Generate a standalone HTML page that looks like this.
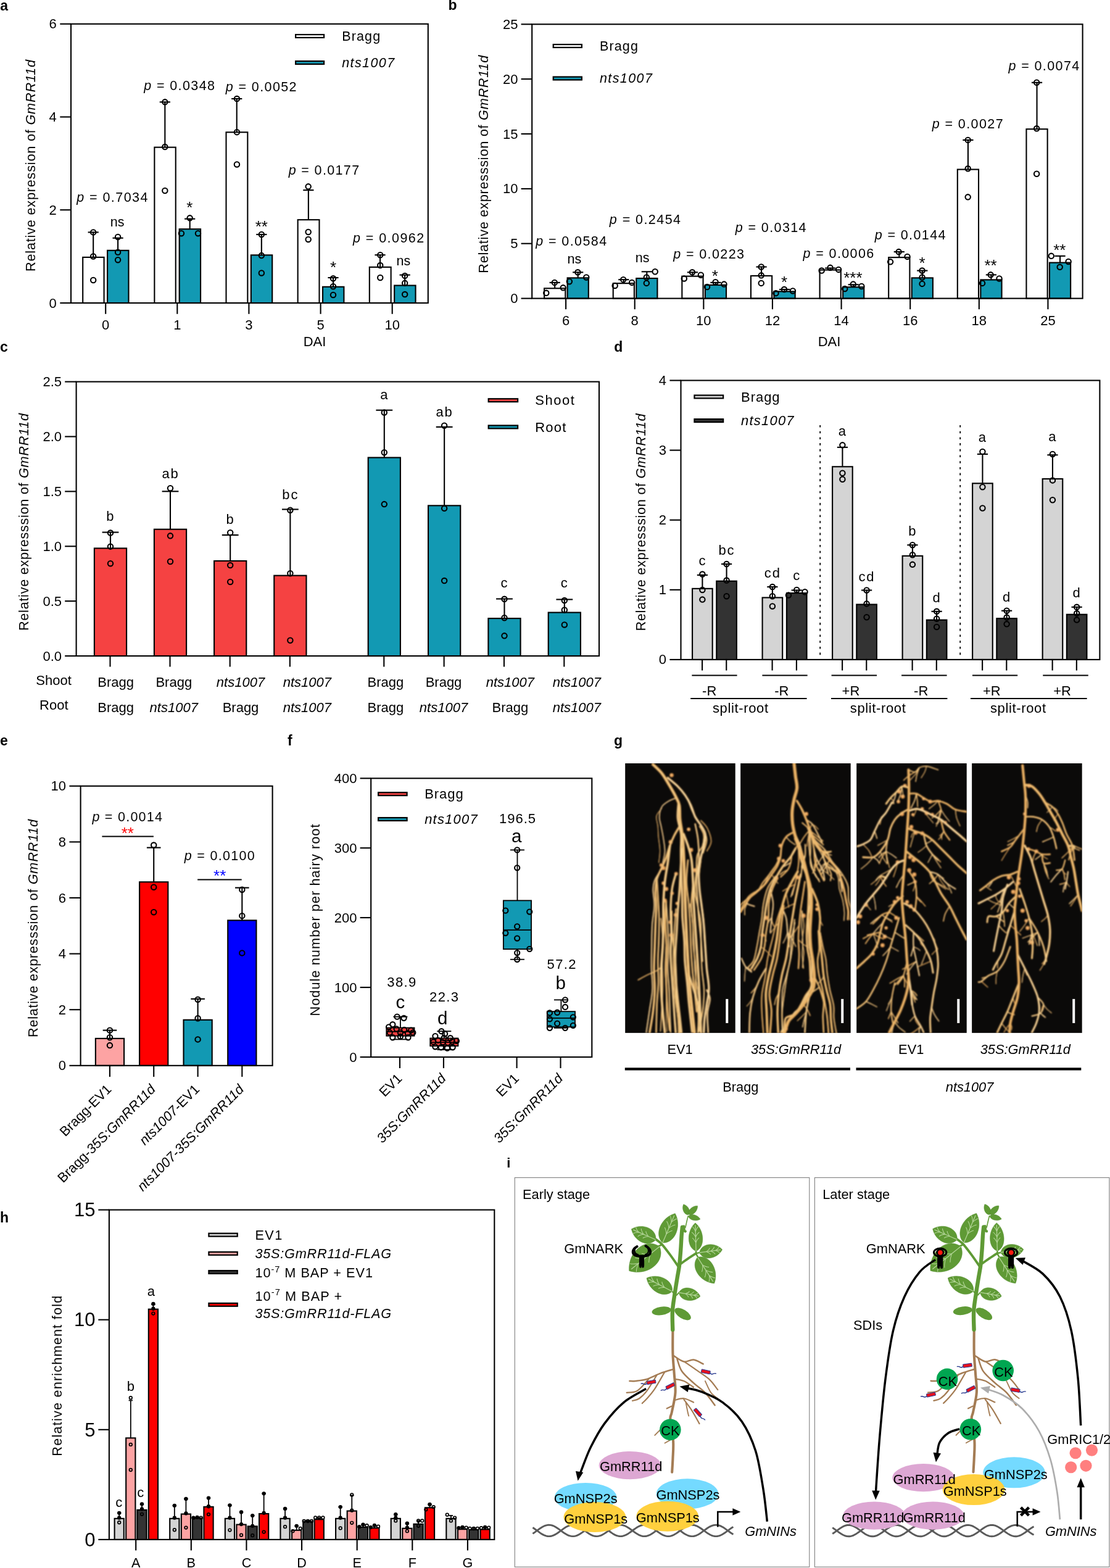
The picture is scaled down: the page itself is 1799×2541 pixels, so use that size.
<!DOCTYPE html>
<html lang="en"><head><meta charset="utf-8"><title>Figure</title>
<style>
html,body{margin:0;padding:0;background:#fff;}
body{width:1799px;height:2541px;overflow:hidden;}
svg{display:block;font-family:"Liberation Sans",Arial,Helvetica,sans-serif;}
svg text{white-space:pre;}
</style></head><body>
<svg width="1799" height="2541" viewBox="0 0 1799 2541">
<rect width="1799" height="2541" fill="#fff"/>
<text x="0.3" y="16.6" font-size="23" font-weight="bold">a</text>
<line x1="151.18" y1="416.31" x2="151.18" y2="376.4" stroke="#000" stroke-width="2.1" />
<line x1="142.58" y1="376.4" x2="159.78" y2="376.4" stroke="#000" stroke-width="2.1" />
<rect x="134.19" y="416.91" width="34.38" height="74.09" fill="#fff" stroke="#000" stroke-width="2.1" />
<line x1="191.08" y1="405.22" x2="191.08" y2="385.71" stroke="#000" stroke-width="2.1" />
<line x1="182.48" y1="385.71" x2="199.68" y2="385.71" stroke="#000" stroke-width="2.1" />
<rect x="174.09" y="405.82" width="34.38" height="85.18" fill="#1299B3" stroke="#000" stroke-width="2.1" />
<line x1="267.34" y1="238.08" x2="267.34" y2="165.37" stroke="#000" stroke-width="2.1" />
<line x1="258.74" y1="165.37" x2="275.94" y2="165.37" stroke="#000" stroke-width="2.1" />
<rect x="250.35" y="238.68" width="34.38" height="252.32" fill="#fff" stroke="#000" stroke-width="2.1" />
<line x1="307.68" y1="370.64" x2="307.68" y2="354.68" stroke="#000" stroke-width="2.1" />
<line x1="299.08" y1="354.68" x2="316.28" y2="354.68" stroke="#000" stroke-width="2.1" />
<rect x="290.69" y="371.24" width="34.38" height="119.76" fill="#1299B3" stroke="#000" stroke-width="2.1" />
<line x1="383.72" y1="213.69" x2="383.72" y2="160.05" stroke="#000" stroke-width="2.1" />
<line x1="375.12" y1="160.05" x2="392.32" y2="160.05" stroke="#000" stroke-width="2.1" />
<rect x="366.51" y="214.29" width="34.82" height="276.71" fill="#fff" stroke="#000" stroke-width="2.1" />
<line x1="423.84" y1="412.76" x2="423.84" y2="379.95" stroke="#000" stroke-width="2.1" />
<line x1="415.24" y1="379.95" x2="432.44" y2="379.95" stroke="#000" stroke-width="2.1" />
<rect x="406.85" y="413.36" width="34.38" height="77.64" fill="#1299B3" stroke="#000" stroke-width="2.1" />
<line x1="499.88" y1="355.57" x2="499.88" y2="308.13" stroke="#000" stroke-width="2.1" />
<line x1="491.28" y1="308.13" x2="508.48" y2="308.13" stroke="#000" stroke-width="2.1" />
<rect x="482.66" y="356.17" width="34.82" height="134.83" fill="#fff" stroke="#000" stroke-width="2.1" />
<line x1="540" y1="464.19" x2="540" y2="450" stroke="#000" stroke-width="2.1" />
<line x1="531.4" y1="450" x2="548.6" y2="450" stroke="#000" stroke-width="2.1" />
<rect x="523.01" y="464.79" width="34.38" height="26.21" fill="#1299B3" stroke="#000" stroke-width="2.1" />
<line x1="616.03" y1="432.27" x2="616.03" y2="413.2" stroke="#000" stroke-width="2.1" />
<line x1="607.43" y1="413.2" x2="624.63" y2="413.2" stroke="#000" stroke-width="2.1" />
<rect x="598.82" y="432.87" width="34.82" height="58.13" fill="#fff" stroke="#000" stroke-width="2.1" />
<line x1="656.16" y1="461.97" x2="656.16" y2="445.57" stroke="#000" stroke-width="2.1" />
<line x1="647.56" y1="445.57" x2="664.76" y2="445.57" stroke="#000" stroke-width="2.1" />
<rect x="639.17" y="462.57" width="34.38" height="28.43" fill="#1299B3" stroke="#000" stroke-width="2.1" />
<circle cx="151.18" cy="376.4" r="4.2" fill="none" stroke="#000" stroke-width="2.1"/>
<circle cx="151.18" cy="415.42" r="4.2" fill="none" stroke="#000" stroke-width="2.1"/>
<circle cx="151.18" cy="453.99" r="4.2" fill="none" stroke="#000" stroke-width="2.1"/>
<circle cx="191.08" cy="383.94" r="4.2" fill="none" stroke="#000" stroke-width="2.1"/>
<circle cx="191.08" cy="408.77" r="4.2" fill="none" stroke="#000" stroke-width="2.1"/>
<circle cx="191.08" cy="421.18" r="4.2" fill="none" stroke="#000" stroke-width="2.1"/>
<circle cx="267.34" cy="165.37" r="4.2" fill="none" stroke="#000" stroke-width="2.1"/>
<circle cx="267.34" cy="238.08" r="4.2" fill="none" stroke="#000" stroke-width="2.1"/>
<circle cx="267.34" cy="309.01" r="4.2" fill="none" stroke="#000" stroke-width="2.1"/>
<circle cx="307.68" cy="353.35" r="4.2" fill="none" stroke="#000" stroke-width="2.1"/>
<circle cx="293.94" cy="378.18" r="4.2" fill="none" stroke="#000" stroke-width="2.1"/>
<circle cx="320.99" cy="378.18" r="4.2" fill="none" stroke="#000" stroke-width="2.1"/>
<circle cx="383.94" cy="160.05" r="4.2" fill="none" stroke="#000" stroke-width="2.1"/>
<circle cx="383.94" cy="214.14" r="4.2" fill="none" stroke="#000" stroke-width="2.1"/>
<circle cx="383.94" cy="266.45" r="4.2" fill="none" stroke="#000" stroke-width="2.1"/>
<circle cx="423.84" cy="379.95" r="4.2" fill="none" stroke="#000" stroke-width="2.1"/>
<circle cx="423.84" cy="414.09" r="4.2" fill="none" stroke="#000" stroke-width="2.1"/>
<circle cx="423.84" cy="442.46" r="4.2" fill="none" stroke="#000" stroke-width="2.1"/>
<circle cx="499.66" cy="302.36" r="4.2" fill="none" stroke="#000" stroke-width="2.1"/>
<circle cx="499.66" cy="375.96" r="4.2" fill="none" stroke="#000" stroke-width="2.1"/>
<circle cx="499.66" cy="387.93" r="4.2" fill="none" stroke="#000" stroke-width="2.1"/>
<circle cx="540" cy="451.33" r="4.2" fill="none" stroke="#000" stroke-width="2.1"/>
<circle cx="540" cy="464.19" r="4.2" fill="none" stroke="#000" stroke-width="2.1"/>
<circle cx="540" cy="477.93" r="4.2" fill="none" stroke="#000" stroke-width="2.1"/>
<circle cx="616.26" cy="413.2" r="4.2" fill="none" stroke="#000" stroke-width="2.1"/>
<circle cx="616.26" cy="430.05" r="4.2" fill="none" stroke="#000" stroke-width="2.1"/>
<circle cx="616.26" cy="450" r="4.2" fill="none" stroke="#000" stroke-width="2.1"/>
<circle cx="656.16" cy="446.9" r="4.2" fill="none" stroke="#000" stroke-width="2.1"/>
<circle cx="656.16" cy="458.87" r="4.2" fill="none" stroke="#000" stroke-width="2.1"/>
<circle cx="656.16" cy="477.04" r="4.2" fill="none" stroke="#000" stroke-width="2.1"/>
<rect x="115" y="38.8" width="578.8" height="452.2" fill="none" stroke="#000" stroke-width="2.1" />
<line x1="97.3" y1="38.8" x2="115" y2="38.8" stroke="#000" stroke-width="2.1" />
<text x="91.8" y="46.39" font-size="22" text-anchor="end">6</text>
<line x1="97.3" y1="189.5" x2="115" y2="189.5" stroke="#000" stroke-width="2.1" />
<text x="91.8" y="197.09" font-size="22" text-anchor="end">4</text>
<line x1="97.3" y1="340.2" x2="115" y2="340.2" stroke="#000" stroke-width="2.1" />
<text x="91.8" y="347.79" font-size="22" text-anchor="end">2</text>
<line x1="97.3" y1="491" x2="115" y2="491" stroke="#000" stroke-width="2.1" />
<text x="91.8" y="498.59" font-size="22" text-anchor="end">0</text>
<line x1="171.2" y1="491" x2="171.2" y2="508.8" stroke="#000" stroke-width="2.1" />
<text x="171.2" y="533.89" font-size="22" text-anchor="middle">0</text>
<line x1="287.3" y1="491" x2="287.3" y2="508.8" stroke="#000" stroke-width="2.1" />
<text x="287.3" y="533.89" font-size="22" text-anchor="middle">1</text>
<line x1="403.4" y1="491" x2="403.4" y2="508.8" stroke="#000" stroke-width="2.1" />
<text x="403.4" y="533.89" font-size="22" text-anchor="middle">3</text>
<line x1="519.6" y1="491" x2="519.6" y2="508.8" stroke="#000" stroke-width="2.1" />
<text x="519.6" y="533.89" font-size="22" text-anchor="middle">5</text>
<line x1="635.7" y1="491" x2="635.7" y2="508.8" stroke="#000" stroke-width="2.1" />
<text x="635.7" y="533.89" font-size="22" text-anchor="middle">10</text>
<text x="510" y="561.09" font-size="22" text-anchor="middle">DAI</text>
<text font-size="21.7" text-anchor="middle" textLength="343" lengthAdjust="spacing" transform="translate(57.3 268.5) rotate(-90)">Relative expression of <tspan font-style="italic">GmRR11d</tspan></text>
<text x="124.14" y="327.22" font-size="21.5" textLength="115.27" lengthAdjust="spacing"><tspan font-style="italic">p</tspan> = 0.7034</text>
<text x="233.2" y="145.89" font-size="21.5" textLength="114.83" lengthAdjust="spacing"><tspan font-style="italic">p</tspan> = 0.0348</text>
<text x="365.76" y="148.1" font-size="21.5" textLength="114.83" lengthAdjust="spacing"><tspan font-style="italic">p</tspan> = 0.0052</text>
<text x="467.73" y="282.88" font-size="21.5" textLength="114.38" lengthAdjust="spacing"><tspan font-style="italic">p</tspan> = 0.0177</text>
<text x="571.92" y="392.83" font-size="21.5" textLength="115.27" lengthAdjust="spacing"><tspan font-style="italic">p</tspan> = 0.0962</text>
<text x="190.2" y="367.03" font-size="21.5" text-anchor="middle">ns</text>
<text x="653.94" y="430.43" font-size="21.5" text-anchor="middle">ns</text>
<text x="307.24" y="344.81" font-size="26" text-anchor="middle">*</text>
<text x="423.84" y="375.85" font-size="26" text-anchor="middle">**</text>
<text x="540" y="442.35" font-size="26" text-anchor="middle">*</text>
<rect x="479.12" y="56.07" width="45.95" height="4.9" fill="#fff" stroke="#000" stroke-width="2.2" />
<text x="554.19" y="65.94" font-size="21.5" textLength="62" lengthAdjust="spacing">Bragg</text>
<rect x="479.12" y="99.08" width="45.95" height="4.9" fill="#1299B3" stroke="#000" stroke-width="2.2" />
<text x="554.19" y="108.94" font-size="21.5" textLength="85" lengthAdjust="spacing"><tspan font-style="italic">nts1007</tspan></text>
<text x="726.5" y="16.3" font-size="23" font-weight="bold">b</text>
<line x1="899.2" y1="466.69" x2="899.2" y2="457.88" stroke="#000" stroke-width="2.1" />
<line x1="890.6" y1="457.88" x2="907.8" y2="457.88" stroke="#000" stroke-width="2.1" />
<rect x="882.1" y="467.29" width="34.2" height="16.31" fill="#fff" stroke="#000" stroke-width="2.1" />
<line x1="936.7" y1="449.75" x2="936.7" y2="441.29" stroke="#000" stroke-width="2.1" />
<line x1="928.1" y1="441.29" x2="945.3" y2="441.29" stroke="#000" stroke-width="2.1" />
<rect x="919.6" y="450.35" width="34.2" height="33.25" fill="#1299B3" stroke="#000" stroke-width="2.1" />
<line x1="1010.82" y1="458.56" x2="1010.82" y2="453.14" stroke="#000" stroke-width="2.1" />
<line x1="1002.22" y1="453.14" x2="1019.42" y2="453.14" stroke="#000" stroke-width="2.1" />
<rect x="993.72" y="459.16" width="34.2" height="24.44" fill="#fff" stroke="#000" stroke-width="2.1" />
<line x1="1048.32" y1="450.43" x2="1048.32" y2="440.27" stroke="#000" stroke-width="2.1" />
<line x1="1039.72" y1="440.27" x2="1056.92" y2="440.27" stroke="#000" stroke-width="2.1" />
<rect x="1031.22" y="451.03" width="34.2" height="32.57" fill="#1299B3" stroke="#000" stroke-width="2.1" />
<line x1="1122.44" y1="447.04" x2="1122.44" y2="441.29" stroke="#000" stroke-width="2.1" />
<line x1="1113.84" y1="441.29" x2="1131.04" y2="441.29" stroke="#000" stroke-width="2.1" />
<rect x="1105.34" y="447.64" width="34.2" height="35.96" fill="#fff" stroke="#000" stroke-width="2.1" />
<line x1="1159.94" y1="461.27" x2="1159.94" y2="457.88" stroke="#000" stroke-width="2.1" />
<line x1="1151.34" y1="457.88" x2="1168.54" y2="457.88" stroke="#000" stroke-width="2.1" />
<rect x="1142.84" y="461.87" width="34.2" height="21.73" fill="#1299B3" stroke="#000" stroke-width="2.1" />
<line x1="1234.06" y1="446.37" x2="1234.06" y2="432.48" stroke="#000" stroke-width="2.1" />
<line x1="1225.46" y1="432.48" x2="1242.66" y2="432.48" stroke="#000" stroke-width="2.1" />
<rect x="1216.96" y="446.97" width="34.2" height="36.63" fill="#fff" stroke="#000" stroke-width="2.1" />
<line x1="1271.56" y1="471.77" x2="1271.56" y2="469.06" stroke="#000" stroke-width="2.1" />
<line x1="1262.96" y1="469.06" x2="1280.16" y2="469.06" stroke="#000" stroke-width="2.1" />
<rect x="1254.46" y="472.37" width="34.2" height="11.23" fill="#1299B3" stroke="#000" stroke-width="2.1" />
<line x1="1345.68" y1="436.88" x2="1345.68" y2="434.51" stroke="#000" stroke-width="2.1" />
<line x1="1337.08" y1="434.51" x2="1354.28" y2="434.51" stroke="#000" stroke-width="2.1" />
<rect x="1328.58" y="437.48" width="34.2" height="46.12" fill="#fff" stroke="#000" stroke-width="2.1" />
<line x1="1383.18" y1="464.66" x2="1383.18" y2="461.27" stroke="#000" stroke-width="2.1" />
<line x1="1374.58" y1="461.27" x2="1391.78" y2="461.27" stroke="#000" stroke-width="2.1" />
<rect x="1366.08" y="465.26" width="34.2" height="18.34" fill="#1299B3" stroke="#000" stroke-width="2.1" />
<line x1="1457.3" y1="416.56" x2="1457.3" y2="408.1" stroke="#000" stroke-width="2.1" />
<line x1="1448.7" y1="408.1" x2="1465.9" y2="408.1" stroke="#000" stroke-width="2.1" />
<rect x="1440.2" y="417.16" width="34.2" height="66.44" fill="#fff" stroke="#000" stroke-width="2.1" />
<line x1="1494.8" y1="449.75" x2="1494.8" y2="438.58" stroke="#000" stroke-width="2.1" />
<line x1="1486.2" y1="438.58" x2="1503.4" y2="438.58" stroke="#000" stroke-width="2.1" />
<rect x="1477.7" y="450.35" width="34.2" height="33.25" fill="#1299B3" stroke="#000" stroke-width="2.1" />
<line x1="1568.92" y1="273.98" x2="1568.92" y2="226.91" stroke="#000" stroke-width="2.1" />
<line x1="1560.32" y1="226.91" x2="1577.52" y2="226.91" stroke="#000" stroke-width="2.1" />
<rect x="1551.82" y="274.58" width="34.2" height="209.02" fill="#fff" stroke="#000" stroke-width="2.1" />
<line x1="1606.42" y1="452.8" x2="1606.42" y2="445.35" stroke="#000" stroke-width="2.1" />
<line x1="1597.82" y1="445.35" x2="1615.02" y2="445.35" stroke="#000" stroke-width="2.1" />
<rect x="1589.32" y="453.4" width="34.2" height="30.2" fill="#1299B3" stroke="#000" stroke-width="2.1" />
<line x1="1680.54" y1="208.62" x2="1680.54" y2="133.77" stroke="#000" stroke-width="2.1" />
<line x1="1671.94" y1="133.77" x2="1689.14" y2="133.77" stroke="#000" stroke-width="2.1" />
<rect x="1663.44" y="209.22" width="34.2" height="274.38" fill="#fff" stroke="#000" stroke-width="2.1" />
<line x1="1718.04" y1="425.03" x2="1718.04" y2="414.87" stroke="#000" stroke-width="2.1" />
<line x1="1709.44" y1="414.87" x2="1726.64" y2="414.87" stroke="#000" stroke-width="2.1" />
<rect x="1700.94" y="425.63" width="34.2" height="57.97" fill="#1299B3" stroke="#000" stroke-width="2.1" />
<circle cx="885.25" cy="474.82" r="4.2" fill="none" stroke="#000" stroke-width="2.1"/>
<circle cx="898.8" cy="457.88" r="4.2" fill="none" stroke="#000" stroke-width="2.1"/>
<circle cx="912.68" cy="466.35" r="4.2" fill="none" stroke="#000" stroke-width="2.1"/>
<circle cx="922.84" cy="456.19" r="4.2" fill="none" stroke="#000" stroke-width="2.1"/>
<circle cx="936.39" cy="441.29" r="4.2" fill="none" stroke="#000" stroke-width="2.1"/>
<circle cx="950.28" cy="449.42" r="4.2" fill="none" stroke="#000" stroke-width="2.1"/>
<circle cx="996.67" cy="462.96" r="4.2" fill="none" stroke="#000" stroke-width="2.1"/>
<circle cx="1010.22" cy="453.14" r="4.2" fill="none" stroke="#000" stroke-width="2.1"/>
<circle cx="1024.11" cy="457.88" r="4.2" fill="none" stroke="#000" stroke-width="2.1"/>
<circle cx="1047.81" cy="449.42" r="4.2" fill="none" stroke="#000" stroke-width="2.1"/>
<circle cx="1047.81" cy="458.9" r="4.2" fill="none" stroke="#000" stroke-width="2.1"/>
<circle cx="1061.7" cy="440.27" r="4.2" fill="none" stroke="#000" stroke-width="2.1"/>
<circle cx="1108.77" cy="451.45" r="4.2" fill="none" stroke="#000" stroke-width="2.1"/>
<circle cx="1121.98" cy="441.29" r="4.2" fill="none" stroke="#000" stroke-width="2.1"/>
<circle cx="1135.87" cy="445.69" r="4.2" fill="none" stroke="#000" stroke-width="2.1"/>
<circle cx="1146.03" cy="464.99" r="4.2" fill="none" stroke="#000" stroke-width="2.1"/>
<circle cx="1159.58" cy="457.2" r="4.2" fill="none" stroke="#000" stroke-width="2.1"/>
<circle cx="1173.46" cy="460.59" r="4.2" fill="none" stroke="#000" stroke-width="2.1"/>
<circle cx="1233.74" cy="432.48" r="4.2" fill="none" stroke="#000" stroke-width="2.1"/>
<circle cx="1233.74" cy="446.37" r="4.2" fill="none" stroke="#000" stroke-width="2.1"/>
<circle cx="1233.74" cy="458.9" r="4.2" fill="none" stroke="#000" stroke-width="2.1"/>
<circle cx="1257.47" cy="475.15" r="4.2" fill="none" stroke="#000" stroke-width="2.1"/>
<circle cx="1271.01" cy="469.06" r="4.2" fill="none" stroke="#000" stroke-width="2.1"/>
<circle cx="1284.9" cy="471.43" r="4.2" fill="none" stroke="#000" stroke-width="2.1"/>
<circle cx="1331.64" cy="438.58" r="4.2" fill="none" stroke="#000" stroke-width="2.1"/>
<circle cx="1345.52" cy="433.84" r="4.2" fill="none" stroke="#000" stroke-width="2.1"/>
<circle cx="1359.07" cy="436.88" r="4.2" fill="none" stroke="#000" stroke-width="2.1"/>
<circle cx="1369.23" cy="468.04" r="4.2" fill="none" stroke="#000" stroke-width="2.1"/>
<circle cx="1382.77" cy="460.59" r="4.2" fill="none" stroke="#000" stroke-width="2.1"/>
<circle cx="1396.32" cy="463.98" r="4.2" fill="none" stroke="#000" stroke-width="2.1"/>
<circle cx="1443.06" cy="424.35" r="4.2" fill="none" stroke="#000" stroke-width="2.1"/>
<circle cx="1456.6" cy="408.1" r="4.2" fill="none" stroke="#000" stroke-width="2.1"/>
<circle cx="1470.49" cy="415.89" r="4.2" fill="none" stroke="#000" stroke-width="2.1"/>
<circle cx="1494.54" cy="438.58" r="4.2" fill="none" stroke="#000" stroke-width="2.1"/>
<circle cx="1494.54" cy="449.42" r="4.2" fill="none" stroke="#000" stroke-width="2.1"/>
<circle cx="1494.54" cy="459.91" r="4.2" fill="none" stroke="#000" stroke-width="2.1"/>
<circle cx="1568.7" cy="226.91" r="4.2" fill="none" stroke="#000" stroke-width="2.1"/>
<circle cx="1568.7" cy="273.31" r="4.2" fill="none" stroke="#000" stroke-width="2.1"/>
<circle cx="1568.7" cy="319.37" r="4.2" fill="none" stroke="#000" stroke-width="2.1"/>
<circle cx="1592.07" cy="458.9" r="4.2" fill="none" stroke="#000" stroke-width="2.1"/>
<circle cx="1605.62" cy="445.35" r="4.2" fill="none" stroke="#000" stroke-width="2.1"/>
<circle cx="1619.5" cy="451.45" r="4.2" fill="none" stroke="#000" stroke-width="2.1"/>
<circle cx="1680.13" cy="133.77" r="4.2" fill="none" stroke="#000" stroke-width="2.1"/>
<circle cx="1680.13" cy="208.28" r="4.2" fill="none" stroke="#000" stroke-width="2.1"/>
<circle cx="1680.13" cy="281.77" r="4.2" fill="none" stroke="#000" stroke-width="2.1"/>
<circle cx="1703.83" cy="414.87" r="4.2" fill="none" stroke="#000" stroke-width="2.1"/>
<circle cx="1717.72" cy="432.82" r="4.2" fill="none" stroke="#000" stroke-width="2.1"/>
<circle cx="1731.6" cy="424.01" r="4.2" fill="none" stroke="#000" stroke-width="2.1"/>
<rect x="862.2" y="39.3" width="892.4" height="444.3" fill="none" stroke="#000" stroke-width="2.1" />
<line x1="844.6" y1="39.3" x2="862.2" y2="39.3" stroke="#000" stroke-width="2.1" />
<text x="839.5" y="46.89" font-size="22" text-anchor="end">25</text>
<line x1="844.6" y1="128.1" x2="862.2" y2="128.1" stroke="#000" stroke-width="2.1" />
<text x="839.5" y="135.69" font-size="22" text-anchor="end">20</text>
<line x1="844.6" y1="217" x2="862.2" y2="217" stroke="#000" stroke-width="2.1" />
<text x="839.5" y="224.59" font-size="22" text-anchor="end">15</text>
<line x1="844.6" y1="305.9" x2="862.2" y2="305.9" stroke="#000" stroke-width="2.1" />
<text x="839.5" y="313.49" font-size="22" text-anchor="end">10</text>
<line x1="844.6" y1="394.7" x2="862.2" y2="394.7" stroke="#000" stroke-width="2.1" />
<text x="839.5" y="402.29" font-size="22" text-anchor="end">5</text>
<line x1="844.6" y1="483.6" x2="862.2" y2="483.6" stroke="#000" stroke-width="2.1" />
<text x="839.5" y="491.19" font-size="22" text-anchor="end">0</text>
<line x1="917.1" y1="483.6" x2="917.1" y2="501.2" stroke="#000" stroke-width="2.1" />
<text x="917.1" y="527.39" font-size="22" text-anchor="middle">6</text>
<line x1="1028.72" y1="483.6" x2="1028.72" y2="501.2" stroke="#000" stroke-width="2.1" />
<text x="1028.72" y="527.39" font-size="22" text-anchor="middle">8</text>
<line x1="1140.34" y1="483.6" x2="1140.34" y2="501.2" stroke="#000" stroke-width="2.1" />
<text x="1140.34" y="527.39" font-size="22" text-anchor="middle">10</text>
<line x1="1251.96" y1="483.6" x2="1251.96" y2="501.2" stroke="#000" stroke-width="2.1" />
<text x="1251.96" y="527.39" font-size="22" text-anchor="middle">12</text>
<line x1="1363.58" y1="483.6" x2="1363.58" y2="501.2" stroke="#000" stroke-width="2.1" />
<text x="1363.58" y="527.39" font-size="22" text-anchor="middle">14</text>
<line x1="1475.2" y1="483.6" x2="1475.2" y2="501.2" stroke="#000" stroke-width="2.1" />
<text x="1475.2" y="527.39" font-size="22" text-anchor="middle">16</text>
<line x1="1586.82" y1="483.6" x2="1586.82" y2="501.2" stroke="#000" stroke-width="2.1" />
<text x="1586.82" y="527.39" font-size="22" text-anchor="middle">18</text>
<line x1="1698.44" y1="483.6" x2="1698.44" y2="501.2" stroke="#000" stroke-width="2.1" />
<text x="1698.44" y="527.39" font-size="22" text-anchor="middle">25</text>
<text x="1344" y="561.09" font-size="22" text-anchor="middle">DAI</text>
<text font-size="21.7" text-anchor="middle" textLength="353" lengthAdjust="spacing" transform="translate(791.3 266.2) rotate(-90)">Relative expresssion of <tspan font-style="italic">GmRR11d</tspan></text>
<text x="868.32" y="397.6" font-size="21.5" textLength="114.81" lengthAdjust="spacing"><tspan font-style="italic">p</tspan> = 0.0584</text>
<text x="987.87" y="362.72" font-size="21.5" textLength="115.15" lengthAdjust="spacing"><tspan font-style="italic">p</tspan> = 0.2454</text>
<text x="1091.16" y="419.28" font-size="21.5" textLength="114.81" lengthAdjust="spacing"><tspan font-style="italic">p</tspan> = 0.0223</text>
<text x="1191.75" y="375.59" font-size="21.5" textLength="114.83" lengthAdjust="spacing"><tspan font-style="italic">p</tspan> = 0.0314</text>
<text x="1301.49" y="417.59" font-size="21.5" textLength="114.81" lengthAdjust="spacing"><tspan font-style="italic">p</tspan> = 0.0006</text>
<text x="1417.66" y="388.12" font-size="21.5" textLength="114.81" lengthAdjust="spacing"><tspan font-style="italic">p</tspan> = 0.0144</text>
<text x="1510.79" y="207.95" font-size="21.5" textLength="114.81" lengthAdjust="spacing"><tspan font-style="italic">p</tspan> = 0.0027</text>
<text x="1634.41" y="114.14" font-size="21.5" textLength="114.81" lengthAdjust="spacing"><tspan font-style="italic">p</tspan> = 0.0074</text>
<text x="930.97" y="426.66" font-size="21.5" text-anchor="middle">ns</text>
<text x="1041.04" y="424.97" font-size="21.5" text-anchor="middle">ns</text>
<text x="1158.9" y="455.96" font-size="26" text-anchor="middle">*</text>
<text x="1271.01" y="466.12" font-size="26" text-anchor="middle">*</text>
<text x="1382.44" y="459.34" font-size="26" text-anchor="middle">***</text>
<text x="1494.54" y="434.62" font-size="26" text-anchor="middle">*</text>
<text x="1605.62" y="439.02" font-size="26" text-anchor="middle">**</text>
<text x="1717.38" y="414.3" font-size="26" text-anchor="middle">**</text>
<rect x="896.73" y="72.06" width="46.14" height="4.9" fill="#fff" stroke="#000" stroke-width="2.2" />
<text x="971.95" y="81.92" font-size="21.5" textLength="62" lengthAdjust="spacing">Bragg</text>
<rect x="896.73" y="124.55" width="46.14" height="4.9" fill="#1299B3" stroke="#000" stroke-width="2.2" />
<text x="971.95" y="134.42" font-size="21.5" textLength="85" lengthAdjust="spacing"><tspan font-style="italic">nts1007</tspan></text>
<text x="0" y="570" font-size="23" font-weight="bold">c</text>
<line x1="178.99" y1="887.88" x2="178.99" y2="862.59" stroke="#000" stroke-width="2.1" />
<line x1="165.59" y1="862.59" x2="192.39" y2="862.59" stroke="#000" stroke-width="2.1" />
<rect x="152.89" y="888.48" width="52.2" height="174.52" fill="#F54242" stroke="#000" stroke-width="2.1" />
<circle cx="178.99" cy="863.55" r="4.2" fill="none" stroke="#000" stroke-width="2.1"/>
<circle cx="178.99" cy="885.64" r="4.2" fill="none" stroke="#000" stroke-width="2.1"/>
<circle cx="178.99" cy="913.18" r="4.2" fill="none" stroke="#000" stroke-width="2.1"/>
<text x="178.49" y="844" font-size="22" text-anchor="middle">b</text>
<line x1="178.49" y1="1063" x2="178.49" y2="1080.5" stroke="#000" stroke-width="2.1" />
<line x1="276.01" y1="857.14" x2="276.01" y2="796.31" stroke="#000" stroke-width="2.1" />
<line x1="262.61" y1="796.31" x2="289.41" y2="796.31" stroke="#000" stroke-width="2.1" />
<rect x="249.91" y="857.74" width="52.2" height="205.26" fill="#F54242" stroke="#000" stroke-width="2.1" />
<circle cx="276.01" cy="791.18" r="4.2" fill="none" stroke="#000" stroke-width="2.1"/>
<circle cx="276.01" cy="868.35" r="4.2" fill="none" stroke="#000" stroke-width="2.1"/>
<circle cx="276.01" cy="909.98" r="4.2" fill="none" stroke="#000" stroke-width="2.1"/>
<text x="275.51" y="775.16" font-size="22" text-anchor="middle" textLength="26.27" lengthAdjust="spacing">ab</text>
<line x1="275.51" y1="1063" x2="275.51" y2="1080.5" stroke="#000" stroke-width="2.1" />
<line x1="373.19" y1="908.37" x2="373.19" y2="867.07" stroke="#000" stroke-width="2.1" />
<line x1="359.79" y1="867.07" x2="386.59" y2="867.07" stroke="#000" stroke-width="2.1" />
<rect x="347.09" y="908.97" width="52.2" height="154.03" fill="#F54242" stroke="#000" stroke-width="2.1" />
<circle cx="373.19" cy="863.23" r="4.2" fill="none" stroke="#000" stroke-width="2.1"/>
<circle cx="373.19" cy="916.06" r="4.2" fill="none" stroke="#000" stroke-width="2.1"/>
<circle cx="373.19" cy="942.96" r="4.2" fill="none" stroke="#000" stroke-width="2.1"/>
<text x="372.69" y="848.8" font-size="22" text-anchor="middle">b</text>
<line x1="372.69" y1="1063" x2="372.69" y2="1080.5" stroke="#000" stroke-width="2.1" />
<line x1="470.37" y1="932.07" x2="470.37" y2="825.44" stroke="#000" stroke-width="2.1" />
<line x1="456.97" y1="825.44" x2="483.77" y2="825.44" stroke="#000" stroke-width="2.1" />
<rect x="444.27" y="932.67" width="52.2" height="130.33" fill="#F54242" stroke="#000" stroke-width="2.1" />
<circle cx="470.37" cy="826.72" r="4.2" fill="none" stroke="#000" stroke-width="2.1"/>
<circle cx="470.37" cy="929.19" r="4.2" fill="none" stroke="#000" stroke-width="2.1"/>
<circle cx="470.37" cy="1037.73" r="4.2" fill="none" stroke="#000" stroke-width="2.1"/>
<text x="469.87" y="809.42" font-size="22" text-anchor="middle" textLength="25.04" lengthAdjust="spacing">bc</text>
<line x1="469.87" y1="1063" x2="469.87" y2="1080.5" stroke="#000" stroke-width="2.1" />
<line x1="622.8" y1="740.91" x2="622.8" y2="664.7" stroke="#000" stroke-width="2.1" />
<line x1="609.4" y1="664.7" x2="636.2" y2="664.7" stroke="#000" stroke-width="2.1" />
<rect x="596.7" y="741.51" width="52.2" height="321.49" fill="#1299B3" stroke="#000" stroke-width="2.1" />
<circle cx="622.8" cy="668.55" r="4.2" fill="none" stroke="#000" stroke-width="2.1"/>
<circle cx="622.8" cy="733.23" r="4.2" fill="none" stroke="#000" stroke-width="2.1"/>
<circle cx="622.8" cy="817.12" r="4.2" fill="none" stroke="#000" stroke-width="2.1"/>
<text x="622.3" y="647.48" font-size="22" text-anchor="middle">a</text>
<line x1="622.3" y1="1063" x2="622.3" y2="1080.5" stroke="#000" stroke-width="2.1" />
<line x1="720.14" y1="818.72" x2="720.14" y2="691.92" stroke="#000" stroke-width="2.1" />
<line x1="706.74" y1="691.92" x2="733.54" y2="691.92" stroke="#000" stroke-width="2.1" />
<rect x="694.04" y="819.32" width="52.2" height="243.68" fill="#1299B3" stroke="#000" stroke-width="2.1" />
<circle cx="720.14" cy="689.68" r="4.2" fill="none" stroke="#000" stroke-width="2.1"/>
<circle cx="720.14" cy="823.84" r="4.2" fill="none" stroke="#000" stroke-width="2.1"/>
<circle cx="720.14" cy="941.03" r="4.2" fill="none" stroke="#000" stroke-width="2.1"/>
<text x="719.64" y="675.26" font-size="22" text-anchor="middle" textLength="26.27" lengthAdjust="spacing">ab</text>
<line x1="719.64" y1="1063" x2="719.64" y2="1080.5" stroke="#000" stroke-width="2.1" />
<line x1="817.48" y1="1001.55" x2="817.48" y2="970.49" stroke="#000" stroke-width="2.1" />
<line x1="804.08" y1="970.49" x2="830.88" y2="970.49" stroke="#000" stroke-width="2.1" />
<rect x="791.38" y="1002.15" width="52.2" height="60.85" fill="#1299B3" stroke="#000" stroke-width="2.1" />
<circle cx="817.48" cy="970.81" r="4.2" fill="none" stroke="#000" stroke-width="2.1"/>
<circle cx="817.48" cy="1001.23" r="4.2" fill="none" stroke="#000" stroke-width="2.1"/>
<circle cx="817.48" cy="1030.37" r="4.2" fill="none" stroke="#000" stroke-width="2.1"/>
<text x="816.98" y="952.31" font-size="22" text-anchor="middle">c</text>
<line x1="816.98" y1="1063" x2="816.98" y2="1080.5" stroke="#000" stroke-width="2.1" />
<line x1="914.82" y1="991.95" x2="914.82" y2="971.45" stroke="#000" stroke-width="2.1" />
<line x1="901.42" y1="971.45" x2="928.22" y2="971.45" stroke="#000" stroke-width="2.1" />
<rect x="888.72" y="992.55" width="52.2" height="70.45" fill="#1299B3" stroke="#000" stroke-width="2.1" />
<circle cx="914.82" cy="973.05" r="4.2" fill="none" stroke="#000" stroke-width="2.1"/>
<circle cx="914.82" cy="988.42" r="4.2" fill="none" stroke="#000" stroke-width="2.1"/>
<circle cx="914.82" cy="1012.44" r="4.2" fill="none" stroke="#000" stroke-width="2.1"/>
<text x="914.32" y="952.31" font-size="22" text-anchor="middle">c</text>
<line x1="914.32" y1="1063" x2="914.32" y2="1080.5" stroke="#000" stroke-width="2.1" />
<rect x="123.6" y="618.6" width="847.4" height="444.4" fill="none" stroke="#000" stroke-width="2.1" />
<line x1="105.2" y1="618.6" x2="123.6" y2="618.6" stroke="#000" stroke-width="2.1" />
<text x="100" y="626.19" font-size="22" text-anchor="end">2.5</text>
<line x1="105.2" y1="707.5" x2="123.6" y2="707.5" stroke="#000" stroke-width="2.1" />
<text x="100" y="715.09" font-size="22" text-anchor="end">2.0</text>
<line x1="105.2" y1="796.4" x2="123.6" y2="796.4" stroke="#000" stroke-width="2.1" />
<text x="100" y="803.99" font-size="22" text-anchor="end">1.5</text>
<line x1="105.2" y1="885.3" x2="123.6" y2="885.3" stroke="#000" stroke-width="2.1" />
<text x="100" y="892.89" font-size="22" text-anchor="end">1.0</text>
<line x1="105.2" y1="974.1" x2="123.6" y2="974.1" stroke="#000" stroke-width="2.1" />
<text x="100" y="981.69" font-size="22" text-anchor="end">0.5</text>
<line x1="105.2" y1="1063" x2="123.6" y2="1063" stroke="#000" stroke-width="2.1" />
<text x="100" y="1070.59" font-size="22" text-anchor="end">0.0</text>
<text font-size="21.7" text-anchor="middle" textLength="352" lengthAdjust="spacing" transform="translate(46.3 846) rotate(-90)">Relative expresssion of <tspan font-style="italic">GmRR11d</tspan></text>
<text x="58.28" y="1110.32" font-size="22">Shoot</text>
<text x="64.04" y="1150.35" font-size="22">Root</text>
<text x="187.64" y="1112.89" font-size="22" text-anchor="middle">Bragg</text>
<text x="281.77" y="1112.89" font-size="22" text-anchor="middle">Bragg</text>
<text x="390" y="1112.89" font-size="22" text-anchor="middle"><tspan font-style="italic">nts1007</tspan></text>
<text x="497.91" y="1112.89" font-size="22" text-anchor="middle"><tspan font-style="italic">nts1007</tspan></text>
<text x="624.88" y="1112.89" font-size="22" text-anchor="middle">Bragg</text>
<text x="719.01" y="1112.89" font-size="22" text-anchor="middle">Bragg</text>
<text x="826.92" y="1112.89" font-size="22" text-anchor="middle"><tspan font-style="italic">nts1007</tspan></text>
<text x="934.83" y="1112.89" font-size="22" text-anchor="middle"><tspan font-style="italic">nts1007</tspan></text>
<text x="187.64" y="1153.55" font-size="22" text-anchor="middle">Bragg</text>
<text x="281.77" y="1153.55" font-size="22" text-anchor="middle"><tspan font-style="italic">nts1007</tspan></text>
<text x="390" y="1153.55" font-size="22" text-anchor="middle">Bragg</text>
<text x="497.91" y="1153.55" font-size="22" text-anchor="middle"><tspan font-style="italic">nts1007</tspan></text>
<text x="624.88" y="1153.55" font-size="22" text-anchor="middle">Bragg</text>
<text x="719.01" y="1153.55" font-size="22" text-anchor="middle"><tspan font-style="italic">nts1007</tspan></text>
<text x="826.92" y="1153.55" font-size="22" text-anchor="middle">Bragg</text>
<text x="934.83" y="1153.55" font-size="22" text-anchor="middle"><tspan font-style="italic">nts1007</tspan></text>
<rect x="791.68" y="646.24" width="47.43" height="4.9" fill="#F54242" stroke="#000" stroke-width="2.2" />
<text x="867.27" y="656.28" font-size="22" textLength="63.5" lengthAdjust="spacing">Shoot</text>
<rect x="791.68" y="689.47" width="47.43" height="4.9" fill="#1299B3" stroke="#000" stroke-width="2.2" />
<text x="867.27" y="699.51" font-size="22" textLength="50" lengthAdjust="spacing">Root</text>
<text x="995.3" y="570" font-size="23" font-weight="bold">d</text>
<line x1="1138.38" y1="953.24" x2="1138.38" y2="931.89" stroke="#000" stroke-width="2.1" />
<line x1="1129.78" y1="931.89" x2="1146.98" y2="931.89" stroke="#000" stroke-width="2.1" />
<rect x="1122.08" y="953.84" width="32.6" height="115.06" fill="#D4D4D4" stroke="#000" stroke-width="2.1" />
<circle cx="1138.38" cy="930.54" r="4.2" fill="none" stroke="#000" stroke-width="2.1"/>
<circle cx="1138.38" cy="955.95" r="4.2" fill="none" stroke="#000" stroke-width="2.1"/>
<circle cx="1138.38" cy="971.62" r="4.2" fill="none" stroke="#000" stroke-width="2.1"/>
<text x="1137.88" y="916.37" font-size="22" text-anchor="middle">c</text>
<line x1="1138.08" y1="1068.9" x2="1138.08" y2="1086.5" stroke="#000" stroke-width="2.1" />
<line x1="1177.57" y1="941.08" x2="1177.57" y2="914.05" stroke="#000" stroke-width="2.1" />
<line x1="1168.97" y1="914.05" x2="1186.17" y2="914.05" stroke="#000" stroke-width="2.1" />
<rect x="1161.27" y="941.68" width="32.6" height="127.22" fill="#333333" stroke="#000" stroke-width="2.1" />
<circle cx="1177.57" cy="914.05" r="4.2" fill="none" stroke="#000" stroke-width="2.1"/>
<circle cx="1177.57" cy="940.54" r="4.2" fill="none" stroke="#000" stroke-width="2.1"/>
<circle cx="1177.57" cy="966.22" r="4.2" fill="none" stroke="#000" stroke-width="2.1"/>
<text x="1177.07" y="898.92" font-size="22" text-anchor="middle" textLength="25.04" lengthAdjust="spacing">bc</text>
<line x1="1177.27" y1="1068.9" x2="1177.27" y2="1086.5" stroke="#000" stroke-width="2.1" />
<line x1="1251.89" y1="967.84" x2="1251.89" y2="951.08" stroke="#000" stroke-width="2.1" />
<line x1="1243.29" y1="951.08" x2="1260.49" y2="951.08" stroke="#000" stroke-width="2.1" />
<rect x="1235.59" y="968.44" width="32.6" height="100.46" fill="#D4D4D4" stroke="#000" stroke-width="2.1" />
<circle cx="1251.89" cy="951.08" r="4.2" fill="none" stroke="#000" stroke-width="2.1"/>
<circle cx="1251.89" cy="966.22" r="4.2" fill="none" stroke="#000" stroke-width="2.1"/>
<circle cx="1251.89" cy="982.43" r="4.2" fill="none" stroke="#000" stroke-width="2.1"/>
<text x="1251.39" y="935.95" font-size="22" text-anchor="middle" textLength="25.04" lengthAdjust="spacing">cd</text>
<line x1="1251.59" y1="1068.9" x2="1251.59" y2="1086.5" stroke="#000" stroke-width="2.1" />
<line x1="1291.22" y1="960.54" x2="1291.22" y2="956.49" stroke="#000" stroke-width="2.1" />
<line x1="1282.62" y1="956.49" x2="1299.82" y2="956.49" stroke="#000" stroke-width="2.1" />
<rect x="1274.92" y="961.14" width="32.6" height="107.76" fill="#333333" stroke="#000" stroke-width="2.1" />
<circle cx="1277.97" cy="964.59" r="4.2" fill="none" stroke="#000" stroke-width="2.1"/>
<circle cx="1291.22" cy="955.95" r="4.2" fill="none" stroke="#000" stroke-width="2.1"/>
<circle cx="1304.46" cy="959.19" r="4.2" fill="none" stroke="#000" stroke-width="2.1"/>
<text x="1290.72" y="940.15" font-size="22" text-anchor="middle">c</text>
<line x1="1290.92" y1="1068.9" x2="1290.92" y2="1086.5" stroke="#000" stroke-width="2.1" />
<line x1="1365.41" y1="755.68" x2="1365.41" y2="724.86" stroke="#000" stroke-width="2.1" />
<line x1="1356.81" y1="724.86" x2="1374.01" y2="724.86" stroke="#000" stroke-width="2.1" />
<rect x="1349.11" y="756.28" width="32.6" height="312.62" fill="#D4D4D4" stroke="#000" stroke-width="2.1" />
<circle cx="1365.41" cy="721.35" r="4.2" fill="none" stroke="#000" stroke-width="2.1"/>
<circle cx="1365.41" cy="766.76" r="4.2" fill="none" stroke="#000" stroke-width="2.1"/>
<circle cx="1365.41" cy="776.76" r="4.2" fill="none" stroke="#000" stroke-width="2.1"/>
<text x="1364.91" y="705.56" font-size="22" text-anchor="middle">a</text>
<line x1="1365.11" y1="1068.9" x2="1365.11" y2="1086.5" stroke="#000" stroke-width="2.1" />
<line x1="1404.59" y1="978.92" x2="1404.59" y2="956.49" stroke="#000" stroke-width="2.1" />
<line x1="1395.99" y1="956.49" x2="1413.19" y2="956.49" stroke="#000" stroke-width="2.1" />
<rect x="1388.29" y="979.52" width="32.6" height="89.38" fill="#333333" stroke="#000" stroke-width="2.1" />
<circle cx="1404.59" cy="956.49" r="4.2" fill="none" stroke="#000" stroke-width="2.1"/>
<circle cx="1404.59" cy="978.38" r="4.2" fill="none" stroke="#000" stroke-width="2.1"/>
<circle cx="1404.59" cy="1000.27" r="4.2" fill="none" stroke="#000" stroke-width="2.1"/>
<text x="1404.09" y="942.17" font-size="22" text-anchor="middle" textLength="25.04" lengthAdjust="spacing">cd</text>
<line x1="1404.29" y1="1068.9" x2="1404.29" y2="1086.5" stroke="#000" stroke-width="2.1" />
<line x1="1478.92" y1="900.27" x2="1478.92" y2="883.24" stroke="#000" stroke-width="2.1" />
<line x1="1470.32" y1="883.24" x2="1487.52" y2="883.24" stroke="#000" stroke-width="2.1" />
<rect x="1462.62" y="900.87" width="32.6" height="168.03" fill="#D4D4D4" stroke="#000" stroke-width="2.1" />
<circle cx="1478.92" cy="883.24" r="4.2" fill="none" stroke="#000" stroke-width="2.1"/>
<circle cx="1478.92" cy="899.19" r="4.2" fill="none" stroke="#000" stroke-width="2.1"/>
<circle cx="1478.92" cy="914.86" r="4.2" fill="none" stroke="#000" stroke-width="2.1"/>
<text x="1478.42" y="868.38" font-size="22" text-anchor="middle">b</text>
<line x1="1478.62" y1="1068.9" x2="1478.62" y2="1086.5" stroke="#000" stroke-width="2.1" />
<line x1="1518.11" y1="1004.05" x2="1518.11" y2="990.81" stroke="#000" stroke-width="2.1" />
<line x1="1509.51" y1="990.81" x2="1526.71" y2="990.81" stroke="#000" stroke-width="2.1" />
<rect x="1501.81" y="1004.65" width="32.6" height="64.25" fill="#333333" stroke="#000" stroke-width="2.1" />
<circle cx="1518.11" cy="990.81" r="4.2" fill="none" stroke="#000" stroke-width="2.1"/>
<circle cx="1518.11" cy="1002.7" r="4.2" fill="none" stroke="#000" stroke-width="2.1"/>
<circle cx="1518.11" cy="1015.95" r="4.2" fill="none" stroke="#000" stroke-width="2.1"/>
<text x="1517.61" y="976.49" font-size="22" text-anchor="middle">d</text>
<line x1="1517.81" y1="1068.9" x2="1517.81" y2="1086.5" stroke="#000" stroke-width="2.1" />
<line x1="1592.43" y1="782.7" x2="1592.43" y2="735.95" stroke="#000" stroke-width="2.1" />
<line x1="1583.83" y1="735.95" x2="1601.03" y2="735.95" stroke="#000" stroke-width="2.1" />
<rect x="1576.13" y="783.3" width="32.6" height="285.6" fill="#D4D4D4" stroke="#000" stroke-width="2.1" />
<circle cx="1592.43" cy="731.89" r="4.2" fill="none" stroke="#000" stroke-width="2.1"/>
<circle cx="1592.43" cy="789.19" r="4.2" fill="none" stroke="#000" stroke-width="2.1"/>
<circle cx="1592.43" cy="823.51" r="4.2" fill="none" stroke="#000" stroke-width="2.1"/>
<text x="1591.93" y="716.37" font-size="22" text-anchor="middle">a</text>
<line x1="1592.13" y1="1068.9" x2="1592.13" y2="1086.5" stroke="#000" stroke-width="2.1" />
<line x1="1631.62" y1="1001.62" x2="1631.62" y2="989.73" stroke="#000" stroke-width="2.1" />
<line x1="1623.02" y1="989.73" x2="1640.22" y2="989.73" stroke="#000" stroke-width="2.1" />
<rect x="1615.32" y="1002.22" width="32.6" height="66.68" fill="#333333" stroke="#000" stroke-width="2.1" />
<circle cx="1631.62" cy="989.73" r="4.2" fill="none" stroke="#000" stroke-width="2.1"/>
<circle cx="1631.62" cy="1000.54" r="4.2" fill="none" stroke="#000" stroke-width="2.1"/>
<circle cx="1631.62" cy="1011.35" r="4.2" fill="none" stroke="#000" stroke-width="2.1"/>
<text x="1631.12" y="975.14" font-size="22" text-anchor="middle">d</text>
<line x1="1631.32" y1="1068.9" x2="1631.32" y2="1086.5" stroke="#000" stroke-width="2.1" />
<line x1="1705.95" y1="775.41" x2="1705.95" y2="737.3" stroke="#000" stroke-width="2.1" />
<line x1="1697.35" y1="737.3" x2="1714.55" y2="737.3" stroke="#000" stroke-width="2.1" />
<rect x="1689.65" y="776.01" width="32.6" height="292.89" fill="#D4D4D4" stroke="#000" stroke-width="2.1" />
<circle cx="1705.95" cy="735.95" r="4.2" fill="none" stroke="#000" stroke-width="2.1"/>
<circle cx="1705.95" cy="778.38" r="4.2" fill="none" stroke="#000" stroke-width="2.1"/>
<circle cx="1705.95" cy="810.27" r="4.2" fill="none" stroke="#000" stroke-width="2.1"/>
<text x="1705.45" y="715.02" font-size="22" text-anchor="middle">a</text>
<line x1="1705.65" y1="1068.9" x2="1705.65" y2="1086.5" stroke="#000" stroke-width="2.1" />
<line x1="1745.14" y1="995.14" x2="1745.14" y2="983.78" stroke="#000" stroke-width="2.1" />
<line x1="1736.54" y1="983.78" x2="1753.74" y2="983.78" stroke="#000" stroke-width="2.1" />
<rect x="1728.84" y="995.74" width="32.6" height="73.16" fill="#333333" stroke="#000" stroke-width="2.1" />
<circle cx="1745.14" cy="983.78" r="4.2" fill="none" stroke="#000" stroke-width="2.1"/>
<circle cx="1745.14" cy="994.05" r="4.2" fill="none" stroke="#000" stroke-width="2.1"/>
<circle cx="1745.14" cy="1004.59" r="4.2" fill="none" stroke="#000" stroke-width="2.1"/>
<text x="1744.64" y="968.38" font-size="22" text-anchor="middle">d</text>
<line x1="1744.84" y1="1068.9" x2="1744.84" y2="1086.5" stroke="#000" stroke-width="2.1" />
<line x1="1329.2" y1="689" x2="1329.2" y2="1067" stroke="#000" stroke-width="1.8" stroke-dasharray="3.6 6.1"/>
<line x1="1556.2" y1="689" x2="1556.2" y2="1067" stroke="#000" stroke-width="1.8" stroke-dasharray="3.6 6.1"/>
<rect x="1103.5" y="616.5" width="678.9" height="452.4" fill="none" stroke="#000" stroke-width="2.1" />
<line x1="1085.4" y1="616.5" x2="1103.5" y2="616.5" stroke="#000" stroke-width="2.1" />
<text x="1080" y="624.09" font-size="22" text-anchor="end">4</text>
<line x1="1085.4" y1="729.6" x2="1103.5" y2="729.6" stroke="#000" stroke-width="2.1" />
<text x="1080" y="737.19" font-size="22" text-anchor="end">3</text>
<line x1="1085.4" y1="842.7" x2="1103.5" y2="842.7" stroke="#000" stroke-width="2.1" />
<text x="1080" y="850.29" font-size="22" text-anchor="end">2</text>
<line x1="1085.4" y1="955.8" x2="1103.5" y2="955.8" stroke="#000" stroke-width="2.1" />
<text x="1080" y="963.39" font-size="22" text-anchor="end">1</text>
<line x1="1085.4" y1="1068.9" x2="1103.5" y2="1068.9" stroke="#000" stroke-width="2.1" />
<text x="1080" y="1076.49" font-size="22" text-anchor="end">0</text>
<text font-size="21.7" text-anchor="middle" textLength="352" lengthAdjust="spacing" transform="translate(1046.4 846.5) rotate(-90)">Relative expresssion of <tspan font-style="italic">GmRR11d</tspan></text>
<line x1="1121.35" y1="1094.6" x2="1194.59" y2="1094.6" stroke="#000" stroke-width="2" />
<text x="1149.73" y="1126.51" font-size="22" text-anchor="middle">-R</text>
<line x1="1235.41" y1="1094.6" x2="1308.65" y2="1094.6" stroke="#000" stroke-width="2" />
<text x="1266.76" y="1126.51" font-size="22" text-anchor="middle">-R</text>
<line x1="1347.57" y1="1094.6" x2="1421.08" y2="1094.6" stroke="#000" stroke-width="2" />
<text x="1378.92" y="1126.51" font-size="22" text-anchor="middle">+R</text>
<line x1="1461.08" y1="1094.6" x2="1534.59" y2="1094.6" stroke="#000" stroke-width="2" />
<text x="1492.7" y="1126.51" font-size="22" text-anchor="middle">-R</text>
<line x1="1575.95" y1="1094.6" x2="1649.19" y2="1094.6" stroke="#000" stroke-width="2" />
<text x="1607.3" y="1126.51" font-size="22" text-anchor="middle">+R</text>
<line x1="1690.27" y1="1094.6" x2="1763.78" y2="1094.6" stroke="#000" stroke-width="2" />
<text x="1721.62" y="1126.51" font-size="22" text-anchor="middle">+R</text>
<line x1="1119.19" y1="1131.9" x2="1307.57" y2="1131.9" stroke="#000" stroke-width="2" />
<text x="1200" y="1154.62" font-size="22" text-anchor="middle" textLength="90" lengthAdjust="spacing">split-root</text>
<line x1="1347.03" y1="1131.9" x2="1535.41" y2="1131.9" stroke="#000" stroke-width="2" />
<text x="1422.8" y="1154.62" font-size="22" text-anchor="middle" textLength="90" lengthAdjust="spacing">split-root</text>
<line x1="1572.97" y1="1131.9" x2="1761.62" y2="1131.9" stroke="#000" stroke-width="2" />
<text x="1650" y="1154.62" font-size="22" text-anchor="middle" textLength="90" lengthAdjust="spacing">split-root</text>
<rect x="1125.44" y="640.52" width="46.7" height="4.9" fill="#D4D4D4" stroke="#000" stroke-width="2.2" />
<text x="1201.08" y="650.56" font-size="22" textLength="62.5" lengthAdjust="spacing">Bragg</text>
<rect x="1125.44" y="679.17" width="46.7" height="4.9" fill="#333333" stroke="#000" stroke-width="2.2" />
<text x="1201.08" y="689.21" font-size="22" textLength="85.5" lengthAdjust="spacing"><tspan font-style="italic">nts1007</tspan></text>
<text x="0" y="1208" font-size="23" font-weight="bold">e</text>
<line x1="177.96" y1="1682.49" x2="177.96" y2="1669.63" stroke="#000" stroke-width="2.1" />
<line x1="166.66" y1="1669.63" x2="189.26" y2="1669.63" stroke="#000" stroke-width="2.1" />
<rect x="154.86" y="1682.89" width="46.2" height="43.91" fill="#FDA3A3" stroke="#000" stroke-width="2.1" />
<circle cx="177.96" cy="1669.63" r="4.2" fill="none" stroke="#000" stroke-width="2.1"/>
<circle cx="177.96" cy="1681.24" r="4.2" fill="none" stroke="#000" stroke-width="2.1"/>
<circle cx="177.96" cy="1694.11" r="4.2" fill="none" stroke="#000" stroke-width="2.1"/>
<line x1="177.96" y1="1726.8" x2="177.96" y2="1745" stroke="#000" stroke-width="2.1" />
<line x1="249.21" y1="1428.89" x2="249.21" y2="1373.65" stroke="#000" stroke-width="2.1" />
<line x1="237.91" y1="1373.65" x2="260.51" y2="1373.65" stroke="#000" stroke-width="2.1" />
<rect x="226.11" y="1429.29" width="46.2" height="297.51" fill="#FF0000" stroke="#000" stroke-width="2.1" />
<circle cx="249.21" cy="1369.57" r="4.2" fill="none" stroke="#000" stroke-width="2.1"/>
<circle cx="249.21" cy="1437.68" r="4.2" fill="none" stroke="#000" stroke-width="2.1"/>
<circle cx="249.21" cy="1478.17" r="4.2" fill="none" stroke="#000" stroke-width="2.1"/>
<line x1="249.21" y1="1726.8" x2="249.21" y2="1745" stroke="#000" stroke-width="2.1" />
<line x1="320.61" y1="1652.36" x2="320.61" y2="1618.78" stroke="#000" stroke-width="2.1" />
<line x1="309.31" y1="1618.78" x2="331.91" y2="1618.78" stroke="#000" stroke-width="2.1" />
<rect x="297.51" y="1652.76" width="46.2" height="74.04" fill="#1299B3" stroke="#000" stroke-width="2.1" />
<circle cx="320.61" cy="1619.72" r="4.2" fill="none" stroke="#000" stroke-width="2.1"/>
<circle cx="320.61" cy="1650.17" r="4.2" fill="none" stroke="#000" stroke-width="2.1"/>
<circle cx="320.61" cy="1684.38" r="4.2" fill="none" stroke="#000" stroke-width="2.1"/>
<line x1="320.61" y1="1726.8" x2="320.61" y2="1745" stroke="#000" stroke-width="2.1" />
<line x1="392.33" y1="1491.04" x2="392.33" y2="1438.62" stroke="#000" stroke-width="2.1" />
<line x1="381.03" y1="1438.62" x2="403.63" y2="1438.62" stroke="#000" stroke-width="2.1" />
<rect x="369.23" y="1491.44" width="46.2" height="235.36" fill="#0000FF" stroke="#000" stroke-width="2.1" />
<circle cx="392.33" cy="1441.76" r="4.2" fill="none" stroke="#000" stroke-width="2.1"/>
<circle cx="392.33" cy="1484.13" r="4.2" fill="none" stroke="#000" stroke-width="2.1"/>
<circle cx="392.33" cy="1544.39" r="4.2" fill="none" stroke="#000" stroke-width="2.1"/>
<line x1="392.33" y1="1726.8" x2="392.33" y2="1745" stroke="#000" stroke-width="2.1" />
<rect x="130.6" y="1273.8" width="311" height="453" fill="none" stroke="#000" stroke-width="2.1" />
<line x1="112.4" y1="1273.8" x2="130.6" y2="1273.8" stroke="#000" stroke-width="2.1" />
<text x="107" y="1281.39" font-size="22" text-anchor="end">10</text>
<line x1="112.4" y1="1364.4" x2="130.6" y2="1364.4" stroke="#000" stroke-width="2.1" />
<text x="107" y="1371.99" font-size="22" text-anchor="end">8</text>
<line x1="112.4" y1="1455" x2="130.6" y2="1455" stroke="#000" stroke-width="2.1" />
<text x="107" y="1462.59" font-size="22" text-anchor="end">6</text>
<line x1="112.4" y1="1545.6" x2="130.6" y2="1545.6" stroke="#000" stroke-width="2.1" />
<text x="107" y="1553.19" font-size="22" text-anchor="end">4</text>
<line x1="112.4" y1="1636.2" x2="130.6" y2="1636.2" stroke="#000" stroke-width="2.1" />
<text x="107" y="1643.79" font-size="22" text-anchor="end">2</text>
<line x1="112.4" y1="1726.8" x2="130.6" y2="1726.8" stroke="#000" stroke-width="2.1" />
<text x="107" y="1734.39" font-size="22" text-anchor="end">0</text>
<text font-size="21.7" text-anchor="middle" textLength="353" lengthAdjust="spacing" transform="translate(60.5 1504.5) rotate(-90)">Relative expresssion of <tspan font-style="italic">GmRR11d</tspan></text>
<text x="149.4" y="1330.67" font-size="21.5" textLength="113.62" lengthAdjust="spacing"><tspan font-style="italic">p</tspan> = 0.0014</text>
<text x="298.8" y="1394.07" font-size="21.5" textLength="113.93" lengthAdjust="spacing"><tspan font-style="italic">p</tspan> = 0.0100</text>
<text x="206.84" y="1358.91" font-size="26" text-anchor="middle" fill="#FF0000">**</text>
<text x="356.23" y="1428.27" font-size="26" text-anchor="middle" fill="#0000FF">**</text>
<line x1="165.41" y1="1355.54" x2="248.89" y2="1355.54" stroke="#000" stroke-width="2.1" />
<line x1="320.14" y1="1425.53" x2="391.7" y2="1425.53" stroke="#000" stroke-width="2.1" />
<text font-size="22" text-anchor="end" transform="translate(181.96 1766.7) rotate(-45)">Bragg-EV1</text>
<text font-size="22" text-anchor="end" transform="translate(253.21 1766.7) rotate(-45)">Bragg-<tspan font-style="italic">35S:GmRR11d</tspan></text>
<text font-size="22" text-anchor="end" transform="translate(324.61 1766.7) rotate(-45)"><tspan font-style="italic">nts1007</tspan>-EV1</text>
<text font-size="22" text-anchor="end" transform="translate(396.33 1766.7) rotate(-45)"><tspan font-style="italic">nts1007-35S:GmRR11d</tspan></text>
<text x="466" y="1208" font-size="23" font-weight="bold">f</text>
<line x1="648.9" y1="1647.65" x2="648.9" y2="1665.54" stroke="#000" stroke-width="1.8" />
<line x1="648.9" y1="1678.73" x2="648.9" y2="1684.38" stroke="#000" stroke-width="1.8" />
<line x1="637.4" y1="1647.65" x2="660.4" y2="1647.65" stroke="#000" stroke-width="1.8" />
<line x1="637.4" y1="1684.38" x2="660.4" y2="1684.38" stroke="#000" stroke-width="1.8" />
<rect x="626.3" y="1665.54" width="45.2" height="13.18" fill="#F54242" stroke="#000" stroke-width="1.8" />
<line x1="626.3" y1="1671.82" x2="671.5" y2="1671.82" stroke="#000" stroke-width="1.8" />
<line x1="648" y1="1713" x2="648" y2="1731" stroke="#000" stroke-width="2.1" />
<line x1="719.83" y1="1671.19" x2="719.83" y2="1682.49" stroke="#000" stroke-width="1.8" />
<line x1="719.83" y1="1695.05" x2="719.83" y2="1701.01" stroke="#000" stroke-width="1.8" />
<line x1="708.33" y1="1671.19" x2="731.33" y2="1671.19" stroke="#000" stroke-width="1.8" />
<line x1="708.33" y1="1701.01" x2="731.33" y2="1701.01" stroke="#000" stroke-width="1.8" />
<rect x="697.23" y="1682.49" width="45.2" height="12.55" fill="#F54242" stroke="#000" stroke-width="1.8" />
<line x1="697.23" y1="1689.08" x2="742.43" y2="1689.08" stroke="#000" stroke-width="1.8" />
<line x1="718.93" y1="1713" x2="718.93" y2="1731" stroke="#000" stroke-width="2.1" />
<line x1="838.47" y1="1377.42" x2="838.47" y2="1459.34" stroke="#000" stroke-width="1.8" />
<line x1="838.47" y1="1538.12" x2="838.47" y2="1554.75" stroke="#000" stroke-width="1.8" />
<line x1="826.97" y1="1377.42" x2="849.97" y2="1377.42" stroke="#000" stroke-width="1.8" />
<line x1="826.97" y1="1554.75" x2="849.97" y2="1554.75" stroke="#000" stroke-width="1.8" />
<rect x="815.87" y="1459.34" width="45.2" height="78.78" fill="#1299B3" stroke="#000" stroke-width="1.8" />
<line x1="815.87" y1="1507.04" x2="861.07" y2="1507.04" stroke="#000" stroke-width="1.8" />
<line x1="837.57" y1="1713" x2="837.57" y2="1731" stroke="#000" stroke-width="2.1" />
<line x1="909.41" y1="1620.35" x2="909.41" y2="1639.18" stroke="#000" stroke-width="1.8" />
<line x1="909.41" y1="1664.29" x2="909.41" y2="1665.86" stroke="#000" stroke-width="1.8" />
<line x1="897.91" y1="1620.35" x2="920.91" y2="1620.35" stroke="#000" stroke-width="1.8" />
<line x1="897.91" y1="1665.86" x2="920.91" y2="1665.86" stroke="#000" stroke-width="1.8" />
<rect x="886.81" y="1639.18" width="45.2" height="25.11" fill="#1299B3" stroke="#000" stroke-width="1.8" />
<line x1="886.81" y1="1649.85" x2="932.01" y2="1649.85" stroke="#000" stroke-width="1.8" />
<line x1="908.51" y1="1713" x2="908.51" y2="1731" stroke="#000" stroke-width="2.1" />
<circle cx="643.57" cy="1647.65" r="4.1" fill="none" stroke="#000" stroke-width="2.1"/>
<circle cx="654.55" cy="1649.85" r="4.1" fill="none" stroke="#000" stroke-width="2.1"/>
<circle cx="636.35" cy="1660.21" r="4.1" fill="none" stroke="#000" stroke-width="2.1"/>
<circle cx="630.07" cy="1664.29" r="4.1" fill="none" stroke="#000" stroke-width="2.1"/>
<circle cx="642.62" cy="1667.43" r="4.1" fill="none" stroke="#000" stroke-width="2.1"/>
<circle cx="655.18" cy="1669" r="4.1" fill="none" stroke="#000" stroke-width="2.1"/>
<circle cx="666.16" cy="1669.63" r="4.1" fill="none" stroke="#000" stroke-width="2.1"/>
<circle cx="631.64" cy="1673.39" r="4.1" fill="none" stroke="#000" stroke-width="2.1"/>
<circle cx="648.9" cy="1673.39" r="4.1" fill="none" stroke="#000" stroke-width="2.1"/>
<circle cx="660.83" cy="1674.33" r="4.1" fill="none" stroke="#000" stroke-width="2.1"/>
<circle cx="669.3" cy="1673.39" r="4.1" fill="none" stroke="#000" stroke-width="2.1"/>
<circle cx="636.35" cy="1681.24" r="4.1" fill="none" stroke="#000" stroke-width="2.1"/>
<circle cx="648.9" cy="1679.67" r="4.1" fill="none" stroke="#000" stroke-width="2.1"/>
<circle cx="661.46" cy="1681.24" r="4.1" fill="none" stroke="#000" stroke-width="2.1"/>
<circle cx="715.44" cy="1671.19" r="4.1" fill="none" stroke="#000" stroke-width="2.1"/>
<circle cx="721.09" cy="1675.27" r="4.1" fill="none" stroke="#000" stroke-width="2.1"/>
<circle cx="705.4" cy="1679.04" r="4.1" fill="none" stroke="#000" stroke-width="2.1"/>
<circle cx="729.88" cy="1682.18" r="4.1" fill="none" stroke="#000" stroke-width="2.1"/>
<circle cx="702.26" cy="1688.46" r="4.1" fill="none" stroke="#000" stroke-width="2.1"/>
<circle cx="710.1" cy="1685.95" r="4.1" fill="none" stroke="#000" stroke-width="2.1"/>
<circle cx="717.95" cy="1689.08" r="4.1" fill="none" stroke="#000" stroke-width="2.1"/>
<circle cx="725.8" cy="1690.03" r="4.1" fill="none" stroke="#000" stroke-width="2.1"/>
<circle cx="733.02" cy="1687.83" r="4.1" fill="none" stroke="#000" stroke-width="2.1"/>
<circle cx="739.92" cy="1686.89" r="4.1" fill="none" stroke="#000" stroke-width="2.1"/>
<circle cx="705.4" cy="1696.3" r="4.1" fill="none" stroke="#000" stroke-width="2.1"/>
<circle cx="714.81" cy="1697.24" r="4.1" fill="none" stroke="#000" stroke-width="2.1"/>
<circle cx="724.86" cy="1698.5" r="4.1" fill="none" stroke="#000" stroke-width="2.1"/>
<circle cx="733.64" cy="1697.24" r="4.1" fill="none" stroke="#000" stroke-width="2.1"/>
<circle cx="719.52" cy="1682.18" r="4.1" fill="none" stroke="#000" stroke-width="2.1"/>
<circle cx="838.16" cy="1377.42" r="4.1" fill="none" stroke="#000" stroke-width="2.1"/>
<circle cx="838.16" cy="1406.29" r="4.1" fill="none" stroke="#000" stroke-width="2.1"/>
<circle cx="819.33" cy="1475.66" r="4.1" fill="none" stroke="#000" stroke-width="2.1"/>
<circle cx="858.25" cy="1477.54" r="4.1" fill="none" stroke="#000" stroke-width="2.1"/>
<circle cx="838.16" cy="1501.39" r="4.1" fill="none" stroke="#000" stroke-width="2.1"/>
<circle cx="819.33" cy="1512.07" r="4.1" fill="none" stroke="#000" stroke-width="2.1"/>
<circle cx="838.16" cy="1520.54" r="4.1" fill="none" stroke="#000" stroke-width="2.1"/>
<circle cx="858.25" cy="1537.8" r="4.1" fill="none" stroke="#000" stroke-width="2.1"/>
<circle cx="838.16" cy="1544.08" r="4.1" fill="none" stroke="#000" stroke-width="2.1"/>
<circle cx="838.16" cy="1554.75" r="4.1" fill="none" stroke="#000" stroke-width="2.1"/>
<circle cx="916" cy="1620.35" r="4.1" fill="none" stroke="#000" stroke-width="2.1"/>
<circle cx="916" cy="1631.96" r="4.1" fill="none" stroke="#000" stroke-width="2.1"/>
<circle cx="890.89" cy="1641.38" r="4.1" fill="none" stroke="#000" stroke-width="2.1"/>
<circle cx="903.13" cy="1640.75" r="4.1" fill="none" stroke="#000" stroke-width="2.1"/>
<circle cx="928.87" cy="1648.28" r="4.1" fill="none" stroke="#000" stroke-width="2.1"/>
<circle cx="890.89" cy="1651.42" r="4.1" fill="none" stroke="#000" stroke-width="2.1"/>
<circle cx="903.13" cy="1658.64" r="4.1" fill="none" stroke="#000" stroke-width="2.1"/>
<circle cx="928.87" cy="1661.78" r="4.1" fill="none" stroke="#000" stroke-width="2.1"/>
<circle cx="890.89" cy="1665.86" r="4.1" fill="none" stroke="#000" stroke-width="2.1"/>
<circle cx="916" cy="1665.86" r="4.1" fill="none" stroke="#000" stroke-width="2.1"/>
<rect x="601.2" y="1261.3" width="358.1" height="451.7" fill="none" stroke="#000" stroke-width="2.1" />
<line x1="583.6" y1="1261.3" x2="601.2" y2="1261.3" stroke="#000" stroke-width="2.1" />
<text x="578.5" y="1268.89" font-size="22" text-anchor="end">400</text>
<line x1="583.6" y1="1374.2" x2="601.2" y2="1374.2" stroke="#000" stroke-width="2.1" />
<text x="578.5" y="1381.79" font-size="22" text-anchor="end">300</text>
<line x1="583.6" y1="1487.1" x2="601.2" y2="1487.1" stroke="#000" stroke-width="2.1" />
<text x="578.5" y="1494.69" font-size="22" text-anchor="end">200</text>
<line x1="583.6" y1="1600.1" x2="601.2" y2="1600.1" stroke="#000" stroke-width="2.1" />
<text x="578.5" y="1607.69" font-size="22" text-anchor="end">100</text>
<line x1="583.6" y1="1713" x2="601.2" y2="1713" stroke="#000" stroke-width="2.1" />
<text x="578.5" y="1720.59" font-size="22" text-anchor="end">0</text>
<text font-size="21.7" text-anchor="middle" textLength="311" lengthAdjust="spacing" transform="translate(517.5 1491) rotate(-90)">Nodule number per hairy root</text>
<text x="650.78" y="1599.38" font-size="22" text-anchor="middle" textLength="46.82" lengthAdjust="spacing">38.9</text>
<text x="719.52" y="1622.92" font-size="22" text-anchor="middle" textLength="46.82" lengthAdjust="spacing">22.3</text>
<text x="838.47" y="1333.85" font-size="22" text-anchor="middle" textLength="59.05" lengthAdjust="spacing">196.5</text>
<text x="910.03" y="1569.87" font-size="22" text-anchor="middle" textLength="46.82" lengthAdjust="spacing">57.2</text>
<text x="648.9" y="1633.5" font-size="29.5" text-anchor="middle">c</text>
<text x="837.22" y="1365.15" font-size="29.5" text-anchor="middle">a</text>
<text x="717.32" y="1659.61" font-size="29.5" text-anchor="middle">d</text>
<text x="908.78" y="1603.12" font-size="29.5" text-anchor="middle">b</text>
<rect x="613.11" y="1284.26" width="46.48" height="4.9" fill="#F54242" stroke="#000" stroke-width="2.2" />
<text x="688.13" y="1294.3" font-size="22" textLength="62.5" lengthAdjust="spacing">Bragg</text>
<rect x="613.11" y="1325.07" width="46.48" height="4.9" fill="#1299B3" stroke="#000" stroke-width="2.2" />
<text x="688.13" y="1335.11" font-size="22" textLength="85.5" lengthAdjust="spacing"><tspan font-style="italic">nts1007</tspan></text>
<text font-size="22" text-anchor="end" transform="translate(652.9 1749.2) rotate(-45)">EV1</text>
<text font-size="22" text-anchor="end" transform="translate(723.83 1749.2) rotate(-45)"><tspan font-style="italic">35S:GmRR11d</tspan></text>
<text font-size="22" text-anchor="end" transform="translate(842.47 1749.2) rotate(-45)">EV1</text>
<text font-size="22" text-anchor="end" transform="translate(913.41 1749.2) rotate(-45)"><tspan font-style="italic">35S:GmRR11d</tspan></text>
<text x="995" y="1208" font-size="23" font-weight="bold">g</text>
<defs><filter id="soft" x="-5%" y="-5%" width="110%" height="110%"><feGaussianBlur stdDeviation="0.85"/></filter></defs>
<clipPath id="cp1"><rect x="1013.19" y="1237.02" width="178.53" height="436.86"/></clipPath>
<rect x="1013.19" y="1237.02" width="178.53" height="436.86" fill="#0b0a09"  />
<g clip-path="url(#cp1)" filter="url(#soft)" fill="none" stroke-linecap="round" stroke-linejoin="round">
<path d="M1079.25 1533.93 C1079 1540.29 1077.69 1560.87 1077.76 1572.13 C1077.83 1583.4 1079.35 1589.87 1079.67 1601.53 C1079.98 1613.18 1079.43 1630.35 1079.65 1642.05 C1079.87 1653.74 1080.76 1666.74 1080.99 1671.68" stroke="#CF9148" stroke-width="1.03"/>
<path d="M1072.38 1310.12 C1070.98 1312.18 1065.01 1317.76 1063.97 1322.5 C1062.94 1327.24 1065.64 1333.05 1066.16 1338.54 C1066.68 1344.03 1066.52 1348.79 1067.09 1355.42 C1067.66 1362.05 1069.45 1371.26 1069.56 1378.34 C1069.67 1385.42 1068.04 1394.63 1067.74 1397.89" stroke="#C98840" stroke-width="1.21"/>
<path d="M1118.46 1464.67 C1119.18 1470.25 1121.65 1486.23 1122.77 1498.16 C1123.88 1510.09 1124.61 1524.21 1125.15 1536.25 C1125.69 1548.28 1125.05 1558.44 1126.02 1570.37 C1127 1582.3 1129.5 1595.99 1131 1607.85 C1132.5 1619.7 1134.36 1635.88 1135.03 1641.49" stroke="#D4984E" stroke-width="1.33"/>
<path d="M1136.02 1329.65 C1137.75 1331.75 1143.62 1336.62 1146.39 1342.24 C1149.16 1347.87 1152.72 1357.27 1152.62 1363.41 C1152.52 1369.55 1146.93 1376.46 1145.8 1379.07" stroke="#CF9148" stroke-width="1.57"/>
<path d="M1071.26 1488.26 C1071.77 1494.54 1073.99 1513.97 1074.35 1525.9 C1074.7 1537.84 1073.41 1548.16 1073.36 1559.87 C1073.31 1571.58 1074.09 1585.14 1074.04 1596.16 C1073.99 1607.18 1073.66 1613.49 1073.07 1625.99 C1072.47 1638.49 1070.88 1663.64 1070.45 1671.17" stroke="#C98840" stroke-width="1.67"/>
<path d="M1096.26 1293.18 C1094.31 1293.96 1088.46 1295.52 1084.56 1297.86 C1080.66 1300.2 1075.51 1302.93 1072.86 1307.22 C1070.21 1311.51 1068.84 1318.14 1068.65 1323.6 C1068.45 1329.06 1070.6 1334.13 1071.69 1339.98 C1072.78 1345.83 1074.22 1352.06 1075.2 1358.69 C1076.17 1365.32 1077.73 1373.12 1077.54 1379.75 C1077.34 1386.38 1074.61 1395.35 1074.03 1398.47" stroke="#C98840" stroke-width="1.78"/>
<path d="M1034.25 1588 C1036.78 1586.64 1044.78 1582.16 1049.46 1579.82 C1054.14 1577.48 1058.43 1576.11 1062.33 1573.97 C1066.23 1571.82 1071.1 1568.12 1072.86 1566.95" stroke="#C98840" stroke-width="1.78"/>
<path d="M1135.83 1395.78 C1135.28 1400.92 1132.6 1416.98 1132.5 1426.64 C1132.41 1436.29 1133.92 1443.19 1135.25 1453.72 C1136.57 1464.25 1139.4 1478.61 1140.44 1489.83 C1141.49 1501.04 1140.77 1509.32 1141.53 1521.02 C1142.29 1532.71 1144.42 1553.5 1145 1559.99" stroke="#CF9148" stroke-width="1.84"/>
<path d="M1072.16 1408.83 C1070.35 1411.7 1063.6 1420.58 1061.31 1426.08 C1059.01 1431.59 1058.54 1434.94 1058.4 1441.85 C1058.25 1448.77 1060.66 1458.1 1060.43 1467.56 C1060.21 1477.02 1057.76 1487.64 1057.04 1498.64 C1056.32 1509.64 1056.32 1521.88 1056.1 1533.56 C1055.88 1545.23 1055.51 1557.15 1055.73 1568.71 C1055.95 1580.27 1057.93 1591.59 1057.44 1602.9 C1056.94 1614.21 1054.45 1624.87 1052.78 1636.57 C1051.11 1648.27 1048.33 1667 1047.44 1673.09" stroke="#CF9148" stroke-width="2.05"/>
<path d="M1114.98 1295.52 C1116.15 1298.64 1119.27 1308.39 1122 1314.24 C1124.72 1320.09 1128.43 1325.94 1131.35 1330.62 C1134.28 1335.3 1137.2 1337.25 1139.54 1342.32 C1141.88 1347.39 1145.39 1354.4 1145.39 1361.03 C1145.39 1367.66 1140.52 1378.58 1139.54 1382.09" stroke="#C98840" stroke-width="2.22"/>
<path d="M1079.88 1463.99 C1080.27 1469.84 1081.63 1487.39 1082.22 1499.09 C1082.8 1510.79 1083.39 1522.49 1083.39 1534.19 C1083.39 1545.89 1082.02 1557.59 1082.22 1569.29 C1082.41 1580.99 1083.97 1592.68 1084.56 1604.38 C1085.14 1616.08 1085.34 1628.06 1085.73 1639.48 C1086.12 1650.91 1086.7 1667.37 1086.9 1672.94" stroke="#D4984E" stroke-width="2.22"/>
<path d="M1095.5 1472.96 C1095.1 1478.69 1093.74 1494.68 1093.07 1507.31 C1092.4 1519.94 1091.63 1536.08 1091.48 1548.74 C1091.33 1561.4 1091.61 1571.51 1092.15 1583.3 C1092.69 1595.08 1093.49 1608.01 1094.72 1619.44 C1095.95 1630.88 1098.29 1642.89 1099.52 1651.89 C1100.76 1660.88 1101.69 1669.84 1102.13 1673.43" stroke="#C98840" stroke-width="2.22"/>
<path d="M1133.94 1338.98 C1135.04 1341.27 1139.72 1347.39 1140.5 1352.73 C1141.28 1358.06 1140.35 1365.41 1138.61 1370.97 C1136.86 1376.52 1131.72 1379.14 1130.02 1386.06 C1128.33 1392.97 1129.1 1402.82 1128.46 1412.43 C1127.82 1422.04 1125.74 1434.08 1126.18 1443.72 C1126.62 1453.36 1129.53 1461.3 1131.13 1470.28 C1132.73 1479.25 1134.94 1486.49 1135.77 1497.58 C1136.61 1508.68 1135.83 1524.58 1136.15 1536.84 C1136.46 1549.1 1136.85 1560.05 1137.66 1571.14 C1138.47 1582.23 1140.68 1593.41 1141.03 1603.38 C1141.38 1613.35 1140.49 1622.97 1139.78 1630.94 C1139.08 1638.91 1137.9 1644.62 1136.8 1651.21 C1135.71 1657.8 1133.81 1667.27 1133.21 1670.49" stroke="#D4984E" stroke-width="2.26"/>
<path d="M1123.69 1428.48 C1123.13 1434.52 1120.43 1452.99 1120.31 1464.73 C1120.19 1476.47 1122.42 1487.77 1122.97 1498.9 C1123.52 1510.03 1122.85 1519.86 1123.61 1531.53 C1124.38 1543.21 1126.86 1556.88 1127.55 1568.95 C1128.23 1581.02 1127.04 1591.95 1127.72 1603.96 C1128.4 1615.97 1130.92 1629.62 1131.6 1641 C1132.28 1652.37 1131.78 1667 1131.82 1672.2" stroke="#CF9148" stroke-width="2.31"/>
<path d="M1088.67 1476.72 C1088.76 1482.53 1088.41 1499.77 1089.23 1511.58 C1090.05 1523.39 1092.44 1535.46 1093.59 1547.59 C1094.74 1559.73 1095.74 1573.19 1096.11 1584.37 C1096.48 1595.54 1095.27 1602.96 1095.81 1614.65 C1096.35 1626.35 1098.61 1644.3 1099.36 1654.53 C1100.12 1664.76 1100.17 1672.46 1100.33 1676.04" stroke="#D4984E" stroke-width="2.66"/>
<path d="M1126.67 1335.3 C1127.45 1339.59 1130.38 1351.28 1131.35 1361.03 C1132.33 1370.78 1132.91 1383.26 1132.52 1393.79 C1132.13 1404.32 1129.4 1414.07 1129.01 1424.21 C1128.62 1434.35 1129.6 1444.1 1130.18 1454.63 C1130.77 1465.16 1131.55 1476.08 1132.52 1487.39 C1133.5 1498.7 1135.06 1510.79 1136.03 1522.49 C1137.01 1534.19 1137.98 1551.74 1138.37 1557.59" stroke="#C98840" stroke-width="2.67"/>
<path d="M1145.39 1604.38 C1146.25 1606.72 1150.35 1612.18 1150.54 1618.42 C1150.74 1624.66 1147.03 1632.74 1146.56 1641.82 C1146.1 1650.91 1147.54 1667.76 1147.73 1672.94" stroke="#C98840" stroke-width="2.67"/>
<path d="M1064.67 1424.21 C1064.94 1428.89 1065.72 1441.76 1066.31 1452.29 C1066.89 1462.82 1067.94 1475.69 1068.18 1487.39 C1068.41 1499.09 1068.02 1510.79 1067.71 1522.49 C1067.4 1534.19 1066.42 1545.89 1066.31 1557.59 C1066.19 1569.29 1067.28 1580.99 1067.01 1592.68 C1066.73 1604.38 1065.25 1614.41 1064.67 1627.78 C1064.08 1641.16 1063.69 1665.42 1063.5 1672.94" stroke="#D4984E" stroke-width="2.67"/>
<path d="M1114.98 1393.79 C1114.59 1399.64 1112.44 1417.19 1112.64 1428.89 C1112.83 1440.59 1115.17 1452.29 1116.15 1463.99 C1117.12 1475.69 1117.9 1487.39 1118.49 1499.09 C1119.07 1510.79 1119.07 1522.49 1119.66 1534.19 C1120.24 1545.89 1121.02 1557.59 1122 1569.29 C1122.97 1580.99 1124.33 1592.68 1125.5 1604.38 C1126.67 1616.08 1128.43 1633.63 1129.01 1639.48" stroke="#CF9148" stroke-width="2.67"/>
<path d="M1117.32 1580.99 C1118.49 1584.89 1122 1596.58 1124.33 1604.38 C1126.67 1612.18 1129.99 1619.98 1131.35 1627.78 C1132.72 1635.58 1132.52 1643.66 1132.52 1651.18 C1132.52 1658.71 1131.55 1669.32 1131.35 1672.94" stroke="#D4984E" stroke-width="3.11"/>
<path d="M1079.63 1460.92 C1079.4 1466.86 1078.13 1484.27 1078.22 1496.56 C1078.31 1508.86 1080.03 1522.76 1080.19 1534.7 C1080.35 1546.65 1079.22 1557.21 1079.19 1568.24 C1079.16 1579.27 1079.57 1589.36 1080.02 1600.9 C1080.47 1612.43 1080.95 1625.99 1081.87 1637.45 C1082.79 1648.91 1084.92 1664.3 1085.53 1669.67" stroke="#C98840" stroke-width="3.15"/>
<path d="M1082.22 1260.42 C1084.95 1262.76 1093.92 1269.78 1098.6 1274.46 C1103.28 1279.14 1106.79 1283.43 1110.3 1288.5 C1113.81 1293.57 1116.93 1299.03 1119.66 1304.88 C1122.39 1310.73 1123.94 1318.14 1126.67 1323.6 C1129.4 1329.06 1133.3 1332.96 1136.03 1337.64 C1138.76 1342.32 1142.27 1346.22 1143.05 1351.67 C1143.83 1357.13 1141.88 1364.15 1140.71 1370.39 C1139.54 1376.63 1137.4 1382.09 1136.03 1389.11 C1134.67 1396.13 1132.91 1403.93 1132.52 1412.51 C1132.13 1421.09 1132.91 1431.23 1133.69 1440.59 C1134.47 1449.95 1136.03 1458.92 1137.2 1468.67 C1138.37 1478.42 1139.74 1488.17 1140.71 1499.09 C1141.69 1510.01 1142.27 1522.49 1143.05 1534.19 C1143.83 1545.89 1144.42 1557.98 1145.39 1569.29 C1146.37 1580.6 1148.9 1592.29 1148.9 1602.04 C1148.9 1611.79 1146.56 1619.59 1145.39 1627.78 C1144.22 1635.97 1142.66 1643.66 1141.88 1651.18 C1141.1 1658.71 1140.91 1669.32 1140.71 1672.94" stroke="#D4984E" stroke-width="3.56"/>
<path d="M1100.94 1339.98 C1099.57 1342.32 1095.28 1348.94 1092.75 1354.01 C1090.21 1359.08 1087.87 1364.54 1085.73 1370.39 C1083.58 1376.24 1082.02 1383.26 1079.88 1389.11 C1077.73 1394.96 1075.39 1399.64 1072.86 1405.49 C1070.32 1411.34 1066.42 1417.58 1064.67 1424.21 C1062.91 1430.84 1062.52 1437.86 1062.33 1445.27 C1062.13 1452.68 1063.5 1459.7 1063.5 1468.67 C1063.5 1477.64 1062.72 1488.17 1062.33 1499.09 C1061.94 1510.01 1061.55 1522.49 1061.16 1534.19 C1060.77 1545.89 1059.99 1557.59 1059.99 1569.29 C1059.99 1580.99 1061.43 1592.68 1061.16 1604.38 C1060.88 1616.08 1059.71 1628.06 1058.35 1639.48 C1056.98 1650.91 1053.86 1667.37 1052.97 1672.94" stroke="#D2934A" stroke-width="3.56"/>
<path d="M1105.62 1375.07 C1105.23 1380.14 1103.98 1394.57 1103.28 1405.49 C1102.57 1416.41 1102.18 1428.89 1101.4 1440.59 C1100.62 1452.29 1099.38 1463.99 1098.6 1475.69 C1097.82 1487.39 1097.39 1499.09 1096.72 1510.79 C1096.06 1522.49 1094.89 1534.19 1094.62 1545.89 C1094.35 1557.59 1094.5 1569.29 1095.09 1580.99 C1095.67 1592.68 1096.96 1604.38 1098.13 1616.08 C1099.3 1627.78 1101.05 1641.71 1102.11 1651.18 C1103.16 1660.66 1104.06 1669.32 1104.45 1672.94" stroke="#CF9148" stroke-width="3.56"/>
<path d="M1095.09 1417.19 C1094.11 1421.09 1090.6 1430.84 1089.24 1440.59 C1087.87 1450.34 1087.09 1463.99 1086.9 1475.69 C1086.7 1487.39 1088.07 1499.09 1088.07 1510.79 C1088.07 1522.49 1086.78 1534.19 1086.9 1545.89 C1087.01 1557.59 1088.07 1569.29 1088.77 1580.99 C1089.47 1592.68 1090.33 1604.38 1091.11 1616.08 C1091.89 1627.78 1092.79 1641.71 1093.45 1651.18 C1094.11 1660.66 1094.81 1669.32 1095.09 1672.94" stroke="#D4984E" stroke-width="3.56"/>
<path d="M1099.47 1302.72 C1099.29 1306.56 1097.68 1317.56 1098.39 1325.73 C1099.11 1333.89 1102.91 1342.87 1103.78 1351.72 C1104.64 1360.56 1103.53 1368.01 1103.58 1378.8 C1103.63 1389.58 1103.74 1403.71 1104.07 1416.42 C1104.4 1429.14 1105.22 1443.27 1105.56 1455.08 C1105.9 1466.89 1105.51 1475.81 1106.09 1487.28 C1106.68 1498.75 1108.41 1512.21 1109.06 1523.9 C1109.72 1535.59 1109.24 1545.68 1110.04 1557.41 C1110.84 1569.13 1112.78 1583.01 1113.85 1594.27 C1114.91 1605.53 1115.12 1611.98 1116.43 1624.96 C1117.73 1637.93 1120.8 1664.28 1121.67 1672.15" stroke="#C98840" stroke-width="3.62"/>
<path d="M1085.73 1370.39 C1085.14 1375.07 1083.58 1388.72 1082.22 1398.47 C1080.85 1408.22 1078.71 1417.97 1077.54 1428.89 C1076.37 1439.81 1075.59 1452.29 1075.2 1463.99 C1074.81 1475.69 1075.39 1487.39 1075.2 1499.09 C1075 1510.79 1074.61 1522.49 1074.03 1534.19 C1073.44 1545.89 1072.08 1557.59 1071.69 1569.29 C1071.3 1580.99 1071.3 1592.68 1071.69 1604.38 C1072.08 1616.08 1073.05 1628.06 1074.03 1639.48 C1075 1650.91 1076.95 1667.37 1077.54 1672.94" stroke="#D2934A" stroke-width="4"/>
<path d="M1107.96 1351.67 C1109.13 1354.79 1112.83 1363.37 1114.98 1370.39 C1117.12 1377.41 1119.46 1384.04 1120.83 1393.79 C1122.19 1403.54 1122.58 1417.19 1123.17 1428.89 C1123.75 1440.59 1123.75 1452.29 1124.33 1463.99 C1124.92 1475.69 1125.89 1487.39 1126.67 1499.09 C1127.45 1510.79 1128.23 1522.49 1129.01 1534.19 C1129.79 1545.89 1130.65 1557.59 1131.35 1569.29 C1132.06 1580.99 1132.64 1592.68 1133.23 1604.38 C1133.81 1616.08 1134.4 1628.06 1134.86 1639.48 C1135.33 1650.91 1135.84 1667.37 1136.03 1672.94" stroke="#D4984E" stroke-width="4"/>
<path d="M1058.35 1238.89 C1060.77 1241.31 1068.49 1247.86 1072.86 1253.4 C1077.22 1258.94 1080.85 1265.88 1084.56 1272.12 C1088.26 1278.36 1092.36 1285.38 1095.09 1290.84 C1097.82 1296.3 1099.77 1298.64 1100.94 1304.88 C1102.11 1311.12 1101.33 1320.48 1102.11 1328.28 C1102.89 1336.08 1104.64 1342.71 1105.62 1351.67 C1106.59 1360.64 1107.37 1371.17 1107.96 1382.09 C1108.54 1393.01 1108.74 1405.49 1109.13 1417.19 C1109.52 1428.89 1109.91 1440.59 1110.3 1452.29 C1110.69 1463.99 1111 1475.69 1111.47 1487.39 C1111.93 1499.09 1112.52 1510.79 1113.1 1522.49 C1113.69 1534.19 1114.27 1545.89 1114.98 1557.59 C1115.68 1569.29 1116.34 1580.99 1117.32 1592.68 C1118.29 1604.38 1119.46 1614.41 1120.83 1627.78 C1122.19 1641.16 1124.72 1665.42 1125.5 1672.94" stroke="#D2934A" stroke-width="4.89"/>
<circle cx="1088.53" cy="1256.21" r="3.29" fill="#E39A50" stroke="none"/>
<circle cx="1116.15" cy="1343.95" r="3.05" fill="#E39A50" stroke="none"/>
<circle cx="1086.9" cy="1364.54" r="3.27" fill="#E39A50" stroke="none"/>
<circle cx="1071.69" cy="1401.98" r="2.89" fill="#E39A50" stroke="none"/>
<circle cx="1075.2" cy="1406.66" r="3.41" fill="#E39A50" stroke="none"/>
<circle cx="1095.79" cy="1416.02" r="3.04" fill="#E39A50" stroke="none"/>
<circle cx="1120.12" cy="1377.41" r="3.29" fill="#E39A50" stroke="none"/>
<circle cx="1079.88" cy="1440.59" r="3.34" fill="#E39A50" stroke="none"/>
<circle cx="1089.24" cy="1447.61" r="2.97" fill="#E39A50" stroke="none"/>
<circle cx="1095.09" cy="1482.71" r="3.16" fill="#E39A50" stroke="none"/>
<circle cx="1086.9" cy="1494.41" r="3.31" fill="#E39A50" stroke="none"/>
<circle cx="1088.07" cy="1515.47" r="3.47" fill="#E39A50" stroke="none"/>
<circle cx="1077.54" cy="1459.31" r="3.33" fill="#E39A50" stroke="none"/>
<circle cx="1126.67" cy="1410.17" r="3.38" fill="#E39A50" stroke="none"/>
<circle cx="1097.43" cy="1463.99" r="2.79" fill="#E39A50" stroke="none"/>
<circle cx="1075.2" cy="1431.23" r="2.87" fill="#E39A50" stroke="none"/>
<path d="M1079.25 1533.93 C1079 1540.29 1077.69 1560.87 1077.76 1572.13 C1077.83 1583.4 1079.35 1589.87 1079.67 1601.53 C1079.98 1613.18 1079.43 1630.35 1079.65 1642.05 C1079.87 1653.74 1080.76 1666.74 1080.99 1671.68" stroke="#F7D494" stroke-width="0.68"/>
<path d="M1072.38 1310.12 C1070.98 1312.18 1065.01 1317.76 1063.97 1322.5 C1062.94 1327.24 1065.64 1333.05 1066.16 1338.54 C1066.68 1344.03 1066.52 1348.79 1067.09 1355.42 C1067.66 1362.05 1069.45 1371.26 1069.56 1378.34 C1069.67 1385.42 1068.04 1394.63 1067.74 1397.89" stroke="#F2C67E" stroke-width="0.8"/>
<path d="M1118.46 1464.67 C1119.18 1470.25 1121.65 1486.23 1122.77 1498.16 C1123.88 1510.09 1124.61 1524.21 1125.15 1536.25 C1125.69 1548.28 1125.05 1558.44 1126.02 1570.37 C1127 1582.3 1129.5 1595.99 1131 1607.85 C1132.5 1619.7 1134.36 1635.88 1135.03 1641.49" stroke="#F9DCA4" stroke-width="0.88"/>
<path d="M1136.02 1329.65 C1137.75 1331.75 1143.62 1336.62 1146.39 1342.24 C1149.16 1347.87 1152.72 1357.27 1152.62 1363.41 C1152.52 1369.55 1146.93 1376.46 1145.8 1379.07" stroke="#EAB468" stroke-width="1.04"/>
<path d="M1071.26 1488.26 C1071.77 1494.54 1073.99 1513.97 1074.35 1525.9 C1074.7 1537.84 1073.41 1548.16 1073.36 1559.87 C1073.31 1571.58 1074.09 1585.14 1074.04 1596.16 C1073.99 1607.18 1073.66 1613.49 1073.07 1625.99 C1072.47 1638.49 1070.88 1663.64 1070.45 1671.17" stroke="#F7D494" stroke-width="1.1"/>
<path d="M1096.26 1293.18 C1094.31 1293.96 1088.46 1295.52 1084.56 1297.86 C1080.66 1300.2 1075.51 1302.93 1072.86 1307.22 C1070.21 1311.51 1068.84 1318.14 1068.65 1323.6 C1068.45 1329.06 1070.6 1334.13 1071.69 1339.98 C1072.78 1345.83 1074.22 1352.06 1075.2 1358.69 C1076.17 1365.32 1077.73 1373.12 1077.54 1379.75 C1077.34 1386.38 1074.61 1395.35 1074.03 1398.47" stroke="#F9DCA4" stroke-width="1.17"/>
<path d="M1034.25 1588 C1036.78 1586.64 1044.78 1582.16 1049.46 1579.82 C1054.14 1577.48 1058.43 1576.11 1062.33 1573.97 C1066.23 1571.82 1071.1 1568.12 1072.86 1566.95" stroke="#EDBD72" stroke-width="1.17"/>
<path d="M1135.83 1395.78 C1135.28 1400.92 1132.6 1416.98 1132.5 1426.64 C1132.41 1436.29 1133.92 1443.19 1135.25 1453.72 C1136.57 1464.25 1139.4 1478.61 1140.44 1489.83 C1141.49 1501.04 1140.77 1509.32 1141.53 1521.02 C1142.29 1532.71 1144.42 1553.5 1145 1559.99" stroke="#EAB468" stroke-width="1.21"/>
<path d="M1072.16 1408.83 C1070.35 1411.7 1063.6 1420.58 1061.31 1426.08 C1059.01 1431.59 1058.54 1434.94 1058.4 1441.85 C1058.25 1448.77 1060.66 1458.1 1060.43 1467.56 C1060.21 1477.02 1057.76 1487.64 1057.04 1498.64 C1056.32 1509.64 1056.32 1521.88 1056.1 1533.56 C1055.88 1545.23 1055.51 1557.15 1055.73 1568.71 C1055.95 1580.27 1057.93 1591.59 1057.44 1602.9 C1056.94 1614.21 1054.45 1624.87 1052.78 1636.57 C1051.11 1648.27 1048.33 1667 1047.44 1673.09" stroke="#F9DCA4" stroke-width="1.35"/>
<path d="M1114.98 1295.52 C1116.15 1298.64 1119.27 1308.39 1122 1314.24 C1124.72 1320.09 1128.43 1325.94 1131.35 1330.62 C1134.28 1335.3 1137.2 1337.25 1139.54 1342.32 C1141.88 1347.39 1145.39 1354.4 1145.39 1361.03 C1145.39 1367.66 1140.52 1378.58 1139.54 1382.09" stroke="#F4CD88" stroke-width="1.47"/>
<path d="M1079.88 1463.99 C1080.27 1469.84 1081.63 1487.39 1082.22 1499.09 C1082.8 1510.79 1083.39 1522.49 1083.39 1534.19 C1083.39 1545.89 1082.02 1557.59 1082.22 1569.29 C1082.41 1580.99 1083.97 1592.68 1084.56 1604.38 C1085.14 1616.08 1085.34 1628.06 1085.73 1639.48 C1086.12 1650.91 1086.7 1667.37 1086.9 1672.94" stroke="#F7D494" stroke-width="1.47"/>
<path d="M1095.5 1472.96 C1095.1 1478.69 1093.74 1494.68 1093.07 1507.31 C1092.4 1519.94 1091.63 1536.08 1091.48 1548.74 C1091.33 1561.4 1091.61 1571.51 1092.15 1583.3 C1092.69 1595.08 1093.49 1608.01 1094.72 1619.44 C1095.95 1630.88 1098.29 1642.89 1099.52 1651.89 C1100.76 1660.88 1101.69 1669.84 1102.13 1673.43" stroke="#F4CD88" stroke-width="1.47"/>
<path d="M1133.94 1338.98 C1135.04 1341.27 1139.72 1347.39 1140.5 1352.73 C1141.28 1358.06 1140.35 1365.41 1138.61 1370.97 C1136.86 1376.52 1131.72 1379.14 1130.02 1386.06 C1128.33 1392.97 1129.1 1402.82 1128.46 1412.43 C1127.82 1422.04 1125.74 1434.08 1126.18 1443.72 C1126.62 1453.36 1129.53 1461.3 1131.13 1470.28 C1132.73 1479.25 1134.94 1486.49 1135.77 1497.58 C1136.61 1508.68 1135.83 1524.58 1136.15 1536.84 C1136.46 1549.1 1136.85 1560.05 1137.66 1571.14 C1138.47 1582.23 1140.68 1593.41 1141.03 1603.38 C1141.38 1613.35 1140.49 1622.97 1139.78 1630.94 C1139.08 1638.91 1137.9 1644.62 1136.8 1651.21 C1135.71 1657.8 1133.81 1667.27 1133.21 1670.49" stroke="#F4CD88" stroke-width="1.49"/>
<path d="M1123.69 1428.48 C1123.13 1434.52 1120.43 1452.99 1120.31 1464.73 C1120.19 1476.47 1122.42 1487.77 1122.97 1498.9 C1123.52 1510.03 1122.85 1519.86 1123.61 1531.53 C1124.38 1543.21 1126.86 1556.88 1127.55 1568.95 C1128.23 1581.02 1127.04 1591.95 1127.72 1603.96 C1128.4 1615.97 1130.92 1629.62 1131.6 1641 C1132.28 1652.37 1131.78 1667 1131.82 1672.2" stroke="#F2C67E" stroke-width="1.52"/>
<path d="M1088.67 1476.72 C1088.76 1482.53 1088.41 1499.77 1089.23 1511.58 C1090.05 1523.39 1092.44 1535.46 1093.59 1547.59 C1094.74 1559.73 1095.74 1573.19 1096.11 1584.37 C1096.48 1595.54 1095.27 1602.96 1095.81 1614.65 C1096.35 1626.35 1098.61 1644.3 1099.36 1654.53 C1100.12 1664.76 1100.17 1672.46 1100.33 1676.04" stroke="#F2C67E" stroke-width="1.76"/>
<path d="M1126.67 1335.3 C1127.45 1339.59 1130.38 1351.28 1131.35 1361.03 C1132.33 1370.78 1132.91 1383.26 1132.52 1393.79 C1132.13 1404.32 1129.4 1414.07 1129.01 1424.21 C1128.62 1434.35 1129.6 1444.1 1130.18 1454.63 C1130.77 1465.16 1131.55 1476.08 1132.52 1487.39 C1133.5 1498.7 1135.06 1510.79 1136.03 1522.49 C1137.01 1534.19 1137.98 1551.74 1138.37 1557.59" stroke="#F7D494" stroke-width="1.76"/>
<path d="M1145.39 1604.38 C1146.25 1606.72 1150.35 1612.18 1150.54 1618.42 C1150.74 1624.66 1147.03 1632.74 1146.56 1641.82 C1146.1 1650.91 1147.54 1667.76 1147.73 1672.94" stroke="#F9DCA4" stroke-width="1.76"/>
<path d="M1064.67 1424.21 C1064.94 1428.89 1065.72 1441.76 1066.31 1452.29 C1066.89 1462.82 1067.94 1475.69 1068.18 1487.39 C1068.41 1499.09 1068.02 1510.79 1067.71 1522.49 C1067.4 1534.19 1066.42 1545.89 1066.31 1557.59 C1066.19 1569.29 1067.28 1580.99 1067.01 1592.68 C1066.73 1604.38 1065.25 1614.41 1064.67 1627.78 C1064.08 1641.16 1063.69 1665.42 1063.5 1672.94" stroke="#F2C67E" stroke-width="1.76"/>
<path d="M1114.98 1393.79 C1114.59 1399.64 1112.44 1417.19 1112.64 1428.89 C1112.83 1440.59 1115.17 1452.29 1116.15 1463.99 C1117.12 1475.69 1117.9 1487.39 1118.49 1499.09 C1119.07 1510.79 1119.07 1522.49 1119.66 1534.19 C1120.24 1545.89 1121.02 1557.59 1122 1569.29 C1122.97 1580.99 1124.33 1592.68 1125.5 1604.38 C1126.67 1616.08 1128.43 1633.63 1129.01 1639.48" stroke="#F2C67E" stroke-width="1.76"/>
<path d="M1117.32 1580.99 C1118.49 1584.89 1122 1596.58 1124.33 1604.38 C1126.67 1612.18 1129.99 1619.98 1131.35 1627.78 C1132.72 1635.58 1132.52 1643.66 1132.52 1651.18 C1132.52 1658.71 1131.55 1669.32 1131.35 1672.94" stroke="#F7D494" stroke-width="2.05"/>
<path d="M1079.63 1460.92 C1079.4 1466.86 1078.13 1484.27 1078.22 1496.56 C1078.31 1508.86 1080.03 1522.76 1080.19 1534.7 C1080.35 1546.65 1079.22 1557.21 1079.19 1568.24 C1079.16 1579.27 1079.57 1589.36 1080.02 1600.9 C1080.47 1612.43 1080.95 1625.99 1081.87 1637.45 C1082.79 1648.91 1084.92 1664.3 1085.53 1669.67" stroke="#EDBD72" stroke-width="2.08"/>
<path d="M1082.22 1260.42 C1084.95 1262.76 1093.92 1269.78 1098.6 1274.46 C1103.28 1279.14 1106.79 1283.43 1110.3 1288.5 C1113.81 1293.57 1116.93 1299.03 1119.66 1304.88 C1122.39 1310.73 1123.94 1318.14 1126.67 1323.6 C1129.4 1329.06 1133.3 1332.96 1136.03 1337.64 C1138.76 1342.32 1142.27 1346.22 1143.05 1351.67 C1143.83 1357.13 1141.88 1364.15 1140.71 1370.39 C1139.54 1376.63 1137.4 1382.09 1136.03 1389.11 C1134.67 1396.13 1132.91 1403.93 1132.52 1412.51 C1132.13 1421.09 1132.91 1431.23 1133.69 1440.59 C1134.47 1449.95 1136.03 1458.92 1137.2 1468.67 C1138.37 1478.42 1139.74 1488.17 1140.71 1499.09 C1141.69 1510.01 1142.27 1522.49 1143.05 1534.19 C1143.83 1545.89 1144.42 1557.98 1145.39 1569.29 C1146.37 1580.6 1148.9 1592.29 1148.9 1602.04 C1148.9 1611.79 1146.56 1619.59 1145.39 1627.78 C1144.22 1635.97 1142.66 1643.66 1141.88 1651.18 C1141.1 1658.71 1140.91 1669.32 1140.71 1672.94" stroke="#F9DCA4" stroke-width="2.35"/>
<path d="M1100.94 1339.98 C1099.57 1342.32 1095.28 1348.94 1092.75 1354.01 C1090.21 1359.08 1087.87 1364.54 1085.73 1370.39 C1083.58 1376.24 1082.02 1383.26 1079.88 1389.11 C1077.73 1394.96 1075.39 1399.64 1072.86 1405.49 C1070.32 1411.34 1066.42 1417.58 1064.67 1424.21 C1062.91 1430.84 1062.52 1437.86 1062.33 1445.27 C1062.13 1452.68 1063.5 1459.7 1063.5 1468.67 C1063.5 1477.64 1062.72 1488.17 1062.33 1499.09 C1061.94 1510.01 1061.55 1522.49 1061.16 1534.19 C1060.77 1545.89 1059.99 1557.59 1059.99 1569.29 C1059.99 1580.99 1061.43 1592.68 1061.16 1604.38 C1060.88 1616.08 1059.71 1628.06 1058.35 1639.48 C1056.98 1650.91 1053.86 1667.37 1052.97 1672.94" stroke="#F2C67E" stroke-width="2.35"/>
<path d="M1105.62 1375.07 C1105.23 1380.14 1103.98 1394.57 1103.28 1405.49 C1102.57 1416.41 1102.18 1428.89 1101.4 1440.59 C1100.62 1452.29 1099.38 1463.99 1098.6 1475.69 C1097.82 1487.39 1097.39 1499.09 1096.72 1510.79 C1096.06 1522.49 1094.89 1534.19 1094.62 1545.89 C1094.35 1557.59 1094.5 1569.29 1095.09 1580.99 C1095.67 1592.68 1096.96 1604.38 1098.13 1616.08 C1099.3 1627.78 1101.05 1641.71 1102.11 1651.18 C1103.16 1660.66 1104.06 1669.32 1104.45 1672.94" stroke="#F7D494" stroke-width="2.35"/>
<path d="M1095.09 1417.19 C1094.11 1421.09 1090.6 1430.84 1089.24 1440.59 C1087.87 1450.34 1087.09 1463.99 1086.9 1475.69 C1086.7 1487.39 1088.07 1499.09 1088.07 1510.79 C1088.07 1522.49 1086.78 1534.19 1086.9 1545.89 C1087.01 1557.59 1088.07 1569.29 1088.77 1580.99 C1089.47 1592.68 1090.33 1604.38 1091.11 1616.08 C1091.89 1627.78 1092.79 1641.71 1093.45 1651.18 C1094.11 1660.66 1094.81 1669.32 1095.09 1672.94" stroke="#F7D494" stroke-width="2.35"/>
<path d="M1099.47 1302.72 C1099.29 1306.56 1097.68 1317.56 1098.39 1325.73 C1099.11 1333.89 1102.91 1342.87 1103.78 1351.72 C1104.64 1360.56 1103.53 1368.01 1103.58 1378.8 C1103.63 1389.58 1103.74 1403.71 1104.07 1416.42 C1104.4 1429.14 1105.22 1443.27 1105.56 1455.08 C1105.9 1466.89 1105.51 1475.81 1106.09 1487.28 C1106.68 1498.75 1108.41 1512.21 1109.06 1523.9 C1109.72 1535.59 1109.24 1545.68 1110.04 1557.41 C1110.84 1569.13 1112.78 1583.01 1113.85 1594.27 C1114.91 1605.53 1115.12 1611.98 1116.43 1624.96 C1117.73 1637.93 1120.8 1664.28 1121.67 1672.15" stroke="#F7D494" stroke-width="2.39"/>
<path d="M1085.73 1370.39 C1085.14 1375.07 1083.58 1388.72 1082.22 1398.47 C1080.85 1408.22 1078.71 1417.97 1077.54 1428.89 C1076.37 1439.81 1075.59 1452.29 1075.2 1463.99 C1074.81 1475.69 1075.39 1487.39 1075.2 1499.09 C1075 1510.79 1074.61 1522.49 1074.03 1534.19 C1073.44 1545.89 1072.08 1557.59 1071.69 1569.29 C1071.3 1580.99 1071.3 1592.68 1071.69 1604.38 C1072.08 1616.08 1073.05 1628.06 1074.03 1639.48 C1075 1650.91 1076.95 1667.37 1077.54 1672.94" stroke="#F7D494" stroke-width="2.64"/>
<path d="M1107.96 1351.67 C1109.13 1354.79 1112.83 1363.37 1114.98 1370.39 C1117.12 1377.41 1119.46 1384.04 1120.83 1393.79 C1122.19 1403.54 1122.58 1417.19 1123.17 1428.89 C1123.75 1440.59 1123.75 1452.29 1124.33 1463.99 C1124.92 1475.69 1125.89 1487.39 1126.67 1499.09 C1127.45 1510.79 1128.23 1522.49 1129.01 1534.19 C1129.79 1545.89 1130.65 1557.59 1131.35 1569.29 C1132.06 1580.99 1132.64 1592.68 1133.23 1604.38 C1133.81 1616.08 1134.4 1628.06 1134.86 1639.48 C1135.33 1650.91 1135.84 1667.37 1136.03 1672.94" stroke="#F7D494" stroke-width="2.64"/>
<path d="M1058.35 1238.89 C1060.77 1241.31 1068.49 1247.86 1072.86 1253.4 C1077.22 1258.94 1080.85 1265.88 1084.56 1272.12 C1088.26 1278.36 1092.36 1285.38 1095.09 1290.84 C1097.82 1296.3 1099.77 1298.64 1100.94 1304.88 C1102.11 1311.12 1101.33 1320.48 1102.11 1328.28 C1102.89 1336.08 1104.64 1342.71 1105.62 1351.67 C1106.59 1360.64 1107.37 1371.17 1107.96 1382.09 C1108.54 1393.01 1108.74 1405.49 1109.13 1417.19 C1109.52 1428.89 1109.91 1440.59 1110.3 1452.29 C1110.69 1463.99 1111 1475.69 1111.47 1487.39 C1111.93 1499.09 1112.52 1510.79 1113.1 1522.49 C1113.69 1534.19 1114.27 1545.89 1114.98 1557.59 C1115.68 1569.29 1116.34 1580.99 1117.32 1592.68 C1118.29 1604.38 1119.46 1614.41 1120.83 1627.78 C1122.19 1641.16 1124.72 1665.42 1125.5 1672.94" stroke="#F2C67E" stroke-width="3.23"/>
<circle cx="1088.13" cy="1255.81" r="1.5" fill="#F2BC7A" stroke="none"/>
<circle cx="1115.75" cy="1343.55" r="1.5" fill="#F2BC7A" stroke="none"/>
<circle cx="1086.5" cy="1364.14" r="1.5" fill="#F2BC7A" stroke="none"/>
<circle cx="1071.29" cy="1401.58" r="1.5" fill="#F2BC7A" stroke="none"/>
<circle cx="1074.8" cy="1406.26" r="1.5" fill="#F2BC7A" stroke="none"/>
<circle cx="1095.39" cy="1415.62" r="1.5" fill="#F2BC7A" stroke="none"/>
<circle cx="1119.72" cy="1377.01" r="1.5" fill="#F2BC7A" stroke="none"/>
<circle cx="1079.48" cy="1440.19" r="1.5" fill="#F2BC7A" stroke="none"/>
<circle cx="1088.84" cy="1447.21" r="1.5" fill="#F2BC7A" stroke="none"/>
<circle cx="1094.69" cy="1482.31" r="1.5" fill="#F2BC7A" stroke="none"/>
<circle cx="1086.5" cy="1494.01" r="1.5" fill="#F2BC7A" stroke="none"/>
<circle cx="1087.67" cy="1515.07" r="1.5" fill="#F2BC7A" stroke="none"/>
<circle cx="1077.14" cy="1458.91" r="1.5" fill="#F2BC7A" stroke="none"/>
<circle cx="1126.27" cy="1409.77" r="1.5" fill="#F2BC7A" stroke="none"/>
<circle cx="1097.03" cy="1463.59" r="1.5" fill="#F2BC7A" stroke="none"/>
<circle cx="1074.8" cy="1430.83" r="1.5" fill="#F2BC7A" stroke="none"/>
</g>
<rect x="1176.28" y="1618.89" width="3.98" height="39.08" fill="#fff"  />
<clipPath id="cp2"><rect x="1200.15" y="1237.02" width="178.53" height="436.86"/></clipPath>
<rect x="1200.15" y="1237.02" width="178.53" height="436.86" fill="#0b0a09"  />
<g clip-path="url(#cp2)" filter="url(#soft)" fill="none" stroke-linecap="round" stroke-linejoin="round">
<path d="M1220.27 1616.08 C1219.6 1617.29 1217.89 1620.89 1216.22 1623.29 C1214.56 1625.7 1211.26 1629.3 1210.27 1630.51" stroke="#D4984E" stroke-width="1.18"/>
<path d="M1329.08 1487.39 C1329.29 1488.42 1329.63 1491.5 1330.34 1493.56 C1331.05 1495.61 1332.82 1498.7 1333.32 1499.73" stroke="#D4984E" stroke-width="1.2"/>
<path d="M1362.3 1427.02 C1362.64 1428.09 1363.9 1431.28 1364.36 1433.42 C1364.81 1435.55 1364.91 1438.75 1365.02 1439.81" stroke="#CF9148" stroke-width="1.21"/>
<path d="M1337.27 1398.47 C1336.24 1399.41 1332.58 1402.23 1331.14 1404.11 C1329.7 1405.99 1329.06 1408.81 1328.64 1409.75" stroke="#D4984E" stroke-width="1.21"/>
<path d="M1262.39 1494.41 C1261.22 1495.93 1257.68 1500.49 1255.37 1503.53 C1253.06 1506.57 1249.66 1511.14 1248.52 1512.66" stroke="#D4984E" stroke-width="1.21"/>
<path d="M1334.93 1580.99 C1334.48 1582.02 1333.74 1585.13 1332.28 1587.2 C1330.81 1589.27 1327.16 1592.37 1326.14 1593.41" stroke="#D4984E" stroke-width="1.26"/>
<path d="M1312 1345.12 C1311.6 1347.31 1310.35 1353.88 1309.63 1358.26 C1308.91 1362.64 1308 1369.21 1307.68 1371.4" stroke="#D2934A" stroke-width="1.26"/>
<path d="M1235.48 1510.79 C1236.24 1511.98 1238.98 1515.54 1240.03 1517.92 C1241.08 1520.3 1241.48 1523.86 1241.77 1525.05" stroke="#D4984E" stroke-width="1.26"/>
<path d="M1208.57 1566.95 C1208.36 1568.87 1207.6 1574.65 1207.28 1578.51 C1206.95 1582.36 1206.74 1588.14 1206.63 1590.07" stroke="#C98840" stroke-width="1.26"/>
<path d="M1288.13 1463.99 C1286.51 1464.75 1281.38 1467.03 1278.4 1468.55 C1275.42 1470.08 1271.62 1472.36 1270.27 1473.12" stroke="#D4984E" stroke-width="1.27"/>
<path d="M1274.09 1447.61 C1274.48 1449.52 1275.76 1455.23 1276.47 1459.04 C1277.17 1462.86 1278.02 1468.57 1278.33 1470.48" stroke="#D2934A" stroke-width="1.28"/>
<path d="M1306.85 1639.48 C1305.73 1640.7 1302.56 1644.37 1300.12 1646.81 C1297.69 1649.25 1293.57 1652.91 1292.26 1654.13" stroke="#D4984E" stroke-width="1.28"/>
<path d="M1250.69 1417.19 C1251.5 1418.39 1253.87 1421.98 1255.57 1424.37 C1257.27 1426.76 1260.01 1430.35 1260.9 1431.55" stroke="#CF9148" stroke-width="1.29"/>
<path d="M1293.98 1522.49 C1295.06 1523.59 1297.76 1526.89 1300.44 1529.09 C1303.13 1531.29 1308.48 1534.6 1310.09 1535.7" stroke="#CF9148" stroke-width="1.32"/>
<path d="M1233.14 1534.19 C1234.78 1535.49 1240.16 1539.41 1243 1542.02 C1245.84 1544.63 1249 1548.55 1250.19 1549.86" stroke="#C98840" stroke-width="1.33"/>
<path d="M1316.21 1335.3 C1317.21 1336.01 1320.54 1338.15 1322.2 1339.58 C1323.86 1341 1325.5 1343.14 1326.16 1343.86" stroke="#D4984E" stroke-width="1.33"/>
<path d="M1319.72 1580.99 C1319.23 1582.48 1317 1586.95 1316.77 1589.93 C1316.54 1592.92 1318.07 1597.39 1318.33 1598.88" stroke="#CF9148" stroke-width="1.33"/>
<path d="M1316.21 1335.3 C1315.7 1336.41 1314.15 1339.74 1313.19 1341.96 C1312.23 1344.18 1310.9 1347.51 1310.44 1348.62" stroke="#D2934A" stroke-width="1.34"/>
<path d="M1333.05 1409.47 C1334.79 1410.8 1340.37 1414.78 1343.48 1417.44 C1346.6 1420.09 1350.37 1424.07 1351.75 1425.4" stroke="#D4984E" stroke-width="1.36"/>
<path d="M1288.6 1432.87 C1286.85 1433.8 1281.45 1436.6 1278.09 1438.46 C1274.74 1440.33 1270.08 1443.12 1268.48 1444.05" stroke="#C98840" stroke-width="1.36"/>
<path d="M1327.91 1599.7 C1328.49 1601.77 1330.2 1607.95 1331.39 1612.08 C1332.58 1616.2 1334.44 1622.38 1335.05 1624.45" stroke="#CF9148" stroke-width="1.37"/>
<path d="M1276.43 1510.79 C1275.94 1512.25 1274.69 1516.64 1273.49 1519.57 C1272.28 1522.49 1269.91 1526.88 1269.2 1528.34" stroke="#D2934A" stroke-width="1.37"/>
<path d="M1295.15 1499.09 C1293.95 1500.91 1290.78 1506.36 1287.98 1510 C1285.18 1513.63 1279.95 1519.09 1278.34 1520.91" stroke="#D2934A" stroke-width="1.4"/>
<path d="M1337.27 1382.09 C1337.95 1382.4 1339.66 1383.33 1341.39 1383.95 C1343.13 1384.57 1346.61 1385.49 1347.66 1385.8" stroke="#D4984E" stroke-width="1.42"/>
<path d="M1300.3 1403.62 C1301.09 1405.44 1303.65 1410.91 1305.05 1414.55 C1306.45 1418.2 1308.07 1423.66 1308.68 1425.49" stroke="#D2934A" stroke-width="1.45"/>
<path d="M1299.98 1476 C1300.45 1480.09 1302.75 1492.33 1302.78 1500.55 C1302.8 1508.78 1300.14 1518.37 1300.15 1525.36 C1300.16 1532.36 1302.75 1535.44 1302.82 1542.52 C1302.88 1549.61 1300.92 1563.66 1300.55 1567.89" stroke="#D2934A" stroke-width="1.49"/>
<path d="M1276.43 1510.79 C1277.7 1512.71 1281.84 1518.47 1284.07 1522.31 C1286.3 1526.16 1288.87 1531.92 1289.83 1533.84" stroke="#D4984E" stroke-width="1.49"/>
<path d="M1337.27 1382.09 C1336.11 1383.76 1332.5 1388.75 1330.35 1392.08 C1328.2 1395.41 1325.35 1400.4 1324.35 1402.07" stroke="#D2934A" stroke-width="1.49"/>
<path d="M1299.8 1477.27 C1299.7 1481.26 1298.99 1493.34 1299.19 1501.17 C1299.39 1509 1300.82 1516.28 1301.01 1524.26 C1301.19 1532.24 1300.09 1541.58 1300.31 1549.06 C1300.52 1556.54 1301.96 1565.8 1302.29 1569.14" stroke="#D4984E" stroke-width="1.5"/>
<path d="M1358.79 1409.47 C1359.32 1410.94 1361.65 1415.36 1361.98 1418.31 C1362.31 1421.25 1360.97 1425.67 1360.77 1427.14" stroke="#C98840" stroke-width="1.54"/>
<path d="M1313.87 1347 C1315.57 1348.3 1320.75 1352.23 1324.07 1354.84 C1327.39 1357.46 1332.15 1361.38 1333.76 1362.69" stroke="#D4984E" stroke-width="1.56"/>
<path d="M1210.91 1463.99 C1210.28 1465.54 1207.8 1470.2 1207.14 1473.31 C1206.49 1476.41 1207.02 1481.07 1207 1482.63" stroke="#CF9148" stroke-width="1.56"/>
<path d="M1306.85 1639.48 C1306.3 1641.55 1304.58 1647.74 1303.56 1651.87 C1302.53 1656 1301.17 1662.2 1300.7 1664.26" stroke="#D2934A" stroke-width="1.58"/>
<path d="M1210.91 1463.99 C1209.56 1465.34 1205.2 1469.39 1202.82 1472.09 C1200.45 1474.79 1197.69 1478.85 1196.66 1480.2" stroke="#D2934A" stroke-width="1.58"/>
<path d="M1288.6 1432.87 C1287.97 1434.57 1285.92 1439.68 1284.81 1443.08 C1283.7 1446.48 1282.42 1451.59 1281.94 1453.29" stroke="#D4984E" stroke-width="1.58"/>
<path d="M1337.27 1398.47 C1336.72 1399.61 1335.39 1403.01 1333.98 1405.28 C1332.58 1407.54 1329.71 1410.95 1328.85 1412.08" stroke="#D2934A" stroke-width="1.59"/>
<path d="M1274.09 1356.35 C1275.06 1357.39 1277.53 1360.49 1279.93 1362.56 C1282.33 1364.63 1287.07 1367.74 1288.5 1368.77" stroke="#D2934A" stroke-width="1.59"/>
<path d="M1313.71 1345.87 C1314.22 1348.41 1314.08 1355.16 1316.79 1361.07 C1319.5 1366.99 1326.55 1375.51 1329.97 1381.36 C1333.39 1387.21 1333.96 1391.93 1337.32 1396.15 C1340.69 1400.36 1346.65 1402.43 1350.16 1406.67 C1353.67 1410.92 1356.72 1416.14 1358.37 1421.61 C1360.03 1427.08 1358.81 1433.15 1360.07 1439.49 C1361.34 1445.83 1364.57 1453.14 1365.98 1459.65 C1367.39 1466.15 1368.25 1473.19 1368.54 1478.54 C1368.83 1483.9 1367.87 1489.55 1367.73 1491.75" stroke="#CF9148" stroke-width="1.61"/>
<path d="M1262.39 1609.06 C1261.58 1610.65 1258.69 1615.4 1257.52 1618.56 C1256.34 1621.73 1255.68 1626.48 1255.32 1628.06" stroke="#C98840" stroke-width="1.64"/>
<path d="M1229.63 1590.34 C1228.87 1591.9 1227.12 1596.58 1225.08 1599.69 C1223.05 1602.81 1218.69 1607.48 1217.41 1609.04" stroke="#D2934A" stroke-width="1.65"/>
<path d="M1250.69 1487.39 C1250.9 1488.77 1250.98 1492.9 1251.93 1495.66 C1252.88 1498.42 1255.65 1502.55 1256.4 1503.93" stroke="#C98840" stroke-width="1.68"/>
<path d="M1341.24 1403.62 C1342.97 1404.89 1347.74 1408.69 1351.6 1411.23 C1355.46 1413.76 1362.27 1417.57 1364.4 1418.83" stroke="#D2934A" stroke-width="1.68"/>
<path d="M1302.17 1627.78 C1303.29 1629.28 1307.11 1633.76 1308.9 1636.75 C1310.7 1639.74 1312.26 1644.22 1312.94 1645.71" stroke="#CF9148" stroke-width="1.7"/>
<path d="M1341.24 1403.62 C1343.04 1404.55 1348.83 1407.33 1352.02 1409.18 C1355.22 1411.03 1358.99 1413.81 1360.39 1414.74" stroke="#CF9148" stroke-width="1.71"/>
<path d="M1321.35 1397.77 C1321.05 1398.89 1319.53 1402.27 1319.51 1404.51 C1319.49 1406.76 1320.96 1410.13 1321.25 1411.25" stroke="#CF9148" stroke-width="1.76"/>
<path d="M1281.58 1397.77 C1280.66 1398.3 1277.87 1399.91 1276.07 1400.97 C1274.27 1402.04 1271.66 1403.64 1270.78 1404.18" stroke="#C98840" stroke-width="1.76"/>
<path d="M1312 1345.12 C1310.56 1346.95 1305.97 1352.42 1303.4 1356.07 C1300.83 1359.72 1297.71 1365.2 1296.58 1367.03" stroke="#D2934A" stroke-width="1.77"/>
<path d="M1304.98 1386.07 C1304.25 1387.75 1301.61 1392.77 1300.61 1396.12 C1299.6 1399.47 1299.24 1404.5 1298.97 1406.18" stroke="#D4984E" stroke-width="1.77"/>
<path d="M1276.9 1409.47 C1275.55 1410.14 1270.91 1412.13 1268.84 1413.46 C1266.77 1414.79 1265.21 1416.78 1264.48 1417.45" stroke="#C98840" stroke-width="1.79"/>
<path d="M1327.91 1599.7 C1326.31 1600.88 1321.85 1604.39 1318.3 1606.74 C1314.75 1609.08 1308.55 1612.6 1306.6 1613.77" stroke="#D4984E" stroke-width="1.8"/>
<path d="M1208.57 1566.95 C1209.54 1567.47 1212.82 1569.04 1214.39 1570.09 C1215.95 1571.13 1217.36 1572.7 1217.95 1573.22" stroke="#C98840" stroke-width="1.8"/>
<path d="M1288.32 1495.16 C1287.37 1499.74 1283.88 1513.01 1282.61 1522.65 C1281.34 1532.29 1282.05 1543.37 1280.71 1553.02 C1279.38 1562.67 1276.71 1571.8 1274.62 1580.56 C1272.52 1589.33 1269.36 1595.26 1268.15 1605.61 C1266.93 1615.95 1267.42 1631.84 1267.35 1642.64 C1267.27 1653.45 1267.64 1665.81 1267.7 1670.45" stroke="#CF9148" stroke-width="1.81"/>
<path d="M1323.69 1391.92 C1323.39 1393.83 1322.95 1399.57 1321.88 1403.4 C1320.81 1407.22 1318.03 1412.96 1317.26 1414.88" stroke="#D2934A" stroke-width="1.82"/>
<path d="M1250.69 1487.39 C1250.01 1488.15 1247.64 1490.45 1246.59 1491.98 C1245.54 1493.51 1244.74 1495.8 1244.37 1496.57" stroke="#CF9148" stroke-width="1.83"/>
<path d="M1314.33 1350.97 C1316.1 1352.47 1321.54 1356.97 1324.91 1359.98 C1328.28 1362.98 1332.95 1367.48 1334.55 1368.98" stroke="#D4984E" stroke-width="1.83"/>
<path d="M1265.22 1390.5 C1264.18 1392.14 1261.84 1396.24 1258.98 1400.34 C1256.11 1404.44 1251.46 1409.63 1248.03 1415.12 C1244.61 1420.62 1241.96 1428.62 1238.43 1433.3 C1234.91 1437.97 1231.06 1439.94 1226.9 1443.18 C1222.74 1446.42 1217.72 1448.05 1213.47 1452.73 C1209.22 1457.41 1204.44 1467.12 1201.39 1471.24 C1198.34 1475.36 1196.2 1476.42 1195.16 1477.45" stroke="#D4984E" stroke-width="1.86"/>
<path d="M1344.29 1393.79 C1343.17 1395.78 1339.87 1401.73 1337.61 1405.7 C1335.34 1409.66 1331.86 1415.61 1330.71 1417.6" stroke="#CF9148" stroke-width="1.87"/>
<path d="M1311.13 1349.05 C1311.17 1353.43 1310.85 1367.29 1311.41 1375.32 C1311.98 1383.36 1312.93 1390.14 1314.52 1397.24 C1316.11 1404.35 1318.82 1413.29 1320.95 1417.95 C1323.08 1422.61 1326.24 1423.99 1327.3 1425.2" stroke="#C98840" stroke-width="1.98"/>
<path d="M1287.72 1490.1 C1287.33 1496.02 1286.39 1515.39 1285.4 1525.66 C1284.4 1535.93 1283.28 1543.04 1281.74 1551.73 C1280.19 1560.42 1277.87 1568.2 1276.14 1577.81 C1274.4 1587.42 1272.74 1598.6 1271.32 1609.39 C1269.89 1620.18 1267.91 1631.41 1267.59 1642.53 C1267.27 1653.66 1269.11 1670.55 1269.42 1676.15" stroke="#D4984E" stroke-width="1.99"/>
<path d="M1312.87 1351.82 C1313.01 1355.45 1313.55 1365.44 1313.69 1373.61 C1313.83 1381.77 1312.39 1393.52 1313.72 1400.79 C1315.04 1408.06 1319.23 1412.57 1321.66 1417.23 C1324.08 1421.9 1327.19 1426.85 1328.29 1428.77" stroke="#D4984E" stroke-width="2.04"/>
<path d="M1329.42 1511.53 C1330.17 1515.54 1332.46 1528.41 1333.96 1535.56 C1335.46 1542.72 1337.28 1547.41 1338.41 1554.46 C1339.53 1561.51 1339.66 1569.74 1340.73 1577.87 C1341.8 1585.99 1343.09 1594.57 1344.82 1603.22 C1346.55 1611.86 1349.99 1621.9 1351.12 1629.74 C1352.24 1637.58 1350.74 1642.47 1351.54 1650.24 C1352.35 1658.01 1355.2 1671.99 1355.94 1676.34" stroke="#C98840" stroke-width="2.1"/>
<path d="M1265.62 1471.5 C1264.51 1474.95 1261.23 1483.88 1258.96 1492.15 C1256.69 1500.43 1254.46 1511.01 1252 1521.13 C1249.54 1531.25 1246.19 1542.5 1244.2 1552.89 C1242.21 1563.28 1241.61 1573.7 1240.05 1583.46 C1238.49 1593.23 1235.73 1602.28 1234.83 1611.46 C1233.94 1620.65 1234.27 1628.16 1234.68 1638.58 C1235.09 1649 1236.87 1668.08 1237.31 1673.98" stroke="#CF9148" stroke-width="2.1"/>
<path d="M1257.01 1419.9 C1254.89 1423.07 1247.52 1431.62 1244.27 1438.91 C1241.02 1446.2 1239.14 1455.02 1237.49 1463.63 C1235.83 1472.25 1235.46 1482.71 1234.33 1490.59 C1233.2 1498.47 1231.93 1503.95 1230.71 1510.91 C1229.49 1517.88 1228.55 1524.82 1227.02 1532.38 C1225.49 1539.94 1224 1550.38 1221.53 1556.28 C1219.06 1562.18 1213.74 1565.87 1212.19 1567.79" stroke="#D4984E" stroke-width="2.11"/>
<path d="M1263.48 1389.12 C1262.4 1391.43 1259.86 1398.17 1256.96 1402.97 C1254.05 1407.76 1249.54 1413.25 1246.05 1417.87 C1242.57 1422.49 1239.37 1425.96 1236.06 1430.69 C1232.75 1435.43 1230.61 1441.76 1226.2 1446.28 C1221.8 1450.79 1214.09 1454.23 1209.63 1457.77 C1205.16 1461.31 1201.56 1464.5 1199.43 1467.49 C1197.3 1470.48 1197.29 1474.34 1196.86 1475.71" stroke="#C98840" stroke-width="2.13"/>
<path d="M1313 1350.05 C1314.55 1352.21 1318.4 1358.59 1322.27 1362.99 C1326.14 1367.39 1331.79 1370.9 1336.22 1376.46 C1340.64 1382.03 1344.69 1390.7 1348.8 1396.38 C1352.91 1402.07 1357.35 1405.82 1360.86 1410.6 C1364.37 1415.37 1367.59 1420.61 1369.86 1425.03 C1372.14 1429.45 1373.57 1431.39 1374.52 1437.1 C1375.47 1442.81 1374.64 1453.08 1375.57 1459.3 C1376.49 1465.53 1379.55 1469.29 1380.06 1474.46 C1380.56 1479.63 1378.83 1487.69 1378.58 1490.34" stroke="#CF9148" stroke-width="2.21"/>
<path d="M1201.55 1552.91 C1202.72 1555.25 1205.84 1563.24 1208.57 1566.95 C1211.3 1570.65 1216.37 1573.77 1217.93 1575.14" stroke="#CF9148" stroke-width="2.22"/>
<path d="M1215.59 1454.63 C1214.81 1456.19 1209.74 1461.65 1210.91 1463.99 C1212.08 1466.33 1220.66 1467.89 1222.61 1468.67" stroke="#C98840" stroke-width="2.22"/>
<path d="M1332.59 1379.75 C1333.37 1382.87 1335.71 1392.62 1337.27 1398.47 C1338.83 1404.32 1341.17 1412.12 1341.95 1414.85" stroke="#D2934A" stroke-width="2.22"/>
<path d="M1306.85 1328.28 C1308.41 1329.45 1313.09 1331.4 1316.21 1335.3 C1319.33 1339.2 1322.84 1346.61 1325.57 1351.67 C1328.3 1356.74 1331.42 1363.37 1332.59 1365.71" stroke="#C98840" stroke-width="2.22"/>
<path d="M1267.07 1471.01 C1268.24 1473.74 1272.53 1480.76 1274.09 1487.39 C1275.65 1494.02 1275.65 1502.99 1276.43 1510.79 C1277.21 1518.59 1278.38 1530.29 1278.77 1534.19" stroke="#D4984E" stroke-width="2.22"/>
<path d="M1248.35 1440.59 C1249.13 1444.49 1252.64 1456.19 1253.03 1463.99 C1253.42 1471.79 1251.47 1479.59 1250.69 1487.39 C1249.91 1495.19 1248.74 1506.89 1248.35 1510.79" stroke="#C98840" stroke-width="2.22"/>
<path d="M1300.3 1333.42 C1302.25 1335.37 1309.07 1340.25 1312 1345.12 C1314.92 1350 1314.92 1357.21 1317.84 1362.67 C1320.77 1368.13 1324.67 1374.96 1329.54 1377.88 C1334.42 1380.81 1344.17 1379.83 1347.09 1380.22" stroke="#CF9148" stroke-width="2.22"/>
<path d="M1319.01 1374.37 C1319.79 1377.3 1321.35 1386.07 1323.69 1391.92 C1326.03 1397.77 1330.91 1403.82 1333.05 1409.47 C1335.2 1415.13 1335.98 1423.12 1336.56 1425.85" stroke="#C98840" stroke-width="2.22"/>
<path d="M1290.94 1372.03 C1289.77 1373.98 1285.48 1379.44 1283.92 1383.73 C1282.36 1388.02 1282.75 1393.48 1281.58 1397.77 C1280.41 1402.06 1279.63 1405.57 1276.9 1409.47 C1274.17 1413.37 1267.15 1419.22 1265.2 1421.17" stroke="#D4984E" stroke-width="2.22"/>
<path d="M1294.45 1380.22 C1294.45 1383.15 1294.84 1391.92 1294.45 1397.77 C1294.06 1403.62 1293.08 1409.47 1292.11 1415.32 C1291.13 1421.17 1289.96 1427.02 1288.6 1432.87 C1287.23 1438.72 1284.7 1447.49 1283.92 1450.42" stroke="#C98840" stroke-width="2.22"/>
<path d="M1304.98 1368.52 C1304.98 1371.45 1305.76 1380.22 1304.98 1386.07 C1304.2 1391.92 1301.47 1397.77 1300.3 1403.62 C1299.13 1409.47 1298.35 1418.25 1297.96 1421.17" stroke="#D2934A" stroke-width="2.22"/>
<path d="M1335.39 1391.92 C1336.37 1393.87 1339.29 1399.53 1341.24 1403.62 C1343.19 1407.72 1346.31 1412.59 1347.09 1416.49 C1347.87 1420.39 1346.12 1425.26 1345.92 1427.02" stroke="#C98840" stroke-width="2.22"/>
<path d="M1347.09 1397.77 C1349.04 1399.72 1356.26 1404.6 1358.79 1409.47 C1361.33 1414.35 1361.33 1421.17 1362.3 1427.02 C1363.28 1432.87 1364.25 1441.64 1364.64 1444.57" stroke="#C98840" stroke-width="2.22"/>
<path d="M1326.35 1508.47 C1326.58 1513.27 1327.99 1529.26 1327.78 1537.29 C1327.57 1545.33 1325.19 1549.81 1325.07 1556.66 C1324.95 1563.51 1325.7 1570.53 1327.06 1578.4 C1328.41 1586.28 1331.48 1595.71 1333.2 1603.92 C1334.92 1612.13 1336.14 1620.2 1337.38 1627.66 C1338.63 1635.11 1339.75 1640.89 1340.66 1648.63 C1341.56 1656.36 1342.45 1669.82 1342.81 1674.06" stroke="#CF9148" stroke-width="2.64"/>
<path d="M1309.19 1342.32 C1310.75 1345.44 1315.43 1355.57 1318.55 1361.03 C1321.67 1366.49 1324.79 1371.56 1327.91 1375.07 C1331.03 1378.58 1334.15 1381.31 1337.27 1382.09 C1340.39 1382.87 1345.07 1380.14 1346.63 1379.75" stroke="#C98840" stroke-width="2.67"/>
<path d="M1304.51 1428.89 C1303.92 1432.79 1302.17 1444.49 1301 1452.29 C1299.83 1460.09 1298.46 1467.89 1297.49 1475.69 C1296.51 1483.49 1295.73 1491.29 1295.15 1499.09 C1294.56 1506.89 1293.98 1514.69 1293.98 1522.49 C1293.98 1530.29 1295.15 1538.09 1295.15 1545.89 C1295.15 1553.69 1294.17 1565.39 1293.98 1569.29" stroke="#CF9148" stroke-width="2.67"/>
<path d="M1241.33 1569.29 C1239.38 1572.8 1233.14 1582.55 1229.63 1590.34 C1226.12 1598.14 1222.61 1607.5 1220.27 1616.08 C1217.93 1624.66 1216.57 1632.35 1215.59 1641.82 C1214.62 1651.3 1214.62 1667.76 1214.42 1672.94" stroke="#C98840" stroke-width="2.67"/>
<path d="M1318.55 1580.99 C1320.11 1584.11 1325.18 1592.68 1327.91 1599.7 C1330.64 1606.72 1333.95 1615.3 1334.93 1623.1 C1335.9 1630.9 1333.76 1638.2 1333.76 1646.5 C1333.76 1654.81 1334.73 1668.54 1334.93 1672.94" stroke="#D4984E" stroke-width="2.67"/>
<path d="M1311.53 1616.08 C1310.75 1619.98 1308.02 1630.01 1306.85 1639.48 C1305.68 1648.96 1304.9 1667.37 1304.51 1672.94" stroke="#D4984E" stroke-width="2.67"/>
<path d="M1296.79 1306.51 C1298.54 1310.41 1304.39 1322.5 1307.32 1329.91 C1310.24 1337.32 1312.39 1343.56 1314.33 1350.97 C1316.28 1358.38 1317.84 1366.57 1319.01 1374.37 C1320.18 1382.17 1319.6 1390.95 1321.35 1397.77 C1323.11 1404.6 1327.2 1410.45 1329.54 1415.32 C1331.88 1420.19 1334.42 1425.07 1335.39 1427.02" stroke="#CF9148" stroke-width="2.67"/>
<path d="M1289.57 1353.95 C1290.83 1356.91 1295.01 1364.83 1297.1 1371.68 C1299.19 1378.53 1300.39 1386.9 1302.11 1395.07 C1303.84 1403.24 1306.04 1413.3 1307.44 1420.7 C1308.85 1428.1 1309.61 1432.5 1310.55 1439.45 C1311.48 1446.41 1313.17 1454.78 1313.04 1462.45 C1312.91 1470.12 1310.15 1476.99 1309.77 1485.48 C1309.38 1493.98 1310.39 1505.62 1310.71 1513.42 C1311.02 1521.21 1310.83 1524.87 1311.65 1532.25 C1312.47 1539.62 1315.02 1549.59 1315.64 1557.67 C1316.26 1565.74 1315.5 1574.16 1315.38 1580.67 C1315.26 1587.19 1316.07 1591.4 1314.92 1596.75 C1313.76 1602.1 1311.08 1607.09 1308.44 1612.76 C1305.8 1618.44 1302.56 1626.07 1299.1 1630.8 C1295.64 1635.54 1291.4 1636.79 1287.68 1641.16 C1283.97 1645.52 1279.63 1652.47 1276.8 1657 C1273.97 1661.53 1272.42 1666.11 1270.72 1668.35 C1269.02 1670.58 1267.3 1670.07 1266.62 1670.42" stroke="#CF9148" stroke-width="2.72"/>
<path d="M1259.25 1425.19 C1258.01 1427.78 1254.01 1434.59 1251.85 1440.73 C1249.68 1446.87 1247.35 1454.24 1246.27 1462.02 C1245.19 1469.81 1246.15 1479.07 1245.35 1487.43 C1244.55 1495.79 1242.48 1504.57 1241.46 1512.16 C1240.43 1519.75 1240.44 1526.22 1239.21 1532.95 C1237.97 1539.68 1236.88 1546.07 1234.03 1552.55 C1231.18 1559.04 1224.09 1568.65 1222.1 1571.86" stroke="#CF9148" stroke-width="2.72"/>
<path d="M1270.09 1467.8 C1269.59 1471.91 1268.14 1483.47 1267.1 1492.46 C1266.07 1501.45 1265.2 1511.56 1263.9 1521.74 C1262.6 1531.92 1261.19 1543.88 1259.29 1553.54 C1257.4 1563.2 1254.57 1570.26 1252.52 1579.7 C1250.47 1589.13 1247.37 1600.33 1247 1610.16 C1246.63 1619.98 1250.13 1627.77 1250.3 1638.65 C1250.47 1649.53 1248.4 1669.3 1248.02 1675.43" stroke="#D4984E" stroke-width="3.04"/>
<path d="M1284.62 1349.33 C1282.86 1350.5 1277.01 1352.84 1274.09 1356.35 C1271.16 1359.86 1268.63 1364.93 1267.07 1370.39 C1265.51 1375.85 1265.9 1383.65 1264.73 1389.11 C1263.56 1394.57 1262.39 1398.47 1260.05 1403.15 C1257.71 1407.83 1253.81 1412.51 1250.69 1417.19 C1247.57 1421.87 1244.84 1426.94 1241.33 1431.23 C1237.82 1435.52 1233.92 1439.03 1229.63 1442.93 C1225.34 1446.83 1219.49 1450.34 1215.59 1454.63 C1211.69 1458.92 1208.77 1464.77 1206.23 1468.67 C1203.7 1472.57 1201.36 1476.47 1200.38 1478.03" stroke="#D2934A" stroke-width="3.11"/>
<path d="M1288.44 1359.07 C1289.26 1361.29 1291.71 1366.63 1293.37 1372.38 C1295.04 1378.13 1296.21 1386.04 1298.43 1393.57 C1300.64 1401.11 1304.67 1409.74 1306.64 1417.58 C1308.61 1425.42 1309.69 1432.35 1310.25 1440.61 C1310.8 1448.87 1310.21 1459.65 1309.98 1467.14 C1309.75 1474.62 1309.3 1477.88 1308.86 1485.53 C1308.43 1493.19 1307.42 1504.49 1307.37 1513.07 C1307.32 1521.65 1307.77 1529.68 1308.57 1537.03 C1309.36 1544.38 1311.32 1549.37 1312.15 1557.18 C1312.97 1564.98 1313.02 1576.79 1313.51 1583.85 C1313.99 1590.9 1316.38 1594.55 1315.04 1599.53 C1313.7 1604.5 1308.46 1608.58 1305.47 1613.69 C1302.48 1618.8 1300.09 1625.2 1297.09 1630.17 C1294.08 1635.14 1291.41 1640.16 1287.45 1643.52 C1283.5 1646.87 1276.11 1646.16 1273.35 1650.3 C1270.6 1654.44 1272.2 1664.57 1270.95 1668.34 C1269.7 1672.12 1266.7 1672.18 1265.85 1672.94" stroke="#C98840" stroke-width="3.3"/>
<path d="M1291.64 1297.86 C1293 1300.2 1297.29 1306.83 1299.83 1311.9 C1302.36 1316.97 1304.51 1322.43 1306.85 1328.28 C1309.19 1334.13 1311.53 1341.15 1313.87 1347 C1316.21 1352.84 1317.77 1357.91 1320.89 1363.37 C1324.01 1368.83 1328.69 1374.68 1332.59 1379.75 C1336.49 1384.82 1340.39 1389.11 1344.29 1393.79 C1348.19 1398.47 1352.87 1402.76 1355.99 1407.83 C1359.11 1412.9 1361.06 1418.75 1363 1424.21 C1364.95 1429.67 1366.32 1434.74 1367.68 1440.59 C1369.05 1446.44 1370.02 1453.46 1371.19 1459.31 C1372.36 1465.16 1374.2 1470.62 1374.7 1475.69 C1375.21 1480.76 1374.31 1487.39 1374.24 1489.73" stroke="#D2934A" stroke-width="3.56"/>
<path d="M1289.3 1375.07 C1287.93 1377.41 1284.42 1384.43 1281.11 1389.11 C1277.79 1393.79 1273.31 1397.69 1269.41 1403.15 C1265.51 1408.61 1261.22 1415.63 1257.71 1421.87 C1254.2 1428.11 1250.88 1433.57 1248.35 1440.59 C1245.81 1447.61 1244.06 1456.19 1242.5 1463.99 C1240.94 1471.79 1240.16 1479.59 1238.99 1487.39 C1237.82 1495.19 1236.46 1502.99 1235.48 1510.79 C1234.51 1518.59 1234.51 1527.17 1233.14 1534.19 C1231.78 1541.21 1229.83 1547.06 1227.29 1552.91 C1224.76 1558.76 1219.49 1566.56 1217.93 1569.29" stroke="#D2934A" stroke-width="3.56"/>
<path d="M1297.49 1417.19 C1296.71 1421.09 1294.37 1432.79 1292.81 1440.59 C1291.25 1448.39 1289.69 1455.41 1288.13 1463.99 C1286.57 1472.57 1285.01 1482.32 1283.45 1492.07 C1281.89 1501.82 1280.33 1512.35 1278.77 1522.49 C1277.21 1532.63 1276.04 1543.16 1274.09 1552.91 C1272.14 1562.66 1269.02 1571.63 1267.07 1580.99 C1265.12 1590.34 1263.56 1599.31 1262.39 1609.06 C1261.22 1618.81 1260.24 1628.84 1260.05 1639.48 C1259.85 1650.13 1261.02 1667.37 1261.22 1672.94" stroke="#CF9148" stroke-width="3.56"/>
<path d="M1316.21 1440.59 C1317.77 1444.49 1323.42 1456.19 1325.57 1463.99 C1327.71 1471.79 1328.69 1479.59 1329.08 1487.39 C1329.47 1495.19 1327.71 1502.99 1327.91 1510.79 C1328.1 1518.59 1329.47 1526.39 1330.25 1534.19 C1331.03 1541.99 1331.81 1549.79 1332.59 1557.59 C1333.37 1565.39 1333.76 1573.19 1334.93 1580.99 C1336.1 1588.78 1337.85 1596.58 1339.61 1604.38 C1341.36 1612.18 1344.29 1619.98 1345.46 1627.78 C1346.63 1635.58 1346.04 1643.66 1346.63 1651.18 C1347.21 1658.71 1348.58 1669.32 1348.97 1672.94" stroke="#D4984E" stroke-width="3.56"/>
<path d="M1292.81 1412.51 C1291.25 1415.24 1286.57 1423.04 1283.45 1428.89 C1280.33 1434.74 1276.82 1440.59 1274.09 1447.61 C1271.36 1454.63 1269.02 1463.21 1267.07 1471.01 C1265.12 1478.81 1263.75 1485.83 1262.39 1494.41 C1261.02 1502.99 1260.44 1512.74 1258.88 1522.49 C1257.32 1532.24 1255.17 1543.16 1253.03 1552.91 C1250.88 1562.66 1247.96 1571.63 1246.01 1580.99 C1244.06 1590.34 1241.92 1599.31 1241.33 1609.06 C1240.75 1618.81 1242.11 1628.84 1242.5 1639.48 C1242.89 1650.13 1243.47 1667.37 1243.67 1672.94" stroke="#D4984E" stroke-width="4"/>
<path d="M1286.96 1237.02 C1287.35 1240.53 1288.52 1251.45 1289.3 1258.08 C1290.08 1264.71 1292.03 1270.56 1291.64 1276.8 C1291.25 1283.04 1288.25 1289.28 1286.96 1295.52 C1285.67 1301.76 1284.31 1307.61 1283.92 1314.24 C1283.53 1320.87 1283.72 1328.28 1284.62 1335.3 C1285.52 1342.32 1287.35 1349.72 1289.3 1356.35 C1291.25 1362.98 1294.17 1368.83 1296.32 1375.07 C1298.46 1381.31 1300.22 1386.77 1302.17 1393.79 C1304.12 1400.81 1306.07 1409.39 1308.02 1417.19 C1309.97 1424.99 1312.7 1432.79 1313.87 1440.59 C1315.04 1448.39 1315.04 1456.19 1315.04 1463.99 C1315.04 1471.79 1314.26 1479.59 1313.87 1487.39 C1313.48 1495.19 1312.7 1502.99 1312.7 1510.79 C1312.7 1518.59 1313.09 1526.39 1313.87 1534.19 C1314.65 1541.99 1316.4 1549.79 1317.38 1557.59 C1318.35 1565.39 1319.52 1573.97 1319.72 1580.99 C1319.91 1588 1319.91 1594.24 1318.55 1599.7 C1317.18 1605.16 1314.26 1609.06 1311.53 1613.74 C1308.8 1618.42 1305.68 1623.1 1302.17 1627.78 C1298.66 1632.46 1294.37 1637.53 1290.47 1641.82 C1286.57 1646.11 1281.5 1649.62 1278.77 1653.52 C1276.04 1657.42 1275.26 1661.98 1274.09 1665.22 C1272.92 1668.46 1272.14 1671.66 1271.75 1672.94" stroke="#D4984E" stroke-width="5.33"/>
<circle cx="1306.85" cy="1318.92" r="3.18" fill="#E39A50" stroke="none"/>
<circle cx="1262.39" cy="1391.45" r="3.23" fill="#E39A50" stroke="none"/>
<circle cx="1269.41" cy="1394.96" r="3.05" fill="#E39A50" stroke="none"/>
<circle cx="1324.4" cy="1466.33" r="2.78" fill="#E39A50" stroke="none"/>
<circle cx="1324.4" cy="1473.35" r="3.09" fill="#E39A50" stroke="none"/>
<circle cx="1258.88" cy="1423.04" r="2.95" fill="#E39A50" stroke="none"/>
<circle cx="1292.81" cy="1421.87" r="3.13" fill="#E39A50" stroke="none"/>
<circle cx="1241.33" cy="1487.39" r="3.53" fill="#E39A50" stroke="none"/>
<circle cx="1235.48" cy="1515.47" r="3.04" fill="#E39A50" stroke="none"/>
<circle cx="1302.17" cy="1483.88" r="3.6" fill="#E39A50" stroke="none"/>
<circle cx="1315.04" cy="1588" r="3.53" fill="#E39A50" stroke="none"/>
<circle cx="1274.09" cy="1667.56" r="2.81" fill="#E39A50" stroke="none"/>
<circle cx="1264.73" cy="1370.39" r="3.1" fill="#E39A50" stroke="none"/>
<path d="M1220.27 1616.08 C1219.6 1617.29 1217.89 1620.89 1216.22 1623.29 C1214.56 1625.7 1211.26 1629.3 1210.27 1630.51" stroke="#F4CD88" stroke-width="0.78"/>
<path d="M1329.08 1487.39 C1329.29 1488.42 1329.63 1491.5 1330.34 1493.56 C1331.05 1495.61 1332.82 1498.7 1333.32 1499.73" stroke="#F2C67E" stroke-width="0.79"/>
<path d="M1362.3 1427.02 C1362.64 1428.09 1363.9 1431.28 1364.36 1433.42 C1364.81 1435.55 1364.91 1438.75 1365.02 1439.81" stroke="#F9DCA4" stroke-width="0.8"/>
<path d="M1337.27 1398.47 C1336.24 1399.41 1332.58 1402.23 1331.14 1404.11 C1329.7 1405.99 1329.06 1408.81 1328.64 1409.75" stroke="#F4CD88" stroke-width="0.8"/>
<path d="M1262.39 1494.41 C1261.22 1495.93 1257.68 1500.49 1255.37 1503.53 C1253.06 1506.57 1249.66 1511.14 1248.52 1512.66" stroke="#F7D494" stroke-width="0.8"/>
<path d="M1334.93 1580.99 C1334.48 1582.02 1333.74 1585.13 1332.28 1587.2 C1330.81 1589.27 1327.16 1592.37 1326.14 1593.41" stroke="#F9DCA4" stroke-width="0.83"/>
<path d="M1312 1345.12 C1311.6 1347.31 1310.35 1353.88 1309.63 1358.26 C1308.91 1362.64 1308 1369.21 1307.68 1371.4" stroke="#EAB468" stroke-width="0.83"/>
<path d="M1235.48 1510.79 C1236.24 1511.98 1238.98 1515.54 1240.03 1517.92 C1241.08 1520.3 1241.48 1523.86 1241.77 1525.05" stroke="#EAB468" stroke-width="0.83"/>
<path d="M1208.57 1566.95 C1208.36 1568.87 1207.6 1574.65 1207.28 1578.51 C1206.95 1582.36 1206.74 1588.14 1206.63 1590.07" stroke="#F9DCA4" stroke-width="0.83"/>
<path d="M1288.13 1463.99 C1286.51 1464.75 1281.38 1467.03 1278.4 1468.55 C1275.42 1470.08 1271.62 1472.36 1270.27 1473.12" stroke="#EAB468" stroke-width="0.84"/>
<path d="M1274.09 1447.61 C1274.48 1449.52 1275.76 1455.23 1276.47 1459.04 C1277.17 1462.86 1278.02 1468.57 1278.33 1470.48" stroke="#EAB468" stroke-width="0.84"/>
<path d="M1306.85 1639.48 C1305.73 1640.7 1302.56 1644.37 1300.12 1646.81 C1297.69 1649.25 1293.57 1652.91 1292.26 1654.13" stroke="#F2C67E" stroke-width="0.85"/>
<path d="M1250.69 1417.19 C1251.5 1418.39 1253.87 1421.98 1255.57 1424.37 C1257.27 1426.76 1260.01 1430.35 1260.9 1431.55" stroke="#F4CD88" stroke-width="0.85"/>
<path d="M1293.98 1522.49 C1295.06 1523.59 1297.76 1526.89 1300.44 1529.09 C1303.13 1531.29 1308.48 1534.6 1310.09 1535.7" stroke="#F2C67E" stroke-width="0.87"/>
<path d="M1233.14 1534.19 C1234.78 1535.49 1240.16 1539.41 1243 1542.02 C1245.84 1544.63 1249 1548.55 1250.19 1549.86" stroke="#EDBD72" stroke-width="0.88"/>
<path d="M1316.21 1335.3 C1317.21 1336.01 1320.54 1338.15 1322.2 1339.58 C1323.86 1341 1325.5 1343.14 1326.16 1343.86" stroke="#EAB468" stroke-width="0.88"/>
<path d="M1319.72 1580.99 C1319.23 1582.48 1317 1586.95 1316.77 1589.93 C1316.54 1592.92 1318.07 1597.39 1318.33 1598.88" stroke="#F2C67E" stroke-width="0.88"/>
<path d="M1316.21 1335.3 C1315.7 1336.41 1314.15 1339.74 1313.19 1341.96 C1312.23 1344.18 1310.9 1347.51 1310.44 1348.62" stroke="#EDBD72" stroke-width="0.88"/>
<path d="M1333.05 1409.47 C1334.79 1410.8 1340.37 1414.78 1343.48 1417.44 C1346.6 1420.09 1350.37 1424.07 1351.75 1425.4" stroke="#F4CD88" stroke-width="0.9"/>
<path d="M1288.6 1432.87 C1286.85 1433.8 1281.45 1436.6 1278.09 1438.46 C1274.74 1440.33 1270.08 1443.12 1268.48 1444.05" stroke="#EAB468" stroke-width="0.9"/>
<path d="M1327.91 1599.7 C1328.49 1601.77 1330.2 1607.95 1331.39 1612.08 C1332.58 1616.2 1334.44 1622.38 1335.05 1624.45" stroke="#F2C67E" stroke-width="0.91"/>
<path d="M1276.43 1510.79 C1275.94 1512.25 1274.69 1516.64 1273.49 1519.57 C1272.28 1522.49 1269.91 1526.88 1269.2 1528.34" stroke="#F9DCA4" stroke-width="0.91"/>
<path d="M1295.15 1499.09 C1293.95 1500.91 1290.78 1506.36 1287.98 1510 C1285.18 1513.63 1279.95 1519.09 1278.34 1520.91" stroke="#EAB468" stroke-width="0.93"/>
<path d="M1337.27 1382.09 C1337.95 1382.4 1339.66 1383.33 1341.39 1383.95 C1343.13 1384.57 1346.61 1385.49 1347.66 1385.8" stroke="#F7D494" stroke-width="0.94"/>
<path d="M1300.3 1403.62 C1301.09 1405.44 1303.65 1410.91 1305.05 1414.55 C1306.45 1418.2 1308.07 1423.66 1308.68 1425.49" stroke="#F4CD88" stroke-width="0.96"/>
<path d="M1299.98 1476 C1300.45 1480.09 1302.75 1492.33 1302.78 1500.55 C1302.8 1508.78 1300.14 1518.37 1300.15 1525.36 C1300.16 1532.36 1302.75 1535.44 1302.82 1542.52 C1302.88 1549.61 1300.92 1563.66 1300.55 1567.89" stroke="#F2C67E" stroke-width="0.98"/>
<path d="M1276.43 1510.79 C1277.7 1512.71 1281.84 1518.47 1284.07 1522.31 C1286.3 1526.16 1288.87 1531.92 1289.83 1533.84" stroke="#F7D494" stroke-width="0.98"/>
<path d="M1337.27 1382.09 C1336.11 1383.76 1332.5 1388.75 1330.35 1392.08 C1328.2 1395.41 1325.35 1400.4 1324.35 1402.07" stroke="#F4CD88" stroke-width="0.99"/>
<path d="M1299.8 1477.27 C1299.7 1481.26 1298.99 1493.34 1299.19 1501.17 C1299.39 1509 1300.82 1516.28 1301.01 1524.26 C1301.19 1532.24 1300.09 1541.58 1300.31 1549.06 C1300.52 1556.54 1301.96 1565.8 1302.29 1569.14" stroke="#F7D494" stroke-width="0.99"/>
<path d="M1358.79 1409.47 C1359.32 1410.94 1361.65 1415.36 1361.98 1418.31 C1362.31 1421.25 1360.97 1425.67 1360.77 1427.14" stroke="#F7D494" stroke-width="1.02"/>
<path d="M1313.87 1347 C1315.57 1348.3 1320.75 1352.23 1324.07 1354.84 C1327.39 1357.46 1332.15 1361.38 1333.76 1362.69" stroke="#EDBD72" stroke-width="1.03"/>
<path d="M1210.91 1463.99 C1210.28 1465.54 1207.8 1470.2 1207.14 1473.31 C1206.49 1476.41 1207.02 1481.07 1207 1482.63" stroke="#F4CD88" stroke-width="1.03"/>
<path d="M1306.85 1639.48 C1306.3 1641.55 1304.58 1647.74 1303.56 1651.87 C1302.53 1656 1301.17 1662.2 1300.7 1664.26" stroke="#F9DCA4" stroke-width="1.04"/>
<path d="M1210.91 1463.99 C1209.56 1465.34 1205.2 1469.39 1202.82 1472.09 C1200.45 1474.79 1197.69 1478.85 1196.66 1480.2" stroke="#EAB468" stroke-width="1.04"/>
<path d="M1288.6 1432.87 C1287.97 1434.57 1285.92 1439.68 1284.81 1443.08 C1283.7 1446.48 1282.42 1451.59 1281.94 1453.29" stroke="#F9DCA4" stroke-width="1.05"/>
<path d="M1337.27 1398.47 C1336.72 1399.61 1335.39 1403.01 1333.98 1405.28 C1332.58 1407.54 1329.71 1410.95 1328.85 1412.08" stroke="#F9DCA4" stroke-width="1.05"/>
<path d="M1274.09 1356.35 C1275.06 1357.39 1277.53 1360.49 1279.93 1362.56 C1282.33 1364.63 1287.07 1367.74 1288.5 1368.77" stroke="#F4CD88" stroke-width="1.05"/>
<path d="M1313.71 1345.87 C1314.22 1348.41 1314.08 1355.16 1316.79 1361.07 C1319.5 1366.99 1326.55 1375.51 1329.97 1381.36 C1333.39 1387.21 1333.96 1391.93 1337.32 1396.15 C1340.69 1400.36 1346.65 1402.43 1350.16 1406.67 C1353.67 1410.92 1356.72 1416.14 1358.37 1421.61 C1360.03 1427.08 1358.81 1433.15 1360.07 1439.49 C1361.34 1445.83 1364.57 1453.14 1365.98 1459.65 C1367.39 1466.15 1368.25 1473.19 1368.54 1478.54 C1368.83 1483.9 1367.87 1489.55 1367.73 1491.75" stroke="#F4CD88" stroke-width="1.06"/>
<path d="M1262.39 1609.06 C1261.58 1610.65 1258.69 1615.4 1257.52 1618.56 C1256.34 1621.73 1255.68 1626.48 1255.32 1628.06" stroke="#F2C67E" stroke-width="1.08"/>
<path d="M1229.63 1590.34 C1228.87 1591.9 1227.12 1596.58 1225.08 1599.69 C1223.05 1602.81 1218.69 1607.48 1217.41 1609.04" stroke="#F2C67E" stroke-width="1.09"/>
<path d="M1250.69 1487.39 C1250.9 1488.77 1250.98 1492.9 1251.93 1495.66 C1252.88 1498.42 1255.65 1502.55 1256.4 1503.93" stroke="#EDBD72" stroke-width="1.11"/>
<path d="M1341.24 1403.62 C1342.97 1404.89 1347.74 1408.69 1351.6 1411.23 C1355.46 1413.76 1362.27 1417.57 1364.4 1418.83" stroke="#F4CD88" stroke-width="1.11"/>
<path d="M1302.17 1627.78 C1303.29 1629.28 1307.11 1633.76 1308.9 1636.75 C1310.7 1639.74 1312.26 1644.22 1312.94 1645.71" stroke="#EAB468" stroke-width="1.12"/>
<path d="M1341.24 1403.62 C1343.04 1404.55 1348.83 1407.33 1352.02 1409.18 C1355.22 1411.03 1358.99 1413.81 1360.39 1414.74" stroke="#F2C67E" stroke-width="1.13"/>
<path d="M1321.35 1397.77 C1321.05 1398.89 1319.53 1402.27 1319.51 1404.51 C1319.49 1406.76 1320.96 1410.13 1321.25 1411.25" stroke="#EDBD72" stroke-width="1.16"/>
<path d="M1281.58 1397.77 C1280.66 1398.3 1277.87 1399.91 1276.07 1400.97 C1274.27 1402.04 1271.66 1403.64 1270.78 1404.18" stroke="#F9DCA4" stroke-width="1.16"/>
<path d="M1312 1345.12 C1310.56 1346.95 1305.97 1352.42 1303.4 1356.07 C1300.83 1359.72 1297.71 1365.2 1296.58 1367.03" stroke="#EAB468" stroke-width="1.17"/>
<path d="M1304.98 1386.07 C1304.25 1387.75 1301.61 1392.77 1300.61 1396.12 C1299.6 1399.47 1299.24 1404.5 1298.97 1406.18" stroke="#F7D494" stroke-width="1.17"/>
<path d="M1276.9 1409.47 C1275.55 1410.14 1270.91 1412.13 1268.84 1413.46 C1266.77 1414.79 1265.21 1416.78 1264.48 1417.45" stroke="#F2C67E" stroke-width="1.18"/>
<path d="M1327.91 1599.7 C1326.31 1600.88 1321.85 1604.39 1318.3 1606.74 C1314.75 1609.08 1308.55 1612.6 1306.6 1613.77" stroke="#F4CD88" stroke-width="1.19"/>
<path d="M1208.57 1566.95 C1209.54 1567.47 1212.82 1569.04 1214.39 1570.09 C1215.95 1571.13 1217.36 1572.7 1217.95 1573.22" stroke="#EAB468" stroke-width="1.19"/>
<path d="M1288.32 1495.16 C1287.37 1499.74 1283.88 1513.01 1282.61 1522.65 C1281.34 1532.29 1282.05 1543.37 1280.71 1553.02 C1279.38 1562.67 1276.71 1571.8 1274.62 1580.56 C1272.52 1589.33 1269.36 1595.26 1268.15 1605.61 C1266.93 1615.95 1267.42 1631.84 1267.35 1642.64 C1267.27 1653.45 1267.64 1665.81 1267.7 1670.45" stroke="#F9DCA4" stroke-width="1.2"/>
<path d="M1323.69 1391.92 C1323.39 1393.83 1322.95 1399.57 1321.88 1403.4 C1320.81 1407.22 1318.03 1412.96 1317.26 1414.88" stroke="#EDBD72" stroke-width="1.2"/>
<path d="M1250.69 1487.39 C1250.01 1488.15 1247.64 1490.45 1246.59 1491.98 C1245.54 1493.51 1244.74 1495.8 1244.37 1496.57" stroke="#F7D494" stroke-width="1.21"/>
<path d="M1314.33 1350.97 C1316.1 1352.47 1321.54 1356.97 1324.91 1359.98 C1328.28 1362.98 1332.95 1367.48 1334.55 1368.98" stroke="#EDBD72" stroke-width="1.21"/>
<path d="M1265.22 1390.5 C1264.18 1392.14 1261.84 1396.24 1258.98 1400.34 C1256.11 1404.44 1251.46 1409.63 1248.03 1415.12 C1244.61 1420.62 1241.96 1428.62 1238.43 1433.3 C1234.91 1437.97 1231.06 1439.94 1226.9 1443.18 C1222.74 1446.42 1217.72 1448.05 1213.47 1452.73 C1209.22 1457.41 1204.44 1467.12 1201.39 1471.24 C1198.34 1475.36 1196.2 1476.42 1195.16 1477.45" stroke="#EDBD72" stroke-width="1.23"/>
<path d="M1344.29 1393.79 C1343.17 1395.78 1339.87 1401.73 1337.61 1405.7 C1335.34 1409.66 1331.86 1415.61 1330.71 1417.6" stroke="#EDBD72" stroke-width="1.23"/>
<path d="M1311.13 1349.05 C1311.17 1353.43 1310.85 1367.29 1311.41 1375.32 C1311.98 1383.36 1312.93 1390.14 1314.52 1397.24 C1316.11 1404.35 1318.82 1413.29 1320.95 1417.95 C1323.08 1422.61 1326.24 1423.99 1327.3 1425.2" stroke="#F7D494" stroke-width="1.31"/>
<path d="M1287.72 1490.1 C1287.33 1496.02 1286.39 1515.39 1285.4 1525.66 C1284.4 1535.93 1283.28 1543.04 1281.74 1551.73 C1280.19 1560.42 1277.87 1568.2 1276.14 1577.81 C1274.4 1587.42 1272.74 1598.6 1271.32 1609.39 C1269.89 1620.18 1267.91 1631.41 1267.59 1642.53 C1267.27 1653.66 1269.11 1670.55 1269.42 1676.15" stroke="#F4CD88" stroke-width="1.32"/>
<path d="M1312.87 1351.82 C1313.01 1355.45 1313.55 1365.44 1313.69 1373.61 C1313.83 1381.77 1312.39 1393.52 1313.72 1400.79 C1315.04 1408.06 1319.23 1412.57 1321.66 1417.23 C1324.08 1421.9 1327.19 1426.85 1328.29 1428.77" stroke="#F4CD88" stroke-width="1.35"/>
<path d="M1329.42 1511.53 C1330.17 1515.54 1332.46 1528.41 1333.96 1535.56 C1335.46 1542.72 1337.28 1547.41 1338.41 1554.46 C1339.53 1561.51 1339.66 1569.74 1340.73 1577.87 C1341.8 1585.99 1343.09 1594.57 1344.82 1603.22 C1346.55 1611.86 1349.99 1621.9 1351.12 1629.74 C1352.24 1637.58 1350.74 1642.47 1351.54 1650.24 C1352.35 1658.01 1355.2 1671.99 1355.94 1676.34" stroke="#F2C67E" stroke-width="1.38"/>
<path d="M1265.62 1471.5 C1264.51 1474.95 1261.23 1483.88 1258.96 1492.15 C1256.69 1500.43 1254.46 1511.01 1252 1521.13 C1249.54 1531.25 1246.19 1542.5 1244.2 1552.89 C1242.21 1563.28 1241.61 1573.7 1240.05 1583.46 C1238.49 1593.23 1235.73 1602.28 1234.83 1611.46 C1233.94 1620.65 1234.27 1628.16 1234.68 1638.58 C1235.09 1649 1236.87 1668.08 1237.31 1673.98" stroke="#EAB468" stroke-width="1.39"/>
<path d="M1257.01 1419.9 C1254.89 1423.07 1247.52 1431.62 1244.27 1438.91 C1241.02 1446.2 1239.14 1455.02 1237.49 1463.63 C1235.83 1472.25 1235.46 1482.71 1234.33 1490.59 C1233.2 1498.47 1231.93 1503.95 1230.71 1510.91 C1229.49 1517.88 1228.55 1524.82 1227.02 1532.38 C1225.49 1539.94 1224 1550.38 1221.53 1556.28 C1219.06 1562.18 1213.74 1565.87 1212.19 1567.79" stroke="#F2C67E" stroke-width="1.39"/>
<path d="M1263.48 1389.12 C1262.4 1391.43 1259.86 1398.17 1256.96 1402.97 C1254.05 1407.76 1249.54 1413.25 1246.05 1417.87 C1242.57 1422.49 1239.37 1425.96 1236.06 1430.69 C1232.75 1435.43 1230.61 1441.76 1226.2 1446.28 C1221.8 1450.79 1214.09 1454.23 1209.63 1457.77 C1205.16 1461.31 1201.56 1464.5 1199.43 1467.49 C1197.3 1470.48 1197.29 1474.34 1196.86 1475.71" stroke="#EDBD72" stroke-width="1.41"/>
<path d="M1313 1350.05 C1314.55 1352.21 1318.4 1358.59 1322.27 1362.99 C1326.14 1367.39 1331.79 1370.9 1336.22 1376.46 C1340.64 1382.03 1344.69 1390.7 1348.8 1396.38 C1352.91 1402.07 1357.35 1405.82 1360.86 1410.6 C1364.37 1415.37 1367.59 1420.61 1369.86 1425.03 C1372.14 1429.45 1373.57 1431.39 1374.52 1437.1 C1375.47 1442.81 1374.64 1453.08 1375.57 1459.3 C1376.49 1465.53 1379.55 1469.29 1380.06 1474.46 C1380.56 1479.63 1378.83 1487.69 1378.58 1490.34" stroke="#F4CD88" stroke-width="1.46"/>
<path d="M1201.55 1552.91 C1202.72 1555.25 1205.84 1563.24 1208.57 1566.95 C1211.3 1570.65 1216.37 1573.77 1217.93 1575.14" stroke="#F9DCA4" stroke-width="1.47"/>
<path d="M1215.59 1454.63 C1214.81 1456.19 1209.74 1461.65 1210.91 1463.99 C1212.08 1466.33 1220.66 1467.89 1222.61 1468.67" stroke="#F9DCA4" stroke-width="1.47"/>
<path d="M1332.59 1379.75 C1333.37 1382.87 1335.71 1392.62 1337.27 1398.47 C1338.83 1404.32 1341.17 1412.12 1341.95 1414.85" stroke="#F7D494" stroke-width="1.47"/>
<path d="M1306.85 1328.28 C1308.41 1329.45 1313.09 1331.4 1316.21 1335.3 C1319.33 1339.2 1322.84 1346.61 1325.57 1351.67 C1328.3 1356.74 1331.42 1363.37 1332.59 1365.71" stroke="#F7D494" stroke-width="1.47"/>
<path d="M1267.07 1471.01 C1268.24 1473.74 1272.53 1480.76 1274.09 1487.39 C1275.65 1494.02 1275.65 1502.99 1276.43 1510.79 C1277.21 1518.59 1278.38 1530.29 1278.77 1534.19" stroke="#F9DCA4" stroke-width="1.47"/>
<path d="M1248.35 1440.59 C1249.13 1444.49 1252.64 1456.19 1253.03 1463.99 C1253.42 1471.79 1251.47 1479.59 1250.69 1487.39 C1249.91 1495.19 1248.74 1506.89 1248.35 1510.79" stroke="#F9DCA4" stroke-width="1.47"/>
<path d="M1300.3 1333.42 C1302.25 1335.37 1309.07 1340.25 1312 1345.12 C1314.92 1350 1314.92 1357.21 1317.84 1362.67 C1320.77 1368.13 1324.67 1374.96 1329.54 1377.88 C1334.42 1380.81 1344.17 1379.83 1347.09 1380.22" stroke="#EDBD72" stroke-width="1.47"/>
<path d="M1319.01 1374.37 C1319.79 1377.3 1321.35 1386.07 1323.69 1391.92 C1326.03 1397.77 1330.91 1403.82 1333.05 1409.47 C1335.2 1415.13 1335.98 1423.12 1336.56 1425.85" stroke="#F9DCA4" stroke-width="1.47"/>
<path d="M1290.94 1372.03 C1289.77 1373.98 1285.48 1379.44 1283.92 1383.73 C1282.36 1388.02 1282.75 1393.48 1281.58 1397.77 C1280.41 1402.06 1279.63 1405.57 1276.9 1409.47 C1274.17 1413.37 1267.15 1419.22 1265.2 1421.17" stroke="#EAB468" stroke-width="1.47"/>
<path d="M1294.45 1380.22 C1294.45 1383.15 1294.84 1391.92 1294.45 1397.77 C1294.06 1403.62 1293.08 1409.47 1292.11 1415.32 C1291.13 1421.17 1289.96 1427.02 1288.6 1432.87 C1287.23 1438.72 1284.7 1447.49 1283.92 1450.42" stroke="#EAB468" stroke-width="1.47"/>
<path d="M1304.98 1368.52 C1304.98 1371.45 1305.76 1380.22 1304.98 1386.07 C1304.2 1391.92 1301.47 1397.77 1300.3 1403.62 C1299.13 1409.47 1298.35 1418.25 1297.96 1421.17" stroke="#F4CD88" stroke-width="1.47"/>
<path d="M1335.39 1391.92 C1336.37 1393.87 1339.29 1399.53 1341.24 1403.62 C1343.19 1407.72 1346.31 1412.59 1347.09 1416.49 C1347.87 1420.39 1346.12 1425.26 1345.92 1427.02" stroke="#F2C67E" stroke-width="1.47"/>
<path d="M1347.09 1397.77 C1349.04 1399.72 1356.26 1404.6 1358.79 1409.47 C1361.33 1414.35 1361.33 1421.17 1362.3 1427.02 C1363.28 1432.87 1364.25 1441.64 1364.64 1444.57" stroke="#F7D494" stroke-width="1.47"/>
<path d="M1326.35 1508.47 C1326.58 1513.27 1327.99 1529.26 1327.78 1537.29 C1327.57 1545.33 1325.19 1549.81 1325.07 1556.66 C1324.95 1563.51 1325.7 1570.53 1327.06 1578.4 C1328.41 1586.28 1331.48 1595.71 1333.2 1603.92 C1334.92 1612.13 1336.14 1620.2 1337.38 1627.66 C1338.63 1635.11 1339.75 1640.89 1340.66 1648.63 C1341.56 1656.36 1342.45 1669.82 1342.81 1674.06" stroke="#EDBD72" stroke-width="1.74"/>
<path d="M1309.19 1342.32 C1310.75 1345.44 1315.43 1355.57 1318.55 1361.03 C1321.67 1366.49 1324.79 1371.56 1327.91 1375.07 C1331.03 1378.58 1334.15 1381.31 1337.27 1382.09 C1340.39 1382.87 1345.07 1380.14 1346.63 1379.75" stroke="#F2C67E" stroke-width="1.76"/>
<path d="M1304.51 1428.89 C1303.92 1432.79 1302.17 1444.49 1301 1452.29 C1299.83 1460.09 1298.46 1467.89 1297.49 1475.69 C1296.51 1483.49 1295.73 1491.29 1295.15 1499.09 C1294.56 1506.89 1293.98 1514.69 1293.98 1522.49 C1293.98 1530.29 1295.15 1538.09 1295.15 1545.89 C1295.15 1553.69 1294.17 1565.39 1293.98 1569.29" stroke="#EAB468" stroke-width="1.76"/>
<path d="M1241.33 1569.29 C1239.38 1572.8 1233.14 1582.55 1229.63 1590.34 C1226.12 1598.14 1222.61 1607.5 1220.27 1616.08 C1217.93 1624.66 1216.57 1632.35 1215.59 1641.82 C1214.62 1651.3 1214.62 1667.76 1214.42 1672.94" stroke="#F7D494" stroke-width="1.76"/>
<path d="M1318.55 1580.99 C1320.11 1584.11 1325.18 1592.68 1327.91 1599.7 C1330.64 1606.72 1333.95 1615.3 1334.93 1623.1 C1335.9 1630.9 1333.76 1638.2 1333.76 1646.5 C1333.76 1654.81 1334.73 1668.54 1334.93 1672.94" stroke="#EDBD72" stroke-width="1.76"/>
<path d="M1311.53 1616.08 C1310.75 1619.98 1308.02 1630.01 1306.85 1639.48 C1305.68 1648.96 1304.9 1667.37 1304.51 1672.94" stroke="#F7D494" stroke-width="1.76"/>
<path d="M1296.79 1306.51 C1298.54 1310.41 1304.39 1322.5 1307.32 1329.91 C1310.24 1337.32 1312.39 1343.56 1314.33 1350.97 C1316.28 1358.38 1317.84 1366.57 1319.01 1374.37 C1320.18 1382.17 1319.6 1390.95 1321.35 1397.77 C1323.11 1404.6 1327.2 1410.45 1329.54 1415.32 C1331.88 1420.19 1334.42 1425.07 1335.39 1427.02" stroke="#EDBD72" stroke-width="1.76"/>
<path d="M1289.57 1353.95 C1290.83 1356.91 1295.01 1364.83 1297.1 1371.68 C1299.19 1378.53 1300.39 1386.9 1302.11 1395.07 C1303.84 1403.24 1306.04 1413.3 1307.44 1420.7 C1308.85 1428.1 1309.61 1432.5 1310.55 1439.45 C1311.48 1446.41 1313.17 1454.78 1313.04 1462.45 C1312.91 1470.12 1310.15 1476.99 1309.77 1485.48 C1309.38 1493.98 1310.39 1505.62 1310.71 1513.42 C1311.02 1521.21 1310.83 1524.87 1311.65 1532.25 C1312.47 1539.62 1315.02 1549.59 1315.64 1557.67 C1316.26 1565.74 1315.5 1574.16 1315.38 1580.67 C1315.26 1587.19 1316.07 1591.4 1314.92 1596.75 C1313.76 1602.1 1311.08 1607.09 1308.44 1612.76 C1305.8 1618.44 1302.56 1626.07 1299.1 1630.8 C1295.64 1635.54 1291.4 1636.79 1287.68 1641.16 C1283.97 1645.52 1279.63 1652.47 1276.8 1657 C1273.97 1661.53 1272.42 1666.11 1270.72 1668.35 C1269.02 1670.58 1267.3 1670.07 1266.62 1670.42" stroke="#F7D494" stroke-width="1.8"/>
<path d="M1259.25 1425.19 C1258.01 1427.78 1254.01 1434.59 1251.85 1440.73 C1249.68 1446.87 1247.35 1454.24 1246.27 1462.02 C1245.19 1469.81 1246.15 1479.07 1245.35 1487.43 C1244.55 1495.79 1242.48 1504.57 1241.46 1512.16 C1240.43 1519.75 1240.44 1526.22 1239.21 1532.95 C1237.97 1539.68 1236.88 1546.07 1234.03 1552.55 C1231.18 1559.04 1224.09 1568.65 1222.1 1571.86" stroke="#EDBD72" stroke-width="1.8"/>
<path d="M1270.09 1467.8 C1269.59 1471.91 1268.14 1483.47 1267.1 1492.46 C1266.07 1501.45 1265.2 1511.56 1263.9 1521.74 C1262.6 1531.92 1261.19 1543.88 1259.29 1553.54 C1257.4 1563.2 1254.57 1570.26 1252.52 1579.7 C1250.47 1589.13 1247.37 1600.33 1247 1610.16 C1246.63 1619.98 1250.13 1627.77 1250.3 1638.65 C1250.47 1649.53 1248.4 1669.3 1248.02 1675.43" stroke="#EAB468" stroke-width="2.01"/>
<path d="M1284.62 1349.33 C1282.86 1350.5 1277.01 1352.84 1274.09 1356.35 C1271.16 1359.86 1268.63 1364.93 1267.07 1370.39 C1265.51 1375.85 1265.9 1383.65 1264.73 1389.11 C1263.56 1394.57 1262.39 1398.47 1260.05 1403.15 C1257.71 1407.83 1253.81 1412.51 1250.69 1417.19 C1247.57 1421.87 1244.84 1426.94 1241.33 1431.23 C1237.82 1435.52 1233.92 1439.03 1229.63 1442.93 C1225.34 1446.83 1219.49 1450.34 1215.59 1454.63 C1211.69 1458.92 1208.77 1464.77 1206.23 1468.67 C1203.7 1472.57 1201.36 1476.47 1200.38 1478.03" stroke="#EAB468" stroke-width="2.05"/>
<path d="M1288.44 1359.07 C1289.26 1361.29 1291.71 1366.63 1293.37 1372.38 C1295.04 1378.13 1296.21 1386.04 1298.43 1393.57 C1300.64 1401.11 1304.67 1409.74 1306.64 1417.58 C1308.61 1425.42 1309.69 1432.35 1310.25 1440.61 C1310.8 1448.87 1310.21 1459.65 1309.98 1467.14 C1309.75 1474.62 1309.3 1477.88 1308.86 1485.53 C1308.43 1493.19 1307.42 1504.49 1307.37 1513.07 C1307.32 1521.65 1307.77 1529.68 1308.57 1537.03 C1309.36 1544.38 1311.32 1549.37 1312.15 1557.18 C1312.97 1564.98 1313.02 1576.79 1313.51 1583.85 C1313.99 1590.9 1316.38 1594.55 1315.04 1599.53 C1313.7 1604.5 1308.46 1608.58 1305.47 1613.69 C1302.48 1618.8 1300.09 1625.2 1297.09 1630.17 C1294.08 1635.14 1291.41 1640.16 1287.45 1643.52 C1283.5 1646.87 1276.11 1646.16 1273.35 1650.3 C1270.6 1654.44 1272.2 1664.57 1270.95 1668.34 C1269.7 1672.12 1266.7 1672.18 1265.85 1672.94" stroke="#F2C67E" stroke-width="2.18"/>
<path d="M1291.64 1297.86 C1293 1300.2 1297.29 1306.83 1299.83 1311.9 C1302.36 1316.97 1304.51 1322.43 1306.85 1328.28 C1309.19 1334.13 1311.53 1341.15 1313.87 1347 C1316.21 1352.84 1317.77 1357.91 1320.89 1363.37 C1324.01 1368.83 1328.69 1374.68 1332.59 1379.75 C1336.49 1384.82 1340.39 1389.11 1344.29 1393.79 C1348.19 1398.47 1352.87 1402.76 1355.99 1407.83 C1359.11 1412.9 1361.06 1418.75 1363 1424.21 C1364.95 1429.67 1366.32 1434.74 1367.68 1440.59 C1369.05 1446.44 1370.02 1453.46 1371.19 1459.31 C1372.36 1465.16 1374.2 1470.62 1374.7 1475.69 C1375.21 1480.76 1374.31 1487.39 1374.24 1489.73" stroke="#EAB468" stroke-width="2.35"/>
<path d="M1289.3 1375.07 C1287.93 1377.41 1284.42 1384.43 1281.11 1389.11 C1277.79 1393.79 1273.31 1397.69 1269.41 1403.15 C1265.51 1408.61 1261.22 1415.63 1257.71 1421.87 C1254.2 1428.11 1250.88 1433.57 1248.35 1440.59 C1245.81 1447.61 1244.06 1456.19 1242.5 1463.99 C1240.94 1471.79 1240.16 1479.59 1238.99 1487.39 C1237.82 1495.19 1236.46 1502.99 1235.48 1510.79 C1234.51 1518.59 1234.51 1527.17 1233.14 1534.19 C1231.78 1541.21 1229.83 1547.06 1227.29 1552.91 C1224.76 1558.76 1219.49 1566.56 1217.93 1569.29" stroke="#F4CD88" stroke-width="2.35"/>
<path d="M1297.49 1417.19 C1296.71 1421.09 1294.37 1432.79 1292.81 1440.59 C1291.25 1448.39 1289.69 1455.41 1288.13 1463.99 C1286.57 1472.57 1285.01 1482.32 1283.45 1492.07 C1281.89 1501.82 1280.33 1512.35 1278.77 1522.49 C1277.21 1532.63 1276.04 1543.16 1274.09 1552.91 C1272.14 1562.66 1269.02 1571.63 1267.07 1580.99 C1265.12 1590.34 1263.56 1599.31 1262.39 1609.06 C1261.22 1618.81 1260.24 1628.84 1260.05 1639.48 C1259.85 1650.13 1261.02 1667.37 1261.22 1672.94" stroke="#F2C67E" stroke-width="2.35"/>
<path d="M1316.21 1440.59 C1317.77 1444.49 1323.42 1456.19 1325.57 1463.99 C1327.71 1471.79 1328.69 1479.59 1329.08 1487.39 C1329.47 1495.19 1327.71 1502.99 1327.91 1510.79 C1328.1 1518.59 1329.47 1526.39 1330.25 1534.19 C1331.03 1541.99 1331.81 1549.79 1332.59 1557.59 C1333.37 1565.39 1333.76 1573.19 1334.93 1580.99 C1336.1 1588.78 1337.85 1596.58 1339.61 1604.38 C1341.36 1612.18 1344.29 1619.98 1345.46 1627.78 C1346.63 1635.58 1346.04 1643.66 1346.63 1651.18 C1347.21 1658.71 1348.58 1669.32 1348.97 1672.94" stroke="#EDBD72" stroke-width="2.35"/>
<path d="M1292.81 1412.51 C1291.25 1415.24 1286.57 1423.04 1283.45 1428.89 C1280.33 1434.74 1276.82 1440.59 1274.09 1447.61 C1271.36 1454.63 1269.02 1463.21 1267.07 1471.01 C1265.12 1478.81 1263.75 1485.83 1262.39 1494.41 C1261.02 1502.99 1260.44 1512.74 1258.88 1522.49 C1257.32 1532.24 1255.17 1543.16 1253.03 1552.91 C1250.88 1562.66 1247.96 1571.63 1246.01 1580.99 C1244.06 1590.34 1241.92 1599.31 1241.33 1609.06 C1240.75 1618.81 1242.11 1628.84 1242.5 1639.48 C1242.89 1650.13 1243.47 1667.37 1243.67 1672.94" stroke="#EDBD72" stroke-width="2.64"/>
<path d="M1286.96 1237.02 C1287.35 1240.53 1288.52 1251.45 1289.3 1258.08 C1290.08 1264.71 1292.03 1270.56 1291.64 1276.8 C1291.25 1283.04 1288.25 1289.28 1286.96 1295.52 C1285.67 1301.76 1284.31 1307.61 1283.92 1314.24 C1283.53 1320.87 1283.72 1328.28 1284.62 1335.3 C1285.52 1342.32 1287.35 1349.72 1289.3 1356.35 C1291.25 1362.98 1294.17 1368.83 1296.32 1375.07 C1298.46 1381.31 1300.22 1386.77 1302.17 1393.79 C1304.12 1400.81 1306.07 1409.39 1308.02 1417.19 C1309.97 1424.99 1312.7 1432.79 1313.87 1440.59 C1315.04 1448.39 1315.04 1456.19 1315.04 1463.99 C1315.04 1471.79 1314.26 1479.59 1313.87 1487.39 C1313.48 1495.19 1312.7 1502.99 1312.7 1510.79 C1312.7 1518.59 1313.09 1526.39 1313.87 1534.19 C1314.65 1541.99 1316.4 1549.79 1317.38 1557.59 C1318.35 1565.39 1319.52 1573.97 1319.72 1580.99 C1319.91 1588 1319.91 1594.24 1318.55 1599.7 C1317.18 1605.16 1314.26 1609.06 1311.53 1613.74 C1308.8 1618.42 1305.68 1623.1 1302.17 1627.78 C1298.66 1632.46 1294.37 1637.53 1290.47 1641.82 C1286.57 1646.11 1281.5 1649.62 1278.77 1653.52 C1276.04 1657.42 1275.26 1661.98 1274.09 1665.22 C1272.92 1668.46 1272.14 1671.66 1271.75 1672.94" stroke="#EAB468" stroke-width="3.52"/>
<circle cx="1306.45" cy="1318.52" r="1.5" fill="#F2BC7A" stroke="none"/>
<circle cx="1261.99" cy="1391.05" r="1.5" fill="#F2BC7A" stroke="none"/>
<circle cx="1269.01" cy="1394.56" r="1.5" fill="#F2BC7A" stroke="none"/>
<circle cx="1324" cy="1465.93" r="1.5" fill="#F2BC7A" stroke="none"/>
<circle cx="1324" cy="1472.95" r="1.5" fill="#F2BC7A" stroke="none"/>
<circle cx="1258.48" cy="1422.64" r="1.5" fill="#F2BC7A" stroke="none"/>
<circle cx="1292.41" cy="1421.47" r="1.5" fill="#F2BC7A" stroke="none"/>
<circle cx="1240.93" cy="1486.99" r="1.5" fill="#F2BC7A" stroke="none"/>
<circle cx="1235.08" cy="1515.07" r="1.5" fill="#F2BC7A" stroke="none"/>
<circle cx="1301.77" cy="1483.48" r="1.5" fill="#F2BC7A" stroke="none"/>
<circle cx="1314.64" cy="1587.6" r="1.5" fill="#F2BC7A" stroke="none"/>
<circle cx="1273.69" cy="1667.16" r="1.5" fill="#F2BC7A" stroke="none"/>
<circle cx="1264.33" cy="1369.99" r="1.5" fill="#F2BC7A" stroke="none"/>
</g>
<rect x="1363.24" y="1618.89" width="3.98" height="39.08" fill="#fff"  />
<clipPath id="cp3"><rect x="1388.19" y="1237.02" width="178.53" height="436.86"/></clipPath>
<rect x="1388.19" y="1237.02" width="178.53" height="436.86" fill="#0b0a09"  />
<g clip-path="url(#cp3)" filter="url(#soft)" fill="none" stroke-linecap="round" stroke-linejoin="round">
<path d="M1482.96 1347 C1482.2 1347.83 1479.44 1350.34 1478.4 1352.01 C1477.36 1353.68 1477.01 1356.19 1476.74 1357.03" stroke="#CF9148" stroke-width="1.17"/>
<path d="M1529.75 1347 C1529.21 1348.11 1527.02 1351.45 1526.47 1353.68 C1525.91 1355.91 1526.41 1359.26 1526.4 1360.37" stroke="#D2934A" stroke-width="1.2"/>
<path d="M1520.39 1417.19 C1521.09 1418.83 1522.61 1423.75 1524.57 1427.03 C1526.52 1430.3 1530.87 1435.22 1532.13 1436.86" stroke="#D2934A" stroke-width="1.2"/>
<path d="M1485.3 1310.73 C1484.99 1311.74 1484.19 1314.78 1483.44 1316.81 C1482.69 1318.83 1481.23 1321.87 1480.79 1322.89" stroke="#D4984E" stroke-width="1.2"/>
<path d="M1525.07 1375.07 C1526.03 1376.01 1528.85 1378.81 1530.84 1380.68 C1532.82 1382.56 1535.95 1385.36 1536.98 1386.3" stroke="#D2934A" stroke-width="1.21"/>
<path d="M1445.52 1616.08 C1445.09 1617.01 1443.91 1619.78 1442.93 1621.63 C1441.95 1623.48 1440.18 1626.25 1439.63 1627.18" stroke="#D4984E" stroke-width="1.22"/>
<path d="M1520.39 1417.19 C1521.14 1417.72 1523.35 1419.31 1524.87 1420.37 C1526.39 1421.42 1528.73 1423.01 1529.51 1423.54" stroke="#D4984E" stroke-width="1.23"/>
<path d="M1497 1314.24 C1498.24 1315.85 1501.84 1320.69 1504.44 1323.92 C1507.05 1327.15 1511.27 1332 1512.64 1333.61" stroke="#D4984E" stroke-width="1.24"/>
<path d="M1429.14 1482.71 C1430.54 1483.7 1434.72 1486.65 1437.57 1488.63 C1440.42 1490.6 1444.78 1493.56 1446.22 1494.54" stroke="#C98840" stroke-width="1.24"/>
<path d="M1426.8 1419.53 C1426.44 1420.8 1425.98 1424.61 1424.67 1427.15 C1423.36 1429.69 1419.9 1433.5 1418.94 1434.77" stroke="#CF9148" stroke-width="1.25"/>
<path d="M1426.8 1419.53 C1427.55 1419.89 1429.62 1420.96 1431.32 1421.68 C1433.02 1422.39 1436.04 1423.47 1436.99 1423.83" stroke="#CF9148" stroke-width="1.25"/>
<path d="M1445.52 1616.08 C1444.75 1617.91 1442.42 1623.38 1440.93 1627.02 C1439.44 1630.67 1437.29 1636.14 1436.57 1637.97" stroke="#CF9148" stroke-width="1.25"/>
<path d="M1515.71 1428.89 C1517.02 1429.9 1520.68 1432.92 1523.55 1434.94 C1526.43 1436.95 1531.4 1439.98 1532.97 1440.99" stroke="#CF9148" stroke-width="1.25"/>
<path d="M1525.07 1328.28 C1524.64 1328.81 1523.88 1330.42 1522.46 1331.49 C1521.04 1332.56 1517.52 1334.16 1516.53 1334.7" stroke="#D2934A" stroke-width="1.25"/>
<path d="M1501.67 1241.7 C1501.19 1243.26 1500.21 1247.95 1498.77 1251.08 C1497.33 1254.21 1493.98 1258.9 1493.02 1260.47" stroke="#D2934A" stroke-width="1.25"/>
<path d="M1426.8 1419.53 C1425.67 1420.68 1422.55 1424.13 1420.02 1426.44 C1417.49 1428.74 1413.03 1432.19 1411.63 1433.34" stroke="#D4984E" stroke-width="1.26"/>
<path d="M1482.96 1428.89 C1482.87 1430.14 1482.95 1433.89 1482.42 1436.38 C1481.9 1438.88 1480.25 1442.62 1479.81 1443.87" stroke="#CF9148" stroke-width="1.29"/>
<path d="M1480.62 1534.19 C1481.72 1534.7 1485.47 1536.23 1487.24 1537.25 C1489 1538.27 1490.54 1539.8 1491.2 1540.31" stroke="#CF9148" stroke-width="1.29"/>
<path d="M1508.69 1557.59 C1506.88 1558.38 1501.49 1560.74 1497.78 1562.32 C1494.07 1563.9 1488.32 1566.27 1486.43 1567.06" stroke="#CF9148" stroke-width="1.29"/>
<path d="M1461.9 1274.46 C1462.06 1275.76 1462.48 1279.67 1462.85 1282.27 C1463.22 1284.88 1463.89 1288.79 1464.1 1290.09" stroke="#CF9148" stroke-width="1.3"/>
<path d="M1426.8 1379.75 C1427.5 1381.44 1429.18 1386.52 1431 1389.9 C1432.82 1393.28 1436.59 1398.35 1437.71 1400.05" stroke="#D4984E" stroke-width="1.32"/>
<path d="M1450.2 1463.99 C1449.25 1464.42 1446.15 1465.72 1444.52 1466.59 C1442.88 1467.45 1441.09 1468.75 1440.4 1469.18" stroke="#CF9148" stroke-width="1.32"/>
<path d="M1518.05 1538.87 C1517.41 1539.52 1515.5 1541.5 1514.22 1542.81 C1512.93 1544.12 1511.01 1546.09 1510.37 1546.75" stroke="#D4984E" stroke-width="1.33"/>
<path d="M1415.1 1513.13 C1415.82 1515.02 1418.22 1520.69 1419.44 1524.47 C1420.66 1528.25 1421.9 1533.93 1422.4 1535.82" stroke="#D4984E" stroke-width="1.33"/>
<path d="M1501.67 1370.39 C1500.65 1371.3 1497.82 1374 1495.53 1375.81 C1493.23 1377.62 1489.16 1380.32 1487.89 1381.23" stroke="#C98840" stroke-width="1.33"/>
<path d="M1511.03 1517.81 C1511.76 1519.52 1513.94 1524.64 1515.41 1528.05 C1516.88 1531.47 1519.11 1536.59 1519.86 1538.3" stroke="#CF9148" stroke-width="1.34"/>
<path d="M1454.88 1398.47 C1454.36 1400.35 1452.89 1405.97 1451.75 1409.72 C1450.61 1413.46 1448.66 1419.08 1448.04 1420.96" stroke="#CF9148" stroke-width="1.35"/>
<path d="M1548.47 1311.9 C1548.78 1314.11 1549.11 1320.76 1550.34 1325.19 C1551.57 1329.62 1554.92 1336.26 1555.83 1338.48" stroke="#CF9148" stroke-width="1.35"/>
<path d="M1438.5 1361.03 C1437.2 1361.78 1433.34 1364.02 1430.69 1365.51 C1428.05 1367.01 1423.96 1369.24 1422.61 1369.99" stroke="#CF9148" stroke-width="1.35"/>
<path d="M1525.07 1311.9 C1524.54 1314.16 1523.15 1320.97 1521.87 1325.5 C1520.58 1330.04 1518.12 1336.84 1517.37 1339.11" stroke="#C98840" stroke-width="1.35"/>
<path d="M1489.98 1244.04 C1489.02 1245.68 1486.65 1250.59 1484.24 1253.87 C1481.83 1257.14 1476.95 1262.05 1475.49 1263.69" stroke="#CF9148" stroke-width="1.36"/>
<path d="M1443.18 1534.19 C1444.24 1534.78 1447.41 1536.57 1449.57 1537.75 C1451.72 1538.94 1455.01 1540.73 1456.1 1541.32" stroke="#C98840" stroke-width="1.36"/>
<path d="M1436.16 1379.75 C1436.52 1381.96 1437.4 1388.57 1438.33 1392.98 C1439.26 1397.39 1441.16 1404 1441.73 1406.21" stroke="#CF9148" stroke-width="1.37"/>
<path d="M1482.96 1646.5 C1483.17 1647.83 1483.09 1651.81 1484.22 1654.47 C1485.34 1657.12 1488.81 1661.11 1489.73 1662.43" stroke="#CF9148" stroke-width="1.37"/>
<path d="M1464.24 1580.99 C1464.77 1582.19 1466.29 1585.81 1467.45 1588.23 C1468.62 1590.64 1470.58 1594.26 1471.21 1595.47" stroke="#C98840" stroke-width="1.37"/>
<path d="M1415.1 1449.95 C1415.59 1451.95 1417.32 1457.95 1418.02 1461.95 C1418.73 1465.95 1419.12 1471.94 1419.34 1473.94" stroke="#D2934A" stroke-width="1.37"/>
<path d="M1511.03 1384.43 C1510.45 1385.54 1508.7 1388.86 1507.53 1391.07 C1506.36 1393.28 1504.6 1396.59 1504.02 1397.7" stroke="#D2934A" stroke-width="1.37"/>
<path d="M1506.35 1412.51 C1506.73 1413.87 1507.48 1417.93 1508.62 1420.65 C1509.76 1423.36 1512.41 1427.42 1513.17 1428.78" stroke="#CF9148" stroke-width="1.39"/>
<path d="M1482.96 1347 C1482.29 1349.14 1480.2 1355.58 1478.94 1359.87 C1477.67 1364.17 1475.96 1370.6 1475.36 1372.75" stroke="#D4984E" stroke-width="1.39"/>
<path d="M1429.14 1482.71 C1430.41 1483.48 1434.03 1485.8 1436.79 1487.35 C1439.55 1488.89 1444.2 1491.21 1445.68 1491.98" stroke="#D2934A" stroke-width="1.4"/>
<path d="M1492.32 1524.83 C1492.36 1525.6 1491.8 1527.92 1492.6 1529.47 C1493.39 1531.01 1496.33 1533.33 1497.08 1534.11" stroke="#D2934A" stroke-width="1.41"/>
<path d="M1436.16 1316.58 C1434.97 1318.18 1430.69 1322.97 1429.03 1326.17 C1427.37 1329.37 1426.67 1334.17 1426.2 1335.77" stroke="#C98840" stroke-width="1.41"/>
<path d="M1511.03 1384.43 C1512.12 1386.27 1515.23 1391.77 1517.56 1395.44 C1519.89 1399.11 1523.75 1404.61 1524.99 1406.45" stroke="#D4984E" stroke-width="1.41"/>
<path d="M1525.07 1311.9 C1526.07 1313.48 1528.79 1318.23 1531.04 1321.4 C1533.29 1324.57 1537.33 1329.32 1538.59 1330.9" stroke="#CF9148" stroke-width="1.41"/>
<path d="M1534.43 1431.23 C1535.22 1432.57 1537.8 1436.58 1539.12 1439.25 C1540.45 1441.92 1541.82 1445.93 1542.36 1447.26" stroke="#D4984E" stroke-width="1.42"/>
<path d="M1529.75 1347 C1529.21 1348.12 1527.91 1351.48 1526.48 1353.73 C1525.06 1355.97 1522.09 1359.34 1521.21 1360.46" stroke="#C98840" stroke-width="1.42"/>
<path d="M1501.67 1541.21 C1501 1543 1499.02 1548.39 1497.64 1551.98 C1496.25 1555.57 1494.07 1560.95 1493.36 1562.75" stroke="#C98840" stroke-width="1.42"/>
<path d="M1445.52 1407.83 C1444.04 1408.71 1439.69 1411.34 1436.63 1413.09 C1433.57 1414.85 1428.73 1417.48 1427.15 1418.36" stroke="#D2934A" stroke-width="1.43"/>
<path d="M1529.75 1347 C1529.39 1347.59 1528.71 1349.39 1527.59 1350.59 C1526.47 1351.79 1523.78 1353.59 1523.02 1354.19" stroke="#D2934A" stroke-width="1.44"/>
<path d="M1398.72 1368.05 C1400.22 1369.66 1405.4 1374.49 1407.71 1377.71 C1410.02 1380.93 1411.78 1385.76 1412.6 1387.37" stroke="#C98840" stroke-width="1.45"/>
<path d="M1482.96 1646.5 C1482.2 1647.22 1479.78 1649.36 1478.4 1650.79 C1477.02 1652.22 1475.3 1654.36 1474.68 1655.07" stroke="#D4984E" stroke-width="1.46"/>
<path d="M1443.18 1293.18 C1443.93 1293.93 1446.77 1296.2 1447.7 1297.7 C1448.63 1299.21 1448.59 1301.48 1448.76 1302.23" stroke="#D4984E" stroke-width="1.47"/>
<path d="M1403.4 1463.99 C1403.96 1464.85 1405.47 1467.44 1406.74 1469.16 C1408 1470.89 1410.28 1473.48 1410.99 1474.34" stroke="#CF9148" stroke-width="1.47"/>
<path d="M1485.3 1452.29 C1486.6 1453.65 1490.7 1457.71 1493.1 1460.42 C1495.5 1463.14 1498.6 1467.2 1499.7 1468.56" stroke="#C98840" stroke-width="1.5"/>
<path d="M1520.39 1297.86 C1519.31 1298.92 1516.31 1302.1 1513.87 1304.22 C1511.42 1306.34 1507.08 1309.53 1505.72 1310.59" stroke="#D4984E" stroke-width="1.5"/>
<path d="M1415.1 1389.11 C1413.7 1390.71 1409.98 1395.49 1406.7 1398.68 C1403.42 1401.87 1397.29 1406.65 1395.4 1408.24" stroke="#CF9148" stroke-width="1.52"/>
<path d="M1489.98 1244.04 C1489.34 1245.9 1487.14 1251.49 1486.16 1255.21 C1485.17 1258.94 1484.42 1264.52 1484.07 1266.39" stroke="#CF9148" stroke-width="1.53"/>
<path d="M1485.3 1557.59 C1483.46 1558.69 1478.07 1561.99 1474.29 1564.19 C1470.51 1566.39 1464.55 1569.69 1462.6 1570.8" stroke="#C98840" stroke-width="1.53"/>
<path d="M1475.94 1604.38 C1476.57 1606.03 1478.53 1610.96 1479.74 1614.25 C1480.95 1617.54 1482.63 1622.48 1483.2 1624.12" stroke="#CF9148" stroke-width="1.54"/>
<path d="M1403.4 1623.1 C1404.99 1623.82 1410.01 1625.96 1412.97 1627.39 C1415.93 1628.82 1419.8 1630.96 1421.17 1631.68" stroke="#D2934A" stroke-width="1.55"/>
<path d="M1525.07 1311.9 C1524.04 1313.05 1521.32 1316.51 1518.88 1318.82 C1516.43 1321.13 1511.84 1324.59 1510.43 1325.75" stroke="#D2934A" stroke-width="1.55"/>
<path d="M1485.3 1557.59 C1483.82 1559.35 1479.07 1564.66 1476.41 1568.19 C1473.76 1571.73 1470.53 1577.03 1469.35 1578.8" stroke="#D4984E" stroke-width="1.55"/>
<path d="M1515.71 1428.89 C1517.62 1429.94 1523.48 1433.08 1527.15 1435.18 C1530.82 1437.27 1535.99 1440.42 1537.75 1441.46" stroke="#C98840" stroke-width="1.55"/>
<path d="M1436.16 1316.58 C1435.48 1317.24 1433.43 1319.24 1432.1 1320.57 C1430.77 1321.89 1428.84 1323.89 1428.19 1324.55" stroke="#C98840" stroke-width="1.56"/>
<path d="M1444.35 1639.48 C1445.28 1641 1448.12 1645.54 1449.97 1648.56 C1451.82 1651.59 1454.55 1656.13 1455.47 1657.64" stroke="#C98840" stroke-width="1.56"/>
<path d="M1431.48 1494.41 C1429.94 1496.1 1425.24 1501.16 1422.23 1504.54 C1419.23 1507.92 1414.89 1512.98 1413.43 1514.67" stroke="#D4984E" stroke-width="1.56"/>
<path d="M1475.94 1604.38 C1476.35 1605.63 1477.09 1609.37 1478.43 1611.86 C1479.76 1614.35 1483.02 1618.09 1483.94 1619.34" stroke="#CF9148" stroke-width="1.56"/>
<path d="M1520.39 1417.19 C1519.43 1418.43 1516.97 1422.12 1514.62 1424.59 C1512.28 1427.06 1507.72 1430.75 1506.34 1431.99" stroke="#CF9148" stroke-width="1.57"/>
<path d="M1509.86 1632.46 C1510.6 1634.33 1512.31 1639.91 1514.28 1643.64 C1516.24 1647.36 1520.42 1652.95 1521.65 1654.81" stroke="#D2934A" stroke-width="1.58"/>
<path d="M1426.8 1510.79 C1428.04 1511.77 1430.98 1514.71 1434.24 1516.67 C1437.49 1518.63 1444.32 1521.57 1446.34 1522.55" stroke="#C98840" stroke-width="1.58"/>
<path d="M1450.2 1655.86 C1451.24 1657.27 1453.66 1661.48 1456.47 1664.29 C1459.28 1667.1 1465.29 1671.32 1467.06 1672.72" stroke="#D4984E" stroke-width="1.58"/>
<path d="M1436.16 1379.75 C1437.74 1380.64 1442.87 1383.3 1445.66 1385.07 C1448.44 1386.85 1451.67 1389.51 1452.88 1390.39" stroke="#CF9148" stroke-width="1.59"/>
<path d="M1450.2 1655.86 C1449.85 1656.86 1449.39 1659.84 1448.13 1661.83 C1446.87 1663.82 1443.55 1666.8 1442.63 1667.8" stroke="#D4984E" stroke-width="1.59"/>
<path d="M1511.03 1517.81 C1511.63 1518.66 1513.99 1521.22 1514.6 1522.92 C1515.21 1524.63 1514.69 1527.18 1514.71 1528.04" stroke="#CF9148" stroke-width="1.59"/>
<path d="M1492.32 1662.88 C1490.88 1664.11 1486.99 1667.81 1483.69 1670.28 C1480.39 1672.74 1474.39 1676.44 1472.53 1677.67" stroke="#C98840" stroke-width="1.6"/>
<path d="M1482.96 1251.06 C1481.15 1252.17 1475.17 1255.52 1472.11 1257.75 C1469.05 1259.98 1465.84 1263.33 1464.58 1264.44" stroke="#C98840" stroke-width="1.6"/>
<path d="M1443.18 1534.19 C1442.27 1535.4 1439.76 1539.04 1437.71 1541.46 C1435.66 1543.89 1432.03 1547.53 1430.89 1548.74" stroke="#C98840" stroke-width="1.6"/>
<path d="M1482.96 1428.89 C1481.97 1429.33 1479.04 1430.65 1477.07 1431.52 C1475.09 1432.4 1472.1 1433.72 1471.11 1434.16" stroke="#CF9148" stroke-width="1.61"/>
<path d="M1511.03 1361.03 C1510.26 1361.59 1508.28 1363.24 1506.36 1364.35 C1504.45 1365.45 1500.69 1367.1 1499.55 1367.66" stroke="#CF9148" stroke-width="1.61"/>
<path d="M1426.8 1419.53 C1427.4 1420.93 1428.85 1425.12 1430.41 1427.92 C1431.98 1430.71 1435.24 1434.91 1436.21 1436.3" stroke="#C98840" stroke-width="1.63"/>
<path d="M1475.94 1604.38 C1476.82 1605.69 1479.55 1609.6 1481.23 1612.21 C1482.9 1614.82 1485.2 1618.73 1486 1620.03" stroke="#D4984E" stroke-width="1.63"/>
<path d="M1485.3 1286.16 C1485.52 1287.9 1486.3 1293.14 1486.64 1296.63 C1486.97 1300.11 1487.22 1305.35 1487.33 1307.09" stroke="#CF9148" stroke-width="1.66"/>
<path d="M1461.9 1274.46 C1461.53 1276.43 1460.81 1282.36 1459.71 1286.31 C1458.61 1290.25 1456.04 1296.18 1455.3 1298.15" stroke="#CF9148" stroke-width="1.66"/>
<path d="M1415.1 1513.13 C1416.36 1513.85 1419.87 1516.02 1422.64 1517.47 C1425.4 1518.91 1430.18 1521.08 1431.69 1521.81" stroke="#CF9148" stroke-width="1.67"/>
<path d="M1436.16 1379.75 C1435.02 1381.41 1431.19 1386.37 1429.35 1389.67 C1427.52 1392.98 1425.85 1397.94 1425.15 1399.59" stroke="#D2934A" stroke-width="1.68"/>
<path d="M1450.2 1510.79 C1451.61 1511.71 1455.77 1514.48 1458.7 1516.33 C1461.64 1518.17 1466.29 1520.94 1467.81 1521.87" stroke="#D2934A" stroke-width="1.68"/>
<path d="M1444.35 1639.48 C1443.97 1640.41 1442.86 1643.2 1442.09 1645.06 C1441.32 1646.92 1440.13 1649.71 1439.74 1650.64" stroke="#C98840" stroke-width="1.69"/>
<path d="M1450.2 1655.86 C1449.66 1657.52 1447.86 1662.5 1447 1665.82 C1446.14 1669.14 1445.36 1674.12 1445.04 1675.78" stroke="#D2934A" stroke-width="1.69"/>
<path d="M1525.07 1311.9 C1524.56 1313.8 1522.89 1319.5 1522.02 1323.3 C1521.14 1327.11 1520.21 1332.81 1519.84 1334.71" stroke="#D4984E" stroke-width="1.69"/>
<path d="M1436.16 1379.75 C1434.88 1380.6 1430.47 1383.15 1428.49 1384.85 C1426.51 1386.55 1424.99 1389.09 1424.28 1389.94" stroke="#D2934A" stroke-width="1.7"/>
<path d="M1464.24 1580.99 C1462.26 1582.01 1456.03 1585.1 1452.39 1587.16 C1448.74 1589.22 1444.04 1592.31 1442.37 1593.34" stroke="#D2934A" stroke-width="1.7"/>
<path d="M1464.7 1417.19 C1463.57 1418.94 1459.89 1424.18 1457.88 1427.67 C1455.87 1431.16 1453.52 1436.4 1452.64 1438.15" stroke="#CF9148" stroke-width="1.71"/>
<path d="M1475.94 1604.38 C1477.06 1605.14 1481.02 1607.39 1482.7 1608.89 C1484.39 1610.39 1485.48 1612.64 1486.03 1613.39" stroke="#CF9148" stroke-width="1.72"/>
<path d="M1480.62 1510.79 C1482.06 1511.97 1486.56 1515.5 1489.28 1517.86 C1491.99 1520.22 1495.64 1523.76 1496.91 1524.94" stroke="#C98840" stroke-width="1.72"/>
<path d="M1539.11 1468.67 C1537.93 1470.68 1533.7 1476.69 1532.02 1480.7 C1530.33 1484.71 1529.5 1490.73 1529 1492.73" stroke="#C98840" stroke-width="1.75"/>
<path d="M1492.32 1662.88 C1491.88 1663.83 1490.12 1666.69 1489.7 1668.6 C1489.29 1670.5 1489.81 1673.36 1489.83 1674.31" stroke="#D4984E" stroke-width="1.75"/>
<path d="M1525.07 1328.28 C1526.13 1329.19 1529.18 1331.95 1531.4 1333.78 C1533.62 1335.62 1537.23 1338.37 1538.39 1339.29" stroke="#D4984E" stroke-width="1.76"/>
<path d="M1417.44 1347 C1417.79 1347.97 1418.92 1350.88 1419.57 1352.82 C1420.23 1354.76 1421.07 1357.67 1421.36 1358.64" stroke="#C98840" stroke-width="1.76"/>
<path d="M1485.3 1286.16 C1484.77 1288.1 1483.63 1293.93 1482.16 1297.81 C1480.69 1301.7 1477.42 1307.53 1476.47 1309.47" stroke="#D2934A" stroke-width="1.76"/>
<path d="M1529.75 1347 C1529.29 1347.85 1527.62 1350.4 1526.96 1352.1 C1526.3 1353.8 1525.97 1356.35 1525.78 1357.2" stroke="#D2934A" stroke-width="1.77"/>
<path d="M1415.1 1513.13 C1413.67 1513.79 1409.22 1515.76 1406.51 1517.07 C1403.8 1518.39 1400.11 1520.36 1398.83 1521.01" stroke="#D2934A" stroke-width="1.77"/>
<path d="M1472.43 1247.55 C1474.18 1248.13 1480.03 1251.64 1482.96 1251.06 C1485.88 1250.47 1486.86 1245.6 1489.98 1244.04 C1493.1 1242.48 1496.61 1241.11 1501.67 1241.7 C1506.74 1242.28 1517.27 1246.57 1520.39 1247.55" stroke="#CF9148" stroke-width="1.78"/>
<path d="M1440.84 1478.03 C1442.34 1478.97 1447.35 1481.78 1449.87 1483.66 C1452.39 1485.54 1454.96 1488.36 1455.97 1489.3" stroke="#CF9148" stroke-width="1.78"/>
<path d="M1415.1 1513.13 C1413.96 1514.46 1410.33 1518.47 1408.25 1521.13 C1406.17 1523.8 1403.57 1527.81 1402.63 1529.14" stroke="#D4984E" stroke-width="1.8"/>
<path d="M1452.54 1283.82 C1452.16 1285.36 1451.25 1289.99 1450.27 1293.08 C1449.3 1296.17 1447.28 1300.8 1446.68 1302.34" stroke="#D2934A" stroke-width="1.8"/>
<path d="M1429.14 1482.71 C1427.97 1483.94 1424.57 1487.62 1422.13 1490.07 C1419.7 1492.53 1415.79 1496.21 1414.52 1497.44" stroke="#D2934A" stroke-width="1.81"/>
<path d="M1415.1 1389.11 C1416.2 1389.84 1420.19 1392.02 1421.74 1393.48 C1423.28 1394.93 1423.93 1397.11 1424.37 1397.84" stroke="#CF9148" stroke-width="1.82"/>
<path d="M1485.3 1452.29 C1485.83 1453.1 1487.17 1455.52 1488.49 1457.13 C1489.82 1458.75 1492.44 1461.17 1493.23 1461.97" stroke="#CF9148" stroke-width="1.83"/>
<path d="M1464.24 1580.99 C1464.56 1582.52 1465.92 1587.13 1466.2 1590.2 C1466.48 1593.27 1465.98 1597.88 1465.93 1599.42" stroke="#D2934A" stroke-width="1.83"/>
<path d="M1511.03 1384.43 C1512.23 1385.44 1515.98 1388.47 1518.18 1390.49 C1520.38 1392.51 1523.22 1395.54 1524.23 1396.55" stroke="#D2934A" stroke-width="1.85"/>
<path d="M1429.14 1482.71 C1427.52 1483.88 1422.4 1487.39 1419.44 1489.72 C1416.47 1492.06 1412.68 1495.57 1411.33 1496.74" stroke="#D4984E" stroke-width="1.85"/>
<path d="M1480.62 1534.19 C1480.27 1535.44 1479.27 1539.19 1478.57 1541.69 C1477.87 1544.19 1476.79 1547.95 1476.44 1549.2" stroke="#D2934A" stroke-width="1.86"/>
<path d="M1464.24 1580.99 C1463.1 1582.24 1459.67 1585.99 1457.4 1588.5 C1455.14 1591 1451.76 1594.75 1450.63 1596.01" stroke="#D2934A" stroke-width="1.87"/>
<path d="M1450.2 1592.68 C1449.42 1596.58 1446.49 1608.28 1445.52 1616.08 C1444.54 1623.88 1443.96 1631.68 1444.35 1639.48 C1444.74 1647.28 1447.27 1658.98 1447.86 1662.88" stroke="#CF9148" stroke-width="2.22"/>
<path d="M1438.5 1361.03 C1438.11 1364.15 1436.16 1373.51 1436.16 1379.75 C1436.16 1385.99 1438.11 1395.35 1438.5 1398.47" stroke="#C98840" stroke-width="2.22"/>
<path d="M1520.39 1297.86 C1521.17 1300.2 1524.68 1307.61 1525.07 1311.9 C1525.46 1316.19 1523.12 1321.65 1522.73 1323.6" stroke="#D4984E" stroke-width="2.22"/>
<path d="M1506.35 1412.51 C1508.69 1413.29 1515.71 1414.07 1520.39 1417.19 C1525.07 1420.31 1529.75 1427.33 1534.43 1431.23 C1539.11 1435.13 1546.13 1439.03 1548.47 1440.59" stroke="#CF9148" stroke-width="2.22"/>
<path d="M1436.16 1421.87 C1434.6 1421.48 1429.53 1418.75 1426.8 1419.53 C1424.07 1420.31 1420.95 1425.38 1419.78 1426.55" stroke="#CF9148" stroke-width="2.22"/>
<path d="M1440.84 1478.03 C1438.89 1478.81 1432.65 1480.37 1429.14 1482.71 C1425.63 1485.05 1421.34 1490.51 1419.78 1492.07" stroke="#D2934A" stroke-width="2.22"/>
<path d="M1426.8 1510.79 C1424.85 1511.18 1418.61 1512.35 1415.1 1513.13 C1411.59 1513.91 1407.3 1515.08 1405.74 1515.47" stroke="#D2934A" stroke-width="2.22"/>
<path d="M1480.62 1510.79 C1480.62 1514.69 1479.84 1526.39 1480.62 1534.19 C1481.4 1541.99 1483.74 1549.79 1485.3 1557.59 C1486.86 1565.39 1489.2 1577.09 1489.98 1580.99" stroke="#D2934A" stroke-width="2.22"/>
<path d="M1470.09 1557.59 C1469.11 1561.49 1466.77 1574.75 1464.24 1580.99 C1461.7 1587.22 1456.44 1592.68 1454.88 1595.02" stroke="#D4984E" stroke-width="2.22"/>
<path d="M1457.22 1487.39 C1456.05 1491.29 1452.54 1502.99 1450.2 1510.79 C1447.86 1518.59 1445.52 1526.39 1443.18 1534.19 C1440.84 1541.99 1438.89 1549.79 1436.16 1557.59 C1433.43 1565.39 1430.31 1573.19 1426.8 1580.99 C1423.29 1588.78 1419 1597.36 1415.1 1604.38 C1411.2 1611.4 1407.88 1618.03 1403.4 1623.1 C1398.91 1628.17 1390.72 1632.85 1388.19 1634.8" stroke="#D4984E" stroke-width="2.67"/>
<path d="M1473.6 1412.51 C1475.16 1415.24 1481.01 1422.26 1482.96 1428.89 C1484.91 1435.52 1485.3 1444.49 1485.3 1452.29 C1485.3 1460.09 1483.35 1471.79 1482.96 1475.69" stroke="#C98840" stroke-width="2.67"/>
<path d="M1478.28 1627.78 C1479.06 1630.9 1480.62 1640.65 1482.96 1646.5 C1485.3 1652.35 1489.98 1658.47 1492.32 1662.88 C1494.66 1667.29 1496.22 1671.27 1497 1672.94" stroke="#D2934A" stroke-width="2.67"/>
<path d="M1525.07 1328.28 C1525.85 1331.4 1527.41 1341.54 1529.75 1347 C1532.09 1352.45 1537.55 1358.69 1539.11 1361.03" stroke="#CF9148" stroke-width="2.67"/>
<path d="M1497 1351.67 C1497.78 1354.79 1499.33 1364.93 1501.67 1370.39 C1504.01 1375.85 1507.91 1380.53 1511.03 1384.43 C1514.15 1388.33 1518.83 1392.23 1520.39 1393.79" stroke="#CF9148" stroke-width="2.67"/>
<path d="M1473.13 1276.8 C1471.26 1276.41 1465.33 1273.29 1461.9 1274.46 C1458.46 1275.63 1455.66 1280.7 1452.54 1283.82 C1449.42 1286.94 1445.91 1290.06 1443.18 1293.18 C1440.45 1296.3 1437.33 1300.98 1436.16 1302.54" stroke="#D4984E" stroke-width="3.11"/>
<path d="M1473.13 1286.16 C1475.16 1286.16 1481.32 1284.99 1485.3 1286.16 C1489.27 1287.33 1493.1 1291.03 1497 1293.18 C1500.89 1295.32 1504.79 1298.25 1508.69 1299.03 C1512.59 1299.81 1516.1 1297.27 1520.39 1297.86 C1524.68 1298.44 1529.75 1300.2 1534.43 1302.54 C1539.11 1304.88 1543.13 1309.75 1548.47 1311.9 C1553.82 1314.04 1563.49 1314.82 1566.49 1315.41" stroke="#CF9148" stroke-width="3.11"/>
<path d="M1471.26 1311.9 C1469.31 1313.07 1463.07 1316.19 1459.56 1318.92 C1456.05 1321.65 1452.93 1324.38 1450.2 1328.28 C1447.47 1332.18 1445.13 1336.86 1443.18 1342.32 C1441.23 1347.78 1441.23 1354.79 1438.5 1361.03 C1435.77 1367.27 1430.7 1375.07 1426.8 1379.75 C1422.9 1384.43 1419.78 1387.55 1415.1 1389.11 C1410.42 1390.67 1401.45 1389.11 1398.72 1389.11" stroke="#D2934A" stroke-width="3.11"/>
<path d="M1445.52 1300.2 C1443.96 1302.93 1439.28 1311.9 1436.16 1316.58 C1433.04 1321.26 1429.92 1323.21 1426.8 1328.28 C1423.68 1333.35 1420.17 1341.54 1417.44 1347 C1414.71 1352.45 1413.54 1357.52 1410.42 1361.03 C1407.3 1364.54 1402.23 1366.3 1398.72 1368.05 C1395.21 1369.81 1390.92 1370.98 1389.36 1371.56" stroke="#CF9148" stroke-width="3.11"/>
<path d="M1465.41 1463.99 C1467.55 1465.16 1474.18 1467.89 1478.28 1471.01 C1482.37 1474.13 1486.08 1478.03 1489.98 1482.71 C1493.88 1487.39 1498.17 1493.24 1501.67 1499.09 C1505.18 1504.94 1508.3 1511.18 1511.03 1517.81 C1513.76 1524.44 1516.49 1531.46 1518.05 1538.87 C1519.61 1546.28 1520.39 1554.47 1520.39 1562.27 C1520.39 1570.07 1519.22 1577.87 1518.05 1585.67 C1516.88 1593.46 1514.74 1601.26 1513.37 1609.06 C1512.01 1616.86 1510.84 1625.44 1509.86 1632.46 C1508.89 1639.48 1507.8 1644.44 1507.52 1651.18 C1507.25 1657.93 1508.11 1669.32 1508.23 1672.94" stroke="#CF9148" stroke-width="3.11"/>
<path d="M1467.75 1499.09 C1469.89 1501.04 1476.52 1506.5 1480.62 1510.79 C1484.71 1515.08 1488.81 1519.76 1492.32 1524.83 C1495.83 1529.9 1498.94 1535.75 1501.67 1541.21 C1504.4 1546.67 1506.94 1551.74 1508.69 1557.59 C1510.45 1563.44 1511.62 1573.19 1512.2 1576.31" stroke="#D2934A" stroke-width="3.11"/>
<path d="M1472.43 1580.99 C1473.01 1584.89 1474.96 1596.58 1475.94 1604.38 C1476.91 1612.18 1477.89 1623.88 1478.28 1627.78" stroke="#CF9148" stroke-width="3.56"/>
<path d="M1472.43 1314.24 C1474.57 1313.65 1481.2 1310.73 1485.3 1310.73 C1489.39 1310.73 1492.71 1312.48 1497 1314.24 C1501.28 1315.99 1506.35 1318.92 1511.03 1321.26 C1515.71 1323.6 1520.39 1325.16 1525.07 1328.28 C1529.75 1331.4 1534.43 1336.08 1539.11 1339.98 C1543.79 1343.88 1548.59 1347.78 1553.15 1351.67 C1557.72 1355.57 1564.27 1361.42 1566.49 1363.37" stroke="#D4984E" stroke-width="3.56"/>
<path d="M1471.26 1342.32 C1473.21 1343.1 1478.67 1345.44 1482.96 1347 C1487.25 1348.56 1492.32 1349.33 1497 1351.67 C1501.67 1354.01 1506.35 1357.13 1511.03 1361.03 C1515.71 1364.93 1520.39 1370.39 1525.07 1375.07 C1529.75 1379.75 1534.43 1384.43 1539.11 1389.11 C1543.79 1393.79 1548.59 1398.86 1553.15 1403.15 C1557.72 1407.44 1564.27 1412.9 1566.49 1414.85" stroke="#CF9148" stroke-width="3.56"/>
<path d="M1468.92 1379.75 C1470.87 1381.31 1476.72 1385.99 1480.62 1389.11 C1484.52 1392.23 1488.03 1394.57 1492.32 1398.47 C1496.61 1402.37 1502.45 1407.44 1506.35 1412.51 C1510.25 1417.58 1512.59 1423.04 1515.71 1428.89 C1518.83 1434.74 1521.17 1440.98 1525.07 1447.61 C1528.97 1454.24 1535.21 1462.04 1539.11 1468.67 C1543.01 1475.3 1545.35 1481.15 1548.47 1487.39 C1551.59 1493.63 1554.83 1500.26 1557.83 1506.11 C1560.84 1511.96 1565.05 1519.76 1566.49 1522.49" stroke="#D4984E" stroke-width="3.56"/>
<path d="M1466.58 1393.79 C1464.63 1394.57 1458.39 1396.13 1454.88 1398.47 C1451.37 1400.81 1448.64 1403.93 1445.52 1407.83 C1442.4 1411.73 1439.28 1417.19 1436.16 1421.87 C1433.04 1426.55 1430.31 1431.23 1426.8 1435.91 C1423.29 1440.59 1419 1445.27 1415.1 1449.95 C1411.2 1454.63 1406.91 1459.31 1403.4 1463.99 C1399.89 1468.67 1396.57 1474.13 1394.04 1478.03 C1391.5 1481.93 1389.16 1485.83 1388.19 1487.39" stroke="#D2934A" stroke-width="3.56"/>
<path d="M1463.07 1452.29 C1460.92 1454.24 1453.9 1459.7 1450.2 1463.99 C1446.49 1468.28 1443.96 1472.96 1440.84 1478.03 C1437.72 1483.1 1433.82 1488.95 1431.48 1494.41 C1429.14 1499.87 1428.36 1504.94 1426.8 1510.79 C1425.24 1516.64 1424.46 1523.66 1422.12 1529.51 C1419.78 1535.36 1416.27 1541.21 1412.76 1545.89 C1409.25 1550.57 1405.15 1553.69 1401.06 1557.59 C1396.96 1561.49 1390.33 1567.34 1388.19 1569.29" stroke="#C98840" stroke-width="3.56"/>
<path d="M1472.43 1247.55 C1472.54 1252.42 1473.13 1266.07 1473.13 1276.8 C1473.13 1287.52 1472.93 1300.2 1472.43 1311.9 C1471.92 1323.6 1470.87 1335.3 1470.09 1347 C1469.31 1358.69 1468.64 1370.39 1467.75 1382.09 C1466.85 1393.79 1465.68 1405.49 1464.7 1417.19 C1463.73 1428.89 1462.17 1442.54 1461.9 1452.29 C1461.62 1462.04 1462.48 1467.89 1463.07 1475.69 C1463.65 1483.49 1464.63 1491.29 1465.41 1499.09 C1466.19 1506.89 1466.97 1512.74 1467.75 1522.49 C1468.53 1532.24 1469.31 1547.84 1470.09 1557.59 C1470.87 1567.34 1472.23 1573.97 1472.43 1580.99 C1472.62 1588 1472.23 1593.46 1471.26 1599.7 C1470.28 1605.94 1468.53 1612.18 1466.58 1618.42 C1464.63 1624.66 1462.29 1630.9 1459.56 1637.14 C1456.83 1643.38 1453.24 1649.9 1450.2 1655.86 C1447.16 1661.83 1442.79 1670.1 1441.31 1672.94" stroke="#CF9148" stroke-width="4.45"/>
<circle cx="1466.58" cy="1273.29" r="3.07" fill="#E39A50" stroke="none"/>
<circle cx="1457.22" cy="1282.65" r="3.27" fill="#E39A50" stroke="none"/>
<circle cx="1463.07" cy="1290.84" r="3.38" fill="#E39A50" stroke="none"/>
<circle cx="1456.05" cy="1299.03" r="2.91" fill="#E39A50" stroke="none"/>
<circle cx="1497" cy="1294.35" r="2.66" fill="#E39A50" stroke="none"/>
<circle cx="1507.52" cy="1299.03" r="3.18" fill="#E39A50" stroke="none"/>
<circle cx="1494.66" cy="1310.73" r="2.79" fill="#E39A50" stroke="none"/>
<circle cx="1501.67" cy="1317.75" r="3.12" fill="#E39A50" stroke="none"/>
<circle cx="1511.03" cy="1320.09" r="2.83" fill="#E39A50" stroke="none"/>
<circle cx="1461.9" cy="1318.92" r="3.48" fill="#E39A50" stroke="none"/>
<circle cx="1479.45" cy="1320.09" r="2.63" fill="#E39A50" stroke="none"/>
<circle cx="1477.11" cy="1339.98" r="3.16" fill="#E39A50" stroke="none"/>
<circle cx="1484.13" cy="1349.33" r="3.48" fill="#E39A50" stroke="none"/>
<circle cx="1494.66" cy="1350.5" r="3.24" fill="#E39A50" stroke="none"/>
<circle cx="1532.09" cy="1332.96" r="2.75" fill="#E39A50" stroke="none"/>
<circle cx="1474.77" cy="1389.11" r="3.15" fill="#E39A50" stroke="none"/>
<circle cx="1480.62" cy="1393.79" r="3.43" fill="#E39A50" stroke="none"/>
<circle cx="1454.88" cy="1397.3" r="3.23" fill="#E39A50" stroke="none"/>
<circle cx="1473.6" cy="1410.17" r="3.51" fill="#E39A50" stroke="none"/>
<circle cx="1481.79" cy="1417.19" r="3.42" fill="#E39A50" stroke="none"/>
<circle cx="1482.96" cy="1428.89" r="2.98" fill="#E39A50" stroke="none"/>
<circle cx="1454.88" cy="1454.63" r="2.72" fill="#E39A50" stroke="none"/>
<circle cx="1450.2" cy="1461.65" r="3.29" fill="#E39A50" stroke="none"/>
<circle cx="1470.09" cy="1461.65" r="3.08" fill="#E39A50" stroke="none"/>
<circle cx="1475.94" cy="1468.67" r="3.42" fill="#E39A50" stroke="none"/>
<circle cx="1481.79" cy="1474.52" r="3.04" fill="#E39A50" stroke="none"/>
<circle cx="1452.54" cy="1487.39" r="3.32" fill="#E39A50" stroke="none"/>
<circle cx="1436.16" cy="1503.77" r="2.74" fill="#E39A50" stroke="none"/>
<circle cx="1433.82" cy="1517.81" r="3.36" fill="#E39A50" stroke="none"/>
<circle cx="1430.31" cy="1531.85" r="3.47" fill="#E39A50" stroke="none"/>
<circle cx="1394.04" cy="1485.05" r="3.41" fill="#E39A50" stroke="none"/>
<circle cx="1390.53" cy="1494.41" r="3.38" fill="#E39A50" stroke="none"/>
<circle cx="1403.4" cy="1466.33" r="3.27" fill="#E39A50" stroke="none"/>
<circle cx="1415.1" cy="1545.89" r="2.77" fill="#E39A50" stroke="none"/>
<path d="M1482.96 1347 C1482.2 1347.83 1479.44 1350.34 1478.4 1352.01 C1477.36 1353.68 1477.01 1356.19 1476.74 1357.03" stroke="#F4CD88" stroke-width="0.77"/>
<path d="M1529.75 1347 C1529.21 1348.11 1527.02 1351.45 1526.47 1353.68 C1525.91 1355.91 1526.41 1359.26 1526.4 1360.37" stroke="#EDBD72" stroke-width="0.79"/>
<path d="M1520.39 1417.19 C1521.09 1418.83 1522.61 1423.75 1524.57 1427.03 C1526.52 1430.3 1530.87 1435.22 1532.13 1436.86" stroke="#F2C67E" stroke-width="0.79"/>
<path d="M1485.3 1310.73 C1484.99 1311.74 1484.19 1314.78 1483.44 1316.81 C1482.69 1318.83 1481.23 1321.87 1480.79 1322.89" stroke="#EAB468" stroke-width="0.79"/>
<path d="M1525.07 1375.07 C1526.03 1376.01 1528.85 1378.81 1530.84 1380.68 C1532.82 1382.56 1535.95 1385.36 1536.98 1386.3" stroke="#EAB468" stroke-width="0.8"/>
<path d="M1445.52 1616.08 C1445.09 1617.01 1443.91 1619.78 1442.93 1621.63 C1441.95 1623.48 1440.18 1626.25 1439.63 1627.18" stroke="#F2C67E" stroke-width="0.8"/>
<path d="M1520.39 1417.19 C1521.14 1417.72 1523.35 1419.31 1524.87 1420.37 C1526.39 1421.42 1528.73 1423.01 1529.51 1423.54" stroke="#F7D494" stroke-width="0.81"/>
<path d="M1497 1314.24 C1498.24 1315.85 1501.84 1320.69 1504.44 1323.92 C1507.05 1327.15 1511.27 1332 1512.64 1333.61" stroke="#F2C67E" stroke-width="0.82"/>
<path d="M1429.14 1482.71 C1430.54 1483.7 1434.72 1486.65 1437.57 1488.63 C1440.42 1490.6 1444.78 1493.56 1446.22 1494.54" stroke="#EDBD72" stroke-width="0.82"/>
<path d="M1426.8 1419.53 C1426.44 1420.8 1425.98 1424.61 1424.67 1427.15 C1423.36 1429.69 1419.9 1433.5 1418.94 1434.77" stroke="#EDBD72" stroke-width="0.82"/>
<path d="M1426.8 1419.53 C1427.55 1419.89 1429.62 1420.96 1431.32 1421.68 C1433.02 1422.39 1436.04 1423.47 1436.99 1423.83" stroke="#EDBD72" stroke-width="0.82"/>
<path d="M1445.52 1616.08 C1444.75 1617.91 1442.42 1623.38 1440.93 1627.02 C1439.44 1630.67 1437.29 1636.14 1436.57 1637.97" stroke="#F9DCA4" stroke-width="0.83"/>
<path d="M1515.71 1428.89 C1517.02 1429.9 1520.68 1432.92 1523.55 1434.94 C1526.43 1436.95 1531.4 1439.98 1532.97 1440.99" stroke="#F7D494" stroke-width="0.83"/>
<path d="M1525.07 1328.28 C1524.64 1328.81 1523.88 1330.42 1522.46 1331.49 C1521.04 1332.56 1517.52 1334.16 1516.53 1334.7" stroke="#F7D494" stroke-width="0.83"/>
<path d="M1501.67 1241.7 C1501.19 1243.26 1500.21 1247.95 1498.77 1251.08 C1497.33 1254.21 1493.98 1258.9 1493.02 1260.47" stroke="#F2C67E" stroke-width="0.83"/>
<path d="M1426.8 1419.53 C1425.67 1420.68 1422.55 1424.13 1420.02 1426.44 C1417.49 1428.74 1413.03 1432.19 1411.63 1433.34" stroke="#EDBD72" stroke-width="0.83"/>
<path d="M1482.96 1428.89 C1482.87 1430.14 1482.95 1433.89 1482.42 1436.38 C1481.9 1438.88 1480.25 1442.62 1479.81 1443.87" stroke="#EDBD72" stroke-width="0.85"/>
<path d="M1480.62 1534.19 C1481.72 1534.7 1485.47 1536.23 1487.24 1537.25 C1489 1538.27 1490.54 1539.8 1491.2 1540.31" stroke="#F9DCA4" stroke-width="0.85"/>
<path d="M1508.69 1557.59 C1506.88 1558.38 1501.49 1560.74 1497.78 1562.32 C1494.07 1563.9 1488.32 1566.27 1486.43 1567.06" stroke="#EAB468" stroke-width="0.85"/>
<path d="M1461.9 1274.46 C1462.06 1275.76 1462.48 1279.67 1462.85 1282.27 C1463.22 1284.88 1463.89 1288.79 1464.1 1290.09" stroke="#F7D494" stroke-width="0.86"/>
<path d="M1426.8 1379.75 C1427.5 1381.44 1429.18 1386.52 1431 1389.9 C1432.82 1393.28 1436.59 1398.35 1437.71 1400.05" stroke="#F4CD88" stroke-width="0.87"/>
<path d="M1450.2 1463.99 C1449.25 1464.42 1446.15 1465.72 1444.52 1466.59 C1442.88 1467.45 1441.09 1468.75 1440.4 1469.18" stroke="#F9DCA4" stroke-width="0.87"/>
<path d="M1518.05 1538.87 C1517.41 1539.52 1515.5 1541.5 1514.22 1542.81 C1512.93 1544.12 1511.01 1546.09 1510.37 1546.75" stroke="#EAB468" stroke-width="0.88"/>
<path d="M1415.1 1513.13 C1415.82 1515.02 1418.22 1520.69 1419.44 1524.47 C1420.66 1528.25 1421.9 1533.93 1422.4 1535.82" stroke="#F9DCA4" stroke-width="0.88"/>
<path d="M1501.67 1370.39 C1500.65 1371.3 1497.82 1374 1495.53 1375.81 C1493.23 1377.62 1489.16 1380.32 1487.89 1381.23" stroke="#F4CD88" stroke-width="0.88"/>
<path d="M1511.03 1517.81 C1511.76 1519.52 1513.94 1524.64 1515.41 1528.05 C1516.88 1531.47 1519.11 1536.59 1519.86 1538.3" stroke="#EAB468" stroke-width="0.88"/>
<path d="M1454.88 1398.47 C1454.36 1400.35 1452.89 1405.97 1451.75 1409.72 C1450.61 1413.46 1448.66 1419.08 1448.04 1420.96" stroke="#EAB468" stroke-width="0.89"/>
<path d="M1548.47 1311.9 C1548.78 1314.11 1549.11 1320.76 1550.34 1325.19 C1551.57 1329.62 1554.92 1336.26 1555.83 1338.48" stroke="#F2C67E" stroke-width="0.89"/>
<path d="M1438.5 1361.03 C1437.2 1361.78 1433.34 1364.02 1430.69 1365.51 C1428.05 1367.01 1423.96 1369.24 1422.61 1369.99" stroke="#F4CD88" stroke-width="0.89"/>
<path d="M1525.07 1311.9 C1524.54 1314.16 1523.15 1320.97 1521.87 1325.5 C1520.58 1330.04 1518.12 1336.84 1517.37 1339.11" stroke="#F7D494" stroke-width="0.89"/>
<path d="M1489.98 1244.04 C1489.02 1245.68 1486.65 1250.59 1484.24 1253.87 C1481.83 1257.14 1476.95 1262.05 1475.49 1263.69" stroke="#F7D494" stroke-width="0.89"/>
<path d="M1443.18 1534.19 C1444.24 1534.78 1447.41 1536.57 1449.57 1537.75 C1451.72 1538.94 1455.01 1540.73 1456.1 1541.32" stroke="#F9DCA4" stroke-width="0.9"/>
<path d="M1436.16 1379.75 C1436.52 1381.96 1437.4 1388.57 1438.33 1392.98 C1439.26 1397.39 1441.16 1404 1441.73 1406.21" stroke="#EDBD72" stroke-width="0.9"/>
<path d="M1482.96 1646.5 C1483.17 1647.83 1483.09 1651.81 1484.22 1654.47 C1485.34 1657.12 1488.81 1661.11 1489.73 1662.43" stroke="#EAB468" stroke-width="0.9"/>
<path d="M1464.24 1580.99 C1464.77 1582.19 1466.29 1585.81 1467.45 1588.23 C1468.62 1590.64 1470.58 1594.26 1471.21 1595.47" stroke="#EDBD72" stroke-width="0.9"/>
<path d="M1415.1 1449.95 C1415.59 1451.95 1417.32 1457.95 1418.02 1461.95 C1418.73 1465.95 1419.12 1471.94 1419.34 1473.94" stroke="#F9DCA4" stroke-width="0.9"/>
<path d="M1511.03 1384.43 C1510.45 1385.54 1508.7 1388.86 1507.53 1391.07 C1506.36 1393.28 1504.6 1396.59 1504.02 1397.7" stroke="#F9DCA4" stroke-width="0.91"/>
<path d="M1506.35 1412.51 C1506.73 1413.87 1507.48 1417.93 1508.62 1420.65 C1509.76 1423.36 1512.41 1427.42 1513.17 1428.78" stroke="#F2C67E" stroke-width="0.91"/>
<path d="M1482.96 1347 C1482.29 1349.14 1480.2 1355.58 1478.94 1359.87 C1477.67 1364.17 1475.96 1370.6 1475.36 1372.75" stroke="#F2C67E" stroke-width="0.92"/>
<path d="M1429.14 1482.71 C1430.41 1483.48 1434.03 1485.8 1436.79 1487.35 C1439.55 1488.89 1444.2 1491.21 1445.68 1491.98" stroke="#F9DCA4" stroke-width="0.93"/>
<path d="M1492.32 1524.83 C1492.36 1525.6 1491.8 1527.92 1492.6 1529.47 C1493.39 1531.01 1496.33 1533.33 1497.08 1534.11" stroke="#EAB468" stroke-width="0.93"/>
<path d="M1436.16 1316.58 C1434.97 1318.18 1430.69 1322.97 1429.03 1326.17 C1427.37 1329.37 1426.67 1334.17 1426.2 1335.77" stroke="#EDBD72" stroke-width="0.93"/>
<path d="M1511.03 1384.43 C1512.12 1386.27 1515.23 1391.77 1517.56 1395.44 C1519.89 1399.11 1523.75 1404.61 1524.99 1406.45" stroke="#F4CD88" stroke-width="0.93"/>
<path d="M1525.07 1311.9 C1526.07 1313.48 1528.79 1318.23 1531.04 1321.4 C1533.29 1324.57 1537.33 1329.32 1538.59 1330.9" stroke="#F9DCA4" stroke-width="0.93"/>
<path d="M1534.43 1431.23 C1535.22 1432.57 1537.8 1436.58 1539.12 1439.25 C1540.45 1441.92 1541.82 1445.93 1542.36 1447.26" stroke="#F7D494" stroke-width="0.94"/>
<path d="M1529.75 1347 C1529.21 1348.12 1527.91 1351.48 1526.48 1353.73 C1525.06 1355.97 1522.09 1359.34 1521.21 1360.46" stroke="#F2C67E" stroke-width="0.94"/>
<path d="M1501.67 1541.21 C1501 1543 1499.02 1548.39 1497.64 1551.98 C1496.25 1555.57 1494.07 1560.95 1493.36 1562.75" stroke="#F7D494" stroke-width="0.94"/>
<path d="M1445.52 1407.83 C1444.04 1408.71 1439.69 1411.34 1436.63 1413.09 C1433.57 1414.85 1428.73 1417.48 1427.15 1418.36" stroke="#F4CD88" stroke-width="0.95"/>
<path d="M1529.75 1347 C1529.39 1347.59 1528.71 1349.39 1527.59 1350.59 C1526.47 1351.79 1523.78 1353.59 1523.02 1354.19" stroke="#EAB468" stroke-width="0.95"/>
<path d="M1398.72 1368.05 C1400.22 1369.66 1405.4 1374.49 1407.71 1377.71 C1410.02 1380.93 1411.78 1385.76 1412.6 1387.37" stroke="#EDBD72" stroke-width="0.96"/>
<path d="M1482.96 1646.5 C1482.2 1647.22 1479.78 1649.36 1478.4 1650.79 C1477.02 1652.22 1475.3 1654.36 1474.68 1655.07" stroke="#F7D494" stroke-width="0.96"/>
<path d="M1443.18 1293.18 C1443.93 1293.93 1446.77 1296.2 1447.7 1297.7 C1448.63 1299.21 1448.59 1301.48 1448.76 1302.23" stroke="#F4CD88" stroke-width="0.97"/>
<path d="M1403.4 1463.99 C1403.96 1464.85 1405.47 1467.44 1406.74 1469.16 C1408 1470.89 1410.28 1473.48 1410.99 1474.34" stroke="#F2C67E" stroke-width="0.97"/>
<path d="M1485.3 1452.29 C1486.6 1453.65 1490.7 1457.71 1493.1 1460.42 C1495.5 1463.14 1498.6 1467.2 1499.7 1468.56" stroke="#EDBD72" stroke-width="0.99"/>
<path d="M1520.39 1297.86 C1519.31 1298.92 1516.31 1302.1 1513.87 1304.22 C1511.42 1306.34 1507.08 1309.53 1505.72 1310.59" stroke="#F7D494" stroke-width="0.99"/>
<path d="M1415.1 1389.11 C1413.7 1390.71 1409.98 1395.49 1406.7 1398.68 C1403.42 1401.87 1397.29 1406.65 1395.4 1408.24" stroke="#F7D494" stroke-width="1"/>
<path d="M1489.98 1244.04 C1489.34 1245.9 1487.14 1251.49 1486.16 1255.21 C1485.17 1258.94 1484.42 1264.52 1484.07 1266.39" stroke="#F4CD88" stroke-width="1.01"/>
<path d="M1485.3 1557.59 C1483.46 1558.69 1478.07 1561.99 1474.29 1564.19 C1470.51 1566.39 1464.55 1569.69 1462.6 1570.8" stroke="#EAB468" stroke-width="1.01"/>
<path d="M1475.94 1604.38 C1476.57 1606.03 1478.53 1610.96 1479.74 1614.25 C1480.95 1617.54 1482.63 1622.48 1483.2 1624.12" stroke="#F2C67E" stroke-width="1.02"/>
<path d="M1403.4 1623.1 C1404.99 1623.82 1410.01 1625.96 1412.97 1627.39 C1415.93 1628.82 1419.8 1630.96 1421.17 1631.68" stroke="#F7D494" stroke-width="1.02"/>
<path d="M1525.07 1311.9 C1524.04 1313.05 1521.32 1316.51 1518.88 1318.82 C1516.43 1321.13 1511.84 1324.59 1510.43 1325.75" stroke="#F2C67E" stroke-width="1.02"/>
<path d="M1485.3 1557.59 C1483.82 1559.35 1479.07 1564.66 1476.41 1568.19 C1473.76 1571.73 1470.53 1577.03 1469.35 1578.8" stroke="#F9DCA4" stroke-width="1.02"/>
<path d="M1515.71 1428.89 C1517.62 1429.94 1523.48 1433.08 1527.15 1435.18 C1530.82 1437.27 1535.99 1440.42 1537.75 1441.46" stroke="#F2C67E" stroke-width="1.02"/>
<path d="M1436.16 1316.58 C1435.48 1317.24 1433.43 1319.24 1432.1 1320.57 C1430.77 1321.89 1428.84 1323.89 1428.19 1324.55" stroke="#F4CD88" stroke-width="1.03"/>
<path d="M1444.35 1639.48 C1445.28 1641 1448.12 1645.54 1449.97 1648.56 C1451.82 1651.59 1454.55 1656.13 1455.47 1657.64" stroke="#F4CD88" stroke-width="1.03"/>
<path d="M1431.48 1494.41 C1429.94 1496.1 1425.24 1501.16 1422.23 1504.54 C1419.23 1507.92 1414.89 1512.98 1413.43 1514.67" stroke="#F9DCA4" stroke-width="1.03"/>
<path d="M1475.94 1604.38 C1476.35 1605.63 1477.09 1609.37 1478.43 1611.86 C1479.76 1614.35 1483.02 1618.09 1483.94 1619.34" stroke="#F2C67E" stroke-width="1.03"/>
<path d="M1520.39 1417.19 C1519.43 1418.43 1516.97 1422.12 1514.62 1424.59 C1512.28 1427.06 1507.72 1430.75 1506.34 1431.99" stroke="#EDBD72" stroke-width="1.04"/>
<path d="M1509.86 1632.46 C1510.6 1634.33 1512.31 1639.91 1514.28 1643.64 C1516.24 1647.36 1520.42 1652.95 1521.65 1654.81" stroke="#F9DCA4" stroke-width="1.04"/>
<path d="M1426.8 1510.79 C1428.04 1511.77 1430.98 1514.71 1434.24 1516.67 C1437.49 1518.63 1444.32 1521.57 1446.34 1522.55" stroke="#F7D494" stroke-width="1.04"/>
<path d="M1450.2 1655.86 C1451.24 1657.27 1453.66 1661.48 1456.47 1664.29 C1459.28 1667.1 1465.29 1671.32 1467.06 1672.72" stroke="#F7D494" stroke-width="1.05"/>
<path d="M1436.16 1379.75 C1437.74 1380.64 1442.87 1383.3 1445.66 1385.07 C1448.44 1386.85 1451.67 1389.51 1452.88 1390.39" stroke="#F9DCA4" stroke-width="1.05"/>
<path d="M1450.2 1655.86 C1449.85 1656.86 1449.39 1659.84 1448.13 1661.83 C1446.87 1663.82 1443.55 1666.8 1442.63 1667.8" stroke="#EAB468" stroke-width="1.05"/>
<path d="M1511.03 1517.81 C1511.63 1518.66 1513.99 1521.22 1514.6 1522.92 C1515.21 1524.63 1514.69 1527.18 1514.71 1528.04" stroke="#EAB468" stroke-width="1.05"/>
<path d="M1492.32 1662.88 C1490.88 1664.11 1486.99 1667.81 1483.69 1670.28 C1480.39 1672.74 1474.39 1676.44 1472.53 1677.67" stroke="#EAB468" stroke-width="1.06"/>
<path d="M1482.96 1251.06 C1481.15 1252.17 1475.17 1255.52 1472.11 1257.75 C1469.05 1259.98 1465.84 1263.33 1464.58 1264.44" stroke="#EDBD72" stroke-width="1.06"/>
<path d="M1443.18 1534.19 C1442.27 1535.4 1439.76 1539.04 1437.71 1541.46 C1435.66 1543.89 1432.03 1547.53 1430.89 1548.74" stroke="#F7D494" stroke-width="1.06"/>
<path d="M1482.96 1428.89 C1481.97 1429.33 1479.04 1430.65 1477.07 1431.52 C1475.09 1432.4 1472.1 1433.72 1471.11 1434.16" stroke="#F2C67E" stroke-width="1.06"/>
<path d="M1511.03 1361.03 C1510.26 1361.59 1508.28 1363.24 1506.36 1364.35 C1504.45 1365.45 1500.69 1367.1 1499.55 1367.66" stroke="#F7D494" stroke-width="1.07"/>
<path d="M1426.8 1419.53 C1427.4 1420.93 1428.85 1425.12 1430.41 1427.92 C1431.98 1430.71 1435.24 1434.91 1436.21 1436.3" stroke="#EAB468" stroke-width="1.08"/>
<path d="M1475.94 1604.38 C1476.82 1605.69 1479.55 1609.6 1481.23 1612.21 C1482.9 1614.82 1485.2 1618.73 1486 1620.03" stroke="#F9DCA4" stroke-width="1.08"/>
<path d="M1485.3 1286.16 C1485.52 1287.9 1486.3 1293.14 1486.64 1296.63 C1486.97 1300.11 1487.22 1305.35 1487.33 1307.09" stroke="#F2C67E" stroke-width="1.09"/>
<path d="M1461.9 1274.46 C1461.53 1276.43 1460.81 1282.36 1459.71 1286.31 C1458.61 1290.25 1456.04 1296.18 1455.3 1298.15" stroke="#F7D494" stroke-width="1.09"/>
<path d="M1415.1 1513.13 C1416.36 1513.85 1419.87 1516.02 1422.64 1517.47 C1425.4 1518.91 1430.18 1521.08 1431.69 1521.81" stroke="#EAB468" stroke-width="1.1"/>
<path d="M1436.16 1379.75 C1435.02 1381.41 1431.19 1386.37 1429.35 1389.67 C1427.52 1392.98 1425.85 1397.94 1425.15 1399.59" stroke="#EAB468" stroke-width="1.11"/>
<path d="M1450.2 1510.79 C1451.61 1511.71 1455.77 1514.48 1458.7 1516.33 C1461.64 1518.17 1466.29 1520.94 1467.81 1521.87" stroke="#F7D494" stroke-width="1.11"/>
<path d="M1444.35 1639.48 C1443.97 1640.41 1442.86 1643.2 1442.09 1645.06 C1441.32 1646.92 1440.13 1649.71 1439.74 1650.64" stroke="#EDBD72" stroke-width="1.11"/>
<path d="M1450.2 1655.86 C1449.66 1657.52 1447.86 1662.5 1447 1665.82 C1446.14 1669.14 1445.36 1674.12 1445.04 1675.78" stroke="#F7D494" stroke-width="1.11"/>
<path d="M1525.07 1311.9 C1524.56 1313.8 1522.89 1319.5 1522.02 1323.3 C1521.14 1327.11 1520.21 1332.81 1519.84 1334.71" stroke="#F9DCA4" stroke-width="1.12"/>
<path d="M1436.16 1379.75 C1434.88 1380.6 1430.47 1383.15 1428.49 1384.85 C1426.51 1386.55 1424.99 1389.09 1424.28 1389.94" stroke="#F7D494" stroke-width="1.12"/>
<path d="M1464.24 1580.99 C1462.26 1582.01 1456.03 1585.1 1452.39 1587.16 C1448.74 1589.22 1444.04 1592.31 1442.37 1593.34" stroke="#EDBD72" stroke-width="1.12"/>
<path d="M1464.7 1417.19 C1463.57 1418.94 1459.89 1424.18 1457.88 1427.67 C1455.87 1431.16 1453.52 1436.4 1452.64 1438.15" stroke="#F7D494" stroke-width="1.13"/>
<path d="M1475.94 1604.38 C1477.06 1605.14 1481.02 1607.39 1482.7 1608.89 C1484.39 1610.39 1485.48 1612.64 1486.03 1613.39" stroke="#F2C67E" stroke-width="1.13"/>
<path d="M1480.62 1510.79 C1482.06 1511.97 1486.56 1515.5 1489.28 1517.86 C1491.99 1520.22 1495.64 1523.76 1496.91 1524.94" stroke="#F2C67E" stroke-width="1.14"/>
<path d="M1539.11 1468.67 C1537.93 1470.68 1533.7 1476.69 1532.02 1480.7 C1530.33 1484.71 1529.5 1490.73 1529 1492.73" stroke="#F2C67E" stroke-width="1.15"/>
<path d="M1492.32 1662.88 C1491.88 1663.83 1490.12 1666.69 1489.7 1668.6 C1489.29 1670.5 1489.81 1673.36 1489.83 1674.31" stroke="#F9DCA4" stroke-width="1.16"/>
<path d="M1525.07 1328.28 C1526.13 1329.19 1529.18 1331.95 1531.4 1333.78 C1533.62 1335.62 1537.23 1338.37 1538.39 1339.29" stroke="#F4CD88" stroke-width="1.16"/>
<path d="M1417.44 1347 C1417.79 1347.97 1418.92 1350.88 1419.57 1352.82 C1420.23 1354.76 1421.07 1357.67 1421.36 1358.64" stroke="#F7D494" stroke-width="1.16"/>
<path d="M1485.3 1286.16 C1484.77 1288.1 1483.63 1293.93 1482.16 1297.81 C1480.69 1301.7 1477.42 1307.53 1476.47 1309.47" stroke="#F7D494" stroke-width="1.16"/>
<path d="M1529.75 1347 C1529.29 1347.85 1527.62 1350.4 1526.96 1352.1 C1526.3 1353.8 1525.97 1356.35 1525.78 1357.2" stroke="#F2C67E" stroke-width="1.17"/>
<path d="M1415.1 1513.13 C1413.67 1513.79 1409.22 1515.76 1406.51 1517.07 C1403.8 1518.39 1400.11 1520.36 1398.83 1521.01" stroke="#EDBD72" stroke-width="1.17"/>
<path d="M1472.43 1247.55 C1474.18 1248.13 1480.03 1251.64 1482.96 1251.06 C1485.88 1250.47 1486.86 1245.6 1489.98 1244.04 C1493.1 1242.48 1496.61 1241.11 1501.67 1241.7 C1506.74 1242.28 1517.27 1246.57 1520.39 1247.55" stroke="#F4CD88" stroke-width="1.17"/>
<path d="M1440.84 1478.03 C1442.34 1478.97 1447.35 1481.78 1449.87 1483.66 C1452.39 1485.54 1454.96 1488.36 1455.97 1489.3" stroke="#EAB468" stroke-width="1.17"/>
<path d="M1415.1 1513.13 C1413.96 1514.46 1410.33 1518.47 1408.25 1521.13 C1406.17 1523.8 1403.57 1527.81 1402.63 1529.14" stroke="#EAB468" stroke-width="1.19"/>
<path d="M1452.54 1283.82 C1452.16 1285.36 1451.25 1289.99 1450.27 1293.08 C1449.3 1296.17 1447.28 1300.8 1446.68 1302.34" stroke="#F9DCA4" stroke-width="1.19"/>
<path d="M1429.14 1482.71 C1427.97 1483.94 1424.57 1487.62 1422.13 1490.07 C1419.7 1492.53 1415.79 1496.21 1414.52 1497.44" stroke="#EDBD72" stroke-width="1.19"/>
<path d="M1415.1 1389.11 C1416.2 1389.84 1420.19 1392.02 1421.74 1393.48 C1423.28 1394.93 1423.93 1397.11 1424.37 1397.84" stroke="#F9DCA4" stroke-width="1.2"/>
<path d="M1485.3 1452.29 C1485.83 1453.1 1487.17 1455.52 1488.49 1457.13 C1489.82 1458.75 1492.44 1461.17 1493.23 1461.97" stroke="#EAB468" stroke-width="1.2"/>
<path d="M1464.24 1580.99 C1464.56 1582.52 1465.92 1587.13 1466.2 1590.2 C1466.48 1593.27 1465.98 1597.88 1465.93 1599.42" stroke="#EDBD72" stroke-width="1.21"/>
<path d="M1511.03 1384.43 C1512.23 1385.44 1515.98 1388.47 1518.18 1390.49 C1520.38 1392.51 1523.22 1395.54 1524.23 1396.55" stroke="#EAB468" stroke-width="1.22"/>
<path d="M1429.14 1482.71 C1427.52 1483.88 1422.4 1487.39 1419.44 1489.72 C1416.47 1492.06 1412.68 1495.57 1411.33 1496.74" stroke="#F7D494" stroke-width="1.22"/>
<path d="M1480.62 1534.19 C1480.27 1535.44 1479.27 1539.19 1478.57 1541.69 C1477.87 1544.19 1476.79 1547.95 1476.44 1549.2" stroke="#F9DCA4" stroke-width="1.23"/>
<path d="M1464.24 1580.99 C1463.1 1582.24 1459.67 1585.99 1457.4 1588.5 C1455.14 1591 1451.76 1594.75 1450.63 1596.01" stroke="#F2C67E" stroke-width="1.23"/>
<path d="M1450.2 1592.68 C1449.42 1596.58 1446.49 1608.28 1445.52 1616.08 C1444.54 1623.88 1443.96 1631.68 1444.35 1639.48 C1444.74 1647.28 1447.27 1658.98 1447.86 1662.88" stroke="#F2C67E" stroke-width="1.47"/>
<path d="M1438.5 1361.03 C1438.11 1364.15 1436.16 1373.51 1436.16 1379.75 C1436.16 1385.99 1438.11 1395.35 1438.5 1398.47" stroke="#F4CD88" stroke-width="1.47"/>
<path d="M1520.39 1297.86 C1521.17 1300.2 1524.68 1307.61 1525.07 1311.9 C1525.46 1316.19 1523.12 1321.65 1522.73 1323.6" stroke="#EAB468" stroke-width="1.47"/>
<path d="M1506.35 1412.51 C1508.69 1413.29 1515.71 1414.07 1520.39 1417.19 C1525.07 1420.31 1529.75 1427.33 1534.43 1431.23 C1539.11 1435.13 1546.13 1439.03 1548.47 1440.59" stroke="#F9DCA4" stroke-width="1.47"/>
<path d="M1436.16 1421.87 C1434.6 1421.48 1429.53 1418.75 1426.8 1419.53 C1424.07 1420.31 1420.95 1425.38 1419.78 1426.55" stroke="#F7D494" stroke-width="1.47"/>
<path d="M1440.84 1478.03 C1438.89 1478.81 1432.65 1480.37 1429.14 1482.71 C1425.63 1485.05 1421.34 1490.51 1419.78 1492.07" stroke="#EAB468" stroke-width="1.47"/>
<path d="M1426.8 1510.79 C1424.85 1511.18 1418.61 1512.35 1415.1 1513.13 C1411.59 1513.91 1407.3 1515.08 1405.74 1515.47" stroke="#EAB468" stroke-width="1.47"/>
<path d="M1480.62 1510.79 C1480.62 1514.69 1479.84 1526.39 1480.62 1534.19 C1481.4 1541.99 1483.74 1549.79 1485.3 1557.59 C1486.86 1565.39 1489.2 1577.09 1489.98 1580.99" stroke="#F9DCA4" stroke-width="1.47"/>
<path d="M1470.09 1557.59 C1469.11 1561.49 1466.77 1574.75 1464.24 1580.99 C1461.7 1587.22 1456.44 1592.68 1454.88 1595.02" stroke="#EDBD72" stroke-width="1.47"/>
<path d="M1457.22 1487.39 C1456.05 1491.29 1452.54 1502.99 1450.2 1510.79 C1447.86 1518.59 1445.52 1526.39 1443.18 1534.19 C1440.84 1541.99 1438.89 1549.79 1436.16 1557.59 C1433.43 1565.39 1430.31 1573.19 1426.8 1580.99 C1423.29 1588.78 1419 1597.36 1415.1 1604.38 C1411.2 1611.4 1407.88 1618.03 1403.4 1623.1 C1398.91 1628.17 1390.72 1632.85 1388.19 1634.8" stroke="#F2C67E" stroke-width="1.76"/>
<path d="M1473.6 1412.51 C1475.16 1415.24 1481.01 1422.26 1482.96 1428.89 C1484.91 1435.52 1485.3 1444.49 1485.3 1452.29 C1485.3 1460.09 1483.35 1471.79 1482.96 1475.69" stroke="#EDBD72" stroke-width="1.76"/>
<path d="M1478.28 1627.78 C1479.06 1630.9 1480.62 1640.65 1482.96 1646.5 C1485.3 1652.35 1489.98 1658.47 1492.32 1662.88 C1494.66 1667.29 1496.22 1671.27 1497 1672.94" stroke="#F9DCA4" stroke-width="1.76"/>
<path d="M1525.07 1328.28 C1525.85 1331.4 1527.41 1341.54 1529.75 1347 C1532.09 1352.45 1537.55 1358.69 1539.11 1361.03" stroke="#EAB468" stroke-width="1.76"/>
<path d="M1497 1351.67 C1497.78 1354.79 1499.33 1364.93 1501.67 1370.39 C1504.01 1375.85 1507.91 1380.53 1511.03 1384.43 C1514.15 1388.33 1518.83 1392.23 1520.39 1393.79" stroke="#F4CD88" stroke-width="1.76"/>
<path d="M1473.13 1276.8 C1471.26 1276.41 1465.33 1273.29 1461.9 1274.46 C1458.46 1275.63 1455.66 1280.7 1452.54 1283.82 C1449.42 1286.94 1445.91 1290.06 1443.18 1293.18 C1440.45 1296.3 1437.33 1300.98 1436.16 1302.54" stroke="#F4CD88" stroke-width="2.05"/>
<path d="M1473.13 1286.16 C1475.16 1286.16 1481.32 1284.99 1485.3 1286.16 C1489.27 1287.33 1493.1 1291.03 1497 1293.18 C1500.89 1295.32 1504.79 1298.25 1508.69 1299.03 C1512.59 1299.81 1516.1 1297.27 1520.39 1297.86 C1524.68 1298.44 1529.75 1300.2 1534.43 1302.54 C1539.11 1304.88 1543.13 1309.75 1548.47 1311.9 C1553.82 1314.04 1563.49 1314.82 1566.49 1315.41" stroke="#EAB468" stroke-width="2.05"/>
<path d="M1471.26 1311.9 C1469.31 1313.07 1463.07 1316.19 1459.56 1318.92 C1456.05 1321.65 1452.93 1324.38 1450.2 1328.28 C1447.47 1332.18 1445.13 1336.86 1443.18 1342.32 C1441.23 1347.78 1441.23 1354.79 1438.5 1361.03 C1435.77 1367.27 1430.7 1375.07 1426.8 1379.75 C1422.9 1384.43 1419.78 1387.55 1415.1 1389.11 C1410.42 1390.67 1401.45 1389.11 1398.72 1389.11" stroke="#F2C67E" stroke-width="2.05"/>
<path d="M1445.52 1300.2 C1443.96 1302.93 1439.28 1311.9 1436.16 1316.58 C1433.04 1321.26 1429.92 1323.21 1426.8 1328.28 C1423.68 1333.35 1420.17 1341.54 1417.44 1347 C1414.71 1352.45 1413.54 1357.52 1410.42 1361.03 C1407.3 1364.54 1402.23 1366.3 1398.72 1368.05 C1395.21 1369.81 1390.92 1370.98 1389.36 1371.56" stroke="#F9DCA4" stroke-width="2.05"/>
<path d="M1465.41 1463.99 C1467.55 1465.16 1474.18 1467.89 1478.28 1471.01 C1482.37 1474.13 1486.08 1478.03 1489.98 1482.71 C1493.88 1487.39 1498.17 1493.24 1501.67 1499.09 C1505.18 1504.94 1508.3 1511.18 1511.03 1517.81 C1513.76 1524.44 1516.49 1531.46 1518.05 1538.87 C1519.61 1546.28 1520.39 1554.47 1520.39 1562.27 C1520.39 1570.07 1519.22 1577.87 1518.05 1585.67 C1516.88 1593.46 1514.74 1601.26 1513.37 1609.06 C1512.01 1616.86 1510.84 1625.44 1509.86 1632.46 C1508.89 1639.48 1507.8 1644.44 1507.52 1651.18 C1507.25 1657.93 1508.11 1669.32 1508.23 1672.94" stroke="#F7D494" stroke-width="2.05"/>
<path d="M1467.75 1499.09 C1469.89 1501.04 1476.52 1506.5 1480.62 1510.79 C1484.71 1515.08 1488.81 1519.76 1492.32 1524.83 C1495.83 1529.9 1498.94 1535.75 1501.67 1541.21 C1504.4 1546.67 1506.94 1551.74 1508.69 1557.59 C1510.45 1563.44 1511.62 1573.19 1512.2 1576.31" stroke="#F7D494" stroke-width="2.05"/>
<path d="M1472.43 1580.99 C1473.01 1584.89 1474.96 1596.58 1475.94 1604.38 C1476.91 1612.18 1477.89 1623.88 1478.28 1627.78" stroke="#F9DCA4" stroke-width="2.35"/>
<path d="M1472.43 1314.24 C1474.57 1313.65 1481.2 1310.73 1485.3 1310.73 C1489.39 1310.73 1492.71 1312.48 1497 1314.24 C1501.28 1315.99 1506.35 1318.92 1511.03 1321.26 C1515.71 1323.6 1520.39 1325.16 1525.07 1328.28 C1529.75 1331.4 1534.43 1336.08 1539.11 1339.98 C1543.79 1343.88 1548.59 1347.78 1553.15 1351.67 C1557.72 1355.57 1564.27 1361.42 1566.49 1363.37" stroke="#F9DCA4" stroke-width="2.35"/>
<path d="M1471.26 1342.32 C1473.21 1343.1 1478.67 1345.44 1482.96 1347 C1487.25 1348.56 1492.32 1349.33 1497 1351.67 C1501.67 1354.01 1506.35 1357.13 1511.03 1361.03 C1515.71 1364.93 1520.39 1370.39 1525.07 1375.07 C1529.75 1379.75 1534.43 1384.43 1539.11 1389.11 C1543.79 1393.79 1548.59 1398.86 1553.15 1403.15 C1557.72 1407.44 1564.27 1412.9 1566.49 1414.85" stroke="#EDBD72" stroke-width="2.35"/>
<path d="M1468.92 1379.75 C1470.87 1381.31 1476.72 1385.99 1480.62 1389.11 C1484.52 1392.23 1488.03 1394.57 1492.32 1398.47 C1496.61 1402.37 1502.45 1407.44 1506.35 1412.51 C1510.25 1417.58 1512.59 1423.04 1515.71 1428.89 C1518.83 1434.74 1521.17 1440.98 1525.07 1447.61 C1528.97 1454.24 1535.21 1462.04 1539.11 1468.67 C1543.01 1475.3 1545.35 1481.15 1548.47 1487.39 C1551.59 1493.63 1554.83 1500.26 1557.83 1506.11 C1560.84 1511.96 1565.05 1519.76 1566.49 1522.49" stroke="#EDBD72" stroke-width="2.35"/>
<path d="M1466.58 1393.79 C1464.63 1394.57 1458.39 1396.13 1454.88 1398.47 C1451.37 1400.81 1448.64 1403.93 1445.52 1407.83 C1442.4 1411.73 1439.28 1417.19 1436.16 1421.87 C1433.04 1426.55 1430.31 1431.23 1426.8 1435.91 C1423.29 1440.59 1419 1445.27 1415.1 1449.95 C1411.2 1454.63 1406.91 1459.31 1403.4 1463.99 C1399.89 1468.67 1396.57 1474.13 1394.04 1478.03 C1391.5 1481.93 1389.16 1485.83 1388.19 1487.39" stroke="#F9DCA4" stroke-width="2.35"/>
<path d="M1463.07 1452.29 C1460.92 1454.24 1453.9 1459.7 1450.2 1463.99 C1446.49 1468.28 1443.96 1472.96 1440.84 1478.03 C1437.72 1483.1 1433.82 1488.95 1431.48 1494.41 C1429.14 1499.87 1428.36 1504.94 1426.8 1510.79 C1425.24 1516.64 1424.46 1523.66 1422.12 1529.51 C1419.78 1535.36 1416.27 1541.21 1412.76 1545.89 C1409.25 1550.57 1405.15 1553.69 1401.06 1557.59 C1396.96 1561.49 1390.33 1567.34 1388.19 1569.29" stroke="#EDBD72" stroke-width="2.35"/>
<path d="M1472.43 1247.55 C1472.54 1252.42 1473.13 1266.07 1473.13 1276.8 C1473.13 1287.52 1472.93 1300.2 1472.43 1311.9 C1471.92 1323.6 1470.87 1335.3 1470.09 1347 C1469.31 1358.69 1468.64 1370.39 1467.75 1382.09 C1466.85 1393.79 1465.68 1405.49 1464.7 1417.19 C1463.73 1428.89 1462.17 1442.54 1461.9 1452.29 C1461.62 1462.04 1462.48 1467.89 1463.07 1475.69 C1463.65 1483.49 1464.63 1491.29 1465.41 1499.09 C1466.19 1506.89 1466.97 1512.74 1467.75 1522.49 C1468.53 1532.24 1469.31 1547.84 1470.09 1557.59 C1470.87 1567.34 1472.23 1573.97 1472.43 1580.99 C1472.62 1588 1472.23 1593.46 1471.26 1599.7 C1470.28 1605.94 1468.53 1612.18 1466.58 1618.42 C1464.63 1624.66 1462.29 1630.9 1459.56 1637.14 C1456.83 1643.38 1453.24 1649.9 1450.2 1655.86 C1447.16 1661.83 1442.79 1670.1 1441.31 1672.94" stroke="#EAB468" stroke-width="2.93"/>
<circle cx="1466.18" cy="1272.89" r="1.5" fill="#F2BC7A" stroke="none"/>
<circle cx="1456.82" cy="1282.25" r="1.5" fill="#F2BC7A" stroke="none"/>
<circle cx="1462.67" cy="1290.44" r="1.5" fill="#F2BC7A" stroke="none"/>
<circle cx="1455.65" cy="1298.63" r="1.5" fill="#F2BC7A" stroke="none"/>
<circle cx="1496.6" cy="1293.95" r="1.5" fill="#F2BC7A" stroke="none"/>
<circle cx="1507.12" cy="1298.63" r="1.5" fill="#F2BC7A" stroke="none"/>
<circle cx="1494.26" cy="1310.33" r="1.5" fill="#F2BC7A" stroke="none"/>
<circle cx="1501.27" cy="1317.35" r="1.5" fill="#F2BC7A" stroke="none"/>
<circle cx="1510.63" cy="1319.69" r="1.5" fill="#F2BC7A" stroke="none"/>
<circle cx="1461.5" cy="1318.52" r="1.5" fill="#F2BC7A" stroke="none"/>
<circle cx="1479.05" cy="1319.69" r="1.5" fill="#F2BC7A" stroke="none"/>
<circle cx="1476.71" cy="1339.58" r="1.5" fill="#F2BC7A" stroke="none"/>
<circle cx="1483.73" cy="1348.93" r="1.5" fill="#F2BC7A" stroke="none"/>
<circle cx="1494.26" cy="1350.1" r="1.5" fill="#F2BC7A" stroke="none"/>
<circle cx="1531.69" cy="1332.56" r="1.5" fill="#F2BC7A" stroke="none"/>
<circle cx="1474.37" cy="1388.71" r="1.5" fill="#F2BC7A" stroke="none"/>
<circle cx="1480.22" cy="1393.39" r="1.5" fill="#F2BC7A" stroke="none"/>
<circle cx="1454.48" cy="1396.9" r="1.5" fill="#F2BC7A" stroke="none"/>
<circle cx="1473.2" cy="1409.77" r="1.5" fill="#F2BC7A" stroke="none"/>
<circle cx="1481.39" cy="1416.79" r="1.5" fill="#F2BC7A" stroke="none"/>
<circle cx="1482.56" cy="1428.49" r="1.5" fill="#F2BC7A" stroke="none"/>
<circle cx="1454.48" cy="1454.23" r="1.5" fill="#F2BC7A" stroke="none"/>
<circle cx="1449.8" cy="1461.25" r="1.5" fill="#F2BC7A" stroke="none"/>
<circle cx="1469.69" cy="1461.25" r="1.5" fill="#F2BC7A" stroke="none"/>
<circle cx="1475.54" cy="1468.27" r="1.5" fill="#F2BC7A" stroke="none"/>
<circle cx="1481.39" cy="1474.12" r="1.5" fill="#F2BC7A" stroke="none"/>
<circle cx="1452.14" cy="1486.99" r="1.5" fill="#F2BC7A" stroke="none"/>
<circle cx="1435.76" cy="1503.37" r="1.5" fill="#F2BC7A" stroke="none"/>
<circle cx="1433.42" cy="1517.41" r="1.5" fill="#F2BC7A" stroke="none"/>
<circle cx="1429.91" cy="1531.45" r="1.5" fill="#F2BC7A" stroke="none"/>
<circle cx="1393.64" cy="1484.65" r="1.5" fill="#F2BC7A" stroke="none"/>
<circle cx="1390.13" cy="1494.01" r="1.5" fill="#F2BC7A" stroke="none"/>
<circle cx="1403" cy="1465.93" r="1.5" fill="#F2BC7A" stroke="none"/>
<circle cx="1414.7" cy="1545.49" r="1.5" fill="#F2BC7A" stroke="none"/>
</g>
<rect x="1551.28" y="1618.89" width="3.98" height="39.08" fill="#fff"  />
<clipPath id="cp4"><rect x="1575.15" y="1237.02" width="178.53" height="436.86"/></clipPath>
<rect x="1575.15" y="1237.02" width="178.53" height="436.86" fill="#0b0a09"  />
<g clip-path="url(#cp4)" filter="url(#soft)" fill="none" stroke-linecap="round" stroke-linejoin="round">
<path d="M1637.39 1658.2 C1637.8 1659.09 1639.51 1661.77 1639.84 1663.55 C1640.17 1665.33 1639.47 1668 1639.39 1668.9" stroke="#C98840" stroke-width="1.18"/>
<path d="M1616.33 1573.97 C1616.01 1575.67 1614.78 1580.79 1614.44 1584.2 C1614.09 1587.62 1614.28 1592.73 1614.25 1594.44" stroke="#C98840" stroke-width="1.19"/>
<path d="M1597.61 1435.91 C1598.22 1436.48 1599.74 1438.17 1601.27 1439.3 C1602.8 1440.42 1605.86 1442.12 1606.78 1442.68" stroke="#CF9148" stroke-width="1.19"/>
<path d="M1714.61 1318.92 C1714.03 1319.81 1712.18 1322.49 1711.13 1324.27 C1710.07 1326.06 1708.73 1328.74 1708.26 1329.63" stroke="#D2934A" stroke-width="1.19"/>
<path d="M1613.99 1449.95 C1614.11 1450.93 1613.92 1453.89 1614.71 1455.85 C1615.5 1457.82 1618.05 1460.77 1618.71 1461.76" stroke="#C98840" stroke-width="1.21"/>
<path d="M1705.25 1307.22 C1706.22 1307.81 1709.53 1309.59 1711.07 1310.78 C1712.62 1311.96 1713.94 1313.75 1714.51 1314.34" stroke="#C98840" stroke-width="1.21"/>
<path d="M1721.63 1407.83 C1721.83 1408.58 1721.85 1410.8 1722.87 1412.29 C1723.89 1413.77 1726.93 1416 1727.74 1416.74" stroke="#D2934A" stroke-width="1.21"/>
<path d="M1705.25 1307.22 C1704.7 1308 1703.37 1310.35 1701.97 1311.92 C1700.57 1313.48 1697.72 1315.83 1696.87 1316.62" stroke="#D2934A" stroke-width="1.22"/>
<path d="M1672.49 1510.79 C1673.27 1512.59 1675.74 1518.01 1677.2 1521.62 C1678.66 1525.23 1680.58 1530.64 1681.26 1532.45" stroke="#D4984E" stroke-width="1.23"/>
<path d="M1688.87 1384.43 C1689.3 1385.06 1689.98 1386.95 1691.48 1388.2 C1692.97 1389.46 1696.76 1391.34 1697.81 1391.97" stroke="#D2934A" stroke-width="1.25"/>
<path d="M1691.21 1627.78 C1690.79 1628.76 1689.31 1631.7 1688.73 1633.67 C1688.15 1635.63 1687.91 1638.57 1687.75 1639.55" stroke="#C98840" stroke-width="1.26"/>
<path d="M1691.21 1398.47 C1692.05 1400.36 1695.07 1406.04 1696.26 1409.82 C1697.44 1413.6 1697.95 1419.28 1698.29 1421.17" stroke="#D4984E" stroke-width="1.28"/>
<path d="M1691.21 1398.47 C1691.7 1400.64 1692.72 1407.12 1694.16 1411.45 C1695.6 1415.77 1698.89 1422.26 1699.84 1424.42" stroke="#CF9148" stroke-width="1.28"/>
<path d="M1637.39 1372.73 C1636.15 1374.54 1632.28 1379.98 1629.94 1383.6 C1627.59 1387.22 1624.43 1392.65 1623.33 1394.47" stroke="#C98840" stroke-width="1.28"/>
<path d="M1728.65 1428.89 C1728.92 1429.56 1729.43 1431.56 1730.28 1432.89 C1731.14 1434.22 1733.21 1436.22 1733.8 1436.88" stroke="#D4984E" stroke-width="1.3"/>
<path d="M1695.89 1550.57 C1695.22 1552.39 1693.64 1557.87 1691.89 1561.52 C1690.14 1565.17 1686.47 1570.65 1685.38 1572.48" stroke="#C98840" stroke-width="1.32"/>
<path d="M1660.79 1569.29 C1660.31 1571.18 1658.63 1576.88 1657.9 1580.67 C1657.18 1584.47 1656.69 1590.17 1656.45 1592.06" stroke="#D2934A" stroke-width="1.32"/>
<path d="M1625.69 1454.63 C1624.1 1456.18 1619.42 1460.83 1616.18 1463.93 C1612.93 1467.03 1607.87 1471.68 1606.21 1473.23" stroke="#C98840" stroke-width="1.33"/>
<path d="M1698.23 1482.71 C1697.57 1483.6 1696.05 1486.29 1694.31 1488.07 C1692.57 1489.86 1688.88 1492.54 1687.79 1493.44" stroke="#C98840" stroke-width="1.33"/>
<path d="M1599.95 1456.97 C1601.41 1457.78 1605.05 1460.23 1608.73 1461.85 C1612.4 1463.48 1619.8 1465.92 1622.01 1466.74" stroke="#C98840" stroke-width="1.33"/>
<path d="M1637.39 1417.19 C1638.4 1419.13 1641.6 1424.95 1643.46 1428.84 C1645.32 1432.72 1647.7 1438.54 1648.54 1440.48" stroke="#C98840" stroke-width="1.33"/>
<path d="M1667.81 1487.39 C1666.71 1489.23 1663.69 1494.73 1661.19 1498.41 C1658.69 1502.08 1654.2 1507.59 1652.81 1509.42" stroke="#D2934A" stroke-width="1.34"/>
<path d="M1681.85 1510.79 C1679.89 1511.6 1674.19 1514.02 1670.09 1515.64 C1665.99 1517.25 1659.39 1519.68 1657.25 1520.49" stroke="#CF9148" stroke-width="1.34"/>
<path d="M1660.79 1569.29 C1660.99 1570.22 1661.37 1573.01 1662.01 1574.87 C1662.65 1576.73 1664.18 1579.52 1664.62 1580.45" stroke="#C98840" stroke-width="1.35"/>
<path d="M1747.36 1449.95 C1746.39 1451.49 1743.56 1456.09 1741.53 1459.16 C1739.5 1462.23 1736.24 1466.83 1735.18 1468.37" stroke="#D4984E" stroke-width="1.36"/>
<path d="M1700.57 1339.98 C1701.49 1340.54 1704.44 1342.24 1706.12 1343.37 C1707.79 1344.5 1709.86 1346.2 1710.61 1346.77" stroke="#D2934A" stroke-width="1.37"/>
<path d="M1651.43 1354.01 C1650.03 1354.85 1646.04 1357.34 1643.02 1359 C1640 1360.67 1634.92 1363.16 1633.31 1363.99" stroke="#D4984E" stroke-width="1.39"/>
<path d="M1691.21 1627.78 C1692.05 1628.92 1694.12 1632.34 1696.26 1634.61 C1698.39 1636.89 1702.72 1640.3 1704.02 1641.44" stroke="#C98840" stroke-width="1.4"/>
<path d="M1590.59 1590.34 C1591.42 1591.12 1593.86 1593.46 1595.57 1595.01 C1597.28 1596.57 1599.96 1598.9 1600.83 1599.68" stroke="#D2934A" stroke-width="1.41"/>
<path d="M1623.35 1658.2 C1624.64 1659.82 1628.13 1664.66 1631.1 1667.88 C1634.08 1671.11 1639.51 1675.95 1641.19 1677.56" stroke="#D4984E" stroke-width="1.41"/>
<path d="M1695.89 1550.57 C1695.52 1551.5 1694.89 1554.31 1693.71 1556.18 C1692.54 1558.05 1689.66 1560.85 1688.85 1561.79" stroke="#C98840" stroke-width="1.42"/>
<path d="M1642.07 1616.08 C1642.21 1617.05 1642.37 1619.96 1642.93 1621.9 C1643.48 1623.84 1644.97 1626.74 1645.38 1627.71" stroke="#CF9148" stroke-width="1.42"/>
<path d="M1623.35 1545.89 C1622.38 1547.79 1618.67 1553.52 1617.55 1557.34 C1616.44 1561.15 1616.8 1566.88 1616.65 1568.78" stroke="#CF9148" stroke-width="1.42"/>
<path d="M1688.87 1328.28 C1687.78 1329.89 1683.89 1334.74 1682.37 1337.97 C1680.86 1341.2 1680.23 1346.04 1679.8 1347.66" stroke="#D4984E" stroke-width="1.45"/>
<path d="M1637.39 1658.2 C1636.41 1659.43 1633.22 1663.11 1631.53 1665.57 C1629.83 1668.02 1627.93 1671.7 1627.21 1672.93" stroke="#C98840" stroke-width="1.46"/>
<path d="M1740.34 1370.39 C1738.84 1372.07 1734.53 1377.09 1731.32 1380.44 C1728.12 1383.79 1722.81 1388.81 1721.11 1390.49" stroke="#D4984E" stroke-width="1.51"/>
<path d="M1661.96 1288.5 C1662.56 1290.23 1664.97 1295.45 1665.57 1298.92 C1666.17 1302.4 1665.55 1307.61 1665.54 1309.35" stroke="#D2934A" stroke-width="1.52"/>
<path d="M1637.39 1499.09 C1638.8 1500.43 1643 1504.44 1645.84 1507.12 C1648.67 1509.8 1652.99 1513.81 1654.42 1515.15" stroke="#C98840" stroke-width="1.52"/>
<path d="M1635.05 1463.99 C1635.77 1464.68 1637.8 1466.74 1639.37 1468.11 C1640.94 1469.49 1643.63 1471.55 1644.48 1472.23" stroke="#D4984E" stroke-width="1.53"/>
<path d="M1609.31 1426.55 C1608.81 1427.44 1607.51 1430.1 1606.32 1431.87 C1605.14 1433.64 1602.89 1436.3 1602.21 1437.19" stroke="#CF9148" stroke-width="1.53"/>
<path d="M1740.34 1370.39 C1742.22 1371.21 1747.24 1373.64 1751.62 1375.26 C1755.99 1376.88 1764.1 1379.32 1766.6 1380.13" stroke="#C98840" stroke-width="1.55"/>
<path d="M1730.99 1370.39 C1732.55 1371.03 1737.3 1372.94 1740.4 1374.22 C1743.5 1375.5 1748.06 1377.41 1749.59 1378.05" stroke="#C98840" stroke-width="1.58"/>
<path d="M1691.21 1398.47 C1691.79 1400.3 1693.55 1405.78 1694.69 1409.43 C1695.82 1413.08 1697.44 1418.56 1697.99 1420.38" stroke="#D4984E" stroke-width="1.6"/>
<path d="M1728.65 1428.89 C1727.94 1430.27 1725.32 1434.41 1724.4 1437.18 C1723.48 1439.94 1723.33 1444.08 1723.12 1445.46" stroke="#D2934A" stroke-width="1.6"/>
<path d="M1625.69 1478.03 C1625.98 1479.97 1627.03 1485.79 1627.45 1489.67 C1627.87 1493.55 1628.09 1499.37 1628.21 1501.31" stroke="#CF9148" stroke-width="1.61"/>
<path d="M1625.69 1454.63 C1624.94 1456.59 1622.66 1462.47 1621.2 1466.39 C1619.74 1470.31 1617.64 1476.19 1616.92 1478.15" stroke="#D2934A" stroke-width="1.62"/>
<path d="M1688.87 1384.43 C1688 1385.13 1685.45 1387.21 1683.65 1388.6 C1681.84 1389.99 1678.97 1392.07 1678.03 1392.77" stroke="#D4984E" stroke-width="1.62"/>
<path d="M1679.51 1379.75 C1678.82 1381.15 1676.35 1385.34 1675.37 1388.13 C1674.38 1390.92 1673.89 1395.11 1673.6 1396.5" stroke="#D2934A" stroke-width="1.64"/>
<path d="M1681.85 1616.08 C1682.23 1617.64 1683.57 1622.33 1684.12 1625.45 C1684.67 1628.57 1684.96 1633.26 1685.13 1634.82" stroke="#CF9148" stroke-width="1.67"/>
<path d="M1618.67 1499.09 C1619.49 1500.14 1621.64 1503.28 1623.6 1505.37 C1625.55 1507.46 1629.27 1510.6 1630.4 1511.65" stroke="#C98840" stroke-width="1.69"/>
<path d="M1747.36 1449.95 C1746.23 1451.15 1742.93 1454.76 1740.55 1457.16 C1738.18 1459.56 1734.38 1463.17 1733.14 1464.37" stroke="#CF9148" stroke-width="1.7"/>
<path d="M1672.49 1510.79 C1672.12 1512.41 1671.04 1517.26 1670.28 1520.5 C1669.52 1523.74 1668.32 1528.6 1667.93 1530.22" stroke="#CF9148" stroke-width="1.72"/>
<path d="M1740.34 1370.39 C1739.49 1372.32 1736.62 1378.1 1735.22 1381.96 C1733.82 1385.81 1732.48 1391.59 1731.93 1393.52" stroke="#CF9148" stroke-width="1.73"/>
<path d="M1602.29 1580.99 C1601.73 1581.33 1600.68 1582.35 1598.91 1583.04 C1597.14 1583.72 1592.87 1584.75 1591.67 1585.09" stroke="#D4984E" stroke-width="1.75"/>
<path d="M1707.59 1356.35 C1706.18 1357.01 1702.16 1358.97 1699.16 1360.28 C1696.17 1361.59 1691.21 1363.56 1689.62 1364.21" stroke="#CF9148" stroke-width="1.78"/>
<path d="M1728.65 1428.89 C1728.04 1429.25 1726.85 1430.31 1725.04 1431.02 C1723.22 1431.73 1718.97 1432.79 1717.76 1433.15" stroke="#CF9148" stroke-width="1.79"/>
<path d="M1632.71 1639.48 C1633.39 1639.89 1634.92 1641.12 1636.77 1641.94 C1638.62 1642.76 1642.63 1644 1643.81 1644.41" stroke="#D4984E" stroke-width="1.8"/>
<path d="M1613.99 1485.05 C1615.2 1485.78 1619.06 1487.98 1621.23 1489.44 C1623.39 1490.91 1626.02 1493.1 1626.98 1493.84" stroke="#D4984E" stroke-width="1.8"/>
<path d="M1686.53 1641.82 C1687.09 1642.39 1688.64 1644.1 1689.93 1645.24 C1691.21 1646.38 1693.52 1648.09 1694.24 1648.66" stroke="#D4984E" stroke-width="1.81"/>
<path d="M1628.03 1440.59 C1627.33 1442.42 1625.07 1447.91 1623.85 1451.57 C1622.63 1455.23 1621.24 1460.72 1620.72 1462.54" stroke="#D4984E" stroke-width="1.82"/>
<path d="M1644.41 1363.37 C1643.62 1363.91 1641.59 1365.52 1639.7 1366.6 C1637.82 1367.67 1634.19 1369.29 1633.08 1369.82" stroke="#D2934A" stroke-width="1.83"/>
<path d="M1721.63 1407.83 C1722.13 1409.31 1723.97 1413.74 1724.67 1416.69 C1725.37 1419.65 1725.64 1424.08 1725.83 1425.55" stroke="#CF9148" stroke-width="1.83"/>
<path d="M1681.85 1510.79 C1682.21 1512.58 1683.6 1517.97 1684.04 1521.56 C1684.49 1525.15 1684.46 1530.53 1684.55 1532.32" stroke="#CF9148" stroke-width="1.85"/>
<path d="M1681.85 1510.79 C1680.48 1512.1 1676.26 1516.05 1673.65 1518.69 C1671.05 1521.32 1667.45 1525.27 1666.2 1526.59" stroke="#D2934A" stroke-width="1.85"/>
<path d="M1637.39 1499.09 C1636.9 1500.14 1635.29 1503.29 1634.43 1505.39 C1633.58 1507.49 1632.61 1510.64 1632.25 1511.69" stroke="#D2934A" stroke-width="1.86"/>
<path d="M1721.63 1407.83 C1719.93 1409.61 1714.55 1414.96 1711.46 1418.52 C1708.37 1422.09 1704.48 1427.43 1703.08 1429.21" stroke="#D2934A" stroke-width="1.87"/>
<path d="M1726.31 1393.79 C1725.53 1396.13 1723.97 1405.1 1721.63 1407.83 C1719.29 1410.56 1713.83 1409.78 1712.27 1410.17" stroke="#D4984E" stroke-width="2.22"/>
<path d="M1730.99 1412.51 C1730.6 1415.24 1729.43 1424.21 1728.65 1428.89 C1727.87 1433.57 1726.7 1438.64 1726.31 1440.59" stroke="#D4984E" stroke-width="2.22"/>
<path d="M1681.85 1616.08 C1683.41 1618.03 1690.43 1623.49 1691.21 1627.78 C1691.99 1632.07 1689.65 1638.7 1686.53 1641.82 C1683.41 1644.94 1674.83 1645.72 1672.49 1646.5" stroke="#D2934A" stroke-width="2.22"/>
<path d="M1730.99 1370.39 C1732.55 1370.39 1738.59 1369.61 1740.34 1370.39 C1742.1 1371.17 1741.32 1374.29 1741.51 1375.07" stroke="#D4984E" stroke-width="2.22"/>
<path d="M1661.96 1323.6 C1664.1 1323.6 1670.34 1322.82 1674.83 1323.6 C1679.31 1324.38 1684.58 1325.55 1688.87 1328.28 C1693.16 1331.01 1697.45 1335.3 1700.57 1339.98 C1703.69 1344.66 1705.64 1350.5 1707.59 1356.35 C1709.54 1362.2 1711.49 1371.95 1712.27 1375.07" stroke="#D2934A" stroke-width="2.67"/>
<path d="M1693.55 1300.2 C1695.5 1301.37 1701.74 1304.1 1705.25 1307.22 C1708.76 1310.34 1711.88 1314.63 1714.61 1318.92 C1717.34 1323.21 1719.29 1327.5 1721.63 1332.96 C1723.97 1338.42 1725.92 1345.44 1728.65 1351.67 C1731.38 1357.91 1735.86 1363.37 1738 1370.39 C1740.15 1377.41 1740.93 1389.89 1741.51 1393.79" stroke="#D2934A" stroke-width="2.67"/>
<path d="M1660.32 1342.32 C1658.84 1344.27 1654.08 1350.5 1651.43 1354.01 C1648.78 1357.52 1646.75 1360.25 1644.41 1363.37 C1642.07 1366.49 1640.9 1370 1637.39 1372.73 C1633.88 1375.46 1625.69 1378.58 1623.35 1379.75" stroke="#D4984E" stroke-width="2.67"/>
<path d="M1665.47 1375.07 C1667.81 1375.85 1675.61 1378.19 1679.51 1379.75 C1683.41 1381.31 1685.16 1383.65 1688.87 1384.43 C1692.57 1385.21 1699.59 1384.43 1701.74 1384.43" stroke="#C98840" stroke-width="2.67"/>
<path d="M1688.87 1384.43 C1689.26 1386.77 1689.06 1396.13 1691.21 1398.47 C1693.35 1400.81 1699.98 1398.47 1701.74 1398.47" stroke="#C98840" stroke-width="2.67"/>
<path d="M1637.39 1534.19 C1635.83 1538.09 1631.54 1550.96 1628.03 1557.59 C1624.52 1564.22 1620.62 1570.07 1616.33 1573.97 C1612.04 1577.87 1606.58 1578.26 1602.29 1580.99 C1598 1583.72 1593.32 1588.59 1590.59 1590.34 C1587.86 1592.1 1586.69 1591.32 1585.91 1591.51" stroke="#C98840" stroke-width="2.67"/>
<path d="M1667.81 1487.39 C1670.15 1491.29 1677.95 1502.99 1681.85 1510.79 C1685.75 1518.59 1688.87 1526.39 1691.21 1534.19 C1693.55 1541.99 1695.11 1553.69 1695.89 1557.59" stroke="#D2934A" stroke-width="2.67"/>
<path d="M1649.09 1412.51 C1647.14 1413.29 1641.68 1416.02 1637.39 1417.19 C1633.1 1418.36 1628.03 1417.97 1623.35 1419.53 C1618.67 1421.09 1613.6 1423.82 1609.31 1426.55 C1605.02 1429.28 1601.12 1433.18 1597.61 1435.91 C1594.1 1438.64 1589.81 1441.76 1588.25 1442.93" stroke="#C98840" stroke-width="3.11"/>
<path d="M1642.07 1428.89 C1639.73 1430.84 1632.71 1437.08 1628.03 1440.59 C1623.35 1444.1 1618.67 1447.22 1613.99 1449.95 C1609.31 1452.68 1604.63 1454.63 1599.95 1456.97 C1595.27 1459.31 1588.25 1462.82 1585.91 1463.99" stroke="#D2934A" stroke-width="3.11"/>
<path d="M1632.71 1433.57 C1631.54 1437.08 1627.25 1447.61 1625.69 1454.63 C1624.13 1461.65 1624.52 1468.28 1623.35 1475.69 C1622.18 1483.1 1620.23 1491.29 1618.67 1499.09 C1617.11 1506.89 1615.36 1515.47 1613.99 1522.49 C1612.63 1529.51 1611.07 1538.09 1610.48 1541.21" stroke="#D4984E" stroke-width="3.11"/>
<path d="M1646.75 1452.29 C1644.8 1454.24 1638.56 1459.7 1635.05 1463.99 C1631.54 1468.28 1629.2 1474.52 1625.69 1478.03 C1622.18 1481.54 1617.89 1483.88 1613.99 1485.05 C1610.09 1486.22 1604.63 1483.49 1602.29 1485.05 C1599.95 1486.61 1600.34 1492.85 1599.95 1494.41" stroke="#C98840" stroke-width="3.11"/>
<path d="M1652.6 1440.59 C1653.96 1444.49 1658.25 1456.19 1660.79 1463.99 C1663.32 1471.79 1665.86 1479.59 1667.81 1487.39 C1669.76 1495.19 1671.51 1502.99 1672.49 1510.79 C1673.46 1518.59 1673.66 1527.17 1673.66 1534.19 C1673.66 1541.21 1672.68 1549.79 1672.49 1552.91" stroke="#D4984E" stroke-width="3.11"/>
<path d="M1644.41 1475.69 C1643.24 1479.59 1639.73 1491.29 1637.39 1499.09 C1635.05 1506.89 1632.71 1514.69 1630.37 1522.49 C1628.03 1530.29 1626.08 1539.26 1623.35 1545.89 C1620.62 1552.52 1616.33 1557.98 1613.99 1562.27 C1611.65 1566.56 1610.09 1570.07 1609.31 1571.63" stroke="#D4984E" stroke-width="3.11"/>
<path d="M1649.09 1545.89 C1651.04 1549.79 1656.89 1561.49 1660.79 1569.29 C1664.69 1577.09 1668.98 1584.89 1672.49 1592.68 C1676 1600.48 1679.9 1608.28 1681.85 1616.08 C1683.8 1623.88 1684.58 1632.46 1684.19 1639.48 C1683.8 1646.5 1681.46 1652.63 1679.51 1658.2 C1677.56 1663.78 1673.66 1670.49 1672.49 1672.94" stroke="#D4984E" stroke-width="3.11"/>
<path d="M1651.43 1592.68 C1649.87 1596.58 1645.19 1608.28 1642.07 1616.08 C1638.95 1623.88 1635.83 1632.46 1632.71 1639.48 C1629.59 1646.5 1626.08 1652.63 1623.35 1658.2 C1620.62 1663.78 1617.5 1670.49 1616.33 1672.94" stroke="#D2934A" stroke-width="3.11"/>
<path d="M1660.79 1370.39 C1662.35 1373.51 1667.42 1382.09 1670.15 1389.11 C1672.88 1396.13 1674.83 1404.71 1677.17 1412.51 C1679.51 1420.31 1681.85 1428.11 1684.19 1435.91 C1686.53 1443.71 1688.87 1451.51 1691.21 1459.31 C1693.55 1467.11 1696.47 1474.91 1698.23 1482.71 C1699.98 1490.51 1701.35 1498.31 1701.74 1506.11 C1702.13 1513.91 1701.54 1522.1 1700.57 1529.51 C1699.59 1536.92 1697.25 1545.11 1695.89 1550.57 C1694.52 1556.03 1692.96 1560.32 1692.38 1562.27" stroke="#D2934A" stroke-width="3.56"/>
<path d="M1657.28 1240.53 C1657.67 1244.62 1658.84 1257.1 1659.62 1265.1 C1660.4 1273.09 1661.57 1279.53 1661.96 1288.5 C1662.35 1297.47 1662.23 1309.95 1661.96 1318.92 C1661.69 1327.89 1660.91 1335.3 1660.32 1342.32 C1659.74 1349.33 1659.15 1354.4 1658.45 1361.03 C1657.75 1367.66 1657.08 1374.68 1656.11 1382.09 C1655.13 1389.5 1653.77 1397.69 1652.6 1405.49 C1651.43 1413.29 1650.06 1421.09 1649.09 1428.89 C1648.11 1436.69 1647.53 1444.49 1646.75 1452.29 C1645.97 1460.09 1644.6 1467.89 1644.41 1475.69 C1644.21 1483.49 1644.99 1491.29 1645.58 1499.09 C1646.16 1506.89 1647.33 1514.69 1647.92 1522.49 C1648.5 1530.29 1648.7 1538.09 1649.09 1545.89 C1649.48 1553.69 1649.87 1561.49 1650.26 1569.29 C1650.65 1577.09 1651.62 1584.89 1651.43 1592.68 C1651.23 1600.48 1650.65 1608.28 1649.09 1616.08 C1647.53 1623.88 1644.02 1632.46 1642.07 1639.48 C1640.12 1646.5 1638.36 1652.63 1637.39 1658.2 C1636.41 1663.78 1636.41 1670.49 1636.22 1672.94" stroke="#C98840" stroke-width="4.45"/>
<path d="M1660.79 1272.12 C1662.74 1272.51 1668.59 1272.12 1672.49 1274.46 C1676.39 1276.8 1680.68 1281.87 1684.19 1286.16 C1687.7 1290.45 1690.43 1295.13 1693.55 1300.2 C1696.67 1305.27 1699.79 1311.12 1702.91 1316.58 C1706.03 1322.04 1709.15 1327.11 1712.27 1332.96 C1715.39 1338.81 1718.51 1345.44 1721.63 1351.67 C1724.75 1357.91 1728.65 1364.15 1730.99 1370.39 C1733.33 1376.63 1734.11 1382.87 1735.67 1389.11 C1737.22 1395.35 1738.98 1401.2 1740.34 1407.83 C1741.71 1414.46 1742.68 1421.87 1743.85 1428.89 C1745.02 1435.91 1746 1443.32 1747.36 1449.95 C1748.73 1456.58 1750.99 1464.38 1752.04 1468.67 C1753.1 1472.96 1753.41 1474.52 1753.68 1475.69" stroke="#D2934A" stroke-width="4.45"/>
<circle cx="1667.81" cy="1273.29" r="3.41" fill="#E39A50" stroke="none"/>
<circle cx="1660.79" cy="1318.92" r="2.76" fill="#E39A50" stroke="none"/>
<circle cx="1666.64" cy="1376.24" r="3.16" fill="#E39A50" stroke="none"/>
<circle cx="1679.51" cy="1379.75" r="3.27" fill="#E39A50" stroke="none"/>
<circle cx="1714.61" cy="1344.66" r="3.27" fill="#E39A50" stroke="none"/>
<circle cx="1651.43" cy="1424.21" r="2.89" fill="#E39A50" stroke="none"/>
<circle cx="1650.26" cy="1431.23" r="3.32" fill="#E39A50" stroke="none"/>
<circle cx="1635.05" cy="1421.87" r="3.39" fill="#E39A50" stroke="none"/>
<circle cx="1632.71" cy="1475.69" r="2.66" fill="#E39A50" stroke="none"/>
<circle cx="1657.28" cy="1475.69" r="3.55" fill="#E39A50" stroke="none"/>
<circle cx="1642.07" cy="1445.27" r="3.44" fill="#E39A50" stroke="none"/>
<circle cx="1652.6" cy="1452.29" r="2.83" fill="#E39A50" stroke="none"/>
<circle cx="1663.13" cy="1492.07" r="2.8" fill="#E39A50" stroke="none"/>
<circle cx="1665.47" cy="1503.77" r="3.37" fill="#E39A50" stroke="none"/>
<circle cx="1672.49" cy="1527.17" r="3.53" fill="#E39A50" stroke="none"/>
<path d="M1637.39 1658.2 C1637.8 1659.09 1639.51 1661.77 1639.84 1663.55 C1640.17 1665.33 1639.47 1668 1639.39 1668.9" stroke="#F2C67E" stroke-width="0.78"/>
<path d="M1616.33 1573.97 C1616.01 1575.67 1614.78 1580.79 1614.44 1584.2 C1614.09 1587.62 1614.28 1592.73 1614.25 1594.44" stroke="#F2C67E" stroke-width="0.78"/>
<path d="M1597.61 1435.91 C1598.22 1436.48 1599.74 1438.17 1601.27 1439.3 C1602.8 1440.42 1605.86 1442.12 1606.78 1442.68" stroke="#F4CD88" stroke-width="0.78"/>
<path d="M1714.61 1318.92 C1714.03 1319.81 1712.18 1322.49 1711.13 1324.27 C1710.07 1326.06 1708.73 1328.74 1708.26 1329.63" stroke="#EDBD72" stroke-width="0.79"/>
<path d="M1613.99 1449.95 C1614.11 1450.93 1613.92 1453.89 1614.71 1455.85 C1615.5 1457.82 1618.05 1460.77 1618.71 1461.76" stroke="#F2C67E" stroke-width="0.8"/>
<path d="M1705.25 1307.22 C1706.22 1307.81 1709.53 1309.59 1711.07 1310.78 C1712.62 1311.96 1713.94 1313.75 1714.51 1314.34" stroke="#F9DCA4" stroke-width="0.8"/>
<path d="M1721.63 1407.83 C1721.83 1408.58 1721.85 1410.8 1722.87 1412.29 C1723.89 1413.77 1726.93 1416 1727.74 1416.74" stroke="#EDBD72" stroke-width="0.8"/>
<path d="M1705.25 1307.22 C1704.7 1308 1703.37 1310.35 1701.97 1311.92 C1700.57 1313.48 1697.72 1315.83 1696.87 1316.62" stroke="#F9DCA4" stroke-width="0.8"/>
<path d="M1672.49 1510.79 C1673.27 1512.59 1675.74 1518.01 1677.2 1521.62 C1678.66 1525.23 1680.58 1530.64 1681.26 1532.45" stroke="#F2C67E" stroke-width="0.81"/>
<path d="M1688.87 1384.43 C1689.3 1385.06 1689.98 1386.95 1691.48 1388.2 C1692.97 1389.46 1696.76 1391.34 1697.81 1391.97" stroke="#EAB468" stroke-width="0.82"/>
<path d="M1691.21 1627.78 C1690.79 1628.76 1689.31 1631.7 1688.73 1633.67 C1688.15 1635.63 1687.91 1638.57 1687.75 1639.55" stroke="#EAB468" stroke-width="0.83"/>
<path d="M1691.21 1398.47 C1692.05 1400.36 1695.07 1406.04 1696.26 1409.82 C1697.44 1413.6 1697.95 1419.28 1698.29 1421.17" stroke="#F4CD88" stroke-width="0.84"/>
<path d="M1691.21 1398.47 C1691.7 1400.64 1692.72 1407.12 1694.16 1411.45 C1695.6 1415.77 1698.89 1422.26 1699.84 1424.42" stroke="#F4CD88" stroke-width="0.85"/>
<path d="M1637.39 1372.73 C1636.15 1374.54 1632.28 1379.98 1629.94 1383.6 C1627.59 1387.22 1624.43 1392.65 1623.33 1394.47" stroke="#EAB468" stroke-width="0.85"/>
<path d="M1728.65 1428.89 C1728.92 1429.56 1729.43 1431.56 1730.28 1432.89 C1731.14 1434.22 1733.21 1436.22 1733.8 1436.88" stroke="#EDBD72" stroke-width="0.86"/>
<path d="M1695.89 1550.57 C1695.22 1552.39 1693.64 1557.87 1691.89 1561.52 C1690.14 1565.17 1686.47 1570.65 1685.38 1572.48" stroke="#F2C67E" stroke-width="0.87"/>
<path d="M1660.79 1569.29 C1660.31 1571.18 1658.63 1576.88 1657.9 1580.67 C1657.18 1584.47 1656.69 1590.17 1656.45 1592.06" stroke="#F7D494" stroke-width="0.87"/>
<path d="M1625.69 1454.63 C1624.1 1456.18 1619.42 1460.83 1616.18 1463.93 C1612.93 1467.03 1607.87 1471.68 1606.21 1473.23" stroke="#EDBD72" stroke-width="0.88"/>
<path d="M1698.23 1482.71 C1697.57 1483.6 1696.05 1486.29 1694.31 1488.07 C1692.57 1489.86 1688.88 1492.54 1687.79 1493.44" stroke="#F2C67E" stroke-width="0.88"/>
<path d="M1599.95 1456.97 C1601.41 1457.78 1605.05 1460.23 1608.73 1461.85 C1612.4 1463.48 1619.8 1465.92 1622.01 1466.74" stroke="#F4CD88" stroke-width="0.88"/>
<path d="M1637.39 1417.19 C1638.4 1419.13 1641.6 1424.95 1643.46 1428.84 C1645.32 1432.72 1647.7 1438.54 1648.54 1440.48" stroke="#F2C67E" stroke-width="0.88"/>
<path d="M1667.81 1487.39 C1666.71 1489.23 1663.69 1494.73 1661.19 1498.41 C1658.69 1502.08 1654.2 1507.59 1652.81 1509.42" stroke="#F2C67E" stroke-width="0.88"/>
<path d="M1681.85 1510.79 C1679.89 1511.6 1674.19 1514.02 1670.09 1515.64 C1665.99 1517.25 1659.39 1519.68 1657.25 1520.49" stroke="#F7D494" stroke-width="0.88"/>
<path d="M1660.79 1569.29 C1660.99 1570.22 1661.37 1573.01 1662.01 1574.87 C1662.65 1576.73 1664.18 1579.52 1664.62 1580.45" stroke="#F2C67E" stroke-width="0.89"/>
<path d="M1747.36 1449.95 C1746.39 1451.49 1743.56 1456.09 1741.53 1459.16 C1739.5 1462.23 1736.24 1466.83 1735.18 1468.37" stroke="#EAB468" stroke-width="0.89"/>
<path d="M1700.57 1339.98 C1701.49 1340.54 1704.44 1342.24 1706.12 1343.37 C1707.79 1344.5 1709.86 1346.2 1710.61 1346.77" stroke="#F2C67E" stroke-width="0.9"/>
<path d="M1651.43 1354.01 C1650.03 1354.85 1646.04 1357.34 1643.02 1359 C1640 1360.67 1634.92 1363.16 1633.31 1363.99" stroke="#EDBD72" stroke-width="0.92"/>
<path d="M1691.21 1627.78 C1692.05 1628.92 1694.12 1632.34 1696.26 1634.61 C1698.39 1636.89 1702.72 1640.3 1704.02 1641.44" stroke="#F9DCA4" stroke-width="0.92"/>
<path d="M1590.59 1590.34 C1591.42 1591.12 1593.86 1593.46 1595.57 1595.01 C1597.28 1596.57 1599.96 1598.9 1600.83 1599.68" stroke="#EAB468" stroke-width="0.93"/>
<path d="M1623.35 1658.2 C1624.64 1659.82 1628.13 1664.66 1631.1 1667.88 C1634.08 1671.11 1639.51 1675.95 1641.19 1677.56" stroke="#F4CD88" stroke-width="0.93"/>
<path d="M1695.89 1550.57 C1695.52 1551.5 1694.89 1554.31 1693.71 1556.18 C1692.54 1558.05 1689.66 1560.85 1688.85 1561.79" stroke="#EAB468" stroke-width="0.94"/>
<path d="M1642.07 1616.08 C1642.21 1617.05 1642.37 1619.96 1642.93 1621.9 C1643.48 1623.84 1644.97 1626.74 1645.38 1627.71" stroke="#EAB468" stroke-width="0.94"/>
<path d="M1623.35 1545.89 C1622.38 1547.79 1618.67 1553.52 1617.55 1557.34 C1616.44 1561.15 1616.8 1566.88 1616.65 1568.78" stroke="#EDBD72" stroke-width="0.94"/>
<path d="M1688.87 1328.28 C1687.78 1329.89 1683.89 1334.74 1682.37 1337.97 C1680.86 1341.2 1680.23 1346.04 1679.8 1347.66" stroke="#EDBD72" stroke-width="0.96"/>
<path d="M1637.39 1658.2 C1636.41 1659.43 1633.22 1663.11 1631.53 1665.57 C1629.83 1668.02 1627.93 1671.7 1627.21 1672.93" stroke="#EAB468" stroke-width="0.96"/>
<path d="M1740.34 1370.39 C1738.84 1372.07 1734.53 1377.09 1731.32 1380.44 C1728.12 1383.79 1722.81 1388.81 1721.11 1390.49" stroke="#EDBD72" stroke-width="1"/>
<path d="M1661.96 1288.5 C1662.56 1290.23 1664.97 1295.45 1665.57 1298.92 C1666.17 1302.4 1665.55 1307.61 1665.54 1309.35" stroke="#F7D494" stroke-width="1"/>
<path d="M1637.39 1499.09 C1638.8 1500.43 1643 1504.44 1645.84 1507.12 C1648.67 1509.8 1652.99 1513.81 1654.42 1515.15" stroke="#EAB468" stroke-width="1"/>
<path d="M1635.05 1463.99 C1635.77 1464.68 1637.8 1466.74 1639.37 1468.11 C1640.94 1469.49 1643.63 1471.55 1644.48 1472.23" stroke="#F9DCA4" stroke-width="1.01"/>
<path d="M1609.31 1426.55 C1608.81 1427.44 1607.51 1430.1 1606.32 1431.87 C1605.14 1433.64 1602.89 1436.3 1602.21 1437.19" stroke="#F9DCA4" stroke-width="1.01"/>
<path d="M1740.34 1370.39 C1742.22 1371.21 1747.24 1373.64 1751.62 1375.26 C1755.99 1376.88 1764.1 1379.32 1766.6 1380.13" stroke="#EDBD72" stroke-width="1.02"/>
<path d="M1730.99 1370.39 C1732.55 1371.03 1737.3 1372.94 1740.4 1374.22 C1743.5 1375.5 1748.06 1377.41 1749.59 1378.05" stroke="#F4CD88" stroke-width="1.04"/>
<path d="M1691.21 1398.47 C1691.79 1400.3 1693.55 1405.78 1694.69 1409.43 C1695.82 1413.08 1697.44 1418.56 1697.99 1420.38" stroke="#EDBD72" stroke-width="1.05"/>
<path d="M1728.65 1428.89 C1727.94 1430.27 1725.32 1434.41 1724.4 1437.18 C1723.48 1439.94 1723.33 1444.08 1723.12 1445.46" stroke="#F9DCA4" stroke-width="1.06"/>
<path d="M1625.69 1478.03 C1625.98 1479.97 1627.03 1485.79 1627.45 1489.67 C1627.87 1493.55 1628.09 1499.37 1628.21 1501.31" stroke="#F2C67E" stroke-width="1.07"/>
<path d="M1625.69 1454.63 C1624.94 1456.59 1622.66 1462.47 1621.2 1466.39 C1619.74 1470.31 1617.64 1476.19 1616.92 1478.15" stroke="#F7D494" stroke-width="1.07"/>
<path d="M1688.87 1384.43 C1688 1385.13 1685.45 1387.21 1683.65 1388.6 C1681.84 1389.99 1678.97 1392.07 1678.03 1392.77" stroke="#F7D494" stroke-width="1.07"/>
<path d="M1679.51 1379.75 C1678.82 1381.15 1676.35 1385.34 1675.37 1388.13 C1674.38 1390.92 1673.89 1395.11 1673.6 1396.5" stroke="#EAB468" stroke-width="1.08"/>
<path d="M1681.85 1616.08 C1682.23 1617.64 1683.57 1622.33 1684.12 1625.45 C1684.67 1628.57 1684.96 1633.26 1685.13 1634.82" stroke="#F9DCA4" stroke-width="1.1"/>
<path d="M1618.67 1499.09 C1619.49 1500.14 1621.64 1503.28 1623.6 1505.37 C1625.55 1507.46 1629.27 1510.6 1630.4 1511.65" stroke="#F2C67E" stroke-width="1.11"/>
<path d="M1747.36 1449.95 C1746.23 1451.15 1742.93 1454.76 1740.55 1457.16 C1738.18 1459.56 1734.38 1463.17 1733.14 1464.37" stroke="#F7D494" stroke-width="1.12"/>
<path d="M1672.49 1510.79 C1672.12 1512.41 1671.04 1517.26 1670.28 1520.5 C1669.52 1523.74 1668.32 1528.6 1667.93 1530.22" stroke="#F9DCA4" stroke-width="1.13"/>
<path d="M1740.34 1370.39 C1739.49 1372.32 1736.62 1378.1 1735.22 1381.96 C1733.82 1385.81 1732.48 1391.59 1731.93 1393.52" stroke="#EDBD72" stroke-width="1.14"/>
<path d="M1602.29 1580.99 C1601.73 1581.33 1600.68 1582.35 1598.91 1583.04 C1597.14 1583.72 1592.87 1584.75 1591.67 1585.09" stroke="#F2C67E" stroke-width="1.16"/>
<path d="M1707.59 1356.35 C1706.18 1357.01 1702.16 1358.97 1699.16 1360.28 C1696.17 1361.59 1691.21 1363.56 1689.62 1364.21" stroke="#F4CD88" stroke-width="1.18"/>
<path d="M1728.65 1428.89 C1728.04 1429.25 1726.85 1430.31 1725.04 1431.02 C1723.22 1431.73 1718.97 1432.79 1717.76 1433.15" stroke="#EDBD72" stroke-width="1.18"/>
<path d="M1632.71 1639.48 C1633.39 1639.89 1634.92 1641.12 1636.77 1641.94 C1638.62 1642.76 1642.63 1644 1643.81 1644.41" stroke="#F4CD88" stroke-width="1.19"/>
<path d="M1613.99 1485.05 C1615.2 1485.78 1619.06 1487.98 1621.23 1489.44 C1623.39 1490.91 1626.02 1493.1 1626.98 1493.84" stroke="#F2C67E" stroke-width="1.19"/>
<path d="M1686.53 1641.82 C1687.09 1642.39 1688.64 1644.1 1689.93 1645.24 C1691.21 1646.38 1693.52 1648.09 1694.24 1648.66" stroke="#F9DCA4" stroke-width="1.19"/>
<path d="M1628.03 1440.59 C1627.33 1442.42 1625.07 1447.91 1623.85 1451.57 C1622.63 1455.23 1621.24 1460.72 1620.72 1462.54" stroke="#F9DCA4" stroke-width="1.2"/>
<path d="M1644.41 1363.37 C1643.62 1363.91 1641.59 1365.52 1639.7 1366.6 C1637.82 1367.67 1634.19 1369.29 1633.08 1369.82" stroke="#EDBD72" stroke-width="1.21"/>
<path d="M1721.63 1407.83 C1722.13 1409.31 1723.97 1413.74 1724.67 1416.69 C1725.37 1419.65 1725.64 1424.08 1725.83 1425.55" stroke="#EDBD72" stroke-width="1.21"/>
<path d="M1681.85 1510.79 C1682.21 1512.58 1683.6 1517.97 1684.04 1521.56 C1684.49 1525.15 1684.46 1530.53 1684.55 1532.32" stroke="#F9DCA4" stroke-width="1.22"/>
<path d="M1681.85 1510.79 C1680.48 1512.1 1676.26 1516.05 1673.65 1518.69 C1671.05 1521.32 1667.45 1525.27 1666.2 1526.59" stroke="#F4CD88" stroke-width="1.22"/>
<path d="M1637.39 1499.09 C1636.9 1500.14 1635.29 1503.29 1634.43 1505.39 C1633.58 1507.49 1632.61 1510.64 1632.25 1511.69" stroke="#F7D494" stroke-width="1.23"/>
<path d="M1721.63 1407.83 C1719.93 1409.61 1714.55 1414.96 1711.46 1418.52 C1708.37 1422.09 1704.48 1427.43 1703.08 1429.21" stroke="#F9DCA4" stroke-width="1.23"/>
<path d="M1726.31 1393.79 C1725.53 1396.13 1723.97 1405.1 1721.63 1407.83 C1719.29 1410.56 1713.83 1409.78 1712.27 1410.17" stroke="#EDBD72" stroke-width="1.47"/>
<path d="M1730.99 1412.51 C1730.6 1415.24 1729.43 1424.21 1728.65 1428.89 C1727.87 1433.57 1726.7 1438.64 1726.31 1440.59" stroke="#F9DCA4" stroke-width="1.47"/>
<path d="M1681.85 1616.08 C1683.41 1618.03 1690.43 1623.49 1691.21 1627.78 C1691.99 1632.07 1689.65 1638.7 1686.53 1641.82 C1683.41 1644.94 1674.83 1645.72 1672.49 1646.5" stroke="#F7D494" stroke-width="1.47"/>
<path d="M1730.99 1370.39 C1732.55 1370.39 1738.59 1369.61 1740.34 1370.39 C1742.1 1371.17 1741.32 1374.29 1741.51 1375.07" stroke="#F7D494" stroke-width="1.47"/>
<path d="M1661.96 1323.6 C1664.1 1323.6 1670.34 1322.82 1674.83 1323.6 C1679.31 1324.38 1684.58 1325.55 1688.87 1328.28 C1693.16 1331.01 1697.45 1335.3 1700.57 1339.98 C1703.69 1344.66 1705.64 1350.5 1707.59 1356.35 C1709.54 1362.2 1711.49 1371.95 1712.27 1375.07" stroke="#F2C67E" stroke-width="1.76"/>
<path d="M1693.55 1300.2 C1695.5 1301.37 1701.74 1304.1 1705.25 1307.22 C1708.76 1310.34 1711.88 1314.63 1714.61 1318.92 C1717.34 1323.21 1719.29 1327.5 1721.63 1332.96 C1723.97 1338.42 1725.92 1345.44 1728.65 1351.67 C1731.38 1357.91 1735.86 1363.37 1738 1370.39 C1740.15 1377.41 1740.93 1389.89 1741.51 1393.79" stroke="#EDBD72" stroke-width="1.76"/>
<path d="M1660.32 1342.32 C1658.84 1344.27 1654.08 1350.5 1651.43 1354.01 C1648.78 1357.52 1646.75 1360.25 1644.41 1363.37 C1642.07 1366.49 1640.9 1370 1637.39 1372.73 C1633.88 1375.46 1625.69 1378.58 1623.35 1379.75" stroke="#EAB468" stroke-width="1.76"/>
<path d="M1665.47 1375.07 C1667.81 1375.85 1675.61 1378.19 1679.51 1379.75 C1683.41 1381.31 1685.16 1383.65 1688.87 1384.43 C1692.57 1385.21 1699.59 1384.43 1701.74 1384.43" stroke="#EAB468" stroke-width="1.76"/>
<path d="M1688.87 1384.43 C1689.26 1386.77 1689.06 1396.13 1691.21 1398.47 C1693.35 1400.81 1699.98 1398.47 1701.74 1398.47" stroke="#EDBD72" stroke-width="1.76"/>
<path d="M1637.39 1534.19 C1635.83 1538.09 1631.54 1550.96 1628.03 1557.59 C1624.52 1564.22 1620.62 1570.07 1616.33 1573.97 C1612.04 1577.87 1606.58 1578.26 1602.29 1580.99 C1598 1583.72 1593.32 1588.59 1590.59 1590.34 C1587.86 1592.1 1586.69 1591.32 1585.91 1591.51" stroke="#F4CD88" stroke-width="1.76"/>
<path d="M1667.81 1487.39 C1670.15 1491.29 1677.95 1502.99 1681.85 1510.79 C1685.75 1518.59 1688.87 1526.39 1691.21 1534.19 C1693.55 1541.99 1695.11 1553.69 1695.89 1557.59" stroke="#F4CD88" stroke-width="1.76"/>
<path d="M1649.09 1412.51 C1647.14 1413.29 1641.68 1416.02 1637.39 1417.19 C1633.1 1418.36 1628.03 1417.97 1623.35 1419.53 C1618.67 1421.09 1613.6 1423.82 1609.31 1426.55 C1605.02 1429.28 1601.12 1433.18 1597.61 1435.91 C1594.1 1438.64 1589.81 1441.76 1588.25 1442.93" stroke="#EDBD72" stroke-width="2.05"/>
<path d="M1642.07 1428.89 C1639.73 1430.84 1632.71 1437.08 1628.03 1440.59 C1623.35 1444.1 1618.67 1447.22 1613.99 1449.95 C1609.31 1452.68 1604.63 1454.63 1599.95 1456.97 C1595.27 1459.31 1588.25 1462.82 1585.91 1463.99" stroke="#F9DCA4" stroke-width="2.05"/>
<path d="M1632.71 1433.57 C1631.54 1437.08 1627.25 1447.61 1625.69 1454.63 C1624.13 1461.65 1624.52 1468.28 1623.35 1475.69 C1622.18 1483.1 1620.23 1491.29 1618.67 1499.09 C1617.11 1506.89 1615.36 1515.47 1613.99 1522.49 C1612.63 1529.51 1611.07 1538.09 1610.48 1541.21" stroke="#F9DCA4" stroke-width="2.05"/>
<path d="M1646.75 1452.29 C1644.8 1454.24 1638.56 1459.7 1635.05 1463.99 C1631.54 1468.28 1629.2 1474.52 1625.69 1478.03 C1622.18 1481.54 1617.89 1483.88 1613.99 1485.05 C1610.09 1486.22 1604.63 1483.49 1602.29 1485.05 C1599.95 1486.61 1600.34 1492.85 1599.95 1494.41" stroke="#F4CD88" stroke-width="2.05"/>
<path d="M1652.6 1440.59 C1653.96 1444.49 1658.25 1456.19 1660.79 1463.99 C1663.32 1471.79 1665.86 1479.59 1667.81 1487.39 C1669.76 1495.19 1671.51 1502.99 1672.49 1510.79 C1673.46 1518.59 1673.66 1527.17 1673.66 1534.19 C1673.66 1541.21 1672.68 1549.79 1672.49 1552.91" stroke="#F4CD88" stroke-width="2.05"/>
<path d="M1644.41 1475.69 C1643.24 1479.59 1639.73 1491.29 1637.39 1499.09 C1635.05 1506.89 1632.71 1514.69 1630.37 1522.49 C1628.03 1530.29 1626.08 1539.26 1623.35 1545.89 C1620.62 1552.52 1616.33 1557.98 1613.99 1562.27 C1611.65 1566.56 1610.09 1570.07 1609.31 1571.63" stroke="#F7D494" stroke-width="2.05"/>
<path d="M1649.09 1545.89 C1651.04 1549.79 1656.89 1561.49 1660.79 1569.29 C1664.69 1577.09 1668.98 1584.89 1672.49 1592.68 C1676 1600.48 1679.9 1608.28 1681.85 1616.08 C1683.8 1623.88 1684.58 1632.46 1684.19 1639.48 C1683.8 1646.5 1681.46 1652.63 1679.51 1658.2 C1677.56 1663.78 1673.66 1670.49 1672.49 1672.94" stroke="#F9DCA4" stroke-width="2.05"/>
<path d="M1651.43 1592.68 C1649.87 1596.58 1645.19 1608.28 1642.07 1616.08 C1638.95 1623.88 1635.83 1632.46 1632.71 1639.48 C1629.59 1646.5 1626.08 1652.63 1623.35 1658.2 C1620.62 1663.78 1617.5 1670.49 1616.33 1672.94" stroke="#F4CD88" stroke-width="2.05"/>
<path d="M1660.79 1370.39 C1662.35 1373.51 1667.42 1382.09 1670.15 1389.11 C1672.88 1396.13 1674.83 1404.71 1677.17 1412.51 C1679.51 1420.31 1681.85 1428.11 1684.19 1435.91 C1686.53 1443.71 1688.87 1451.51 1691.21 1459.31 C1693.55 1467.11 1696.47 1474.91 1698.23 1482.71 C1699.98 1490.51 1701.35 1498.31 1701.74 1506.11 C1702.13 1513.91 1701.54 1522.1 1700.57 1529.51 C1699.59 1536.92 1697.25 1545.11 1695.89 1550.57 C1694.52 1556.03 1692.96 1560.32 1692.38 1562.27" stroke="#F7D494" stroke-width="2.35"/>
<path d="M1657.28 1240.53 C1657.67 1244.62 1658.84 1257.1 1659.62 1265.1 C1660.4 1273.09 1661.57 1279.53 1661.96 1288.5 C1662.35 1297.47 1662.23 1309.95 1661.96 1318.92 C1661.69 1327.89 1660.91 1335.3 1660.32 1342.32 C1659.74 1349.33 1659.15 1354.4 1658.45 1361.03 C1657.75 1367.66 1657.08 1374.68 1656.11 1382.09 C1655.13 1389.5 1653.77 1397.69 1652.6 1405.49 C1651.43 1413.29 1650.06 1421.09 1649.09 1428.89 C1648.11 1436.69 1647.53 1444.49 1646.75 1452.29 C1645.97 1460.09 1644.6 1467.89 1644.41 1475.69 C1644.21 1483.49 1644.99 1491.29 1645.58 1499.09 C1646.16 1506.89 1647.33 1514.69 1647.92 1522.49 C1648.5 1530.29 1648.7 1538.09 1649.09 1545.89 C1649.48 1553.69 1649.87 1561.49 1650.26 1569.29 C1650.65 1577.09 1651.62 1584.89 1651.43 1592.68 C1651.23 1600.48 1650.65 1608.28 1649.09 1616.08 C1647.53 1623.88 1644.02 1632.46 1642.07 1639.48 C1640.12 1646.5 1638.36 1652.63 1637.39 1658.2 C1636.41 1663.78 1636.41 1670.49 1636.22 1672.94" stroke="#EAB468" stroke-width="2.93"/>
<path d="M1660.79 1272.12 C1662.74 1272.51 1668.59 1272.12 1672.49 1274.46 C1676.39 1276.8 1680.68 1281.87 1684.19 1286.16 C1687.7 1290.45 1690.43 1295.13 1693.55 1300.2 C1696.67 1305.27 1699.79 1311.12 1702.91 1316.58 C1706.03 1322.04 1709.15 1327.11 1712.27 1332.96 C1715.39 1338.81 1718.51 1345.44 1721.63 1351.67 C1724.75 1357.91 1728.65 1364.15 1730.99 1370.39 C1733.33 1376.63 1734.11 1382.87 1735.67 1389.11 C1737.22 1395.35 1738.98 1401.2 1740.34 1407.83 C1741.71 1414.46 1742.68 1421.87 1743.85 1428.89 C1745.02 1435.91 1746 1443.32 1747.36 1449.95 C1748.73 1456.58 1750.99 1464.38 1752.04 1468.67 C1753.1 1472.96 1753.41 1474.52 1753.68 1475.69" stroke="#EDBD72" stroke-width="2.93"/>
<circle cx="1667.41" cy="1272.89" r="1.5" fill="#F2BC7A" stroke="none"/>
<circle cx="1660.39" cy="1318.52" r="1.5" fill="#F2BC7A" stroke="none"/>
<circle cx="1666.24" cy="1375.84" r="1.5" fill="#F2BC7A" stroke="none"/>
<circle cx="1679.11" cy="1379.35" r="1.5" fill="#F2BC7A" stroke="none"/>
<circle cx="1714.21" cy="1344.26" r="1.5" fill="#F2BC7A" stroke="none"/>
<circle cx="1651.03" cy="1423.81" r="1.5" fill="#F2BC7A" stroke="none"/>
<circle cx="1649.86" cy="1430.83" r="1.5" fill="#F2BC7A" stroke="none"/>
<circle cx="1634.65" cy="1421.47" r="1.5" fill="#F2BC7A" stroke="none"/>
<circle cx="1632.31" cy="1475.29" r="1.5" fill="#F2BC7A" stroke="none"/>
<circle cx="1656.88" cy="1475.29" r="1.5" fill="#F2BC7A" stroke="none"/>
<circle cx="1641.67" cy="1444.87" r="1.5" fill="#F2BC7A" stroke="none"/>
<circle cx="1652.2" cy="1451.89" r="1.5" fill="#F2BC7A" stroke="none"/>
<circle cx="1662.73" cy="1491.67" r="1.5" fill="#F2BC7A" stroke="none"/>
<circle cx="1665.07" cy="1503.37" r="1.5" fill="#F2BC7A" stroke="none"/>
<circle cx="1672.09" cy="1526.77" r="1.5" fill="#F2BC7A" stroke="none"/>
</g>
<rect x="1738.24" y="1618.89" width="3.98" height="39.08" fill="#fff"  />
<text x="1102" y="1707.92" font-size="21.8" text-anchor="middle">EV1</text>
<text x="1290.1" y="1707.92" font-size="21.8" text-anchor="middle"><tspan font-style="italic">35S:GmRR11d</tspan></text>
<text x="1476.7" y="1707.92" font-size="21.8" text-anchor="middle">EV1</text>
<text x="1661.8" y="1707.92" font-size="21.8" text-anchor="middle"><tspan font-style="italic">35S:GmRR11d</tspan></text>
<line x1="1012.8" y1="1732.3" x2="1378" y2="1732.3" stroke="#000" stroke-width="4.2" />
<line x1="1387.5" y1="1732.3" x2="1752.3" y2="1732.3" stroke="#000" stroke-width="4.2" />
<text x="1200.4" y="1769.02" font-size="21.8" text-anchor="middle">Bragg</text>
<text x="1571.6" y="1769.02" font-size="21.8" text-anchor="middle"><tspan font-style="italic">nts1007</tspan></text>
<text x="0" y="1981" font-size="23" font-weight="bold">h</text>
<line x1="193.2" y1="2460.25" x2="193.2" y2="2451.86" stroke="#000" stroke-width="1.8" />
<line x1="190" y1="2451.86" x2="196.4" y2="2451.86" stroke="#000" stroke-width="1.8" />
<rect x="185.6" y="2460.85" width="15.2" height="34.05" fill="#D4D4D4" stroke="#000" stroke-width="2.1" />
<circle cx="193.2" cy="2451.86" r="2.3" fill="#000" stroke="#000" stroke-width="1.7"/>
<circle cx="193.2" cy="2459.69" r="2.3" fill="#000" stroke="#000" stroke-width="1.7"/>
<circle cx="193.2" cy="2467.23" r="2.3" fill="none" stroke="#000" stroke-width="1.7"/>
<line x1="211.8" y1="2329.76" x2="211.8" y2="2269.4" stroke="#000" stroke-width="1.8" />
<line x1="208.6" y1="2269.4" x2="215" y2="2269.4" stroke="#000" stroke-width="1.8" />
<rect x="204.2" y="2330.36" width="15.2" height="164.54" fill="#FDA3A3" stroke="#000" stroke-width="2.1" />
<circle cx="211.8" cy="2265.21" r="2.3" fill="none" stroke="#000" stroke-width="1.7"/>
<circle cx="211.8" cy="2340.93" r="2.3" fill="none" stroke="#000" stroke-width="1.7"/>
<circle cx="211.8" cy="2382.01" r="2.3" fill="none" stroke="#000" stroke-width="1.7"/>
<line x1="230" y1="2446.28" x2="230" y2="2437.89" stroke="#000" stroke-width="1.8" />
<line x1="226.8" y1="2437.89" x2="233.2" y2="2437.89" stroke="#000" stroke-width="1.8" />
<rect x="222.4" y="2446.88" width="15.2" height="48.02" fill="#333333" stroke="#000" stroke-width="2.1" />
<circle cx="230" cy="2437.33" r="2.3" fill="#000" stroke="#000" stroke-width="1.7"/>
<circle cx="230" cy="2445.44" r="2.3" fill="#000" stroke="#000" stroke-width="1.7"/>
<circle cx="230" cy="2453.82" r="2.3" fill="none" stroke="#000" stroke-width="1.7"/>
<line x1="248.4" y1="2121.02" x2="248.4" y2="2113.76" stroke="#000" stroke-width="1.8" />
<line x1="245.2" y1="2113.76" x2="251.6" y2="2113.76" stroke="#000" stroke-width="1.8" />
<rect x="240.8" y="2121.62" width="15.2" height="373.28" fill="#FF0000" stroke="#000" stroke-width="2.1" />
<circle cx="248.4" cy="2112.92" r="2.3" fill="#000" stroke="#000" stroke-width="1.7"/>
<circle cx="248.4" cy="2120.75" r="2.3" fill="#000" stroke="#000" stroke-width="1.7"/>
<circle cx="248.4" cy="2128.57" r="2.3" fill="none" stroke="#000" stroke-width="1.7"/>
<line x1="220.2" y1="2494.9" x2="220.2" y2="2512.5" stroke="#000" stroke-width="2.1" />
<line x1="282.82" y1="2460.25" x2="282.82" y2="2439.85" stroke="#000" stroke-width="1.8" />
<line x1="279.62" y1="2439.85" x2="286.02" y2="2439.85" stroke="#000" stroke-width="1.8" />
<rect x="275.22" y="2460.85" width="15.2" height="34.05" fill="#D4D4D4" stroke="#000" stroke-width="2.1" />
<circle cx="282.82" cy="2439.85" r="2.3" fill="#000" stroke="#000" stroke-width="1.7"/>
<circle cx="282.82" cy="2459.69" r="2.3" fill="#000" stroke="#000" stroke-width="1.7"/>
<circle cx="282.82" cy="2479.25" r="2.3" fill="none" stroke="#000" stroke-width="1.7"/>
<line x1="301.42" y1="2452.98" x2="301.42" y2="2428.95" stroke="#000" stroke-width="1.8" />
<line x1="298.22" y1="2428.95" x2="304.62" y2="2428.95" stroke="#000" stroke-width="1.8" />
<rect x="293.82" y="2453.58" width="15.2" height="41.32" fill="#FDA3A3" stroke="#000" stroke-width="2.1" />
<circle cx="301.42" cy="2428.95" r="2.3" fill="#000" stroke="#000" stroke-width="1.7"/>
<circle cx="301.42" cy="2452.42" r="2.3" fill="#000" stroke="#000" stroke-width="1.7"/>
<circle cx="301.42" cy="2475.61" r="2.3" fill="none" stroke="#000" stroke-width="1.7"/>
<line x1="319.62" y1="2459.69" x2="319.62" y2="2458.85" stroke="#000" stroke-width="1.8" />
<line x1="316.42" y1="2458.85" x2="322.82" y2="2458.85" stroke="#000" stroke-width="1.8" />
<rect x="312.02" y="2460.29" width="15.2" height="34.61" fill="#333333" stroke="#000" stroke-width="2.1" />
<circle cx="313.47" cy="2459.69" r="2.3" fill="#000" stroke="#000" stroke-width="1.7"/>
<circle cx="319.62" cy="2458.85" r="2.3" fill="#000" stroke="#000" stroke-width="1.7"/>
<circle cx="325.77" cy="2459.69" r="2.3" fill="none" stroke="#000" stroke-width="1.7"/>
<line x1="338.02" y1="2441.25" x2="338.02" y2="2427.55" stroke="#000" stroke-width="1.8" />
<line x1="334.82" y1="2427.55" x2="341.22" y2="2427.55" stroke="#000" stroke-width="1.8" />
<rect x="330.42" y="2441.85" width="15.2" height="53.05" fill="#FF0000" stroke="#000" stroke-width="2.1" />
<circle cx="338.02" cy="2427.55" r="2.3" fill="#000" stroke="#000" stroke-width="1.7"/>
<circle cx="338.02" cy="2441.25" r="2.3" fill="#000" stroke="#000" stroke-width="1.7"/>
<circle cx="338.02" cy="2454.1" r="2.3" fill="none" stroke="#000" stroke-width="1.7"/>
<line x1="309.82" y1="2494.9" x2="309.82" y2="2512.5" stroke="#000" stroke-width="2.1" />
<line x1="372.44" y1="2460.25" x2="372.44" y2="2439.29" stroke="#000" stroke-width="1.8" />
<line x1="369.24" y1="2439.29" x2="375.64" y2="2439.29" stroke="#000" stroke-width="1.8" />
<rect x="364.84" y="2460.85" width="15.2" height="34.05" fill="#D4D4D4" stroke="#000" stroke-width="2.1" />
<circle cx="372.44" cy="2439.29" r="2.3" fill="#000" stroke="#000" stroke-width="1.7"/>
<circle cx="372.44" cy="2459.69" r="2.3" fill="#000" stroke="#000" stroke-width="1.7"/>
<circle cx="372.44" cy="2479.53" r="2.3" fill="none" stroke="#000" stroke-width="1.7"/>
<line x1="391.04" y1="2470.03" x2="391.04" y2="2450.47" stroke="#000" stroke-width="1.8" />
<line x1="387.84" y1="2450.47" x2="394.24" y2="2450.47" stroke="#000" stroke-width="1.8" />
<rect x="383.44" y="2470.63" width="15.2" height="24.27" fill="#FDA3A3" stroke="#000" stroke-width="2.1" />
<circle cx="391.04" cy="2450.47" r="2.3" fill="#000" stroke="#000" stroke-width="1.7"/>
<circle cx="391.04" cy="2470.03" r="2.3" fill="#000" stroke="#000" stroke-width="1.7"/>
<circle cx="391.04" cy="2487.63" r="2.3" fill="none" stroke="#000" stroke-width="1.7"/>
<line x1="409.24" y1="2472.82" x2="409.24" y2="2456.05" stroke="#000" stroke-width="1.8" />
<line x1="406.04" y1="2456.05" x2="412.44" y2="2456.05" stroke="#000" stroke-width="1.8" />
<rect x="401.64" y="2473.42" width="15.2" height="21.48" fill="#333333" stroke="#000" stroke-width="2.1" />
<circle cx="409.24" cy="2456.05" r="2.3" fill="#000" stroke="#000" stroke-width="1.7"/>
<circle cx="409.24" cy="2472.82" r="2.3" fill="#000" stroke="#000" stroke-width="1.7"/>
<circle cx="409.24" cy="2488.19" r="2.3" fill="none" stroke="#000" stroke-width="1.7"/>
<line x1="427.64" y1="2452.42" x2="427.64" y2="2420.29" stroke="#000" stroke-width="1.8" />
<line x1="424.44" y1="2420.29" x2="430.84" y2="2420.29" stroke="#000" stroke-width="1.8" />
<rect x="420.04" y="2453.02" width="15.2" height="41.88" fill="#FF0000" stroke="#000" stroke-width="2.1" />
<circle cx="427.64" cy="2420.29" r="2.3" fill="#000" stroke="#000" stroke-width="1.7"/>
<circle cx="427.64" cy="2451.86" r="2.3" fill="#000" stroke="#000" stroke-width="1.7"/>
<circle cx="427.64" cy="2482.6" r="2.3" fill="none" stroke="#000" stroke-width="1.7"/>
<line x1="399.44" y1="2494.9" x2="399.44" y2="2512.5" stroke="#000" stroke-width="2.1" />
<line x1="462.06" y1="2460.25" x2="462.06" y2="2444.88" stroke="#000" stroke-width="1.8" />
<line x1="458.86" y1="2444.88" x2="465.26" y2="2444.88" stroke="#000" stroke-width="1.8" />
<rect x="454.46" y="2460.85" width="15.2" height="34.05" fill="#D4D4D4" stroke="#000" stroke-width="2.1" />
<circle cx="462.06" cy="2444.88" r="2.3" fill="#000" stroke="#000" stroke-width="1.7"/>
<circle cx="462.06" cy="2459.69" r="2.3" fill="#000" stroke="#000" stroke-width="1.7"/>
<circle cx="462.06" cy="2474.22" r="2.3" fill="none" stroke="#000" stroke-width="1.7"/>
<line x1="480.66" y1="2479.25" x2="480.66" y2="2472.82" stroke="#000" stroke-width="1.8" />
<line x1="477.46" y1="2472.82" x2="483.86" y2="2472.82" stroke="#000" stroke-width="1.8" />
<rect x="473.06" y="2479.85" width="15.2" height="15.05" fill="#FDA3A3" stroke="#000" stroke-width="2.1" />
<circle cx="474.51" cy="2481.2" r="2.3" fill="none" stroke="#000" stroke-width="1.7"/>
<circle cx="480.66" cy="2472.82" r="2.3" fill="#000" stroke="#000" stroke-width="1.7"/>
<circle cx="486.81" cy="2477.01" r="2.3" fill="none" stroke="#000" stroke-width="1.7"/>
<line x1="498.86" y1="2465" x2="498.86" y2="2464.44" stroke="#000" stroke-width="1.8" />
<line x1="495.66" y1="2464.44" x2="502.06" y2="2464.44" stroke="#000" stroke-width="1.8" />
<rect x="491.26" y="2465.6" width="15.2" height="29.3" fill="#333333" stroke="#000" stroke-width="2.1" />
<circle cx="492.71" cy="2465" r="2.3" fill="none" stroke="#000" stroke-width="1.7"/>
<circle cx="498.86" cy="2465" r="2.3" fill="none" stroke="#000" stroke-width="1.7"/>
<circle cx="505.01" cy="2465" r="2.3" fill="none" stroke="#000" stroke-width="1.7"/>
<line x1="517.26" y1="2461.64" x2="517.26" y2="2459.69" stroke="#000" stroke-width="1.8" />
<line x1="514.06" y1="2459.69" x2="520.46" y2="2459.69" stroke="#000" stroke-width="1.8" />
<rect x="509.66" y="2462.24" width="15.2" height="32.66" fill="#FF0000" stroke="#000" stroke-width="2.1" />
<circle cx="511.11" cy="2459.41" r="2.3" fill="none" stroke="#000" stroke-width="1.7"/>
<circle cx="517.26" cy="2459.41" r="2.3" fill="none" stroke="#000" stroke-width="1.7"/>
<circle cx="523.41" cy="2459.41" r="2.3" fill="none" stroke="#000" stroke-width="1.7"/>
<line x1="489.06" y1="2494.9" x2="489.06" y2="2512.5" stroke="#000" stroke-width="2.1" />
<line x1="551.68" y1="2460.25" x2="551.68" y2="2442.08" stroke="#000" stroke-width="1.8" />
<line x1="548.48" y1="2442.08" x2="554.88" y2="2442.08" stroke="#000" stroke-width="1.8" />
<rect x="544.08" y="2460.85" width="15.2" height="34.05" fill="#D4D4D4" stroke="#000" stroke-width="2.1" />
<circle cx="551.68" cy="2442.08" r="2.3" fill="#000" stroke="#000" stroke-width="1.7"/>
<circle cx="551.68" cy="2459.69" r="2.3" fill="#000" stroke="#000" stroke-width="1.7"/>
<circle cx="551.68" cy="2476.45" r="2.3" fill="none" stroke="#000" stroke-width="1.7"/>
<line x1="570.28" y1="2447.95" x2="570.28" y2="2423.36" stroke="#000" stroke-width="1.8" />
<line x1="567.08" y1="2423.36" x2="573.48" y2="2423.36" stroke="#000" stroke-width="1.8" />
<rect x="562.68" y="2448.55" width="15.2" height="46.35" fill="#FDA3A3" stroke="#000" stroke-width="2.1" />
<circle cx="570.28" cy="2422.52" r="2.3" fill="none" stroke="#000" stroke-width="1.7"/>
<circle cx="570.28" cy="2447.67" r="2.3" fill="none" stroke="#000" stroke-width="1.7"/>
<circle cx="570.28" cy="2467.79" r="2.3" fill="none" stroke="#000" stroke-width="1.7"/>
<line x1="588.48" y1="2474.22" x2="588.48" y2="2471.42" stroke="#000" stroke-width="1.8" />
<line x1="585.28" y1="2471.42" x2="591.68" y2="2471.42" stroke="#000" stroke-width="1.8" />
<rect x="580.88" y="2474.82" width="15.2" height="20.08" fill="#333333" stroke="#000" stroke-width="2.1" />
<circle cx="582.33" cy="2474.22" r="2.3" fill="#000" stroke="#000" stroke-width="1.7"/>
<circle cx="588.48" cy="2470.59" r="2.3" fill="#000" stroke="#000" stroke-width="1.7"/>
<circle cx="594.63" cy="2472.26" r="2.3" fill="none" stroke="#000" stroke-width="1.7"/>
<line x1="606.88" y1="2475.61" x2="606.88" y2="2472.82" stroke="#000" stroke-width="1.8" />
<line x1="603.68" y1="2472.82" x2="610.08" y2="2472.82" stroke="#000" stroke-width="1.8" />
<rect x="599.28" y="2476.21" width="15.2" height="18.69" fill="#FF0000" stroke="#000" stroke-width="2.1" />
<circle cx="600.73" cy="2475.06" r="2.3" fill="#000" stroke="#000" stroke-width="1.7"/>
<circle cx="606.88" cy="2471.98" r="2.3" fill="#000" stroke="#000" stroke-width="1.7"/>
<circle cx="613.03" cy="2473.66" r="2.3" fill="none" stroke="#000" stroke-width="1.7"/>
<line x1="578.68" y1="2494.9" x2="578.68" y2="2512.5" stroke="#000" stroke-width="2.1" />
<line x1="641.3" y1="2460.25" x2="641.3" y2="2454.66" stroke="#000" stroke-width="1.8" />
<line x1="638.1" y1="2454.66" x2="644.5" y2="2454.66" stroke="#000" stroke-width="1.8" />
<rect x="633.7" y="2460.85" width="15.2" height="34.05" fill="#D4D4D4" stroke="#000" stroke-width="2.1" />
<circle cx="641.3" cy="2454.1" r="2.3" fill="#000" stroke="#000" stroke-width="1.7"/>
<circle cx="641.3" cy="2459.69" r="2.3" fill="#000" stroke="#000" stroke-width="1.7"/>
<circle cx="641.3" cy="2464.44" r="2.3" fill="none" stroke="#000" stroke-width="1.7"/>
<line x1="659.9" y1="2476.17" x2="659.9" y2="2468.63" stroke="#000" stroke-width="1.8" />
<line x1="656.7" y1="2468.63" x2="663.1" y2="2468.63" stroke="#000" stroke-width="1.8" />
<rect x="652.3" y="2476.77" width="15.2" height="18.13" fill="#FDA3A3" stroke="#000" stroke-width="2.1" />
<circle cx="659.9" cy="2468.63" r="2.3" fill="#000" stroke="#000" stroke-width="1.7"/>
<circle cx="659.9" cy="2475.61" r="2.3" fill="#000" stroke="#000" stroke-width="1.7"/>
<circle cx="659.9" cy="2481.2" r="2.3" fill="none" stroke="#000" stroke-width="1.7"/>
<line x1="678.1" y1="2469.19" x2="678.1" y2="2464.44" stroke="#000" stroke-width="1.8" />
<line x1="674.9" y1="2464.44" x2="681.3" y2="2464.44" stroke="#000" stroke-width="1.8" />
<rect x="670.5" y="2469.79" width="15.2" height="25.11" fill="#333333" stroke="#000" stroke-width="2.1" />
<circle cx="678.1" cy="2464.44" r="2.3" fill="none" stroke="#000" stroke-width="1.7"/>
<circle cx="678.1" cy="2472.82" r="2.3" fill="none" stroke="#000" stroke-width="1.7"/>
<circle cx="684.25" cy="2464.44" r="2.3" fill="none" stroke="#000" stroke-width="1.7"/>
<line x1="696.5" y1="2442.64" x2="696.5" y2="2437.89" stroke="#000" stroke-width="1.8" />
<line x1="693.3" y1="2437.89" x2="699.7" y2="2437.89" stroke="#000" stroke-width="1.8" />
<rect x="688.9" y="2443.24" width="15.2" height="51.66" fill="#FF0000" stroke="#000" stroke-width="2.1" />
<circle cx="690.35" cy="2446.28" r="2.3" fill="none" stroke="#000" stroke-width="1.7"/>
<circle cx="696.5" cy="2437.89" r="2.3" fill="#000" stroke="#000" stroke-width="1.7"/>
<circle cx="702.65" cy="2442.08" r="2.3" fill="none" stroke="#000" stroke-width="1.7"/>
<line x1="668.3" y1="2494.9" x2="668.3" y2="2512.5" stroke="#000" stroke-width="2.1" />
<line x1="730.92" y1="2460.25" x2="730.92" y2="2456.05" stroke="#000" stroke-width="1.8" />
<line x1="727.72" y1="2456.05" x2="734.12" y2="2456.05" stroke="#000" stroke-width="1.8" />
<rect x="723.32" y="2460.85" width="15.2" height="34.05" fill="#D4D4D4" stroke="#000" stroke-width="2.1" />
<circle cx="724.77" cy="2454.66" r="2.3" fill="none" stroke="#000" stroke-width="1.7"/>
<circle cx="730.92" cy="2464.44" r="2.3" fill="none" stroke="#000" stroke-width="1.7"/>
<circle cx="737.07" cy="2459.69" r="2.3" fill="none" stroke="#000" stroke-width="1.7"/>
<line x1="749.52" y1="2477.57" x2="749.52" y2="2475.06" stroke="#000" stroke-width="1.8" />
<line x1="746.32" y1="2475.06" x2="752.72" y2="2475.06" stroke="#000" stroke-width="1.8" />
<rect x="741.92" y="2478.17" width="15.2" height="16.73" fill="#FDA3A3" stroke="#000" stroke-width="2.1" />
<circle cx="743.37" cy="2476.17" r="2.3" fill="#000" stroke="#000" stroke-width="1.7"/>
<circle cx="749.52" cy="2474.78" r="2.3" fill="#000" stroke="#000" stroke-width="1.7"/>
<circle cx="755.67" cy="2475.61" r="2.3" fill="none" stroke="#000" stroke-width="1.7"/>
<line x1="767.72" y1="2478.41" x2="767.72" y2="2476.17" stroke="#000" stroke-width="1.8" />
<line x1="764.52" y1="2476.17" x2="770.92" y2="2476.17" stroke="#000" stroke-width="1.8" />
<rect x="760.12" y="2479.01" width="15.2" height="15.89" fill="#333333" stroke="#000" stroke-width="2.1" />
<circle cx="761.57" cy="2477.01" r="2.3" fill="none" stroke="#000" stroke-width="1.7"/>
<circle cx="767.72" cy="2477.01" r="2.3" fill="none" stroke="#000" stroke-width="1.7"/>
<circle cx="773.87" cy="2477.01" r="2.3" fill="none" stroke="#000" stroke-width="1.7"/>
<line x1="786.12" y1="2477.85" x2="786.12" y2="2475.06" stroke="#000" stroke-width="1.8" />
<line x1="782.92" y1="2475.06" x2="789.32" y2="2475.06" stroke="#000" stroke-width="1.8" />
<rect x="778.52" y="2478.45" width="15.2" height="16.45" fill="#FF0000" stroke="#000" stroke-width="2.1" />
<circle cx="779.97" cy="2476.17" r="2.3" fill="none" stroke="#000" stroke-width="1.7"/>
<circle cx="786.12" cy="2474.78" r="2.3" fill="#000" stroke="#000" stroke-width="1.7"/>
<circle cx="792.27" cy="2475.61" r="2.3" fill="none" stroke="#000" stroke-width="1.7"/>
<line x1="757.92" y1="2494.9" x2="757.92" y2="2512.5" stroke="#000" stroke-width="2.1" />
<rect x="176.9" y="1960.6" width="624.4" height="534.3" fill="none" stroke="#000" stroke-width="2.1" />
<line x1="159.3" y1="1960.6" x2="176.9" y2="1960.6" stroke="#000" stroke-width="2.1" />
<text x="154.5" y="1971.29" font-size="31" text-anchor="end">15</text>
<line x1="159.3" y1="2138.7" x2="176.9" y2="2138.7" stroke="#000" stroke-width="2.1" />
<text x="154.5" y="2149.39" font-size="31" text-anchor="end">10</text>
<line x1="159.3" y1="2316.8" x2="176.9" y2="2316.8" stroke="#000" stroke-width="2.1" />
<text x="154.5" y="2327.5" font-size="31" text-anchor="end">5</text>
<line x1="159.3" y1="2494.9" x2="176.9" y2="2494.9" stroke="#000" stroke-width="2.1" />
<text x="154.5" y="2505.6" font-size="31" text-anchor="end">0</text>
<text x="220.2" y="2539.75" font-size="21.6" text-anchor="middle">A</text>
<text x="309.82" y="2539.75" font-size="21.6" text-anchor="middle">B</text>
<text x="399.44" y="2539.75" font-size="21.6" text-anchor="middle">C</text>
<text x="489.06" y="2539.75" font-size="21.6" text-anchor="middle">D</text>
<text x="578.68" y="2539.75" font-size="21.6" text-anchor="middle">E</text>
<text x="668.3" y="2539.75" font-size="21.6" text-anchor="middle">F</text>
<text x="757.92" y="2539.75" font-size="21.6" text-anchor="middle">G</text>
<text font-size="21.7" text-anchor="middle" textLength="260" lengthAdjust="spacing" transform="translate(99.5 2229.7) rotate(-90)">Relative enrichment fold</text>
<text x="192.8" y="2441.77" font-size="22" text-anchor="middle">c</text>
<text x="227.73" y="2426.12" font-size="22" text-anchor="middle">c</text>
<text x="244.78" y="2100.03" font-size="22" text-anchor="middle">a</text>
<text x="211.8" y="2253.52" font-size="22" text-anchor="middle">b</text>
<rect x="338.4" y="1998.7" width="46.34" height="4.9" fill="#D4D4D4" stroke="#000" stroke-width="2.2" />
<rect x="338.4" y="2028.88" width="46.34" height="4.9" fill="#FDA3A3" stroke="#000" stroke-width="2.2" />
<rect x="338.4" y="2059.06" width="46.34" height="4.9" fill="#333333" stroke="#000" stroke-width="2.2" />
<rect x="338.4" y="2111.87" width="46.34" height="4.9" fill="#FF0000" stroke="#000" stroke-width="2.2" />
<text x="413.41" y="2009.48" font-size="21.7" textLength="43.87" lengthAdjust="spacing">EV1</text>
<text x="413.41" y="2038.82" font-size="21.7" textLength="220.75" lengthAdjust="spacing"><tspan font-style="italic">35S:GmRR11d-FLAG</tspan></text>
<text x="413.41" y="2070.11" font-size="21.7" textLength="190.57" lengthAdjust="spacing">10<tspan font-size="14.5" dy="-8.5">-7</tspan><tspan dy="8.5"> M BAP + EV1</tspan></text>
<text x="413.41" y="2107.83" font-size="21.7" textLength="140.83" lengthAdjust="spacing">10<tspan font-size="14.5" dy="-8.5">-7</tspan><tspan dy="8.5"> M BAP +</tspan></text>
<text x="413.41" y="2136.06" font-size="21.7" textLength="220.75" lengthAdjust="spacing"><tspan font-style="italic">35S:GmRR11d-FLAG</tspan></text>
<text x="821.3" y="1892.3" font-size="22" font-weight="bold">i</text>
<rect x="834.3" y="1908.4" width="477.5" height="630.9" fill="none" stroke="#7F7F7F" stroke-width="1.1" />
<rect x="1320.4" y="1908.4" width="477.5" height="630.9" fill="none" stroke="#7F7F7F" stroke-width="1.1" />
<g id="plant">
<path d="M1090.44 2153.21 C1090.44 2160.02 1090.07 2182 1090.44 2194.04 C1090.8 2206.08 1091.96 2214.98 1092.64 2225.44 C1093.32 2235.91 1095.15 2246.38 1094.52 2256.85 C1093.89 2267.32 1090.23 2280.92 1088.87 2288.25 C1087.51 2295.58 1085.99 2292.96 1086.35 2300.81 C1086.72 2308.66 1090.38 2324.89 1091.07 2335.36 C1091.75 2345.83 1090.75 2355.25 1090.44 2363.62 C1090.12 2372 1089.39 2381.94 1089.18 2385.6" stroke="#A47C54" stroke-width="4.08" fill="none" stroke-linecap="round" stroke-linejoin="round"/>
<path d="M1090.44 2219.16 C1087.14 2220.21 1077.61 2222.83 1070.65 2225.44 C1063.69 2228.06 1055.47 2232.77 1048.67 2234.86 C1041.87 2236.96 1034.54 2237.48 1029.83 2238 C1025.12 2238.53 1021.98 2238 1020.41 2238" stroke="#A47C54" stroke-width="2.51" fill="none" stroke-linecap="round" stroke-linejoin="round"/>
<path d="M1051.81 2234.24 C1048.67 2237.48 1038.99 2249.94 1032.97 2253.71 C1026.95 2257.48 1018.57 2256.32 1015.7 2256.85" stroke="#A47C54" stroke-width="2.2" fill="none" stroke-linecap="round" stroke-linejoin="round"/>
<path d="M1064.37 2228.58 C1061.75 2232.77 1053.38 2247.43 1048.67 2253.71 C1043.96 2259.99 1040.03 2263.55 1036.11 2266.27 C1032.18 2268.99 1026.95 2269.41 1025.12 2270.04" stroke="#A47C54" stroke-width="2.2" fill="none" stroke-linecap="round" stroke-linejoin="round"/>
<path d="M1076.93 2223.87 C1074.32 2228.32 1065.94 2243.5 1061.23 2250.57 C1056.52 2257.63 1052.07 2262.34 1048.67 2266.27 C1045.27 2270.19 1042.13 2272.81 1040.82 2274.12" stroke="#A47C54" stroke-width="2.2" fill="none" stroke-linecap="round" stroke-linejoin="round"/>
<path d="M1092.01 2197.18 C1094.73 2198.75 1103 2205.55 1108.34 2206.6 C1113.68 2207.65 1118.81 2202.83 1124.04 2203.46 C1129.27 2204.09 1137.12 2209.22 1139.74 2210.37" stroke="#A47C54" stroke-width="2.51" fill="none" stroke-linecap="round" stroke-linejoin="round"/>
<path d="M1097.35 2201.89 C1098.65 2205.29 1100.75 2215.76 1105.2 2222.3 C1109.65 2228.85 1117.76 2235.39 1124.04 2241.15 C1130.32 2246.9 1137.12 2250.83 1142.88 2256.85 C1148.64 2262.87 1155.97 2273.86 1158.58 2277.26" stroke="#A47C54" stroke-width="2.51" fill="none" stroke-linecap="round" stroke-linejoin="round"/>
<path d="M1109.91 2207.23 C1112.79 2209.22 1120.64 2214.56 1127.18 2219.16 C1133.72 2223.77 1143.14 2229.37 1149.16 2234.86 C1155.18 2240.36 1160.94 2249.26 1163.29 2252.14" stroke="#A47C54" stroke-width="2.2" fill="none" stroke-linecap="round" stroke-linejoin="round"/>
<path d="M1142.88 2238 C1144.45 2241.15 1148.9 2252.14 1152.3 2256.85 C1155.71 2261.56 1161.46 2264.7 1163.29 2266.27" stroke="#A47C54" stroke-width="1.88" fill="none" stroke-linecap="round" stroke-linejoin="round"/>
<path d="M1094.21 2234.86 C1096.56 2235.39 1103.37 2235.81 1108.34 2238 C1113.31 2240.2 1121.42 2246.38 1124.04 2248.05" stroke="#A47C54" stroke-width="2.2" fill="none" stroke-linecap="round" stroke-linejoin="round"/>
<path d="M1092.64 2269.41 C1095.25 2268.89 1103.1 2265.75 1108.34 2266.27 C1113.57 2266.79 1121.42 2271.5 1124.04 2272.55" stroke="#A47C54" stroke-width="2.2" fill="none" stroke-linecap="round" stroke-linejoin="round"/>
<path d="M1108.34 2267.84 C1110.43 2270.72 1116.71 2278.57 1120.9 2285.11 C1125.09 2291.65 1131.37 2303.43 1133.46 2307.09" stroke="#A47C54" stroke-width="2.2" fill="none" stroke-linecap="round" stroke-linejoin="round"/>
<path d="M1111.48 2272.55 C1112 2275.17 1113.83 2284.59 1114.62 2288.25 C1115.4 2291.92 1115.93 2293.49 1116.19 2294.53" stroke="#A47C54" stroke-width="1.88" fill="none" stroke-linecap="round" stroke-linejoin="round"/>
<path d="M1088.55 2278.83 L1080.7 2282.6" stroke="#A47C54" stroke-width="2.2" fill="none" stroke-linecap="round" stroke-linejoin="round"/>
<path d="M1072.22 2314.94 L1061.23 2325.94" stroke="#A47C54" stroke-width="1.88" fill="none" stroke-linecap="round" stroke-linejoin="round"/>
<path d="M1088.87 2332.22 L1077.56 2338.5" stroke="#A47C54" stroke-width="1.88" fill="none" stroke-linecap="round" stroke-linejoin="round"/>
<path d="M1090.27 2154.9 C1090.21 2149.87 1089.35 2134.48 1089.9 2124.73 C1090.46 2114.98 1092.26 2105.64 1093.6 2096.4 C1094.93 2087.17 1096.67 2076.9 1097.91 2069.31 C1099.14 2061.72 1100.1 2058.02 1100.99 2050.84 C1101.87 2043.65 1102.59 2034.42 1103.2 2026.21 C1103.82 2018 1104.23 2007.84 1104.68 2001.58 C1105.13 1995.32 1105.71 1990.8 1105.91 1988.65" stroke="#5F9A35" stroke-width="6.4" fill="none" stroke-linecap="round" stroke-linejoin="round"/>
<path d="M1108.37 1987.41 C1108.48 1988.54 1108.58 1992.85 1108.99 1994.19 C1109.4 1995.52 1110.53 1995.21 1110.84 1995.42" stroke="#5F9A35" stroke-width="4.19" fill="none" stroke-linecap="round" stroke-linejoin="round"/>
<path d="M1110.84 1989.26 C1111.21 1987.62 1112.34 1982.49 1113.05 1979.41 C1113.77 1976.33 1114.8 1972.22 1115.15 1970.79" stroke="#5F9A35" stroke-width="1.6" fill="none" stroke-linecap="round" stroke-linejoin="round"/>
<path d="M1099.14 2052.07 C1096.98 2048.99 1090.62 2039.55 1086.21 2033.6 C1081.79 2027.64 1076.56 2020.56 1072.66 2016.35 C1068.76 2012.15 1064.45 2009.68 1062.81 2008.35" stroke="#5F9A35" stroke-width="3.82" fill="none" stroke-linecap="round" stroke-linejoin="round"/>
<path d="M1072.66 2016.97 L1066.5 2020.05" stroke="#5F9A35" stroke-width="2.96" fill="none" stroke-linecap="round" stroke-linejoin="round"/>
<path d="M1104.06 2047.39 C1106.01 2046.01 1111.76 2041.85 1115.76 2039.14 C1119.77 2036.43 1126.03 2032.47 1128.08 2031.13" stroke="#5F9A35" stroke-width="3.82" fill="none" stroke-linecap="round" stroke-linejoin="round"/>
<path d="M1128.08 2031.13 L1128.08 2026.21" stroke="#5F9A35" stroke-width="2.46" fill="none" stroke-linecap="round" stroke-linejoin="round"/>
<path d="M1128.08 2031.13 L1134.24 2029.9" stroke="#5F9A35" stroke-width="2.46" fill="none" stroke-linecap="round" stroke-linejoin="round"/>
<path d="M1128.08 2031.75 L1131.16 2037.29" stroke="#5F9A35" stroke-width="2.46" fill="none" stroke-linecap="round" stroke-linejoin="round"/>
<path d="M1093.6 2098.25 L1089.29 2092.71" stroke="#5F9A35" stroke-width="1.97" fill="none" stroke-linecap="round" stroke-linejoin="round"/>
<path d="M1096.67 2098.87 L1100.37 2094.56" stroke="#5F9A35" stroke-width="1.97" fill="none" stroke-linecap="round" stroke-linejoin="round"/>
<path d="M1062.81 2008.97 C1064.87 1991.37 1041.23 1981.03 1023.4 1991.72 C1027.64 2012.08 1051.29 2022.42 1062.81 2008.97Z" fill="#5F9A35" stroke="#4F8A2B" stroke-width="0.5"/>
<path d="M1062.81 2008.97 L1026.16 1992.93" stroke="#B5D69A" stroke-width="1.25" fill="none"/>
<path d="M1050.99 2003.79 Q1047.04 1998.69 1046.77 1995.19" stroke="#B5D69A" stroke-width="1.05" fill="none"/>
<path d="M1050.99 2003.79 Q1044.56 2004.36 1041.8 2006.53" stroke="#B5D69A" stroke-width="1.05" fill="none"/>
<path d="M1043.1 2000.34 Q1039.31 1994.91 1039.18 1991.08" stroke="#B5D69A" stroke-width="1.05" fill="none"/>
<path d="M1043.1 2000.34 Q1036.54 2001.25 1033.63 2003.75" stroke="#B5D69A" stroke-width="1.05" fill="none"/>
<path d="M1035.22 1996.9 Q1031.13 1992.13 1030.71 1988.96" stroke="#B5D69A" stroke-width="1.05" fill="none"/>
<path d="M1035.22 1996.9 Q1028.95 1997.13 1026.33 1998.97" stroke="#B5D69A" stroke-width="1.05" fill="none"/>
<path d="M1073.89 2013.89 C1093.35 2015.5 1105.55 1987.05 1094.21 1966.48 C1071.5 1972.46 1059.31 2000.91 1073.89 2013.89Z" fill="#5F9A35" stroke="#4F8A2B" stroke-width="0.5"/>
<path d="M1073.89 2013.89 L1092.79 1969.8" stroke="#B5D69A" stroke-width="1.25" fill="none"/>
<path d="M1079.99 1999.67 Q1085.61 1995.13 1089.66 1994.27" stroke="#B5D69A" stroke-width="1.05" fill="none"/>
<path d="M1079.99 1999.67 Q1079.39 1992.47 1077.22 1988.94" stroke="#B5D69A" stroke-width="1.05" fill="none"/>
<path d="M1084.05 1990.18 Q1090.04 1985.81 1094.46 1985.1" stroke="#B5D69A" stroke-width="1.05" fill="none"/>
<path d="M1084.05 1990.18 Q1083.09 1982.83 1080.56 1979.15" stroke="#B5D69A" stroke-width="1.05" fill="none"/>
<path d="M1088.12 1980.7 Q1093.37 1976.01 1097.06 1974.99" stroke="#B5D69A" stroke-width="1.05" fill="none"/>
<path d="M1088.12 1980.7 Q1087.89 1973.66 1086.08 1970.29" stroke="#B5D69A" stroke-width="1.05" fill="none"/>
<path d="M1068.97 2020.05 C1046.81 2004.47 1017.25 2028.11 1019.7 2059.46 C1049.75 2068.73 1079.3 2045.09 1068.97 2020.05Z" fill="#5F9A35" stroke="#4F8A2B" stroke-width="0.5"/>
<path d="M1068.97 2020.05 L1023.15 2056.7" stroke="#B5D69A" stroke-width="1.25" fill="none"/>
<path d="M1054.19 2031.87 Q1045.47 2032.76 1039.88 2031.15" stroke="#B5D69A" stroke-width="1.05" fill="none"/>
<path d="M1054.19 2031.87 Q1051.41 2040.18 1051.75 2045.99" stroke="#B5D69A" stroke-width="1.05" fill="none"/>
<path d="M1044.33 2039.75 Q1035.27 2040.21 1029.33 2038.16" stroke="#B5D69A" stroke-width="1.05" fill="none"/>
<path d="M1044.33 2039.75 Q1041.9 2048.5 1042.59 2054.74" stroke="#B5D69A" stroke-width="1.05" fill="none"/>
<path d="M1034.48 2047.64 Q1026.12 2048.96 1020.87 2047.79" stroke="#B5D69A" stroke-width="1.05" fill="none"/>
<path d="M1034.48 2047.64 Q1031.35 2055.51 1031.34 2060.88" stroke="#B5D69A" stroke-width="1.05" fill="none"/>
<path d="M1128.08 2027.44 C1142.9 2021.57 1142.16 1994.23 1126.85 1981.87 C1112.22 1995.04 1112.96 2022.38 1128.08 2027.44Z" fill="#5F9A35" stroke="#4F8A2B" stroke-width="0.5"/>
<path d="M1128.08 2027.44 L1126.93 1985.06" stroke="#B5D69A" stroke-width="1.25" fill="none"/>
<path d="M1127.71 2013.77 Q1130.28 2007.82 1132.97 2005.87" stroke="#B5D69A" stroke-width="1.05" fill="none"/>
<path d="M1127.71 2013.77 Q1124.82 2007.97 1122.03 2006.17" stroke="#B5D69A" stroke-width="1.05" fill="none"/>
<path d="M1127.46 2004.66 Q1130.36 1998.7 1133.36 1996.74" stroke="#B5D69A" stroke-width="1.05" fill="none"/>
<path d="M1127.46 2004.66 Q1124.25 1998.87 1121.14 1997.07" stroke="#B5D69A" stroke-width="1.05" fill="none"/>
<path d="M1127.22 1995.54 Q1129.47 1989.6 1131.83 1987.67" stroke="#B5D69A" stroke-width="1.05" fill="none"/>
<path d="M1127.22 1995.54 Q1124.65 1989.73 1122.18 1987.93" stroke="#B5D69A" stroke-width="1.05" fill="none"/>
<path d="M1133.62 2029.9 C1139.98 2043.76 1162.15 2040.81 1170.57 2024.98 C1158.29 2011.9 1136.13 2014.86 1133.62 2029.9Z" fill="#5F9A35" stroke="#4F8A2B" stroke-width="0.5"/>
<path d="M1133.62 2029.9 L1167.98 2025.32" stroke="#B5D69A" stroke-width="1.25" fill="none"/>
<path d="M1144.7 2028.42 Q1150.18 2030.38 1151.69 2032.87" stroke="#B5D69A" stroke-width="1.05" fill="none"/>
<path d="M1144.7 2028.42 Q1149.48 2025.1 1150.28 2022.31" stroke="#B5D69A" stroke-width="1.05" fill="none"/>
<path d="M1152.09 2027.44 Q1157.61 2029.71 1159.16 2032.5" stroke="#B5D69A" stroke-width="1.05" fill="none"/>
<path d="M1152.09 2027.44 Q1156.82 2023.81 1157.59 2020.7" stroke="#B5D69A" stroke-width="1.05" fill="none"/>
<path d="M1159.48 2026.45 Q1164.92 2028.1 1166.38 2030.27" stroke="#B5D69A" stroke-width="1.05" fill="none"/>
<path d="M1159.48 2026.45 Q1164.3 2023.44 1165.14 2020.96" stroke="#B5D69A" stroke-width="1.05" fill="none"/>
<path d="M1130.54 2037.29 C1117.84 2052.56 1134.1 2078.05 1157.64 2079.78 C1166 2057.71 1149.74 2032.22 1130.54 2037.29Z" fill="#5F9A35" stroke="#4F8A2B" stroke-width="0.5"/>
<path d="M1130.54 2037.29 L1155.74 2076.8" stroke="#B5D69A" stroke-width="1.25" fill="none"/>
<path d="M1138.67 2050.04 Q1139.14 2057.19 1137.45 2060.97" stroke="#B5D69A" stroke-width="1.05" fill="none"/>
<path d="M1138.67 2050.04 Q1144.96 2053.48 1149.1 2053.55" stroke="#B5D69A" stroke-width="1.05" fill="none"/>
<path d="M1144.09 2058.53 Q1144.21 2065.91 1142.18 2069.91" stroke="#B5D69A" stroke-width="1.05" fill="none"/>
<path d="M1144.09 2058.53 Q1150.72 2061.76 1155.21 2061.61" stroke="#B5D69A" stroke-width="1.05" fill="none"/>
<path d="M1149.51 2067.03 Q1150.32 2073.97 1148.97 2077.53" stroke="#B5D69A" stroke-width="1.05" fill="none"/>
<path d="M1149.51 2067.03 Q1155.46 2070.69 1159.25 2070.98" stroke="#B5D69A" stroke-width="1.05" fill="none"/>
<path d="M1089.29 2092.71 C1092.18 2075.1 1067.43 2062.17 1048.03 2071.16 C1051.74 2092.21 1076.49 2105.14 1089.29 2092.71Z" fill="#5F9A35" stroke="#4F8A2B" stroke-width="0.5"/>
<path d="M1089.29 2092.71 L1050.92 2072.67" stroke="#B5D69A" stroke-width="1.25" fill="none"/>
<path d="M1076.91 2086.24 Q1073.06 2080.74 1072.76 2077.09" stroke="#B5D69A" stroke-width="1.05" fill="none"/>
<path d="M1076.91 2086.24 Q1070.2 2086.23 1067.03 2088.07" stroke="#B5D69A" stroke-width="1.05" fill="none"/>
<path d="M1068.66 2081.93 Q1064.98 2076.11 1064.85 2072.14" stroke="#B5D69A" stroke-width="1.05" fill="none"/>
<path d="M1068.66 2081.93 Q1061.78 2082.24 1058.44 2084.4" stroke="#B5D69A" stroke-width="1.05" fill="none"/>
<path d="M1060.41 2077.62 Q1056.39 2072.45 1055.92 2069.12" stroke="#B5D69A" stroke-width="1.05" fill="none"/>
<path d="M1060.41 2077.62 Q1053.86 2077.29 1050.86 2078.8" stroke="#B5D69A" stroke-width="1.05" fill="none"/>
<path d="M1100.37 2094.56 C1102.15 2108.49 1122.84 2112.18 1134.85 2100.71 C1127.55 2085.8 1106.86 2082.11 1100.37 2094.56Z" fill="#5F9A35" stroke="#4F8A2B" stroke-width="0.5"/>
<path d="M1100.37 2094.56 L1132.44 2100.28" stroke="#B5D69A" stroke-width="1.25" fill="none"/>
<path d="M1110.71 2096.4 Q1115.18 2099.69 1115.72 2102.27" stroke="#B5D69A" stroke-width="1.05" fill="none"/>
<path d="M1110.71 2096.4 Q1116.04 2094.87 1117.44 2092.63" stroke="#B5D69A" stroke-width="1.05" fill="none"/>
<path d="M1117.61 2097.64 Q1122.03 2101.2 1122.51 2104.07" stroke="#B5D69A" stroke-width="1.05" fill="none"/>
<path d="M1117.61 2097.64 Q1122.99 2095.82 1124.43 2093.3" stroke="#B5D69A" stroke-width="1.05" fill="none"/>
<path d="M1124.51 2098.87 Q1129.03 2101.87 1129.61 2104.16" stroke="#B5D69A" stroke-width="1.05" fill="none"/>
<path d="M1124.51 2098.87 Q1129.79 2097.62 1131.13 2095.66" stroke="#B5D69A" stroke-width="1.05" fill="none"/>
<path d="M1115.76 1968.57 C1120.5 1963.84 1115.7 1953.72 1107.76 1951.7 C1104.3 1959.13 1109.11 1969.25 1115.76 1968.57Z" fill="#5F9A35" stroke="#4F8A2B" stroke-width="0.5"/>
<path d="M1116.38 1968.08 C1122.5 1970.91 1131 1962.56 1130.54 1954.16 C1122.16 1953.56 1113.66 1961.91 1116.38 1968.08Z" fill="#5F9A35" stroke="#4F8A2B" stroke-width="0.5"/>
<path d="M1115.76 1970.79 C1116.58 1977.1 1128.03 1980.06 1134.85 1975.71 C1130.98 1968.61 1119.53 1965.66 1115.76 1970.79Z" fill="#5F9A35" stroke="#4F8A2B" stroke-width="0.5"/>
<ellipse cx="1072.04" cy="2124.36" rx="15.64" ry="6.77" fill="#5F9A35" transform="rotate(-8 1072.04 2124.36)" />
<ellipse cx="1106.53" cy="2129.41" rx="15.02" ry="7.14" fill="#5F9A35" transform="rotate(32 1106.53 2129.41)" />
</g>
<g transform="translate(1040 2036.5)" fill="none" stroke="#000" stroke-linecap="round"><path d="M-7.5 -16.5 C-17 -11 -17 -1.5 -4 -1 L4 -1 C17 -1.5 17 -11 6.5 -17.5" stroke-width="4.0"/><path d="M-7.5 -16.5 C-13 -12 -13 -5 -6 -3.5 M6.5 -17.5 C13 -12 12 -5 6 -3.5" stroke-width="2.2"/><path d="M0 0 L0 15" stroke-width="8.2" stroke-linecap="butt"/><path d="M-2 15 L-2 16.5 M2 15 L2 16.5" stroke-width="3.6"/></g>
<g transform="translate(1055.58 2239.89) rotate(-10) scale(-1 1)"><rect x="-7.2" y="-2.6" width="14.4" height="5.2" rx="0.8" fill="#E8101C" stroke="#2B3F98" stroke-width="1"/><path d="M7.2 0.5 q2.5 2.5 5 0.5 t5 -1.5" fill="none" stroke="#22348C" stroke-width="1.4"/></g>
<g transform="translate(1086.35 2246.17) rotate(-27) scale(-1 1)"><rect x="-7.2" y="-2.6" width="14.4" height="5.2" rx="0.8" fill="#E8101C" stroke="#2B3F98" stroke-width="1"/><path d="M7.2 0.5 q2.5 2.5 5 0.5 t5 -1.5" fill="none" stroke="#22348C" stroke-width="1.4"/></g>
<g transform="translate(1143.82 2222.93) rotate(12) scale(1 1)"><rect x="-7.2" y="-2.6" width="14.4" height="5.2" rx="0.8" fill="#E8101C" stroke="#2B3F98" stroke-width="1"/><path d="M7.2 0.5 q2.5 2.5 5 0.5 t5 -1.5" fill="none" stroke="#22348C" stroke-width="1.4"/></g>
<g transform="translate(1130.95 2288.88) rotate(48) scale(1 1)"><rect x="-7.2" y="-2.6" width="14.4" height="5.2" rx="0.8" fill="#E8101C" stroke="#2B3F98" stroke-width="1"/><path d="M7.2 0.5 q2.5 2.5 5 0.5 t5 -1.5" fill="none" stroke="#22348C" stroke-width="1.4"/></g>
<circle cx="1086.35" cy="2316.83" r="17.3" fill="#00A651" />
<text x="1086.35" y="2325.61" font-size="21.8" text-anchor="middle">CK</text>
<ellipse cx="1021.03" cy="2374.61" rx="50.3" ry="22.6" fill="#DDA7D3" />
<ellipse cx="949.12" cy="2426.43" rx="50.3" ry="23.5" fill="#74DAFF" />
<ellipse cx="1113.99" cy="2420.78" rx="50.3" ry="24.5" fill="#74DAFF" />
<path d="M863.39 2475.49 L865.39 2476.81 L867.4 2478.23 L869.41 2479.71 L871.41 2481.21 L873.42 2482.69 L875.42 2484.11 L877.43 2485.43 L879.44 2486.62 L881.44 2487.64 L883.45 2488.48 L885.46 2489.1 L887.46 2489.49 L889.47 2489.64 L891.48 2489.55 L893.48 2489.21 L895.49 2488.65 L897.49 2487.86 L899.5 2486.88 L901.51 2485.73 L903.51 2484.44 L905.52 2483.04 L907.53 2481.57 L909.53 2480.07 L911.54 2478.58 L913.55 2477.15 L915.55 2475.8 L917.56 2474.57 L919.56 2473.5 L921.57 2472.61 L923.58 2471.93 L925.58 2471.48 L927.59 2471.26 L929.6 2471.29 L931.6 2471.56 L933.61 2472.07 L935.62 2472.8 L937.62 2473.73 L939.63 2474.84 L941.63 2476.1 L943.64 2477.47 L945.65 2478.93 L947.65 2480.42 L949.66 2481.91 L951.67 2483.37 L953.67 2484.75 L955.68 2486.01 L957.69 2487.12 L959.69 2488.06 L961.7 2488.8 L963.7 2489.31 L965.71 2489.59 L967.72 2489.63 L969.72 2489.42 L971.73 2488.97 L973.74 2488.3 L975.74 2487.42 L977.75 2486.36 L979.76 2485.13 L981.76 2483.79 L983.77 2482.35 L985.77 2480.86 L987.78 2479.37 L989.79 2477.9 L991.79 2476.49 L993.8 2475.2 L995.81 2474.04 L997.81 2473.05 L999.82 2472.26 L1001.83 2471.69 L1003.83 2471.34 L1005.84 2471.24 L1007.84 2471.39 L1009.85 2471.77 L1011.86 2472.39 L1013.86 2473.21 L1015.87 2474.23 L1017.88 2475.42 L1019.88 2476.74 L1021.89 2478.15 L1023.9 2479.63 L1025.9 2481.13 L1027.91 2482.61 L1029.91 2484.03 L1031.92 2485.36 L1033.93 2486.56 L1035.93 2487.59 L1037.94 2488.44 L1039.95 2489.07 L1041.95 2489.47 L1043.96 2489.64 L1045.97 2489.56 L1047.97 2489.24 L1049.98 2488.68 L1051.98 2487.91 L1053.99 2486.94 L1056 2485.8 L1058 2484.51 L1060.01 2483.12 L1062.02 2481.65 L1064.02 2480.15 L1066.03 2478.67 L1068.04 2477.22 L1070.04 2475.87 L1072.05 2474.63 L1074.05 2473.55 L1076.06 2472.65 L1078.07 2471.96 L1080.07 2471.5 L1082.08 2471.27 L1084.09 2471.28 L1086.09 2471.54 L1088.1 2472.03 L1090.11 2472.75 L1092.11 2473.67 L1094.12 2474.77 L1096.12 2476.03 L1098.13 2477.39 L1100.14 2478.84 L1102.14 2480.34 L1104.15 2481.83 L1106.16 2483.29 L1108.16 2484.67 L1110.17 2485.94 L1112.18 2487.07 L1114.18 2488.02 L1116.19 2488.76 L1118.19 2489.29 L1120.2 2489.58 L1122.21 2489.63 L1124.21 2489.44 L1126.22 2489.01 L1128.23 2488.35 L1130.23 2487.48 L1132.24 2486.42 L1134.25 2485.2 L1136.25 2483.86 L1138.26 2482.43 L1140.26 2480.95 L1142.27 2479.45 L1144.28 2477.98 L1146.28 2476.57 L1148.29 2475.27 L1150.3 2474.1 L1152.3 2473.1 L1154.31 2472.3 L1156.32 2471.71 L1158.32 2471.36 L1160.33 2471.24 L1162.33 2471.37 L1164.34 2471.74 L1166.35 2472.35 L1168.35 2473.16 L1170.36 2474.17 L1172.37 2475.35 L1174.37 2476.66 L1176.38 2478.07 L1178.39 2479.55 L1180.39 2481.05 L1182.4 2482.53 L1184.4 2483.95 L1186.41 2485.29 L1188.42 2486.49" stroke="#5A5A5A" stroke-width="2.9" fill="none"/>
<path d="M863.39 2485.4 L865.39 2484.08 L867.4 2482.66 L869.41 2481.18 L871.41 2479.68 L873.42 2478.2 L875.42 2476.78 L877.43 2475.46 L879.44 2474.27 L881.44 2473.24 L883.45 2472.41 L885.46 2471.79 L887.46 2471.4 L889.47 2471.25 L891.48 2471.34 L893.48 2471.67 L895.49 2472.24 L897.49 2473.02 L899.5 2474.01 L901.51 2475.16 L903.51 2476.45 L905.52 2477.85 L907.53 2479.32 L909.53 2480.81 L911.54 2482.3 L913.55 2483.74 L915.55 2485.09 L917.56 2486.32 L919.56 2487.39 L921.57 2488.28 L923.58 2488.96 L925.58 2489.41 L927.59 2489.63 L929.6 2489.6 L931.6 2489.33 L933.61 2488.82 L935.62 2488.09 L937.62 2487.16 L939.63 2486.05 L941.63 2484.79 L943.64 2483.41 L945.65 2481.96 L947.65 2480.47 L949.66 2478.97 L951.67 2477.52 L953.67 2476.14 L955.68 2474.88 L957.69 2473.76 L959.69 2472.82 L961.7 2472.09 L963.7 2471.57 L965.71 2471.29 L967.72 2471.26 L969.72 2471.47 L971.73 2471.91 L973.74 2472.58 L975.74 2473.46 L977.75 2474.53 L979.76 2475.75 L981.76 2477.1 L983.77 2478.54 L985.77 2480.02 L987.78 2481.52 L989.79 2482.99 L991.79 2484.39 L993.8 2485.69 L995.81 2486.85 L997.81 2487.83 L999.82 2488.63 L1001.83 2489.2 L1003.83 2489.54 L1005.84 2489.64 L1007.84 2489.5 L1009.85 2489.12 L1011.86 2488.5 L1013.86 2487.67 L1015.87 2486.65 L1017.88 2485.47 L1019.88 2484.15 L1021.89 2482.74 L1023.9 2481.26 L1025.9 2479.76 L1027.91 2478.28 L1029.91 2476.86 L1031.92 2475.53 L1033.93 2474.33 L1035.93 2473.3 L1037.94 2472.45 L1039.95 2471.82 L1041.95 2471.41 L1043.96 2471.25 L1045.97 2471.33 L1047.97 2471.65 L1049.98 2472.2 L1051.98 2472.98 L1053.99 2473.95 L1056 2475.09 L1058 2476.38 L1060.01 2477.77 L1062.02 2479.24 L1064.02 2480.73 L1066.03 2482.22 L1068.04 2483.66 L1070.04 2485.02 L1072.05 2486.25 L1074.05 2487.34 L1076.06 2488.23 L1078.07 2488.92 L1080.07 2489.39 L1082.08 2489.62 L1084.09 2489.6 L1086.09 2489.35 L1088.1 2488.85 L1090.11 2488.14 L1092.11 2487.21 L1094.12 2486.11 L1096.12 2484.86 L1098.13 2483.49 L1100.14 2482.04 L1102.14 2480.55 L1104.15 2479.06 L1106.16 2477.6 L1108.16 2476.21 L1110.17 2474.94 L1112.18 2473.82 L1114.18 2472.87 L1116.19 2472.12 L1118.19 2471.6 L1120.2 2471.3 L1122.21 2471.25 L1124.21 2471.45 L1126.22 2471.88 L1128.23 2472.54 L1130.23 2473.41 L1132.24 2474.47 L1134.25 2475.68 L1136.25 2477.02 L1138.26 2478.46 L1140.26 2479.94 L1142.27 2481.44 L1144.28 2482.91 L1146.28 2484.32 L1148.29 2485.62 L1150.3 2486.79 L1152.3 2487.78 L1154.31 2488.59 L1156.32 2489.17 L1158.32 2489.53 L1160.33 2489.64 L1162.33 2489.51 L1164.34 2489.14 L1166.35 2488.54 L1168.35 2487.72 L1170.36 2486.71 L1172.37 2485.54 L1174.37 2484.23 L1176.38 2482.81 L1178.39 2481.34 L1180.39 2479.84 L1182.4 2478.36 L1184.4 2476.93 L1186.41 2475.6 L1188.42 2474.39" stroke="#5A5A5A" stroke-width="2.9" fill="none"/>
<ellipse cx="963.88" cy="2458.46" rx="50.3" ry="24.5" fill="#FFD03E" />
<ellipse cx="1081.64" cy="2457.2" rx="50.3" ry="24.5" fill="#FFD03E" />
<text x="1022.6" y="2384.33" font-size="21.8" text-anchor="middle">GmRR11d</text>
<text x="949.12" y="2435.52" font-size="21.8" text-anchor="middle">GmNSP2s</text>
<text x="1114.93" y="2430.18" font-size="21.8" text-anchor="middle">GmNSP2s</text>
<text x="965.76" y="2469.12" font-size="21.8" text-anchor="middle">GmNSP1s</text>
<text x="1082.27" y="2467.24" font-size="21.8" text-anchor="middle">GmNSP1s</text>
<text x="847.06" y="1943.42" font-size="21.8">Early stage</text>
<text x="914.26" y="2031.35" font-size="21.8">GmNARK</text>
<text x="1207.26" y="2488.91" font-size="21.8"><tspan font-style="italic">GmNINs</tspan></text>
<path d="M1163.29 2474.48 L1163.29 2449.98 L1188.42 2449.98" stroke="#000" stroke-width="2.6" fill="none"/>
<path d="M1200.35 2449.98 L1187.35 2455.73 L1187.35 2444.23Z" fill="#000"/>
<path d="M1047.1 2250.57 C1041.08 2254.23 1022.24 2263.13 1010.99 2272.55 C999.73 2281.97 988.48 2295.06 979.58 2307.09 C970.68 2319.13 963.62 2332.74 957.6 2344.78 C951.58 2356.82 946.5 2371.73 943.47 2379.32 C940.43 2386.91 940.06 2388.48 939.38 2390.31" stroke="#000" stroke-width="3.5" fill="none" stroke-linecap="butt"/>
<path d="M936.56 2399.74 L933.01 2383.88 L945.32 2386.05Z" fill="#000"/>
<path d="M1243.37 2465.68 C1242.33 2457.05 1240.23 2432.97 1237.09 2413.87 C1233.95 2394.76 1230.29 2369.38 1224.53 2351.06 C1218.77 2332.74 1211.45 2317.04 1202.55 2303.95 C1193.65 2290.87 1182.14 2280.66 1171.15 2272.55 C1160.15 2264.44 1146.55 2259.2 1136.6 2255.28 C1126.66 2251.35 1115.67 2250.04 1111.48 2249" stroke="#000" stroke-width="3.5" fill="none" stroke-linecap="butt"/>
<path d="M1101.43 2246.8 L1117.4 2243.8 L1114.8 2256.03Z" fill="#000"/>
<use href="#plant" x="488.3" y="-0.2"/>
<g transform="translate(1523.69 2029.64)"><ellipse cx="0" cy="0" rx="10.2" ry="6.6" fill="none" stroke="#000" stroke-width="3.0"/><ellipse cx="0" cy="0" rx="6.6" ry="5.6" fill="#000"/><path d="M0 4 L0 22.5" stroke="#000" stroke-width="9.2"/><path d="M-2.4 22 L-2.4 24.3 M2.4 22 L2.4 24.3" stroke="#000" stroke-width="4.2" stroke-linecap="round"/><circle cx="0.2" cy="0.2" r="3.8" fill="#FF1A10"/></g>
<g transform="translate(1638.61 2029.64)"><ellipse cx="0" cy="0" rx="10.2" ry="6.6" fill="none" stroke="#000" stroke-width="3.0"/><ellipse cx="0" cy="0" rx="6.6" ry="5.6" fill="#000"/><path d="M0 4 L0 22.5" stroke="#000" stroke-width="9.2"/><path d="M-2.4 22 L-2.4 24.3 M2.4 22 L2.4 24.3" stroke="#000" stroke-width="4.2" stroke-linecap="round"/><circle cx="0.2" cy="0.2" r="3.8" fill="#FF1A10"/></g>
<g transform="translate(1567.94 2212.77) rotate(-8) scale(-1 1)"><rect x="-7.2" y="-2.6" width="14.4" height="5.2" rx="0.8" fill="#E8101C" stroke="#2B3F98" stroke-width="1"/><path d="M7.2 0.5 q2.5 2.5 5 0.5 t5 -1.5" fill="none" stroke="#22348C" stroke-width="1.4"/></g>
<g transform="translate(1508.94 2260.09) rotate(-12) scale(-1 1)"><rect x="-7.2" y="-2.6" width="14.4" height="5.2" rx="0.8" fill="#E8101C" stroke="#2B3F98" stroke-width="1"/><path d="M7.2 0.5 q2.5 2.5 5 0.5 t5 -1.5" fill="none" stroke="#22348C" stroke-width="1.4"/></g>
<g transform="translate(1573.47 2250.87) rotate(-27) scale(-1 1)"><rect x="-7.2" y="-2.6" width="14.4" height="5.2" rx="0.8" fill="#E8101C" stroke="#2B3F98" stroke-width="1"/><path d="M7.2 0.5 q2.5 2.5 5 0.5 t5 -1.5" fill="none" stroke="#22348C" stroke-width="1.4"/></g>
<g transform="translate(1645.67 2252.71) rotate(10) scale(1 1)"><rect x="-7.2" y="-2.6" width="14.4" height="5.2" rx="0.8" fill="#E8101C" stroke="#2B3F98" stroke-width="1"/><path d="M7.2 0.5 q2.5 2.5 5 0.5 t5 -1.5" fill="none" stroke="#22348C" stroke-width="1.4"/></g>
<circle cx="1535.06" cy="2234.89" r="17.3" fill="#00A651" />
<circle cx="1625.7" cy="2221.07" r="17.3" fill="#00A651" />
<circle cx="1572.85" cy="2316.32" r="17.3" fill="#00A651" />
<path d="M1717.88 2462.27 C1717.11 2454.84 1715.83 2433.85 1713.27 2417.72 C1710.71 2401.58 1707.38 2381.87 1702.52 2365.48 C1697.65 2349.09 1691.76 2333.22 1684.08 2319.39 C1676.4 2305.56 1666.16 2292.25 1656.43 2282.52 C1646.7 2272.79 1635.18 2266.23 1625.7 2261.01 C1616.23 2255.79 1603.94 2252.82 1599.58 2251.18" stroke="#ADADAD" stroke-width="2.7" fill="none" stroke-linecap="butt"/>
<path d="M1588.83 2248.72 L1604.85 2246 L1602.04 2258.18Z" fill="#ADADAD"/>
<text x="1535.98" y="2245.79" font-size="21.8" text-anchor="middle">CK</text>
<text x="1626.32" y="2231.04" font-size="21.8" text-anchor="middle">CK</text>
<text x="1574.08" y="2326.3" font-size="21.8" text-anchor="middle">CK</text>
<path d="M1349.16 2475.64 L1351.16 2476.96 L1353.17 2478.38 L1355.17 2479.86 L1357.17 2481.35 L1359.17 2482.83 L1361.17 2484.24 L1363.18 2485.57 L1365.18 2486.75 L1367.18 2487.78 L1369.18 2488.62 L1371.18 2489.24 L1373.19 2489.64 L1375.19 2489.8 L1377.19 2489.71 L1379.19 2489.39 L1381.19 2488.83 L1383.2 2488.05 L1385.2 2487.08 L1387.2 2485.94 L1389.2 2484.65 L1391.2 2483.26 L1393.21 2481.8 L1395.21 2480.3 L1397.21 2478.82 L1399.21 2477.38 L1401.21 2476.03 L1403.21 2474.79 L1405.22 2473.71 L1407.22 2472.82 L1409.22 2472.12 L1411.22 2471.66 L1413.22 2471.43 L1415.23 2471.44 L1417.23 2471.69 L1419.23 2472.18 L1421.23 2472.89 L1423.23 2473.8 L1425.24 2474.9 L1427.24 2476.14 L1429.24 2477.5 L1431.24 2478.95 L1433.24 2480.44 L1435.25 2481.93 L1437.25 2483.39 L1439.25 2484.77 L1441.25 2486.04 L1443.25 2487.17 L1445.26 2488.13 L1447.26 2488.89 L1449.26 2489.42 L1451.26 2489.73 L1453.26 2489.79 L1455.27 2489.61 L1457.27 2489.2 L1459.27 2488.55 L1461.27 2487.7 L1463.27 2486.66 L1465.28 2485.45 L1467.28 2484.12 L1469.28 2482.7 L1471.28 2481.22 L1473.28 2479.73 L1475.28 2478.25 L1477.29 2476.84 L1479.29 2475.53 L1481.29 2474.36 L1483.29 2473.34 L1485.29 2472.52 L1487.3 2471.92 L1489.3 2471.54 L1491.3 2471.4 L1493.3 2471.51 L1495.3 2471.85 L1497.31 2472.43 L1499.31 2473.22 L1501.31 2474.21 L1503.31 2475.36 L1505.31 2476.66 L1507.32 2478.06 L1509.32 2479.52 L1511.32 2481.02 L1513.32 2482.5 L1515.32 2483.93 L1517.33 2485.28 L1519.33 2486.5 L1521.33 2487.57 L1523.33 2488.45 L1525.33 2489.12 L1527.34 2489.57 L1529.34 2489.78 L1531.34 2489.75 L1533.34 2489.48 L1535.34 2488.97 L1537.35 2488.25 L1539.35 2487.31 L1541.35 2486.21 L1543.35 2484.95 L1545.35 2483.58 L1547.35 2482.13 L1549.36 2480.64 L1551.36 2479.15 L1553.36 2477.7 L1555.36 2476.32 L1557.36 2475.06 L1559.37 2473.94 L1561.37 2473 L1563.37 2472.26 L1565.37 2471.74 L1567.37 2471.46 L1569.38 2471.41 L1571.38 2471.61 L1573.38 2472.05 L1575.38 2472.71 L1577.38 2473.58 L1579.39 2474.64 L1581.39 2475.85 L1583.39 2477.19 L1585.39 2478.62 L1587.39 2480.1 L1589.4 2481.59 L1591.4 2483.06 L1593.4 2484.47 L1595.4 2485.77 L1597.4 2486.93 L1599.41 2487.93 L1601.41 2488.73 L1603.41 2489.32 L1605.41 2489.68 L1607.41 2489.8 L1609.41 2489.68 L1611.42 2489.31 L1613.42 2488.72 L1615.42 2487.91 L1617.42 2486.91 L1619.42 2485.74 L1621.43 2484.43 L1623.43 2483.03 L1625.43 2481.56 L1627.43 2480.06 L1629.43 2478.58 L1631.44 2477.15 L1633.44 2475.82 L1635.44 2474.61 L1637.44 2473.56 L1639.44 2472.69 L1641.45 2472.03 L1643.45 2471.6 L1645.45 2471.41 L1647.45 2471.46 L1649.45 2471.75 L1651.46 2472.28 L1653.46 2473.02 L1655.46 2473.97 L1657.46 2475.09 L1659.46 2476.36 L1661.47 2477.73 L1663.47 2479.19 L1665.47 2480.68 L1667.47 2482.17 L1669.47 2483.62 L1671.48 2484.99 L1673.48 2486.24 L1675.48 2487.34" stroke="#5A5A5A" stroke-width="2.9" fill="none"/>
<path d="M1349.16 2485.56 L1351.16 2484.24 L1353.17 2482.82 L1355.17 2481.34 L1357.17 2479.85 L1359.17 2478.37 L1361.17 2476.96 L1363.18 2475.63 L1365.18 2474.45 L1367.18 2473.42 L1369.18 2472.58 L1371.18 2471.96 L1373.19 2471.56 L1375.19 2471.4 L1377.19 2471.49 L1379.19 2471.81 L1381.19 2472.37 L1383.2 2473.15 L1385.2 2474.12 L1387.2 2475.26 L1389.2 2476.55 L1391.2 2477.94 L1393.21 2479.4 L1395.21 2480.9 L1397.21 2482.38 L1399.21 2483.82 L1401.21 2485.17 L1403.21 2486.41 L1405.22 2487.49 L1407.22 2488.38 L1409.22 2489.08 L1411.22 2489.54 L1413.22 2489.77 L1415.23 2489.76 L1417.23 2489.51 L1419.23 2489.02 L1421.23 2488.31 L1423.23 2487.4 L1425.24 2486.3 L1427.24 2485.06 L1429.24 2483.7 L1431.24 2482.25 L1433.24 2480.76 L1435.25 2479.27 L1437.25 2477.81 L1439.25 2476.43 L1441.25 2475.16 L1443.25 2474.03 L1445.26 2473.07 L1447.26 2472.31 L1449.26 2471.78 L1451.26 2471.47 L1453.26 2471.41 L1455.27 2471.59 L1457.27 2472 L1459.27 2472.65 L1461.27 2473.5 L1463.27 2474.54 L1465.28 2475.75 L1467.28 2477.08 L1469.28 2478.5 L1471.28 2479.98 L1473.28 2481.47 L1475.28 2482.95 L1477.29 2484.36 L1479.29 2485.67 L1481.29 2486.84 L1483.29 2487.86 L1485.29 2488.68 L1487.3 2489.28 L1489.3 2489.66 L1491.3 2489.8 L1493.3 2489.69 L1495.3 2489.35 L1497.31 2488.77 L1499.31 2487.98 L1501.31 2486.99 L1503.31 2485.84 L1505.31 2484.54 L1507.32 2483.14 L1509.32 2481.68 L1511.32 2480.18 L1513.32 2478.7 L1515.32 2477.27 L1517.33 2475.92 L1519.33 2474.7 L1521.33 2473.63 L1523.33 2472.75 L1525.33 2472.08 L1527.34 2471.63 L1529.34 2471.42 L1531.34 2471.45 L1533.34 2471.72 L1535.34 2472.23 L1537.35 2472.95 L1539.35 2473.89 L1541.35 2474.99 L1543.35 2476.25 L1545.35 2477.62 L1547.35 2479.07 L1549.36 2480.56 L1551.36 2482.05 L1553.36 2483.5 L1555.36 2484.88 L1557.36 2486.14 L1559.37 2487.26 L1561.37 2488.2 L1563.37 2488.94 L1565.37 2489.46 L1567.37 2489.74 L1569.38 2489.79 L1571.38 2489.59 L1573.38 2489.15 L1575.38 2488.49 L1577.38 2487.62 L1579.39 2486.56 L1581.39 2485.35 L1583.39 2484.01 L1585.39 2482.58 L1587.39 2481.1 L1589.4 2479.61 L1591.4 2478.14 L1593.4 2476.73 L1595.4 2475.43 L1597.4 2474.27 L1599.41 2473.27 L1601.41 2472.47 L1603.41 2471.88 L1605.41 2471.52 L1607.41 2471.4 L1609.41 2471.52 L1611.42 2471.89 L1613.42 2472.48 L1615.42 2473.29 L1617.42 2474.29 L1619.42 2475.46 L1621.43 2476.77 L1623.43 2478.17 L1625.43 2479.64 L1627.43 2481.14 L1629.43 2482.62 L1631.44 2484.05 L1633.44 2485.38 L1635.44 2486.59 L1637.44 2487.64 L1639.44 2488.51 L1641.45 2489.17 L1643.45 2489.6 L1645.45 2489.79 L1647.45 2489.74 L1649.45 2489.45 L1651.46 2488.92 L1653.46 2488.18 L1655.46 2487.23 L1657.46 2486.11 L1659.46 2484.84 L1661.47 2483.47 L1663.47 2482.01 L1665.47 2480.52 L1667.47 2479.03 L1669.47 2477.58 L1671.48 2476.21 L1673.48 2474.96 L1675.48 2473.86" stroke="#5A5A5A" stroke-width="2.9" fill="none"/>
<ellipse cx="1496.65" cy="2394.67" rx="50.3" ry="22.6" fill="#DDA7D3" />
<ellipse cx="1643.52" cy="2386.37" rx="50.3" ry="25" fill="#74DAFF" />
<ellipse cx="1578.08" cy="2414.03" rx="50.3" ry="25" fill="#FFD03E" />
<ellipse cx="1416.76" cy="2456.12" rx="50.3" ry="22.6" fill="#DDA7D3" />
<ellipse cx="1512.01" cy="2456.12" rx="50.3" ry="22.6" fill="#DDA7D3" />
<text x="1498.19" y="2404.65" font-size="21.8" text-anchor="middle">GmRR11d</text>
<text x="1646.29" y="2396.66" font-size="21.8" text-anchor="middle">GmNSP2s</text>
<text x="1580.23" y="2424.31" font-size="21.8" text-anchor="middle">GmNSP1s</text>
<text x="1414.61" y="2466.72" font-size="21.8" text-anchor="middle">GmRR11d</text>
<text x="1514.16" y="2466.72" font-size="21.8" text-anchor="middle">GmRR11d</text>
<text x="1333.18" y="1943.44" font-size="21.8">Later stage</text>
<text x="1403.86" y="2031.01" font-size="21.8">GmNARK</text>
<text x="1382.96" y="2155.46" font-size="21.8">SDIs</text>
<text x="1697.29" y="2339.82" font-size="21.8">GmRIC1/2</text>
<text x="1693.92" y="2489.15" font-size="21.8"><tspan font-style="italic">GmNINs</tspan></text>
<circle cx="1743.08" cy="2354.73" r="9.6" fill="#FF7F7F" />
<circle cx="1769.5" cy="2350.12" r="9.6" fill="#FF7F7F" />
<circle cx="1735.7" cy="2377.77" r="9.6" fill="#FF7F7F" />
<circle cx="1759.98" cy="2375.31" r="9.6" fill="#FF7F7F" />
<path d="M1648.75 2473.64 L1648.75 2449.98 L1674.86 2449.98" stroke="#000" stroke-width="2.6" fill="none"/>
<path d="M1686.54 2449.98 L1673.54 2455.73 L1673.54 2444.23Z" fill="#000"/>
<path d="M1654.54 2442.86 L1667.54 2455.86 M1654.54 2455.86 L1667.54 2442.86" stroke="#000" stroke-width="4.6"/>
<path d="M1516.01 2041.31 C1511.76 2044.64 1498.85 2051.3 1490.5 2061.29 C1482.16 2071.27 1473.09 2085.36 1465.92 2101.23 C1458.75 2117.11 1452.61 2134.52 1447.49 2156.54 C1442.37 2178.56 1438.78 2205.19 1435.2 2233.36 C1431.61 2261.52 1428.44 2297.37 1425.98 2325.54 C1423.52 2353.7 1421.52 2386.73 1420.45 2402.35 C1419.37 2417.97 1419.68 2416.44 1419.53 2419.25" stroke="#000" stroke-width="3.5" fill="none" stroke-linecap="butt"/>
<path d="M1419.22 2430.62 L1413.23 2415.51 L1425.73 2415.73Z" fill="#000"/>
<path d="M1751.68 2310.17 C1750.91 2297.37 1749.63 2258.96 1747.07 2233.36 C1744.51 2207.75 1741.18 2178.56 1736.32 2156.54 C1731.45 2134.52 1725.56 2116.59 1717.88 2101.23 C1710.2 2085.87 1700.47 2074.09 1690.23 2064.36 C1679.99 2054.63 1662.06 2046.44 1656.43 2042.85" stroke="#000" stroke-width="3.5" fill="none" stroke-linecap="butt"/>
<path d="M1645.67 2038.86 L1661.91 2038.11 L1657.63 2049.86Z" fill="#000"/>
<line x1="1751.68" y1="2462.27" x2="1751.68" y2="2406.96" stroke="#000" stroke-width="3.5" />
<path d="M1751.68 2395.29 L1757.93 2410.29 L1745.43 2410.29Z" fill="#000"/>
<path d="M1555.03 2315.7 C1551.96 2316.83 1541.97 2318.78 1536.59 2322.46 C1531.22 2326.15 1525.74 2331.94 1522.77 2337.83 C1519.8 2343.72 1519.44 2354.47 1518.77 2357.8" stroke="#000" stroke-width="3.5" fill="none" stroke-linecap="butt"/>
<path d="M1516.93 2369.47 L1512.55 2353.82 L1524.96 2355.35Z" fill="#000"/>
</svg>
</body></html>
